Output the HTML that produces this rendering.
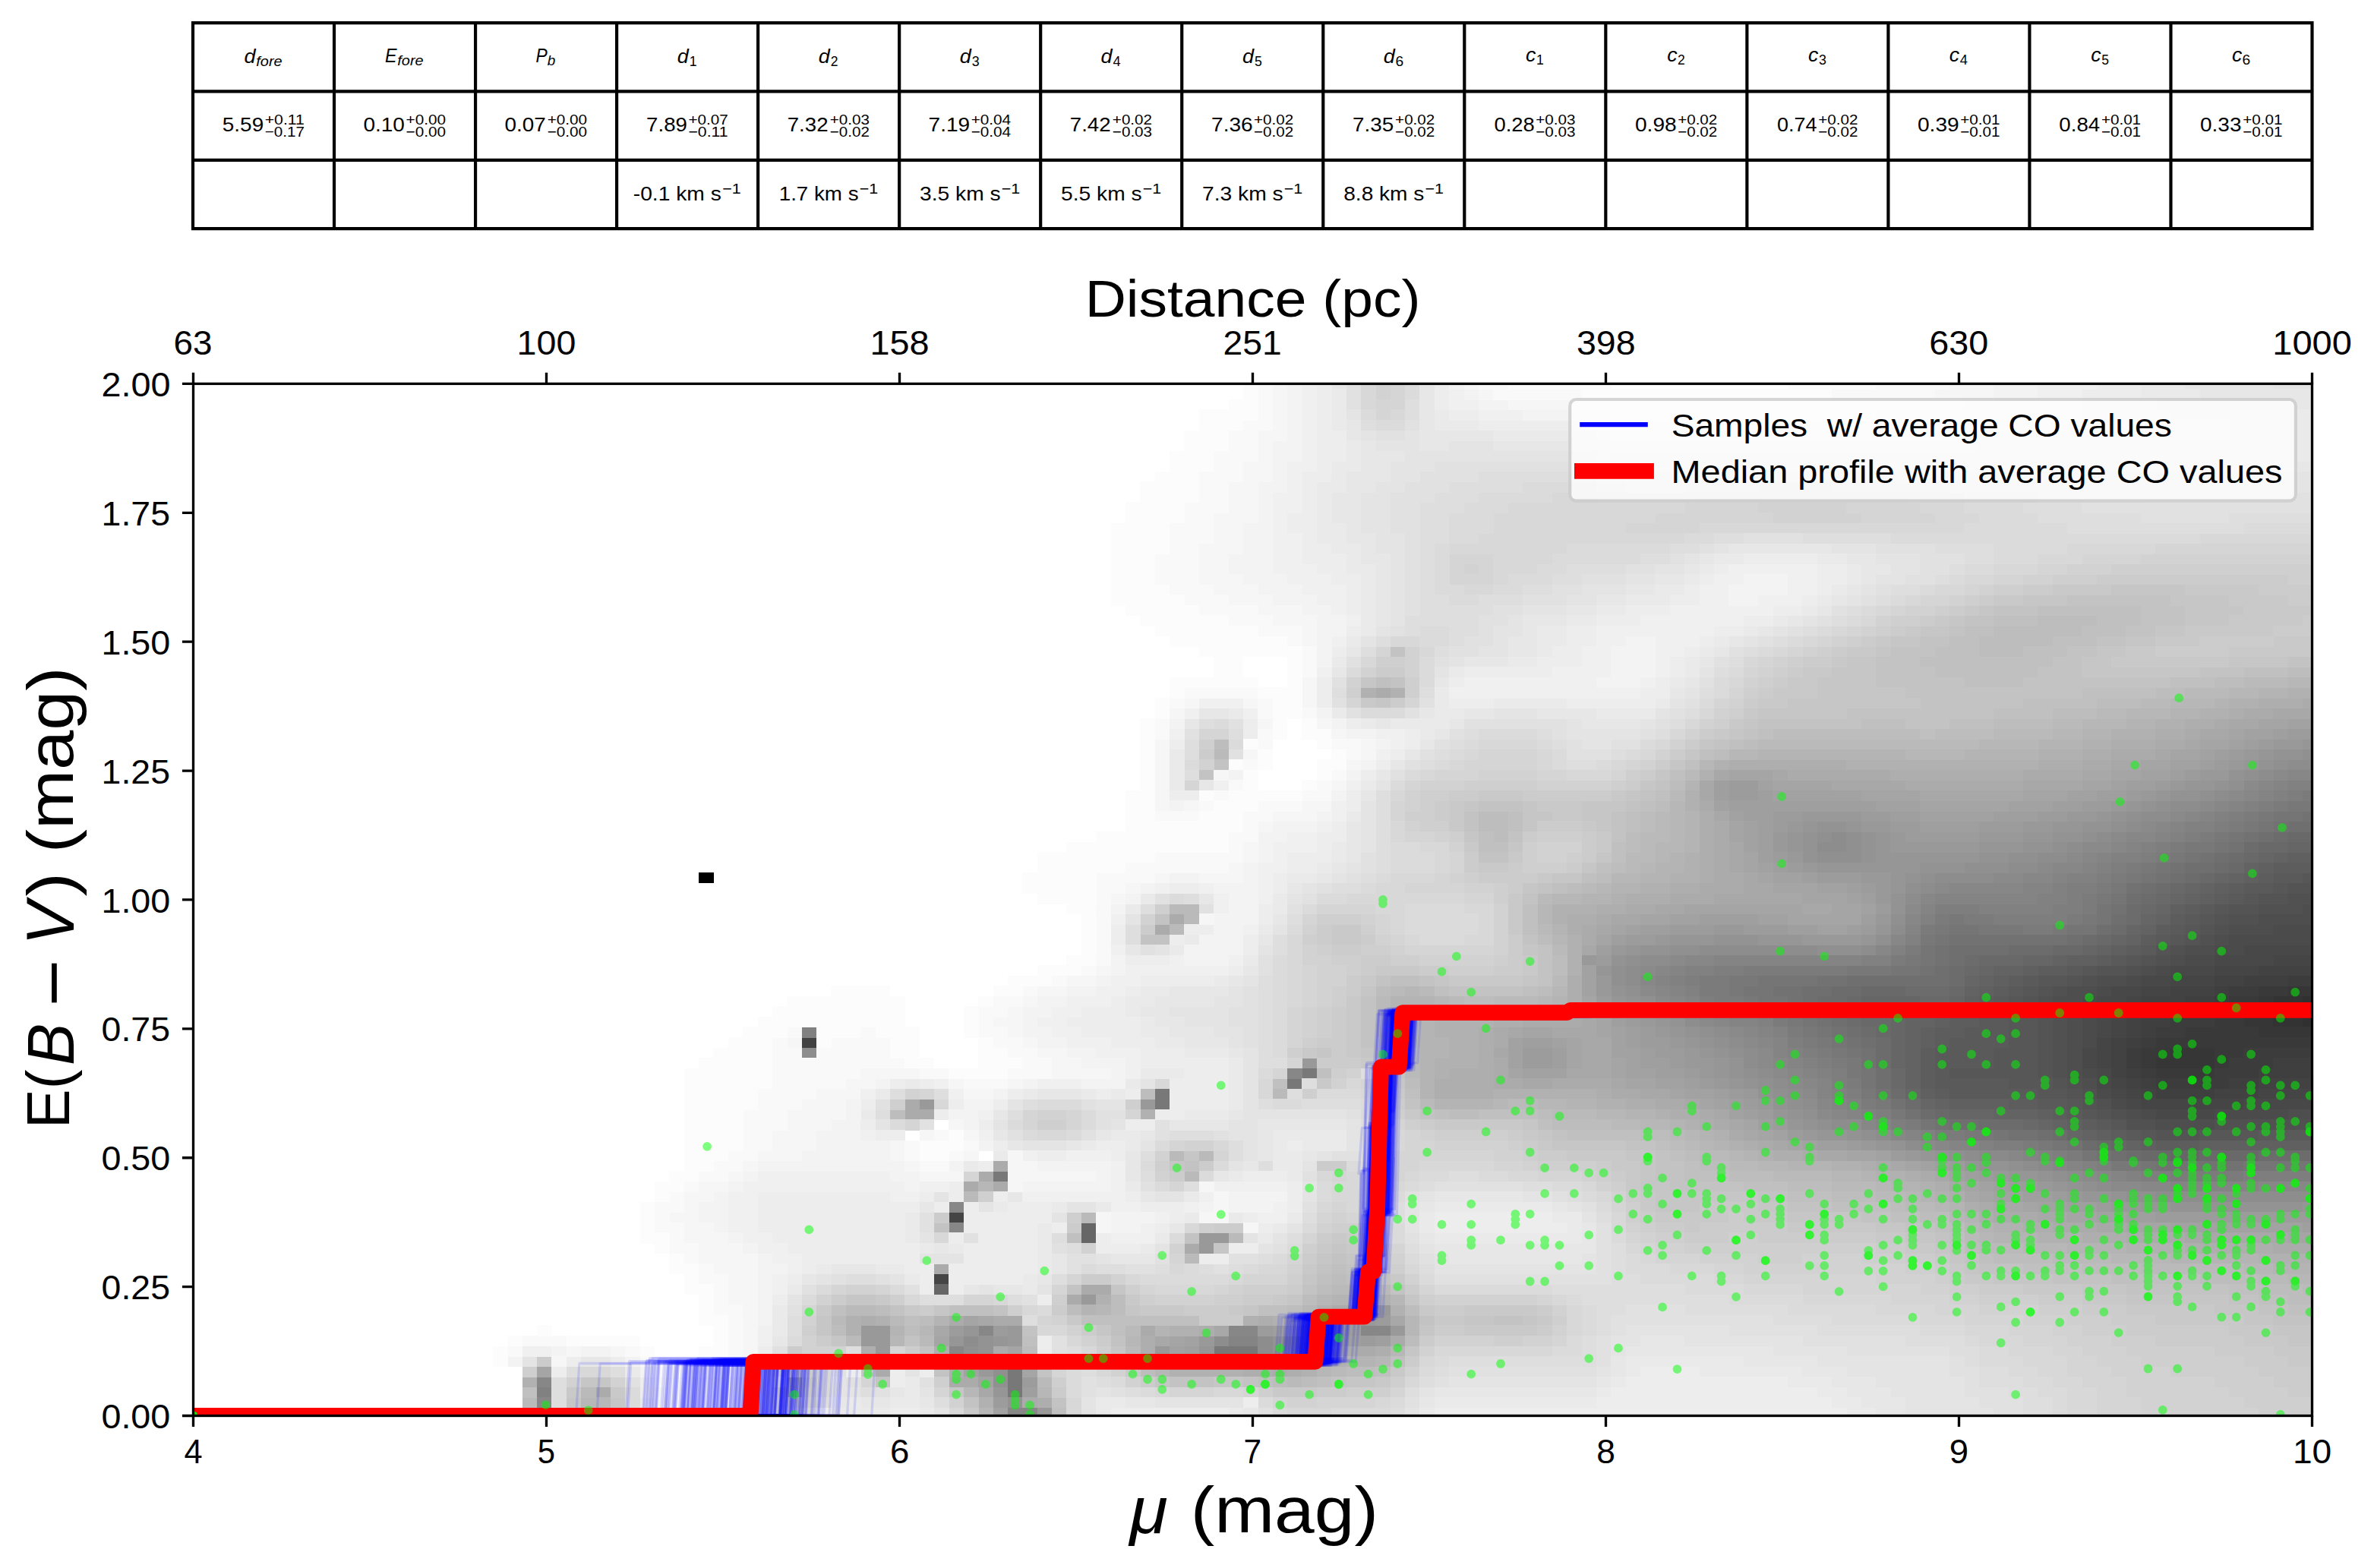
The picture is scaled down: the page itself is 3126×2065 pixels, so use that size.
<!DOCTYPE html>
<html><head><meta charset="utf-8"><title>E(B-V) vs distance modulus</title>
<style>html,body{margin:0;padding:0;background:#fff}svg{display:block}text{font-family:"Liberation Sans",sans-serif;fill:#000;white-space:pre}</style></head>
<body>
<svg width="3126" height="2065" viewBox="0 0 3126 2065">
<rect width="3126" height="2065" fill="#fff"/>
<defs><clipPath id="ax"><rect x="254.50" y="505.40" width="2790.00" height="1359.10"/></clipPath></defs>
<g clip-path="url(#ax)">
<g shape-rendering="crispEdges"><path fill="#000000" d="M920.0 1149.2h19.7v14.2h-19.7z"/>
<path fill="#303030" d="M3031.9 1338.9h19.7v14.2h-19.7zM3012.5 1325.3h39.0v14.2h-39.0zM3031.9 1311.8h19.7v14.2h-19.7z"/>
<path fill="#333333" d="M2993.2 1338.9h39.0v14.2h-39.0zM2973.8 1325.3h39.0v14.2h-39.0zM2993.2 1311.8h39.0v14.2h-39.0z"/>
<path fill="#363636" d="M2838.2 1393.1h77.8v14.2h-77.8zM2857.5 1379.5h58.4v14.2h-58.4zM2973.8 1352.4h77.8v14.2h-77.8zM2954.4 1338.9h39.0v14.2h-39.0zM2954.4 1325.3h19.7v14.2h-19.7zM2973.8 1311.8h19.7v14.2h-19.7zM3012.5 1298.2h39.0v14.2h-39.0z"/>
<path fill="#393939" d="M2838.2 1406.6h77.8v14.2h-77.8zM2818.8 1393.1h19.7v14.2h-19.7zM2915.7 1393.1h19.7v14.2h-19.7zM2818.8 1379.5h39.0v14.2h-39.0zM2915.7 1379.5h39.0v14.2h-39.0zM2838.2 1366.0h213.4v14.2h-213.4zM2876.9 1352.4h97.2v14.2h-97.2zM2915.7 1338.9h39.0v14.2h-39.0zM2935.0 1325.3h19.7v14.2h-19.7zM2935.0 1311.8h39.0v14.2h-39.0zM2973.8 1298.2h39.0v14.2h-39.0z"/>
<path fill="#3c3c3c" d="M2838.2 1420.2h97.2v14.2h-97.2zM2818.8 1406.6h19.7v14.2h-19.7zM2915.7 1406.6h58.4v14.2h-58.4zM2799.4 1393.1h19.7v14.2h-19.7zM2935.0 1393.1h58.4v14.2h-58.4zM2799.4 1379.5h19.7v14.2h-19.7zM2954.4 1379.5h97.2v14.2h-97.2zM2818.8 1366.0h19.7v14.2h-19.7zM2838.2 1352.4h39.0v14.2h-39.0zM2857.5 1338.9h58.4v14.2h-58.4zM2876.9 1325.3h58.4v14.2h-58.4zM2915.7 1311.8h19.7v14.2h-19.7zM2935.0 1298.2h39.0v14.2h-39.0zM3012.5 1284.7h39.0v14.2h-39.0z"/>
<path fill="#3f3f3f" d="M2838.2 1433.7h77.8v14.2h-77.8zM2818.8 1420.2h19.7v14.2h-19.7zM2935.0 1420.2h39.0v14.2h-39.0zM2799.4 1406.6h19.7v14.2h-19.7zM2973.8 1406.6h77.8v14.2h-77.8zM2993.2 1393.1h58.4v14.2h-58.4zM2799.4 1366.0h19.7v14.2h-19.7zM2818.8 1352.4h19.7v14.2h-19.7zM2818.8 1338.9h39.0v14.2h-39.0zM2838.2 1325.3h39.0v14.2h-39.0zM2876.9 1311.8h39.0v14.2h-39.0zM2915.7 1298.2h19.7v14.2h-19.7zM2954.4 1284.7h58.4v14.2h-58.4z"/>
<path fill="#424242" d="M2818.8 1433.7h19.7v14.2h-19.7zM2915.7 1433.7h58.4v14.2h-58.4zM2799.4 1420.2h19.7v14.2h-19.7zM2973.8 1420.2h77.8v14.2h-77.8zM2780.0 1406.6h19.7v14.2h-19.7zM2780.0 1393.1h19.7v14.2h-19.7zM2780.0 1379.5h19.7v14.2h-19.7zM1055.7 1366.0h19.7v14.2h-19.7zM2780.0 1366.0h19.7v14.2h-19.7zM2799.4 1352.4h19.7v14.2h-19.7zM2799.4 1338.9h19.7v14.2h-19.7zM2818.8 1325.3h19.7v14.2h-19.7zM2818.8 1311.8h58.4v14.2h-58.4zM2857.5 1298.2h58.4v14.2h-58.4zM2915.7 1284.7h39.0v14.2h-39.0zM2973.8 1271.1h77.8v14.2h-77.8z"/>
<path fill="#454545" d="M1230.0 1677.6h19.7v14.2h-19.7zM1249.4 1596.3h19.7v14.2h-19.7zM2818.8 1447.3h135.9v14.2h-135.9zM2799.4 1433.7h19.7v14.2h-19.7zM2973.8 1433.7h77.8v14.2h-77.8zM2780.0 1420.2h19.7v14.2h-19.7zM2760.7 1393.1h19.7v14.2h-19.7zM2760.7 1379.5h19.7v14.2h-19.7zM2760.7 1366.0h19.7v14.2h-19.7zM2780.0 1352.4h19.7v14.2h-19.7zM2780.0 1338.9h19.7v14.2h-19.7zM2780.0 1325.3h39.0v14.2h-39.0zM2799.4 1311.8h19.7v14.2h-19.7zM2818.8 1298.2h39.0v14.2h-39.0zM2857.5 1284.7h58.4v14.2h-58.4zM2915.7 1271.1h58.4v14.2h-58.4zM2993.2 1257.6h58.4v14.2h-58.4z"/>
<path fill="#484848" d="M2838.2 1460.8h77.8v14.2h-77.8zM2799.4 1447.3h19.7v14.2h-19.7zM2954.4 1447.3h97.2v14.2h-97.2zM2780.0 1433.7h19.7v14.2h-19.7zM2760.7 1420.2h19.7v14.2h-19.7zM2760.7 1406.6h19.7v14.2h-19.7zM2741.3 1393.1h19.7v14.2h-19.7zM2741.3 1379.5h19.7v14.2h-19.7zM2760.7 1352.4h19.7v14.2h-19.7zM2760.7 1338.9h19.7v14.2h-19.7zM2760.7 1325.3h19.7v14.2h-19.7zM2760.7 1311.8h39.0v14.2h-39.0zM2780.0 1298.2h39.0v14.2h-39.0zM2818.8 1284.7h39.0v14.2h-39.0zM2857.5 1271.1h58.4v14.2h-58.4zM2915.7 1257.6h77.8v14.2h-77.8zM2954.4 1244.0h97.2v14.2h-97.2z"/>
<path fill="#4b4b4b" d="M2818.8 1460.8h19.7v14.2h-19.7zM2915.7 1460.8h97.2v14.2h-97.2zM2780.0 1447.3h19.7v14.2h-19.7zM2760.7 1433.7h19.7v14.2h-19.7zM2741.3 1406.6h19.7v14.2h-19.7zM2741.3 1366.0h19.7v14.2h-19.7zM2741.3 1352.4h19.7v14.2h-19.7zM2741.3 1338.9h19.7v14.2h-19.7zM2741.3 1325.3h19.7v14.2h-19.7zM2741.3 1311.8h19.7v14.2h-19.7zM2760.7 1298.2h19.7v14.2h-19.7zM2799.4 1284.7h19.7v14.2h-19.7zM2838.2 1271.1h19.7v14.2h-19.7zM2876.9 1257.6h39.0v14.2h-39.0zM2915.7 1244.0h39.0v14.2h-39.0zM2935.0 1230.5h116.5v14.2h-116.5zM2993.2 1216.9h58.4v14.2h-58.4z"/>
<path fill="#4e4e4e" d="M2838.2 1474.4h77.8v14.2h-77.8zM2799.4 1460.8h19.7v14.2h-19.7zM3012.5 1460.8h39.0v14.2h-39.0zM2741.3 1420.2h19.7v14.2h-19.7zM2721.9 1406.6h19.7v14.2h-19.7zM2721.9 1393.1h19.7v14.2h-19.7zM2721.9 1379.5h19.7v14.2h-19.7zM2721.9 1366.0h19.7v14.2h-19.7zM2721.9 1352.4h19.7v14.2h-19.7zM2721.9 1338.9h19.7v14.2h-19.7zM2721.9 1325.3h19.7v14.2h-19.7zM2702.5 1311.8h39.0v14.2h-39.0zM2721.9 1298.2h39.0v14.2h-39.0zM2760.7 1284.7h39.0v14.2h-39.0zM2818.8 1271.1h19.7v14.2h-19.7zM2857.5 1257.6h19.7v14.2h-19.7zM2876.9 1244.0h39.0v14.2h-39.0zM2915.7 1230.5h19.7v14.2h-19.7zM2935.0 1216.9h58.4v14.2h-58.4zM2973.8 1203.4h77.8v14.2h-77.8zM3031.9 1189.8h19.7v14.2h-19.7z"/>
<path fill="#515151" d="M2799.4 1474.4h39.0v14.2h-39.0zM2915.7 1474.4h135.9v14.2h-135.9zM2780.0 1460.8h19.7v14.2h-19.7zM2760.7 1447.3h19.7v14.2h-19.7zM2741.3 1433.7h19.7v14.2h-19.7zM2721.9 1420.2h19.7v14.2h-19.7zM2702.5 1406.6h19.7v14.2h-19.7zM2702.5 1393.1h19.7v14.2h-19.7zM2702.5 1379.5h19.7v14.2h-19.7zM2702.5 1366.0h19.7v14.2h-19.7zM2702.5 1352.4h19.7v14.2h-19.7zM2702.5 1338.9h19.7v14.2h-19.7zM2683.2 1325.3h39.0v14.2h-39.0zM2683.2 1311.8h19.7v14.2h-19.7zM2702.5 1298.2h19.7v14.2h-19.7zM2741.3 1284.7h19.7v14.2h-19.7zM2799.4 1271.1h19.7v14.2h-19.7zM2838.2 1257.6h19.7v14.2h-19.7zM2857.5 1244.0h19.7v14.2h-19.7zM2896.3 1230.5h19.7v14.2h-19.7zM2915.7 1216.9h19.7v14.2h-19.7zM2935.0 1203.4h39.0v14.2h-39.0zM2973.8 1189.8h58.4v14.2h-58.4zM3012.5 1176.3h39.0v14.2h-39.0z"/>
<path fill="#545454" d="M2838.2 1487.9h58.4v14.2h-58.4zM2760.7 1460.8h19.7v14.2h-19.7zM2741.3 1447.3h19.7v14.2h-19.7zM2721.9 1433.7h19.7v14.2h-19.7zM2702.5 1420.2h19.7v14.2h-19.7zM2683.2 1406.6h19.7v14.2h-19.7zM2683.2 1393.1h19.7v14.2h-19.7zM2683.2 1379.5h19.7v14.2h-19.7zM2683.2 1366.0h19.7v14.2h-19.7zM2683.2 1352.4h19.7v14.2h-19.7zM2683.2 1338.9h19.7v14.2h-19.7zM2663.8 1325.3h19.7v14.2h-19.7zM2663.8 1311.8h19.7v14.2h-19.7zM2683.2 1298.2h19.7v14.2h-19.7zM2721.9 1284.7h19.7v14.2h-19.7zM2760.7 1271.1h39.0v14.2h-39.0zM2818.8 1257.6h19.7v14.2h-19.7zM2838.2 1244.0h19.7v14.2h-19.7zM2876.9 1230.5h19.7v14.2h-19.7zM2896.3 1216.9h19.7v14.2h-19.7zM2915.7 1203.4h19.7v14.2h-19.7zM2935.0 1189.8h39.0v14.2h-39.0zM2973.8 1176.3h39.0v14.2h-39.0zM3012.5 1162.7h39.0v14.2h-39.0z"/>
<path fill="#575757" d="M2818.8 1487.9h19.7v14.2h-19.7zM2896.3 1487.9h77.8v14.2h-77.8zM2780.0 1474.4h19.7v14.2h-19.7zM2741.3 1460.8h19.7v14.2h-19.7zM2721.9 1447.3h19.7v14.2h-19.7zM2683.2 1433.7h39.0v14.2h-39.0zM2644.4 1420.2h58.4v14.2h-58.4zM2566.9 1406.6h116.5v14.2h-116.5zM2625.0 1393.1h58.4v14.2h-58.4zM2625.0 1379.5h58.4v14.2h-58.4zM2644.4 1366.0h39.0v14.2h-39.0zM2644.4 1352.4h39.0v14.2h-39.0zM2644.4 1338.9h39.0v14.2h-39.0zM2644.4 1325.3h19.7v14.2h-19.7zM2644.4 1311.8h19.7v14.2h-19.7zM2663.8 1298.2h19.7v14.2h-19.7zM2683.2 1284.7h39.0v14.2h-39.0zM2741.3 1271.1h19.7v14.2h-19.7zM2799.4 1257.6h19.7v14.2h-19.7zM2857.5 1230.5h19.7v14.2h-19.7zM2876.9 1216.9h19.7v14.2h-19.7zM2896.3 1203.4h19.7v14.2h-19.7zM2915.7 1189.8h19.7v14.2h-19.7zM2954.4 1176.3h19.7v14.2h-19.7zM2993.2 1162.7h19.7v14.2h-19.7zM3031.9 1149.2h19.7v14.2h-19.7z"/>
<path fill="#5a5a5a" d="M2799.4 1487.9h19.7v14.2h-19.7zM2973.8 1487.9h77.8v14.2h-77.8zM2760.7 1474.4h19.7v14.2h-19.7zM2721.9 1460.8h19.7v14.2h-19.7zM2683.2 1447.3h39.0v14.2h-39.0zM2566.9 1433.7h116.5v14.2h-116.5zM2547.5 1420.2h97.2v14.2h-97.2zM2547.5 1406.6h19.7v14.2h-19.7zM2547.5 1393.1h77.8v14.2h-77.8zM2547.5 1379.5h77.8v14.2h-77.8zM2566.9 1366.0h77.8v14.2h-77.8zM2586.3 1352.4h58.4v14.2h-58.4zM2605.7 1338.9h39.0v14.2h-39.0zM2625.0 1325.3h19.7v14.2h-19.7zM2625.0 1311.8h19.7v14.2h-19.7zM2644.4 1298.2h19.7v14.2h-19.7zM2663.8 1284.7h19.7v14.2h-19.7zM2721.9 1271.1h19.7v14.2h-19.7zM2780.0 1257.6h19.7v14.2h-19.7zM2818.8 1244.0h19.7v14.2h-19.7zM2838.2 1230.5h19.7v14.2h-19.7zM2857.5 1216.9h19.7v14.2h-19.7zM2876.9 1203.4h19.7v14.2h-19.7zM2896.3 1189.8h19.7v14.2h-19.7zM2935.0 1176.3h19.7v14.2h-19.7zM2954.4 1162.7h39.0v14.2h-39.0zM2993.2 1149.2h39.0v14.2h-39.0z"/>
<path fill="#5d5d5d" d="M2838.2 1501.5h58.4v14.2h-58.4zM2780.0 1487.9h19.7v14.2h-19.7zM2741.3 1474.4h19.7v14.2h-19.7zM2702.5 1460.8h19.7v14.2h-19.7zM2644.4 1447.3h39.0v14.2h-39.0zM2547.5 1433.7h19.7v14.2h-19.7zM2528.2 1420.2h19.7v14.2h-19.7zM2528.2 1406.6h19.7v14.2h-19.7zM2528.2 1393.1h19.7v14.2h-19.7zM2528.2 1379.5h19.7v14.2h-19.7zM2547.5 1366.0h19.7v14.2h-19.7zM2547.5 1352.4h39.0v14.2h-39.0zM2566.9 1338.9h39.0v14.2h-39.0zM2605.7 1325.3h19.7v14.2h-19.7zM2605.7 1311.8h19.7v14.2h-19.7zM2625.0 1298.2h19.7v14.2h-19.7zM2644.4 1284.7h19.7v14.2h-19.7zM2683.2 1271.1h39.0v14.2h-39.0zM2760.7 1257.6h19.7v14.2h-19.7zM2799.4 1244.0h19.7v14.2h-19.7zM2818.8 1230.5h19.7v14.2h-19.7zM2838.2 1216.9h19.7v14.2h-19.7zM2857.5 1203.4h19.7v14.2h-19.7zM2876.9 1189.8h19.7v14.2h-19.7zM2915.7 1176.3h19.7v14.2h-19.7zM2935.0 1162.7h19.7v14.2h-19.7zM2973.8 1149.2h19.7v14.2h-19.7zM2993.2 1135.6h58.4v14.2h-58.4z"/>
<path fill="#606060" d="M2818.8 1501.5h19.7v14.2h-19.7zM2896.3 1501.5h155.3v14.2h-155.3zM2760.7 1487.9h19.7v14.2h-19.7zM2721.9 1474.4h19.7v14.2h-19.7zM2683.2 1460.8h19.7v14.2h-19.7zM2566.9 1447.3h77.8v14.2h-77.8zM2528.2 1433.7h19.7v14.2h-19.7zM2528.2 1366.0h19.7v14.2h-19.7zM2528.2 1352.4h19.7v14.2h-19.7zM2547.5 1338.9h19.7v14.2h-19.7zM2586.3 1325.3h19.7v14.2h-19.7zM2586.3 1311.8h19.7v14.2h-19.7zM2605.7 1298.2h19.7v14.2h-19.7zM2625.0 1284.7h19.7v14.2h-19.7zM2663.8 1271.1h19.7v14.2h-19.7zM2721.9 1257.6h39.0v14.2h-39.0zM2780.0 1244.0h19.7v14.2h-19.7zM2857.5 1189.8h19.7v14.2h-19.7zM2896.3 1176.3h19.7v14.2h-19.7zM2915.7 1162.7h19.7v14.2h-19.7zM2954.4 1149.2h19.7v14.2h-19.7zM2973.8 1135.6h19.7v14.2h-19.7zM3012.5 1122.1h39.0v14.2h-39.0z"/>
<path fill="#636363" d="M2799.4 1501.5h19.7v14.2h-19.7zM2741.3 1487.9h19.7v14.2h-19.7zM2702.5 1474.4h19.7v14.2h-19.7zM2625.0 1460.8h58.4v14.2h-58.4zM2547.5 1447.3h19.7v14.2h-19.7zM2508.8 1420.2h19.7v14.2h-19.7zM2508.8 1406.6h19.7v14.2h-19.7zM2508.8 1393.1h19.7v14.2h-19.7zM2508.8 1379.5h19.7v14.2h-19.7zM2508.8 1366.0h19.7v14.2h-19.7zM2508.8 1352.4h19.7v14.2h-19.7zM2508.8 1338.9h39.0v14.2h-39.0zM2547.5 1325.3h39.0v14.2h-39.0zM2586.3 1298.2h19.7v14.2h-19.7zM2605.7 1284.7h19.7v14.2h-19.7zM2625.0 1271.1h39.0v14.2h-39.0zM2702.5 1257.6h19.7v14.2h-19.7zM2760.7 1244.0h19.7v14.2h-19.7zM2799.4 1230.5h19.7v14.2h-19.7zM2818.8 1216.9h19.7v14.2h-19.7zM2838.2 1203.4h19.7v14.2h-19.7zM2876.9 1176.3h19.7v14.2h-19.7zM2896.3 1162.7h19.7v14.2h-19.7zM2935.0 1149.2h19.7v14.2h-19.7zM2954.4 1135.6h19.7v14.2h-19.7zM2993.2 1122.1h19.7v14.2h-19.7z"/>
<path fill="#666666" d="M1230.0 1691.2h19.7v14.2h-19.7zM1423.8 1623.4h19.7v14.2h-19.7zM1423.8 1609.9h19.7v14.2h-19.7zM2857.5 1515.0h39.0v14.2h-39.0zM2780.0 1501.5h19.7v14.2h-19.7zM2721.9 1487.9h19.7v14.2h-19.7zM2683.2 1474.4h19.7v14.2h-19.7zM2566.9 1460.8h58.4v14.2h-58.4zM2528.2 1447.3h19.7v14.2h-19.7zM2508.8 1433.7h19.7v14.2h-19.7zM2489.4 1393.1h19.7v14.2h-19.7zM2489.4 1379.5h19.7v14.2h-19.7zM2489.4 1366.0h19.7v14.2h-19.7zM2489.4 1352.4h19.7v14.2h-19.7zM2489.4 1338.9h19.7v14.2h-19.7zM2470.0 1325.3h77.8v14.2h-77.8zM2450.7 1311.8h77.8v14.2h-77.8zM2566.9 1311.8h19.7v14.2h-19.7zM2586.3 1284.7h19.7v14.2h-19.7zM2605.7 1271.1h19.7v14.2h-19.7zM2663.8 1257.6h39.0v14.2h-39.0zM2741.3 1244.0h19.7v14.2h-19.7zM2780.0 1230.5h19.7v14.2h-19.7zM2799.4 1216.9h19.7v14.2h-19.7zM2818.8 1203.4h19.7v14.2h-19.7zM2838.2 1189.8h19.7v14.2h-19.7zM2857.5 1176.3h19.7v14.2h-19.7zM2876.9 1162.7h19.7v14.2h-19.7zM2915.7 1149.2h19.7v14.2h-19.7zM2973.8 1122.1h19.7v14.2h-19.7zM3012.5 1108.5h39.0v14.2h-39.0z"/>
<path fill="#696969" d="M2818.8 1515.0h39.0v14.2h-39.0zM2896.3 1515.0h77.8v14.2h-77.8zM2760.7 1501.5h19.7v14.2h-19.7zM2663.8 1474.4h19.7v14.2h-19.7zM2547.5 1460.8h19.7v14.2h-19.7zM2489.4 1420.2h19.7v14.2h-19.7zM2489.4 1406.6h19.7v14.2h-19.7zM2470.0 1352.4h19.7v14.2h-19.7zM2450.7 1338.9h39.0v14.2h-39.0zM2431.3 1325.3h39.0v14.2h-39.0zM2431.3 1311.8h19.7v14.2h-19.7zM2528.2 1311.8h39.0v14.2h-39.0zM2450.7 1298.2h58.4v14.2h-58.4zM2566.9 1298.2h19.7v14.2h-19.7zM2586.3 1271.1h19.7v14.2h-19.7zM2605.7 1257.6h58.4v14.2h-58.4zM2702.5 1244.0h39.0v14.2h-39.0zM2760.7 1230.5h19.7v14.2h-19.7zM2818.8 1189.8h19.7v14.2h-19.7zM2838.2 1176.3h19.7v14.2h-19.7zM2857.5 1162.7h19.7v14.2h-19.7zM2896.3 1149.2h19.7v14.2h-19.7zM2935.0 1135.6h19.7v14.2h-19.7zM2954.4 1122.1h19.7v14.2h-19.7zM2973.8 1108.5h39.0v14.2h-39.0zM3012.5 1095.0h39.0v14.2h-39.0z"/>
<path fill="#6c6c6c" d="M2799.4 1515.0h19.7v14.2h-19.7zM2973.8 1515.0h77.8v14.2h-77.8zM2741.3 1501.5h19.7v14.2h-19.7zM2702.5 1487.9h19.7v14.2h-19.7zM2605.7 1474.4h58.4v14.2h-58.4zM2528.2 1460.8h19.7v14.2h-19.7zM2508.8 1447.3h19.7v14.2h-19.7zM2489.4 1433.7h19.7v14.2h-19.7zM2470.0 1393.1h19.7v14.2h-19.7zM2470.0 1379.5h19.7v14.2h-19.7zM2470.0 1366.0h19.7v14.2h-19.7zM2450.7 1352.4h19.7v14.2h-19.7zM2431.3 1338.9h19.7v14.2h-19.7zM2411.9 1325.3h19.7v14.2h-19.7zM2392.5 1311.8h39.0v14.2h-39.0zM2411.9 1298.2h39.0v14.2h-39.0zM2508.8 1298.2h58.4v14.2h-58.4zM2566.9 1284.7h19.7v14.2h-19.7zM2566.9 1271.1h19.7v14.2h-19.7zM2586.3 1257.6h19.7v14.2h-19.7zM2644.4 1244.0h58.4v14.2h-58.4zM2741.3 1230.5h19.7v14.2h-19.7zM2780.0 1216.9h19.7v14.2h-19.7zM2799.4 1203.4h19.7v14.2h-19.7zM2799.4 1189.8h19.7v14.2h-19.7zM2818.8 1176.3h19.7v14.2h-19.7zM2838.2 1162.7h19.7v14.2h-19.7zM2876.9 1149.2h19.7v14.2h-19.7zM2915.7 1135.6h19.7v14.2h-19.7zM2935.0 1122.1h19.7v14.2h-19.7zM2954.4 1108.5h19.7v14.2h-19.7zM2993.2 1095.0h19.7v14.2h-19.7z"/>
<path fill="#6f6f6f" d="M2780.0 1515.0h19.7v14.2h-19.7zM2683.2 1487.9h19.7v14.2h-19.7zM2566.9 1474.4h39.0v14.2h-39.0zM2470.0 1420.2h19.7v14.2h-19.7zM2470.0 1406.6h19.7v14.2h-19.7zM2450.7 1366.0h19.7v14.2h-19.7zM2431.3 1352.4h19.7v14.2h-19.7zM2411.9 1338.9h19.7v14.2h-19.7zM2392.5 1325.3h19.7v14.2h-19.7zM2373.2 1311.8h19.7v14.2h-19.7zM2373.2 1298.2h39.0v14.2h-39.0zM2431.3 1284.7h135.9v14.2h-135.9zM2547.5 1271.1h19.7v14.2h-19.7zM2566.9 1257.6h19.7v14.2h-19.7zM2566.9 1244.0h77.8v14.2h-77.8zM2721.9 1230.5h19.7v14.2h-19.7zM2760.7 1216.9h19.7v14.2h-19.7zM2780.0 1203.4h19.7v14.2h-19.7zM2799.4 1176.3h19.7v14.2h-19.7zM2818.8 1162.7h19.7v14.2h-19.7zM2857.5 1149.2h19.7v14.2h-19.7zM2876.9 1135.6h39.0v14.2h-39.0zM2915.7 1122.1h19.7v14.2h-19.7zM2973.8 1095.0h19.7v14.2h-19.7zM3012.5 1081.4h39.0v14.2h-39.0z"/>
<path fill="#727272" d="M2838.2 1528.6h116.5v14.2h-116.5zM2760.7 1515.0h19.7v14.2h-19.7zM2721.9 1501.5h19.7v14.2h-19.7zM2644.4 1487.9h39.0v14.2h-39.0zM2547.5 1474.4h19.7v14.2h-19.7zM2508.8 1460.8h19.7v14.2h-19.7zM2489.4 1447.3h19.7v14.2h-19.7zM2470.0 1433.7h19.7v14.2h-19.7zM2450.7 1393.1h19.7v14.2h-19.7zM2450.7 1379.5h19.7v14.2h-19.7zM2431.3 1366.0h19.7v14.2h-19.7zM2411.9 1352.4h19.7v14.2h-19.7zM2392.5 1338.9h19.7v14.2h-19.7zM2373.2 1325.3h19.7v14.2h-19.7zM2353.8 1311.8h19.7v14.2h-19.7zM2334.4 1298.2h39.0v14.2h-39.0zM2392.5 1284.7h39.0v14.2h-39.0zM2528.2 1271.1h19.7v14.2h-19.7zM2547.5 1257.6h19.7v14.2h-19.7zM2547.5 1244.0h19.7v14.2h-19.7zM2566.9 1230.5h155.3v14.2h-155.3zM2780.0 1189.8h19.7v14.2h-19.7zM2799.4 1162.7h19.7v14.2h-19.7zM2838.2 1149.2h19.7v14.2h-19.7zM2857.5 1135.6h19.7v14.2h-19.7zM2896.3 1122.1h19.7v14.2h-19.7zM2935.0 1108.5h19.7v14.2h-19.7zM2954.4 1095.0h19.7v14.2h-19.7zM2993.2 1081.4h19.7v14.2h-19.7zM3031.9 1067.9h19.7v14.2h-19.7z"/>
<path fill="#757575" d="M2818.8 1528.6h19.7v14.2h-19.7zM2954.4 1528.6h97.2v14.2h-97.2zM2741.3 1515.0h19.7v14.2h-19.7zM2702.5 1501.5h19.7v14.2h-19.7zM2625.0 1487.9h19.7v14.2h-19.7zM2528.2 1474.4h19.7v14.2h-19.7zM2450.7 1420.2h19.7v14.2h-19.7zM2450.7 1406.6h19.7v14.2h-19.7zM2431.3 1379.5h19.7v14.2h-19.7zM2411.9 1366.0h19.7v14.2h-19.7zM2392.5 1352.4h19.7v14.2h-19.7zM2373.2 1338.9h19.7v14.2h-19.7zM2353.8 1325.3h19.7v14.2h-19.7zM2315.0 1311.8h39.0v14.2h-39.0zM2295.7 1298.2h39.0v14.2h-39.0zM2315.0 1284.7h77.8v14.2h-77.8zM2489.4 1271.1h39.0v14.2h-39.0zM2528.2 1257.6h19.7v14.2h-19.7zM2528.2 1244.0h19.7v14.2h-19.7zM2547.5 1230.5h19.7v14.2h-19.7zM2566.9 1216.9h39.0v14.2h-39.0zM2721.9 1216.9h39.0v14.2h-39.0zM2760.7 1203.4h19.7v14.2h-19.7zM2760.7 1189.8h19.7v14.2h-19.7zM2780.0 1176.3h19.7v14.2h-19.7zM2818.8 1149.2h19.7v14.2h-19.7zM2838.2 1135.6h19.7v14.2h-19.7zM2876.9 1122.1h19.7v14.2h-19.7zM2915.7 1108.5h19.7v14.2h-19.7zM2935.0 1095.0h19.7v14.2h-19.7zM2973.8 1081.4h19.7v14.2h-19.7zM2993.2 1067.9h39.0v14.2h-39.0z"/>
<path fill="#787878" d="M1326.9 1826.7h19.7v14.2h-19.7zM1326.9 1813.1h19.7v14.2h-19.7zM1326.9 1799.6h19.7v14.2h-19.7zM1598.2 1772.5h58.4v14.2h-58.4zM1307.5 1542.1h19.7v14.2h-19.7zM2780.0 1528.6h39.0v14.2h-39.0zM2683.2 1501.5h19.7v14.2h-19.7zM2586.3 1487.9h39.0v14.2h-39.0zM2489.4 1460.8h19.7v14.2h-19.7zM1520.7 1447.3h19.7v14.2h-19.7zM2470.0 1447.3h19.7v14.2h-19.7zM1520.7 1433.7h19.7v14.2h-19.7zM2450.7 1433.7h19.7v14.2h-19.7zM1695.0 1420.2h19.7v14.2h-19.7zM1714.4 1406.6h19.7v14.2h-19.7zM2431.3 1406.6h19.7v14.2h-19.7zM2431.3 1393.1h19.7v14.2h-19.7zM2411.9 1379.5h19.7v14.2h-19.7zM2392.5 1366.0h19.7v14.2h-19.7zM2373.2 1352.4h19.7v14.2h-19.7zM2353.8 1338.9h19.7v14.2h-19.7zM2334.4 1325.3h19.7v14.2h-19.7zM2295.7 1311.8h19.7v14.2h-19.7zM2276.3 1298.2h19.7v14.2h-19.7zM2276.3 1284.7h39.0v14.2h-39.0zM2431.3 1271.1h58.4v14.2h-58.4zM2508.8 1257.6h19.7v14.2h-19.7zM2528.2 1230.5h19.7v14.2h-19.7zM2547.5 1216.9h19.7v14.2h-19.7zM2605.7 1216.9h58.4v14.2h-58.4zM2702.5 1216.9h19.7v14.2h-19.7zM2566.9 1203.4h19.7v14.2h-19.7zM2741.3 1203.4h19.7v14.2h-19.7zM2760.7 1176.3h19.7v14.2h-19.7zM2780.0 1162.7h19.7v14.2h-19.7zM2799.4 1149.2h19.7v14.2h-19.7zM2818.8 1135.6h19.7v14.2h-19.7zM2857.5 1122.1h19.7v14.2h-19.7zM2876.9 1108.5h39.0v14.2h-39.0zM2915.7 1095.0h19.7v14.2h-19.7zM2954.4 1081.4h19.7v14.2h-19.7zM2973.8 1067.9h19.7v14.2h-19.7zM3012.5 1054.3h39.0v14.2h-39.0z"/>
<path fill="#7b7b7b" d="M2857.5 1542.1h97.2v14.2h-97.2zM2721.9 1515.0h19.7v14.2h-19.7zM2663.8 1501.5h19.7v14.2h-19.7zM2547.5 1487.9h39.0v14.2h-39.0zM2508.8 1474.4h19.7v14.2h-19.7zM2450.7 1447.3h19.7v14.2h-19.7zM2431.3 1420.2h19.7v14.2h-19.7zM2411.9 1393.1h19.7v14.2h-19.7zM2392.5 1379.5h19.7v14.2h-19.7zM2373.2 1366.0h19.7v14.2h-19.7zM2353.8 1352.4h19.7v14.2h-19.7zM2334.4 1338.9h19.7v14.2h-19.7zM2315.0 1325.3h19.7v14.2h-19.7zM2256.9 1311.8h39.0v14.2h-39.0zM2237.5 1298.2h39.0v14.2h-39.0zM2237.5 1284.7h39.0v14.2h-39.0zM2295.7 1271.1h135.9v14.2h-135.9zM2489.4 1257.6h19.7v14.2h-19.7zM2508.8 1244.0h19.7v14.2h-19.7zM2528.2 1216.9h19.7v14.2h-19.7zM2663.8 1216.9h39.0v14.2h-39.0zM2547.5 1203.4h19.7v14.2h-19.7zM2586.3 1203.4h39.0v14.2h-39.0zM2721.9 1203.4h19.7v14.2h-19.7zM2741.3 1189.8h19.7v14.2h-19.7zM2741.3 1176.3h19.7v14.2h-19.7zM2760.7 1162.7h19.7v14.2h-19.7zM2780.0 1149.2h19.7v14.2h-19.7zM2799.4 1135.6h19.7v14.2h-19.7zM2838.2 1122.1h19.7v14.2h-19.7zM2857.5 1108.5h19.7v14.2h-19.7zM2896.3 1095.0h19.7v14.2h-19.7zM2935.0 1081.4h19.7v14.2h-19.7zM2954.4 1067.9h19.7v14.2h-19.7zM2993.2 1054.3h19.7v14.2h-19.7zM3031.9 1040.8h19.7v14.2h-19.7z"/>
<path fill="#7e7e7e" d="M2818.8 1542.1h39.0v14.2h-39.0zM2954.4 1542.1h97.2v14.2h-97.2zM2760.7 1528.6h19.7v14.2h-19.7zM2702.5 1515.0h19.7v14.2h-19.7zM2625.0 1501.5h39.0v14.2h-39.0zM2489.4 1474.4h19.7v14.2h-19.7zM2470.0 1460.8h19.7v14.2h-19.7zM2431.3 1433.7h19.7v14.2h-19.7zM2411.9 1420.2h19.7v14.2h-19.7zM2411.9 1406.6h19.7v14.2h-19.7zM2392.5 1393.1h19.7v14.2h-19.7zM2373.2 1379.5h19.7v14.2h-19.7zM2353.8 1366.0h19.7v14.2h-19.7zM2276.3 1325.3h39.0v14.2h-39.0zM2237.5 1311.8h19.7v14.2h-19.7zM2218.2 1284.7h19.7v14.2h-19.7zM2256.9 1271.1h39.0v14.2h-39.0zM2625.0 1203.4h97.2v14.2h-97.2zM2547.5 1189.8h58.4v14.2h-58.4zM2702.5 1189.8h39.0v14.2h-39.0zM2721.9 1176.3h19.7v14.2h-19.7zM2721.9 1162.7h39.0v14.2h-39.0zM2760.7 1149.2h19.7v14.2h-19.7zM2780.0 1135.6h19.7v14.2h-19.7zM2818.8 1122.1h19.7v14.2h-19.7zM2838.2 1108.5h19.7v14.2h-19.7zM2876.9 1095.0h19.7v14.2h-19.7zM2915.7 1081.4h19.7v14.2h-19.7zM2935.0 1067.9h19.7v14.2h-19.7zM2973.8 1054.3h19.7v14.2h-19.7zM3012.5 1040.8h19.7v14.2h-19.7z"/>
<path fill="#818181" d="M706.9 1826.7h19.7v14.2h-19.7zM2799.4 1542.1h19.7v14.2h-19.7zM2741.3 1528.6h19.7v14.2h-19.7zM2683.2 1515.0h19.7v14.2h-19.7zM2605.7 1501.5h19.7v14.2h-19.7zM2528.2 1487.9h19.7v14.2h-19.7zM2450.7 1460.8h19.7v14.2h-19.7zM2431.3 1447.3h19.7v14.2h-19.7zM2411.9 1433.7h19.7v14.2h-19.7zM2392.5 1406.6h19.7v14.2h-19.7zM2373.2 1393.1h19.7v14.2h-19.7zM2353.8 1379.5h19.7v14.2h-19.7zM1055.7 1352.4h19.7v14.2h-19.7zM2334.4 1352.4h19.7v14.2h-19.7zM2315.0 1338.9h19.7v14.2h-19.7zM2256.9 1325.3h19.7v14.2h-19.7zM2218.2 1298.2h19.7v14.2h-19.7zM2198.8 1284.7h19.7v14.2h-19.7zM2218.2 1271.1h39.0v14.2h-39.0zM2450.7 1257.6h39.0v14.2h-39.0zM2489.4 1244.0h19.7v14.2h-19.7zM2508.8 1230.5h19.7v14.2h-19.7zM2528.2 1203.4h19.7v14.2h-19.7zM2605.7 1189.8h97.2v14.2h-97.2zM2683.2 1176.3h39.0v14.2h-39.0zM2702.5 1162.7h19.7v14.2h-19.7zM2721.9 1149.2h39.0v14.2h-39.0zM2760.7 1135.6h19.7v14.2h-19.7zM2780.0 1122.1h39.0v14.2h-39.0zM2818.8 1108.5h19.7v14.2h-19.7zM2857.5 1095.0h19.7v14.2h-19.7zM2876.9 1081.4h39.0v14.2h-39.0zM2915.7 1067.9h19.7v14.2h-19.7zM2954.4 1054.3h19.7v14.2h-19.7zM2993.2 1040.8h19.7v14.2h-19.7zM3012.5 1027.2h39.0v14.2h-39.0z"/>
<path fill="#848484" d="M1617.5 1758.9h39.0v14.2h-39.0zM2857.5 1555.7h116.5v14.2h-116.5zM2780.0 1542.1h19.7v14.2h-19.7zM2721.9 1528.6h19.7v14.2h-19.7zM2663.8 1515.0h19.7v14.2h-19.7zM2566.9 1501.5h39.0v14.2h-39.0zM2508.8 1487.9h19.7v14.2h-19.7zM2470.0 1474.4h19.7v14.2h-19.7zM2431.3 1460.8h19.7v14.2h-19.7zM2411.9 1447.3h19.7v14.2h-19.7zM2392.5 1433.7h19.7v14.2h-19.7zM2392.5 1420.2h19.7v14.2h-19.7zM2373.2 1406.6h19.7v14.2h-19.7zM2353.8 1393.1h19.7v14.2h-19.7zM2334.4 1379.5h19.7v14.2h-19.7zM2334.4 1366.0h19.7v14.2h-19.7zM2315.0 1352.4h19.7v14.2h-19.7zM2276.3 1338.9h39.0v14.2h-39.0zM2237.5 1325.3h19.7v14.2h-19.7zM2218.2 1311.8h19.7v14.2h-19.7zM2198.8 1298.2h19.7v14.2h-19.7zM2179.4 1284.7h19.7v14.2h-19.7zM2198.8 1271.1h19.7v14.2h-19.7zM2256.9 1257.6h194.1v14.2h-194.1zM2508.8 1216.9h19.7v14.2h-19.7zM2528.2 1189.8h19.7v14.2h-19.7zM2547.5 1176.3h135.9v14.2h-135.9zM2663.8 1162.7h39.0v14.2h-39.0zM2702.5 1149.2h19.7v14.2h-19.7zM2741.3 1135.6h19.7v14.2h-19.7zM2760.7 1122.1h19.7v14.2h-19.7zM2799.4 1108.5h19.7v14.2h-19.7zM2838.2 1095.0h19.7v14.2h-19.7zM2857.5 1081.4h19.7v14.2h-19.7zM2896.3 1067.9h19.7v14.2h-19.7zM2935.0 1054.3h19.7v14.2h-19.7zM2973.8 1040.8h19.7v14.2h-19.7zM2993.2 1027.2h19.7v14.2h-19.7z"/>
<path fill="#878787" d="M1326.9 1853.8h39.0v14.2h-39.0zM706.9 1840.2h19.7v14.2h-19.7zM706.9 1813.1h19.7v14.2h-19.7zM1326.9 1786.0h19.7v14.2h-19.7zM1249.4 1772.5h19.7v14.2h-19.7zM1288.2 1745.4h19.7v14.2h-19.7zM1617.5 1745.4h39.0v14.2h-39.0zM1791.9 1745.4h39.0v14.2h-39.0zM1249.4 1609.9h19.7v14.2h-19.7zM1249.4 1582.8h19.7v14.2h-19.7zM2818.8 1555.7h39.0v14.2h-39.0zM2973.8 1555.7h77.8v14.2h-77.8zM2760.7 1542.1h19.7v14.2h-19.7zM2702.5 1528.6h19.7v14.2h-19.7zM2644.4 1515.0h19.7v14.2h-19.7zM2547.5 1501.5h19.7v14.2h-19.7zM2489.4 1487.9h19.7v14.2h-19.7zM2450.7 1474.4h19.7v14.2h-19.7zM2411.9 1460.8h19.7v14.2h-19.7zM2392.5 1447.3h19.7v14.2h-19.7zM2373.2 1420.2h19.7v14.2h-19.7zM1695.0 1406.6h19.7v14.2h-19.7zM2353.8 1406.6h19.7v14.2h-19.7zM2334.4 1393.1h19.7v14.2h-19.7zM2315.0 1366.0h19.7v14.2h-19.7zM2295.7 1352.4h19.7v14.2h-19.7zM2256.9 1338.9h19.7v14.2h-19.7zM2218.2 1325.3h19.7v14.2h-19.7zM2198.8 1311.8h19.7v14.2h-19.7zM2179.4 1298.2h19.7v14.2h-19.7zM2160.0 1284.7h19.7v14.2h-19.7zM2179.4 1271.1h19.7v14.2h-19.7zM2218.2 1257.6h39.0v14.2h-39.0zM2470.0 1244.0h19.7v14.2h-19.7zM2489.4 1230.5h19.7v14.2h-19.7zM2508.8 1203.4h19.7v14.2h-19.7zM2528.2 1176.3h19.7v14.2h-19.7zM2566.9 1162.7h97.2v14.2h-97.2zM2663.8 1149.2h39.0v14.2h-39.0zM2702.5 1135.6h39.0v14.2h-39.0zM2741.3 1122.1h19.7v14.2h-19.7zM2780.0 1108.5h19.7v14.2h-19.7zM2799.4 1095.0h39.0v14.2h-39.0zM2838.2 1081.4h19.7v14.2h-19.7zM2876.9 1067.9h19.7v14.2h-19.7zM2915.7 1054.3h19.7v14.2h-19.7zM2954.4 1040.8h19.7v14.2h-19.7zM2973.8 1027.2h19.7v14.2h-19.7zM3012.5 1013.7h39.0v14.2h-39.0z"/>
<path fill="#8a8a8a" d="M2780.0 1555.7h39.0v14.2h-39.0zM2741.3 1542.1h19.7v14.2h-19.7zM2683.2 1528.6h19.7v14.2h-19.7zM2605.7 1515.0h39.0v14.2h-39.0zM2528.2 1501.5h19.7v14.2h-19.7zM2392.5 1460.8h19.7v14.2h-19.7zM2373.2 1433.7h19.7v14.2h-19.7zM2353.8 1420.2h19.7v14.2h-19.7zM2334.4 1406.6h19.7v14.2h-19.7zM2315.0 1393.1h19.7v14.2h-19.7zM2315.0 1379.5h19.7v14.2h-19.7zM2295.7 1366.0h19.7v14.2h-19.7zM2276.3 1352.4h19.7v14.2h-19.7zM2237.5 1338.9h19.7v14.2h-19.7zM2179.4 1311.8h19.7v14.2h-19.7zM2160.0 1298.2h19.7v14.2h-19.7zM2160.0 1271.1h19.7v14.2h-19.7zM2198.8 1257.6h19.7v14.2h-19.7zM2508.8 1189.8h19.7v14.2h-19.7zM2547.5 1162.7h19.7v14.2h-19.7zM2625.0 1149.2h39.0v14.2h-39.0zM2683.2 1135.6h19.7v14.2h-19.7zM2721.9 1122.1h19.7v14.2h-19.7zM2741.3 1108.5h39.0v14.2h-39.0zM2780.0 1095.0h19.7v14.2h-19.7zM2818.8 1081.4h19.7v14.2h-19.7zM2857.5 1067.9h19.7v14.2h-19.7zM2896.3 1054.3h19.7v14.2h-19.7zM2935.0 1040.8h19.7v14.2h-19.7zM2954.4 1027.2h19.7v14.2h-19.7zM2993.2 1013.7h19.7v14.2h-19.7z"/>
<path fill="#8d8d8d" d="M1656.3 1772.5h19.7v14.2h-19.7zM1268.8 1758.9h19.7v14.2h-19.7zM1598.2 1758.9h19.7v14.2h-19.7zM1656.3 1758.9h19.7v14.2h-19.7zM2838.2 1569.2h213.4v14.2h-213.4zM2760.7 1555.7h19.7v14.2h-19.7zM2721.9 1542.1h19.7v14.2h-19.7zM2663.8 1528.6h19.7v14.2h-19.7zM2586.3 1515.0h19.7v14.2h-19.7zM2508.8 1501.5h19.7v14.2h-19.7zM2470.0 1487.9h19.7v14.2h-19.7zM2411.9 1474.4h39.0v14.2h-39.0zM2373.2 1447.3h19.7v14.2h-19.7zM2353.8 1433.7h19.7v14.2h-19.7zM2334.4 1420.2h19.7v14.2h-19.7zM2315.0 1406.6h19.7v14.2h-19.7zM2295.7 1393.1h19.7v14.2h-19.7zM1055.7 1379.5h19.7v14.2h-19.7zM2295.7 1379.5h19.7v14.2h-19.7zM2276.3 1366.0h19.7v14.2h-19.7zM2256.9 1352.4h19.7v14.2h-19.7zM2218.2 1338.9h19.7v14.2h-19.7zM2198.8 1325.3h19.7v14.2h-19.7zM2140.7 1284.7h19.7v14.2h-19.7zM2140.7 1271.1h19.7v14.2h-19.7zM2160.0 1257.6h39.0v14.2h-39.0zM2237.5 1244.0h155.3v14.2h-155.3zM2450.7 1244.0h19.7v14.2h-19.7zM2489.4 1216.9h19.7v14.2h-19.7zM2508.8 1176.3h19.7v14.2h-19.7zM2528.2 1162.7h19.7v14.2h-19.7zM2547.5 1149.2h77.8v14.2h-77.8zM2644.4 1135.6h39.0v14.2h-39.0zM2683.2 1122.1h39.0v14.2h-39.0zM2392.5 1108.5h39.0v14.2h-39.0zM2721.9 1108.5h19.7v14.2h-19.7zM2411.9 1095.0h19.7v14.2h-19.7zM2760.7 1095.0h19.7v14.2h-19.7zM2799.4 1081.4h19.7v14.2h-19.7zM2818.8 1067.9h39.0v14.2h-39.0zM2857.5 1054.3h39.0v14.2h-39.0zM2915.7 1040.8h19.7v14.2h-19.7zM2973.8 1013.7h19.7v14.2h-19.7zM3012.5 1000.1h39.0v14.2h-39.0z"/>
<path fill="#909090" d="M1307.5 1813.1h19.7v14.2h-19.7zM1307.5 1799.6h19.7v14.2h-19.7zM1268.8 1772.5h19.7v14.2h-19.7zM2799.4 1569.2h39.0v14.2h-39.0zM2741.3 1555.7h19.7v14.2h-19.7zM2702.5 1542.1h19.7v14.2h-19.7zM2644.4 1528.6h19.7v14.2h-19.7zM2566.9 1515.0h19.7v14.2h-19.7zM2450.7 1487.9h19.7v14.2h-19.7zM2392.5 1474.4h19.7v14.2h-19.7zM2373.2 1460.8h19.7v14.2h-19.7zM2353.8 1447.3h19.7v14.2h-19.7zM2334.4 1433.7h19.7v14.2h-19.7zM2315.0 1420.2h19.7v14.2h-19.7zM2295.7 1406.6h19.7v14.2h-19.7zM2276.3 1379.5h19.7v14.2h-19.7zM2256.9 1366.0h19.7v14.2h-19.7zM2237.5 1352.4h19.7v14.2h-19.7zM2179.4 1325.3h19.7v14.2h-19.7zM2160.0 1311.8h19.7v14.2h-19.7zM2140.7 1298.2h19.7v14.2h-19.7zM2121.3 1284.7h19.7v14.2h-19.7zM2121.3 1271.1h19.7v14.2h-19.7zM2140.7 1257.6h19.7v14.2h-19.7zM2198.8 1244.0h39.0v14.2h-39.0zM2392.5 1244.0h58.4v14.2h-58.4zM2470.0 1230.5h19.7v14.2h-19.7zM2489.4 1203.4h19.7v14.2h-19.7zM2508.8 1162.7h19.7v14.2h-19.7zM2528.2 1149.2h19.7v14.2h-19.7zM2586.3 1135.6h58.4v14.2h-58.4zM2392.5 1122.1h58.4v14.2h-58.4zM2644.4 1122.1h39.0v14.2h-39.0zM2431.3 1108.5h19.7v14.2h-19.7zM2702.5 1108.5h19.7v14.2h-19.7zM2392.5 1095.0h19.7v14.2h-19.7zM2431.3 1095.0h19.7v14.2h-19.7zM2741.3 1095.0h19.7v14.2h-19.7zM2780.0 1081.4h19.7v14.2h-19.7zM2799.4 1067.9h19.7v14.2h-19.7zM2838.2 1054.3h19.7v14.2h-19.7zM2896.3 1040.8h19.7v14.2h-19.7zM2935.0 1027.2h19.7v14.2h-19.7zM2954.4 1013.7h19.7v14.2h-19.7zM2993.2 1000.1h19.7v14.2h-19.7zM3031.9 986.6h19.7v14.2h-19.7z"/>
<path fill="#939393" d="M1326.9 1840.2h19.7v14.2h-19.7zM1307.5 1786.0h19.7v14.2h-19.7zM1288.2 1772.5h19.7v14.2h-19.7zM1675.7 1772.5h19.7v14.2h-19.7zM1288.2 1758.9h19.7v14.2h-19.7zM1675.7 1758.9h19.7v14.2h-19.7zM2857.5 1582.8h174.7v14.2h-174.7zM2780.0 1569.2h19.7v14.2h-19.7zM2721.9 1555.7h19.7v14.2h-19.7zM2683.2 1542.1h19.7v14.2h-19.7zM2605.7 1528.6h39.0v14.2h-39.0zM2547.5 1515.0h19.7v14.2h-19.7zM2489.4 1501.5h19.7v14.2h-19.7zM2431.3 1487.9h19.7v14.2h-19.7zM2373.2 1474.4h19.7v14.2h-19.7zM2353.8 1460.8h19.7v14.2h-19.7zM2334.4 1447.3h19.7v14.2h-19.7zM2315.0 1433.7h19.7v14.2h-19.7zM2295.7 1420.2h19.7v14.2h-19.7zM2276.3 1406.6h19.7v14.2h-19.7zM2276.3 1393.1h19.7v14.2h-19.7zM2256.9 1379.5h19.7v14.2h-19.7zM2237.5 1366.0h19.7v14.2h-19.7zM2218.2 1352.4h19.7v14.2h-19.7zM2198.8 1338.9h19.7v14.2h-19.7zM2160.0 1325.3h19.7v14.2h-19.7zM2140.7 1311.8h19.7v14.2h-19.7zM2121.3 1298.2h19.7v14.2h-19.7zM2121.3 1257.6h19.7v14.2h-19.7zM2160.0 1244.0h39.0v14.2h-39.0zM2256.9 1230.5h58.4v14.2h-58.4zM2489.4 1189.8h19.7v14.2h-19.7zM2489.4 1176.3h19.7v14.2h-19.7zM2508.8 1149.2h19.7v14.2h-19.7zM2528.2 1135.6h58.4v14.2h-58.4zM2373.2 1122.1h19.7v14.2h-19.7zM2450.7 1122.1h19.7v14.2h-19.7zM2605.7 1122.1h39.0v14.2h-39.0zM2373.2 1108.5h19.7v14.2h-19.7zM2450.7 1108.5h19.7v14.2h-19.7zM2663.8 1108.5h39.0v14.2h-39.0zM2373.2 1095.0h19.7v14.2h-19.7zM2450.7 1095.0h19.7v14.2h-19.7zM2702.5 1095.0h39.0v14.2h-39.0zM2392.5 1081.4h39.0v14.2h-39.0zM2741.3 1081.4h39.0v14.2h-39.0zM2780.0 1067.9h19.7v14.2h-19.7zM2818.8 1054.3h19.7v14.2h-19.7zM2857.5 1040.8h39.0v14.2h-39.0zM2915.7 1027.2h19.7v14.2h-19.7zM2935.0 1013.7h19.7v14.2h-19.7zM2973.8 1000.1h19.7v14.2h-19.7zM2993.2 986.6h39.0v14.2h-39.0z"/>
<path fill="#969696" d="M1307.5 1826.7h19.7v14.2h-19.7zM1578.8 1772.5h19.7v14.2h-19.7zM1695.0 1772.5h19.7v14.2h-19.7zM1249.4 1758.9h19.7v14.2h-19.7zM1307.5 1758.9h19.7v14.2h-19.7zM1695.0 1758.9h19.7v14.2h-19.7zM1268.8 1745.4h19.7v14.2h-19.7zM2818.8 1582.8h39.0v14.2h-39.0zM3031.9 1582.8h19.7v14.2h-19.7zM2741.3 1569.2h39.0v14.2h-39.0zM2702.5 1555.7h19.7v14.2h-19.7zM2644.4 1542.1h39.0v14.2h-39.0zM2586.3 1528.6h19.7v14.2h-19.7zM2528.2 1515.0h19.7v14.2h-19.7zM2470.0 1501.5h19.7v14.2h-19.7zM2392.5 1487.9h39.0v14.2h-39.0zM2353.8 1474.4h19.7v14.2h-19.7zM2334.4 1460.8h19.7v14.2h-19.7zM2276.3 1420.2h19.7v14.2h-19.7zM2256.9 1406.6h19.7v14.2h-19.7zM2256.9 1393.1h19.7v14.2h-19.7zM2237.5 1379.5h19.7v14.2h-19.7zM2218.2 1366.0h19.7v14.2h-19.7zM2198.8 1352.4h19.7v14.2h-19.7zM2179.4 1338.9h19.7v14.2h-19.7zM2121.3 1311.8h19.7v14.2h-19.7zM2101.9 1271.1h19.7v14.2h-19.7zM2140.7 1244.0h19.7v14.2h-19.7zM2198.8 1230.5h58.4v14.2h-58.4zM2315.0 1230.5h58.4v14.2h-58.4zM2450.7 1230.5h19.7v14.2h-19.7zM2470.0 1216.9h19.7v14.2h-19.7zM2489.4 1162.7h19.7v14.2h-19.7zM2489.4 1149.2h19.7v14.2h-19.7zM2392.5 1135.6h135.9v14.2h-135.9zM2470.0 1122.1h135.9v14.2h-135.9zM2353.8 1108.5h19.7v14.2h-19.7zM2470.0 1108.5h19.7v14.2h-19.7zM2605.7 1108.5h58.4v14.2h-58.4zM2353.8 1095.0h19.7v14.2h-19.7zM2470.0 1095.0h19.7v14.2h-19.7zM2663.8 1095.0h39.0v14.2h-39.0zM2373.2 1081.4h19.7v14.2h-19.7zM2431.3 1081.4h19.7v14.2h-19.7zM2702.5 1081.4h39.0v14.2h-39.0zM2760.7 1067.9h19.7v14.2h-19.7zM2799.4 1054.3h19.7v14.2h-19.7zM2838.2 1040.8h19.7v14.2h-19.7zM2876.9 1027.2h39.0v14.2h-39.0zM2954.4 1000.1h19.7v14.2h-19.7zM2973.8 986.6h19.7v14.2h-19.7zM3031.9 973.0h19.7v14.2h-19.7z"/>
<path fill="#999999" d="M1365.7 1853.8h19.7v14.2h-19.7zM1288.2 1799.6h19.7v14.2h-19.7zM1152.5 1786.0h19.7v14.2h-19.7zM1268.8 1786.0h39.0v14.2h-39.0zM1598.2 1786.0h77.8v14.2h-77.8zM1152.5 1772.5h19.7v14.2h-19.7zM1520.7 1772.5h19.7v14.2h-19.7zM1133.2 1758.9h39.0v14.2h-39.0zM1326.9 1758.9h19.7v14.2h-19.7zM1578.8 1758.9h19.7v14.2h-19.7zM1133.2 1745.4h39.0v14.2h-39.0zM1326.9 1745.4h19.7v14.2h-19.7zM1830.7 1745.4h19.7v14.2h-19.7zM1791.9 1731.8h19.7v14.2h-19.7zM1811.3 1718.3h19.7v14.2h-19.7zM1423.8 1704.7h19.7v14.2h-19.7zM1578.8 1637.0h19.7v14.2h-19.7zM1578.8 1623.4h39.0v14.2h-39.0zM2780.0 1582.8h39.0v14.2h-39.0zM2721.9 1569.2h19.7v14.2h-19.7zM2683.2 1555.7h19.7v14.2h-19.7zM2625.0 1542.1h19.7v14.2h-19.7zM2508.8 1515.0h19.7v14.2h-19.7zM2450.7 1501.5h19.7v14.2h-19.7zM2373.2 1487.9h19.7v14.2h-19.7zM1210.7 1447.3h19.7v14.2h-19.7zM1501.3 1447.3h19.7v14.2h-19.7zM2315.0 1447.3h19.7v14.2h-19.7zM2295.7 1433.7h19.7v14.2h-19.7zM2256.9 1420.2h19.7v14.2h-19.7zM2237.5 1406.6h19.7v14.2h-19.7zM1714.4 1393.1h19.7v14.2h-19.7zM2218.2 1393.1h39.0v14.2h-39.0zM2218.2 1379.5h19.7v14.2h-19.7zM2198.8 1366.0h19.7v14.2h-19.7zM2179.4 1352.4h19.7v14.2h-19.7zM2160.0 1338.9h19.7v14.2h-19.7zM2140.7 1325.3h19.7v14.2h-19.7zM2101.9 1298.2h19.7v14.2h-19.7zM2101.9 1284.7h19.7v14.2h-19.7zM2082.5 1257.6h19.7v14.2h-19.7zM2121.3 1244.0h19.7v14.2h-19.7zM2179.4 1230.5h19.7v14.2h-19.7zM2373.2 1230.5h77.8v14.2h-77.8zM2256.9 1216.9h39.0v14.2h-39.0zM2470.0 1203.4h19.7v14.2h-19.7zM2470.0 1176.3h19.7v14.2h-19.7zM2470.0 1162.7h19.7v14.2h-19.7zM2450.7 1149.2h39.0v14.2h-39.0zM2373.2 1135.6h19.7v14.2h-19.7zM2353.8 1122.1h19.7v14.2h-19.7zM2334.4 1108.5h19.7v14.2h-19.7zM2489.4 1108.5h116.5v14.2h-116.5zM2334.4 1095.0h19.7v14.2h-19.7zM2489.4 1095.0h19.7v14.2h-19.7zM2605.7 1095.0h58.4v14.2h-58.4zM2353.8 1081.4h19.7v14.2h-19.7zM2450.7 1081.4h39.0v14.2h-39.0zM2663.8 1081.4h39.0v14.2h-39.0zM2373.2 1067.9h77.8v14.2h-77.8zM2721.9 1067.9h39.0v14.2h-39.0zM2780.0 1054.3h19.7v14.2h-19.7zM2818.8 1040.8h19.7v14.2h-19.7zM2857.5 1027.2h19.7v14.2h-19.7zM2896.3 1013.7h39.0v14.2h-39.0zM2935.0 1000.1h19.7v14.2h-19.7zM2954.4 986.6h19.7v14.2h-19.7zM2993.2 973.0h39.0v14.2h-39.0z"/>
<path fill="#9c9c9c" d="M1307.5 1840.2h19.7v14.2h-19.7zM1346.3 1813.1h19.7v14.2h-19.7zM1675.7 1786.0h19.7v14.2h-19.7zM1714.4 1772.5h19.7v14.2h-19.7zM1714.4 1758.9h19.7v14.2h-19.7zM1791.9 1758.9h19.7v14.2h-19.7zM1249.4 1745.4h19.7v14.2h-19.7zM1307.5 1745.4h19.7v14.2h-19.7zM1656.3 1745.4h19.7v14.2h-19.7zM1772.5 1745.4h19.7v14.2h-19.7zM1811.3 1731.8h19.7v14.2h-19.7zM2838.2 1596.3h213.4v14.2h-213.4zM2760.7 1582.8h19.7v14.2h-19.7zM2702.5 1569.2h19.7v14.2h-19.7zM2644.4 1555.7h39.0v14.2h-39.0zM2605.7 1542.1h19.7v14.2h-19.7zM2566.9 1528.6h19.7v14.2h-19.7zM2489.4 1515.0h19.7v14.2h-19.7zM2431.3 1501.5h19.7v14.2h-19.7zM2353.8 1487.9h19.7v14.2h-19.7zM2334.4 1474.4h19.7v14.2h-19.7zM2315.0 1460.8h19.7v14.2h-19.7zM2295.7 1447.3h19.7v14.2h-19.7zM2276.3 1433.7h19.7v14.2h-19.7zM2237.5 1420.2h19.7v14.2h-19.7zM2218.2 1406.6h19.7v14.2h-19.7zM2005.0 1393.1h39.0v14.2h-39.0zM2198.8 1393.1h19.7v14.2h-19.7zM2005.0 1379.5h39.0v14.2h-39.0zM2179.4 1379.5h39.0v14.2h-39.0zM2160.0 1366.0h39.0v14.2h-39.0zM2160.0 1352.4h19.7v14.2h-19.7zM2140.7 1338.9h19.7v14.2h-19.7zM2121.3 1325.3h19.7v14.2h-19.7zM2101.9 1311.8h19.7v14.2h-19.7zM2101.9 1257.6h19.7v14.2h-19.7zM2140.7 1230.5h39.0v14.2h-39.0zM2198.8 1216.9h58.4v14.2h-58.4zM2295.7 1216.9h58.4v14.2h-58.4zM2450.7 1216.9h19.7v14.2h-19.7zM2470.0 1189.8h19.7v14.2h-19.7zM2450.7 1162.7h19.7v14.2h-19.7zM2392.5 1149.2h58.4v14.2h-58.4zM2353.8 1135.6h19.7v14.2h-19.7zM2334.4 1122.1h19.7v14.2h-19.7zM2508.8 1095.0h97.2v14.2h-97.2zM2334.4 1081.4h19.7v14.2h-19.7zM2489.4 1081.4h39.0v14.2h-39.0zM2605.7 1081.4h58.4v14.2h-58.4zM2334.4 1067.9h39.0v14.2h-39.0zM2450.7 1067.9h39.0v14.2h-39.0zM2683.2 1067.9h39.0v14.2h-39.0zM2741.3 1054.3h39.0v14.2h-39.0zM2276.3 1040.8h39.0v14.2h-39.0zM2799.4 1040.8h19.7v14.2h-19.7zM2276.3 1027.2h39.0v14.2h-39.0zM2838.2 1027.2h19.7v14.2h-19.7zM2876.9 1013.7h19.7v14.2h-19.7zM2915.7 1000.1h19.7v14.2h-19.7zM2935.0 986.6h19.7v14.2h-19.7zM2973.8 973.0h19.7v14.2h-19.7zM3012.5 959.5h39.0v14.2h-39.0z"/>
<path fill="#9f9f9f" d="M1346.3 1826.7h19.7v14.2h-19.7zM1578.8 1786.0h19.7v14.2h-19.7zM1695.0 1786.0h19.7v14.2h-19.7zM1559.4 1772.5h19.7v14.2h-19.7zM1733.8 1758.9h19.7v14.2h-19.7zM1772.5 1758.9h19.7v14.2h-19.7zM1811.3 1758.9h19.7v14.2h-19.7zM1675.7 1745.4h19.7v14.2h-19.7zM1753.2 1745.4h19.7v14.2h-19.7zM1772.5 1731.8h19.7v14.2h-19.7zM3031.9 1609.9h19.7v14.2h-19.7zM2799.4 1596.3h39.0v14.2h-39.0zM2721.9 1582.8h39.0v14.2h-39.0zM2663.8 1569.2h39.0v14.2h-39.0zM2625.0 1555.7h19.7v14.2h-19.7zM2586.3 1542.1h19.7v14.2h-19.7zM2547.5 1528.6h19.7v14.2h-19.7zM2392.5 1501.5h39.0v14.2h-39.0zM2315.0 1474.4h19.7v14.2h-19.7zM2295.7 1460.8h19.7v14.2h-19.7zM2276.3 1447.3h19.7v14.2h-19.7zM2256.9 1433.7h19.7v14.2h-19.7zM2218.2 1420.2h19.7v14.2h-19.7zM2179.4 1406.6h39.0v14.2h-39.0zM2043.8 1393.1h19.7v14.2h-19.7zM2160.0 1393.1h39.0v14.2h-39.0zM2043.8 1379.5h19.7v14.2h-19.7zM2160.0 1379.5h19.7v14.2h-19.7zM2005.0 1366.0h39.0v14.2h-39.0zM2140.7 1366.0h19.7v14.2h-19.7zM2140.7 1352.4h19.7v14.2h-19.7zM2121.3 1338.9h19.7v14.2h-19.7zM2101.9 1244.0h19.7v14.2h-19.7zM2121.3 1230.5h19.7v14.2h-19.7zM2160.0 1216.9h39.0v14.2h-39.0zM2353.8 1216.9h39.0v14.2h-39.0zM2431.3 1216.9h19.7v14.2h-19.7zM2237.5 1203.4h77.8v14.2h-77.8zM2450.7 1203.4h19.7v14.2h-19.7zM2450.7 1176.3h19.7v14.2h-19.7zM2431.3 1162.7h19.7v14.2h-19.7zM2373.2 1149.2h19.7v14.2h-19.7zM2334.4 1135.6h19.7v14.2h-19.7zM2315.0 1122.1h19.7v14.2h-19.7zM2315.0 1108.5h19.7v14.2h-19.7zM2315.0 1095.0h19.7v14.2h-19.7zM2315.0 1081.4h19.7v14.2h-19.7zM2528.2 1081.4h77.8v14.2h-77.8zM2295.7 1067.9h39.0v14.2h-39.0zM2489.4 1067.9h39.0v14.2h-39.0zM2625.0 1067.9h58.4v14.2h-58.4zM2276.3 1054.3h194.1v14.2h-194.1zM2702.5 1054.3h39.0v14.2h-39.0zM2256.9 1040.8h19.7v14.2h-19.7zM2315.0 1040.8h19.7v14.2h-19.7zM2760.7 1040.8h39.0v14.2h-39.0zM2256.9 1027.2h19.7v14.2h-19.7zM2799.4 1027.2h39.0v14.2h-39.0zM2857.5 1013.7h19.7v14.2h-19.7zM2896.3 1000.1h19.7v14.2h-19.7zM2915.7 986.6h19.7v14.2h-19.7zM2954.4 973.0h19.7v14.2h-19.7zM2993.2 959.5h19.7v14.2h-19.7z"/>
<path fill="#a2a2a2" d="M1307.5 1853.8h19.7v14.2h-19.7zM1288.2 1813.1h19.7v14.2h-19.7zM1268.8 1799.6h19.7v14.2h-19.7zM1559.4 1786.0h19.7v14.2h-19.7zM1540.0 1772.5h19.7v14.2h-19.7zM1559.4 1758.9h19.7v14.2h-19.7zM1753.2 1758.9h19.7v14.2h-19.7zM1695.0 1745.4h58.4v14.2h-58.4zM2857.5 1609.9h174.7v14.2h-174.7zM2760.7 1596.3h39.0v14.2h-39.0zM2683.2 1582.8h39.0v14.2h-39.0zM2625.0 1569.2h39.0v14.2h-39.0zM2605.7 1555.7h19.7v14.2h-19.7zM2566.9 1542.1h19.7v14.2h-19.7zM2528.2 1528.6h19.7v14.2h-19.7zM2470.0 1515.0h19.7v14.2h-19.7zM2373.2 1501.5h19.7v14.2h-19.7zM2334.4 1487.9h19.7v14.2h-19.7zM2276.3 1460.8h19.7v14.2h-19.7zM2256.9 1447.3h19.7v14.2h-19.7zM2218.2 1433.7h39.0v14.2h-39.0zM2179.4 1420.2h39.0v14.2h-39.0zM2005.0 1406.6h58.4v14.2h-58.4zM2140.7 1406.6h39.0v14.2h-39.0zM1985.7 1393.1h19.7v14.2h-19.7zM2140.7 1393.1h19.7v14.2h-19.7zM1985.7 1379.5h19.7v14.2h-19.7zM2121.3 1379.5h39.0v14.2h-39.0zM1985.7 1366.0h19.7v14.2h-19.7zM2043.8 1366.0h19.7v14.2h-19.7zM2121.3 1366.0h19.7v14.2h-19.7zM2121.3 1352.4h19.7v14.2h-19.7zM2101.9 1325.3h19.7v14.2h-19.7zM2082.5 1298.2h19.7v14.2h-19.7zM2082.5 1284.7h19.7v14.2h-19.7zM2082.5 1271.1h19.7v14.2h-19.7zM2140.7 1216.9h19.7v14.2h-19.7zM2392.5 1216.9h39.0v14.2h-39.0zM2198.8 1203.4h39.0v14.2h-39.0zM2315.0 1203.4h39.0v14.2h-39.0zM2450.7 1189.8h19.7v14.2h-19.7zM2431.3 1176.3h19.7v14.2h-19.7zM2392.5 1162.7h39.0v14.2h-39.0zM2334.4 1149.2h39.0v14.2h-39.0zM2315.0 1135.6h19.7v14.2h-19.7zM2295.7 1108.5h19.7v14.2h-19.7zM2295.7 1095.0h19.7v14.2h-19.7zM2295.7 1081.4h19.7v14.2h-19.7zM2276.3 1067.9h19.7v14.2h-19.7zM2528.2 1067.9h97.2v14.2h-97.2zM2256.9 1054.3h19.7v14.2h-19.7zM2470.0 1054.3h58.4v14.2h-58.4zM2644.4 1054.3h58.4v14.2h-58.4zM2334.4 1040.8h116.5v14.2h-116.5zM2721.9 1040.8h39.0v14.2h-39.0zM2315.0 1027.2h19.7v14.2h-19.7zM2780.0 1027.2h19.7v14.2h-19.7zM2818.8 1013.7h39.0v14.2h-39.0zM2857.5 1000.1h39.0v14.2h-39.0zM2896.3 986.6h19.7v14.2h-19.7zM2935.0 973.0h19.7v14.2h-19.7zM2954.4 959.5h39.0v14.2h-39.0zM3012.5 945.9h39.0v14.2h-39.0z"/>
<path fill="#a5a5a5" d="M706.9 1799.6h19.7v14.2h-19.7zM1346.3 1799.6h19.7v14.2h-19.7zM1249.4 1786.0h19.7v14.2h-19.7zM1540.0 1786.0h19.7v14.2h-19.7zM1714.4 1786.0h19.7v14.2h-19.7zM1326.9 1772.5h19.7v14.2h-19.7zM1733.8 1772.5h19.7v14.2h-19.7zM1230.0 1758.9h19.7v14.2h-19.7zM1540.0 1758.9h19.7v14.2h-19.7zM1268.8 1731.8h19.7v14.2h-19.7zM1753.2 1731.8h19.7v14.2h-19.7zM1791.9 1718.3h19.7v14.2h-19.7zM3012.5 1623.4h39.0v14.2h-39.0zM2799.4 1609.9h58.4v14.2h-58.4zM2721.9 1596.3h39.0v14.2h-39.0zM2663.8 1582.8h19.7v14.2h-19.7zM2605.7 1569.2h19.7v14.2h-19.7zM2586.3 1555.7h19.7v14.2h-19.7zM2508.8 1528.6h19.7v14.2h-19.7zM2431.3 1515.0h39.0v14.2h-39.0zM2353.8 1501.5h19.7v14.2h-19.7zM2315.0 1487.9h19.7v14.2h-19.7zM2295.7 1474.4h19.7v14.2h-19.7zM2237.5 1447.3h19.7v14.2h-19.7zM2198.8 1433.7h19.7v14.2h-19.7zM2140.7 1420.2h39.0v14.2h-39.0zM1985.7 1406.6h19.7v14.2h-19.7zM2121.3 1406.6h19.7v14.2h-19.7zM2063.2 1393.1h19.7v14.2h-19.7zM2121.3 1393.1h19.7v14.2h-19.7zM2063.2 1379.5h19.7v14.2h-19.7zM2063.2 1366.0h19.7v14.2h-19.7zM2005.0 1352.4h39.0v14.2h-39.0zM2101.9 1352.4h19.7v14.2h-19.7zM2101.9 1338.9h19.7v14.2h-19.7zM2082.5 1325.3h19.7v14.2h-19.7zM2082.5 1311.8h19.7v14.2h-19.7zM2101.9 1230.5h19.7v14.2h-19.7zM2121.3 1216.9h19.7v14.2h-19.7zM2160.0 1203.4h39.0v14.2h-39.0zM2353.8 1203.4h97.2v14.2h-97.2zM2218.2 1189.8h155.3v14.2h-155.3zM2411.9 1189.8h39.0v14.2h-39.0zM2373.2 1176.3h58.4v14.2h-58.4zM2334.4 1162.7h58.4v14.2h-58.4zM2315.0 1149.2h19.7v14.2h-19.7zM2295.7 1135.6h19.7v14.2h-19.7zM2295.7 1122.1h19.7v14.2h-19.7zM2276.3 1095.0h19.7v14.2h-19.7zM2276.3 1081.4h19.7v14.2h-19.7zM2528.2 1054.3h116.5v14.2h-116.5zM2450.7 1040.8h77.8v14.2h-77.8zM2663.8 1040.8h58.4v14.2h-58.4zM2334.4 1027.2h77.8v14.2h-77.8zM2741.3 1027.2h39.0v14.2h-39.0zM2276.3 1013.7h58.4v14.2h-58.4zM2780.0 1013.7h39.0v14.2h-39.0zM2818.8 1000.1h39.0v14.2h-39.0zM2857.5 986.6h39.0v14.2h-39.0zM2896.3 973.0h39.0v14.2h-39.0zM2935.0 959.5h19.7v14.2h-19.7zM2973.8 945.9h39.0v14.2h-39.0z"/>
<path fill="#a8a8a8" d="M1288.2 1826.7h19.7v14.2h-19.7zM1753.2 1772.5h19.7v14.2h-19.7zM1520.7 1758.9h19.7v14.2h-19.7zM1230.0 1745.4h19.7v14.2h-19.7zM1598.2 1745.4h19.7v14.2h-19.7zM1288.2 1731.8h19.7v14.2h-19.7zM1733.8 1731.8h19.7v14.2h-19.7zM1830.7 1731.8h19.7v14.2h-19.7zM2876.9 1623.4h135.9v14.2h-135.9zM2760.7 1609.9h39.0v14.2h-39.0zM2683.2 1596.3h39.0v14.2h-39.0zM2625.0 1582.8h39.0v14.2h-39.0zM2586.3 1569.2h19.7v14.2h-19.7zM2566.9 1555.7h19.7v14.2h-19.7zM2547.5 1542.1h19.7v14.2h-19.7zM2489.4 1528.6h19.7v14.2h-19.7zM2392.5 1515.0h39.0v14.2h-39.0zM2334.4 1501.5h19.7v14.2h-19.7zM2295.7 1487.9h19.7v14.2h-19.7zM2276.3 1474.4h19.7v14.2h-19.7zM2256.9 1460.8h19.7v14.2h-19.7zM2218.2 1447.3h19.7v14.2h-19.7zM2160.0 1433.7h39.0v14.2h-39.0zM2005.0 1420.2h39.0v14.2h-39.0zM2121.3 1420.2h19.7v14.2h-19.7zM2063.2 1406.6h58.4v14.2h-58.4zM2082.5 1393.1h39.0v14.2h-39.0zM1966.3 1379.5h19.7v14.2h-19.7zM2082.5 1379.5h39.0v14.2h-39.0zM2082.5 1366.0h39.0v14.2h-39.0zM1985.7 1352.4h19.7v14.2h-19.7zM2043.8 1352.4h58.4v14.2h-58.4zM2082.5 1338.9h19.7v14.2h-19.7zM2082.5 1244.0h19.7v14.2h-19.7zM2101.9 1216.9h19.7v14.2h-19.7zM2121.3 1203.4h39.0v14.2h-39.0zM2179.4 1189.8h39.0v14.2h-39.0zM2373.2 1189.8h39.0v14.2h-39.0zM2256.9 1176.3h116.5v14.2h-116.5zM2295.7 1162.7h39.0v14.2h-39.0zM2295.7 1149.2h19.7v14.2h-19.7zM2276.3 1135.6h19.7v14.2h-19.7zM2276.3 1122.1h19.7v14.2h-19.7zM2276.3 1108.5h19.7v14.2h-19.7zM2256.9 1067.9h19.7v14.2h-19.7zM2237.5 1040.8h19.7v14.2h-19.7zM2528.2 1040.8h135.9v14.2h-135.9zM2237.5 1027.2h19.7v14.2h-19.7zM2411.9 1027.2h97.2v14.2h-97.2zM2663.8 1027.2h77.8v14.2h-77.8zM2256.9 1013.7h19.7v14.2h-19.7zM2334.4 1013.7h19.7v14.2h-19.7zM2741.3 1013.7h39.0v14.2h-39.0zM2780.0 1000.1h39.0v14.2h-39.0zM2838.2 986.6h19.7v14.2h-19.7zM2876.9 973.0h19.7v14.2h-19.7zM2896.3 959.5h39.0v14.2h-39.0zM2935.0 945.9h39.0v14.2h-39.0zM2993.2 932.4h58.4v14.2h-58.4z"/>
<path fill="#ababab" d="M1346.3 1840.2h19.7v14.2h-19.7zM784.4 1826.7h19.7v14.2h-19.7zM1036.3 1826.7h19.7v14.2h-19.7zM1036.3 1813.1h19.7v14.2h-19.7zM1249.4 1813.1h39.0v14.2h-39.0zM1152.5 1799.6h19.7v14.2h-19.7zM1675.7 1799.6h19.7v14.2h-19.7zM1133.2 1786.0h19.7v14.2h-19.7zM1520.7 1786.0h19.7v14.2h-19.7zM1733.8 1786.0h19.7v14.2h-19.7zM1307.5 1772.5h19.7v14.2h-19.7zM1772.5 1772.5h39.0v14.2h-39.0zM1830.7 1758.9h19.7v14.2h-19.7zM1501.3 1745.4h19.7v14.2h-19.7zM1249.4 1731.8h19.7v14.2h-19.7zM1307.5 1731.8h39.0v14.2h-39.0zM1714.4 1731.8h19.7v14.2h-19.7zM1753.2 1718.3h39.0v14.2h-39.0zM1404.4 1704.7h19.7v14.2h-19.7zM1423.8 1691.2h39.0v14.2h-39.0zM1230.0 1664.1h19.7v14.2h-19.7zM1559.4 1637.0h19.7v14.2h-19.7zM2993.2 1637.0h58.4v14.2h-58.4zM2799.4 1623.4h77.8v14.2h-77.8zM2702.5 1609.9h58.4v14.2h-58.4zM2625.0 1596.3h58.4v14.2h-58.4zM2605.7 1582.8h19.7v14.2h-19.7zM1268.8 1555.7h19.7v14.2h-19.7zM1307.5 1555.7h19.7v14.2h-19.7zM1288.2 1542.1h19.7v14.2h-19.7zM2528.2 1542.1h19.7v14.2h-19.7zM1307.5 1528.6h19.7v14.2h-19.7zM2470.0 1528.6h19.7v14.2h-19.7zM2373.2 1515.0h19.7v14.2h-19.7zM2315.0 1501.5h19.7v14.2h-19.7zM2276.3 1487.9h19.7v14.2h-19.7zM2256.9 1474.4h19.7v14.2h-19.7zM1191.3 1460.8h39.0v14.2h-39.0zM2237.5 1460.8h19.7v14.2h-19.7zM1191.3 1447.3h19.7v14.2h-19.7zM2179.4 1447.3h39.0v14.2h-39.0zM2121.3 1433.7h39.0v14.2h-39.0zM1966.3 1420.2h39.0v14.2h-39.0zM2043.8 1420.2h77.8v14.2h-77.8zM1966.3 1406.6h19.7v14.2h-19.7zM1966.3 1393.1h19.7v14.2h-19.7zM1966.3 1366.0h19.7v14.2h-19.7zM1966.3 1352.4h19.7v14.2h-19.7zM2005.0 1338.9h77.8v14.2h-77.8zM2063.2 1325.3h19.7v14.2h-19.7zM2082.5 1230.5h19.7v14.2h-19.7zM1520.7 1216.9h19.7v14.2h-19.7zM2082.5 1216.9h19.7v14.2h-19.7zM1540.0 1203.4h19.7v14.2h-19.7zM2101.9 1203.4h19.7v14.2h-19.7zM2140.7 1189.8h39.0v14.2h-39.0zM2198.8 1176.3h58.4v14.2h-58.4zM2237.5 1162.7h58.4v14.2h-58.4zM2256.9 1149.2h39.0v14.2h-39.0zM2256.9 1135.6h19.7v14.2h-19.7zM2256.9 1122.1h19.7v14.2h-19.7zM2256.9 1108.5h19.7v14.2h-19.7zM2256.9 1095.0h19.7v14.2h-19.7zM2256.9 1081.4h19.7v14.2h-19.7zM2237.5 1054.3h19.7v14.2h-19.7zM2508.8 1027.2h155.3v14.2h-155.3zM2353.8 1013.7h135.9v14.2h-135.9zM2663.8 1013.7h77.8v14.2h-77.8zM2741.3 1000.1h39.0v14.2h-39.0zM2780.0 986.6h58.4v14.2h-58.4zM2838.2 973.0h39.0v14.2h-39.0zM2876.9 959.5h19.7v14.2h-19.7zM2915.7 945.9h19.7v14.2h-19.7zM2954.4 932.4h39.0v14.2h-39.0zM3031.9 918.8h19.7v14.2h-19.7zM1811.3 905.3h19.7v14.2h-19.7z"/>
<path fill="#aeaeae" d="M1365.7 1840.2h19.7v14.2h-19.7zM1249.4 1799.6h19.7v14.2h-19.7zM1636.9 1799.6h39.0v14.2h-39.0zM1695.0 1799.6h19.7v14.2h-19.7zM1133.2 1772.5h19.7v14.2h-19.7zM1230.0 1772.5h19.7v14.2h-19.7zM1501.3 1772.5h19.7v14.2h-19.7zM1811.3 1772.5h19.7v14.2h-19.7zM1501.3 1758.9h19.7v14.2h-19.7zM1578.8 1745.4h19.7v14.2h-19.7zM1133.2 1731.8h19.7v14.2h-19.7zM1656.3 1731.8h19.7v14.2h-19.7zM1695.0 1731.8h19.7v14.2h-19.7zM2876.9 1637.0h116.5v14.2h-116.5zM2741.3 1623.4h58.4v14.2h-58.4zM2663.8 1609.9h39.0v14.2h-39.0zM2605.7 1596.3h19.7v14.2h-19.7zM2586.3 1582.8h19.7v14.2h-19.7zM2566.9 1569.2h19.7v14.2h-19.7zM2547.5 1555.7h19.7v14.2h-19.7zM2508.8 1542.1h19.7v14.2h-19.7zM2450.7 1528.6h19.7v14.2h-19.7zM2334.4 1515.0h39.0v14.2h-39.0zM2295.7 1501.5h19.7v14.2h-19.7zM2237.5 1474.4h19.7v14.2h-19.7zM2198.8 1460.8h39.0v14.2h-39.0zM2140.7 1447.3h39.0v14.2h-39.0zM1888.8 1433.7h77.8v14.2h-77.8zM2101.9 1433.7h19.7v14.2h-19.7zM1888.8 1420.2h77.8v14.2h-77.8zM1908.2 1406.6h58.4v14.2h-58.4zM1946.9 1393.1h19.7v14.2h-19.7zM1946.9 1379.5h19.7v14.2h-19.7zM1946.9 1366.0h19.7v14.2h-19.7zM1946.9 1352.4h19.7v14.2h-19.7zM1966.3 1338.9h39.0v14.2h-39.0zM2063.2 1311.8h19.7v14.2h-19.7zM2063.2 1298.2h19.7v14.2h-19.7zM2063.2 1284.7h19.7v14.2h-19.7zM2063.2 1216.9h19.7v14.2h-19.7zM2063.2 1203.4h39.0v14.2h-39.0zM2101.9 1189.8h39.0v14.2h-39.0zM2140.7 1176.3h58.4v14.2h-58.4zM2198.8 1162.7h39.0v14.2h-39.0zM2237.5 1149.2h19.7v14.2h-19.7zM2237.5 1135.6h19.7v14.2h-19.7zM2237.5 1122.1h19.7v14.2h-19.7zM2237.5 1108.5h19.7v14.2h-19.7zM2237.5 1095.0h19.7v14.2h-19.7zM2237.5 1081.4h19.7v14.2h-19.7zM2237.5 1067.9h19.7v14.2h-19.7zM2489.4 1013.7h174.7v14.2h-174.7zM2276.3 1000.1h155.3v14.2h-155.3zM2683.2 1000.1h58.4v14.2h-58.4zM2741.3 986.6h39.0v14.2h-39.0zM2780.0 973.0h58.4v14.2h-58.4zM2838.2 959.5h39.0v14.2h-39.0zM2876.9 945.9h39.0v14.2h-39.0zM2935.0 932.4h19.7v14.2h-19.7zM2973.8 918.8h58.4v14.2h-58.4z"/>
<path fill="#b1b1b1" d="M1288.2 1840.2h19.7v14.2h-19.7zM687.5 1813.1h19.7v14.2h-19.7zM1540.0 1799.6h97.2v14.2h-97.2zM1714.4 1799.6h19.7v14.2h-19.7zM1346.3 1786.0h19.7v14.2h-19.7zM1753.2 1786.0h19.7v14.2h-19.7zM1113.8 1745.4h19.7v14.2h-19.7zM1540.0 1745.4h39.0v14.2h-39.0zM1113.8 1731.8h19.7v14.2h-19.7zM1152.5 1731.8h19.7v14.2h-19.7zM1636.9 1731.8h19.7v14.2h-19.7zM1675.7 1731.8h19.7v14.2h-19.7zM1733.8 1718.3h19.7v14.2h-19.7zM1830.7 1718.3h19.7v14.2h-19.7zM1443.2 1704.7h19.7v14.2h-19.7zM1791.9 1704.7h39.0v14.2h-39.0zM2973.8 1650.5h77.8v14.2h-77.8zM2799.4 1637.0h77.8v14.2h-77.8zM2683.2 1623.4h58.4v14.2h-58.4zM2625.0 1609.9h39.0v14.2h-39.0zM2547.5 1569.2h19.7v14.2h-19.7zM2528.2 1555.7h19.7v14.2h-19.7zM2470.0 1542.1h39.0v14.2h-39.0zM2411.9 1528.6h39.0v14.2h-39.0zM2315.0 1515.0h19.7v14.2h-19.7zM2276.3 1501.5h19.7v14.2h-19.7zM2256.9 1487.9h19.7v14.2h-19.7zM2218.2 1474.4h19.7v14.2h-19.7zM1501.3 1460.8h19.7v14.2h-19.7zM2179.4 1460.8h19.7v14.2h-19.7zM2101.9 1447.3h39.0v14.2h-39.0zM1966.3 1433.7h135.9v14.2h-135.9zM1888.8 1406.6h19.7v14.2h-19.7zM1888.8 1393.1h58.4v14.2h-58.4zM1908.2 1379.5h39.0v14.2h-39.0zM1908.2 1366.0h39.0v14.2h-39.0zM1888.8 1352.4h58.4v14.2h-58.4zM1888.8 1338.9h77.8v14.2h-77.8zM1850.0 1325.3h39.0v14.2h-39.0zM2024.4 1325.3h39.0v14.2h-39.0zM2063.2 1271.1h19.7v14.2h-19.7zM2063.2 1257.6h19.7v14.2h-19.7zM2063.2 1244.0h19.7v14.2h-19.7zM2063.2 1230.5h19.7v14.2h-19.7zM2043.8 1203.4h19.7v14.2h-19.7zM2043.8 1189.8h58.4v14.2h-58.4zM2121.3 1176.3h19.7v14.2h-19.7zM2160.0 1162.7h39.0v14.2h-39.0zM2198.8 1149.2h39.0v14.2h-39.0zM2218.2 1135.6h19.7v14.2h-19.7zM2218.2 1122.1h19.7v14.2h-19.7zM2218.2 1054.3h19.7v14.2h-19.7zM2218.2 1040.8h19.7v14.2h-19.7zM2237.5 1013.7h19.7v14.2h-19.7zM2256.9 1000.1h19.7v14.2h-19.7zM2431.3 1000.1h252.2v14.2h-252.2zM2683.2 986.6h58.4v14.2h-58.4zM2741.3 973.0h39.0v14.2h-39.0zM2780.0 959.5h58.4v14.2h-58.4zM2838.2 945.9h39.0v14.2h-39.0zM2896.3 932.4h39.0v14.2h-39.0zM2935.0 918.8h39.0v14.2h-39.0zM1791.9 905.3h19.7v14.2h-19.7zM1830.7 905.3h19.7v14.2h-19.7zM3012.5 905.3h39.0v14.2h-39.0z"/>
<path fill="#b4b4b4" d="M1501.3 1786.0h19.7v14.2h-19.7zM1772.5 1786.0h39.0v14.2h-39.0zM1171.9 1745.4h19.7v14.2h-19.7zM1520.7 1745.4h19.7v14.2h-19.7zM1230.0 1731.8h19.7v14.2h-19.7zM1423.8 1718.3h19.7v14.2h-19.7zM1753.2 1704.7h39.0v14.2h-39.0zM2993.2 1664.1h58.4v14.2h-58.4zM2857.5 1650.5h116.5v14.2h-116.5zM2721.9 1637.0h77.8v14.2h-77.8zM2625.0 1623.4h58.4v14.2h-58.4zM2605.7 1609.9h19.7v14.2h-19.7zM2586.3 1596.3h19.7v14.2h-19.7zM2566.9 1582.8h19.7v14.2h-19.7zM2528.2 1569.2h19.7v14.2h-19.7zM2489.4 1555.7h39.0v14.2h-39.0zM2450.7 1542.1h19.7v14.2h-19.7zM2353.8 1528.6h58.4v14.2h-58.4zM2295.7 1515.0h19.7v14.2h-19.7zM2256.9 1501.5h19.7v14.2h-19.7zM2237.5 1487.9h19.7v14.2h-19.7zM2198.8 1474.4h19.7v14.2h-19.7zM2140.7 1460.8h39.0v14.2h-39.0zM1888.8 1447.3h77.8v14.2h-77.8zM2063.2 1447.3h39.0v14.2h-39.0zM1869.4 1433.7h19.7v14.2h-19.7zM1869.4 1420.2h19.7v14.2h-19.7zM1869.4 1406.6h19.7v14.2h-19.7zM1869.4 1393.1h19.7v14.2h-19.7zM1869.4 1379.5h39.0v14.2h-39.0zM1869.4 1366.0h39.0v14.2h-39.0zM1869.4 1352.4h19.7v14.2h-19.7zM1850.0 1338.9h39.0v14.2h-39.0zM1830.7 1325.3h19.7v14.2h-19.7zM1888.8 1325.3h135.9v14.2h-135.9zM1830.7 1311.8h58.4v14.2h-58.4zM2043.8 1311.8h19.7v14.2h-19.7zM2043.8 1216.9h19.7v14.2h-19.7zM2082.5 1176.3h39.0v14.2h-39.0zM2121.3 1162.7h39.0v14.2h-39.0zM2160.0 1149.2h39.0v14.2h-39.0zM2179.4 1135.6h39.0v14.2h-39.0zM2198.8 1122.1h19.7v14.2h-19.7zM2218.2 1108.5h19.7v14.2h-19.7zM2218.2 1095.0h19.7v14.2h-19.7zM2218.2 1081.4h19.7v14.2h-19.7zM2218.2 1067.9h19.7v14.2h-19.7zM2218.2 1027.2h19.7v14.2h-19.7zM2315.0 986.6h194.1v14.2h-194.1zM2586.3 986.6h97.2v14.2h-97.2zM2683.2 973.0h58.4v14.2h-58.4zM2741.3 959.5h39.0v14.2h-39.0zM2799.4 945.9h39.0v14.2h-39.0zM2857.5 932.4h39.0v14.2h-39.0zM2915.7 918.8h19.7v14.2h-19.7zM2973.8 905.3h39.0v14.2h-39.0z"/>
<path fill="#b7b7b7" d="M765.0 1853.8h39.0v14.2h-39.0zM1288.2 1853.8h19.7v14.2h-19.7zM765.0 1840.2h39.0v14.2h-39.0zM1268.8 1826.7h19.7v14.2h-19.7zM1365.7 1826.7h19.7v14.2h-19.7zM1520.7 1799.6h19.7v14.2h-19.7zM1733.8 1799.6h19.7v14.2h-19.7zM1811.3 1786.0h19.7v14.2h-19.7zM1830.7 1772.5h19.7v14.2h-19.7zM1171.9 1758.9h19.7v14.2h-19.7zM1481.9 1758.9h19.7v14.2h-19.7zM1210.7 1745.4h19.7v14.2h-19.7zM1850.0 1745.4h19.7v14.2h-19.7zM1850.0 1731.8h19.7v14.2h-19.7zM1443.2 1718.3h19.7v14.2h-19.7zM1714.4 1718.3h19.7v14.2h-19.7zM1733.8 1704.7h19.7v14.2h-19.7zM1830.7 1704.7h19.7v14.2h-19.7zM3012.5 1677.6h39.0v14.2h-39.0zM2954.4 1664.1h39.0v14.2h-39.0zM2780.0 1650.5h77.8v14.2h-77.8zM2663.8 1637.0h58.4v14.2h-58.4zM2605.7 1623.4h19.7v14.2h-19.7zM2586.3 1609.9h19.7v14.2h-19.7zM2566.9 1596.3h19.7v14.2h-19.7zM2547.5 1582.8h19.7v14.2h-19.7zM2508.8 1569.2h19.7v14.2h-19.7zM1288.2 1555.7h19.7v14.2h-19.7zM2470.0 1555.7h19.7v14.2h-19.7zM2411.9 1542.1h39.0v14.2h-39.0zM2315.0 1528.6h39.0v14.2h-39.0zM2276.3 1515.0h19.7v14.2h-19.7zM2237.5 1501.5h19.7v14.2h-19.7zM2218.2 1487.9h19.7v14.2h-19.7zM2160.0 1474.4h39.0v14.2h-39.0zM2101.9 1460.8h39.0v14.2h-39.0zM1966.3 1447.3h19.7v14.2h-19.7zM2024.4 1447.3h39.0v14.2h-39.0zM1850.0 1366.0h19.7v14.2h-19.7zM1850.0 1352.4h19.7v14.2h-19.7zM1830.7 1338.9h19.7v14.2h-19.7zM1888.8 1311.8h19.7v14.2h-19.7zM2024.4 1311.8h19.7v14.2h-19.7zM1850.0 1298.2h19.7v14.2h-19.7zM2043.8 1298.2h19.7v14.2h-19.7zM2043.8 1230.5h19.7v14.2h-19.7zM2024.4 1203.4h19.7v14.2h-19.7zM2024.4 1189.8h19.7v14.2h-19.7zM2043.8 1176.3h39.0v14.2h-39.0zM2101.9 1162.7h19.7v14.2h-19.7zM2121.3 1149.2h39.0v14.2h-39.0zM2160.0 1135.6h19.7v14.2h-19.7zM2179.4 1122.1h19.7v14.2h-19.7zM2179.4 1108.5h39.0v14.2h-39.0zM2198.8 1095.0h19.7v14.2h-19.7zM2198.8 1081.4h19.7v14.2h-19.7zM2198.8 1067.9h19.7v14.2h-19.7zM2198.8 1054.3h19.7v14.2h-19.7zM2237.5 1000.1h19.7v14.2h-19.7zM2276.3 986.6h39.0v14.2h-39.0zM2508.8 986.6h77.8v14.2h-77.8zM2605.7 973.0h77.8v14.2h-77.8zM2702.5 959.5h39.0v14.2h-39.0zM2741.3 945.9h58.4v14.2h-58.4zM2799.4 932.4h58.4v14.2h-58.4zM2857.5 918.8h58.4v14.2h-58.4zM2935.0 905.3h39.0v14.2h-39.0zM3012.5 891.7h39.0v14.2h-39.0z"/>
<path fill="#bababa" d="M687.5 1840.2h19.7v14.2h-19.7zM765.0 1826.7h19.7v14.2h-19.7zM1365.7 1813.1h19.7v14.2h-19.7zM1695.0 1813.1h19.7v14.2h-19.7zM1753.2 1799.6h19.7v14.2h-19.7zM1230.0 1786.0h19.7v14.2h-19.7zM1481.9 1772.5h19.7v14.2h-19.7zM1113.8 1758.9h19.7v14.2h-19.7zM1210.7 1758.9h19.7v14.2h-19.7zM1481.9 1745.4h19.7v14.2h-19.7zM1094.4 1731.8h19.7v14.2h-19.7zM1171.9 1731.8h19.7v14.2h-19.7zM1113.8 1718.3h39.0v14.2h-39.0zM1753.2 1691.2h77.8v14.2h-77.8zM3031.9 1691.2h19.7v14.2h-19.7zM2973.8 1677.6h39.0v14.2h-39.0zM2818.8 1664.1h135.9v14.2h-135.9zM1559.4 1650.5h19.7v14.2h-19.7zM2702.5 1650.5h77.8v14.2h-77.8zM2605.7 1637.0h58.4v14.2h-58.4zM1617.5 1623.4h19.7v14.2h-19.7zM2586.3 1623.4h19.7v14.2h-19.7zM1423.8 1596.3h19.7v14.2h-19.7zM2508.8 1582.8h39.0v14.2h-39.0zM1268.8 1569.2h19.7v14.2h-19.7zM2470.0 1569.2h39.0v14.2h-39.0zM2411.9 1555.7h58.4v14.2h-58.4zM1559.4 1542.1h19.7v14.2h-19.7zM2334.4 1542.1h77.8v14.2h-77.8zM2276.3 1528.6h39.0v14.2h-39.0zM1540.0 1515.0h19.7v14.2h-19.7zM1578.8 1515.0h19.7v14.2h-19.7zM2237.5 1515.0h39.0v14.2h-39.0zM2218.2 1501.5h19.7v14.2h-19.7zM2198.8 1487.9h19.7v14.2h-19.7zM2121.3 1474.4h39.0v14.2h-39.0zM2043.8 1460.8h58.4v14.2h-58.4zM1869.4 1447.3h19.7v14.2h-19.7zM1985.7 1447.3h39.0v14.2h-39.0zM1675.7 1433.7h19.7v14.2h-19.7zM1850.0 1406.6h19.7v14.2h-19.7zM1850.0 1393.1h19.7v14.2h-19.7zM1850.0 1379.5h19.7v14.2h-19.7zM1830.7 1366.0h19.7v14.2h-19.7zM1830.7 1352.4h19.7v14.2h-19.7zM1811.3 1325.3h19.7v14.2h-19.7zM1811.3 1311.8h19.7v14.2h-19.7zM1908.2 1311.8h19.7v14.2h-19.7zM1966.3 1311.8h58.4v14.2h-58.4zM1830.7 1298.2h19.7v14.2h-19.7zM1869.4 1298.2h19.7v14.2h-19.7zM2043.8 1284.7h19.7v14.2h-19.7zM2043.8 1244.0h19.7v14.2h-19.7zM1540.0 1216.9h19.7v14.2h-19.7zM2024.4 1216.9h19.7v14.2h-19.7zM1559.4 1203.4h19.7v14.2h-19.7zM1540.0 1189.8h39.0v14.2h-39.0zM2024.4 1176.3h19.7v14.2h-19.7zM2082.5 1162.7h19.7v14.2h-19.7zM2140.7 1135.6h19.7v14.2h-19.7zM2140.7 1122.1h39.0v14.2h-39.0zM2160.0 1108.5h19.7v14.2h-19.7zM2160.0 1095.0h39.0v14.2h-39.0zM2179.4 1081.4h19.7v14.2h-19.7zM2179.4 1067.9h19.7v14.2h-19.7zM2198.8 1040.8h19.7v14.2h-19.7zM2218.2 1013.7h19.7v14.2h-19.7zM1598.2 986.6h19.7v14.2h-19.7zM2315.0 973.0h290.9v14.2h-290.9zM2625.0 959.5h77.8v14.2h-77.8zM2702.5 945.9h39.0v14.2h-39.0zM2760.7 932.4h39.0v14.2h-39.0zM2818.8 918.8h39.0v14.2h-39.0zM2876.9 905.3h58.4v14.2h-58.4zM2954.4 891.7h58.4v14.2h-58.4z"/>
<path fill="#bdbdbd" d="M1675.7 1813.1h19.7v14.2h-19.7zM1714.4 1813.1h19.7v14.2h-19.7zM1501.3 1799.6h19.7v14.2h-19.7zM1772.5 1799.6h39.0v14.2h-39.0zM1346.3 1772.5h19.7v14.2h-19.7zM1850.0 1758.9h19.7v14.2h-19.7zM1094.4 1745.4h19.7v14.2h-19.7zM1191.3 1745.4h19.7v14.2h-19.7zM1210.7 1731.8h19.7v14.2h-19.7zM1152.5 1718.3h19.7v14.2h-19.7zM1404.4 1718.3h19.7v14.2h-19.7zM1462.5 1718.3h19.7v14.2h-19.7zM1695.0 1718.3h19.7v14.2h-19.7zM1850.0 1718.3h19.7v14.2h-19.7zM1462.5 1704.7h19.7v14.2h-19.7zM1714.4 1704.7h19.7v14.2h-19.7zM3012.5 1704.7h39.0v14.2h-39.0zM1733.8 1691.2h19.7v14.2h-19.7zM2973.8 1691.2h58.4v14.2h-58.4zM1753.2 1677.6h19.7v14.2h-19.7zM2896.3 1677.6h77.8v14.2h-77.8zM2741.3 1664.1h77.8v14.2h-77.8zM2625.0 1650.5h77.8v14.2h-77.8zM2586.3 1637.0h19.7v14.2h-19.7zM2566.9 1609.9h19.7v14.2h-19.7zM2528.2 1596.3h39.0v14.2h-39.0zM2489.4 1582.8h19.7v14.2h-19.7zM2411.9 1569.2h58.4v14.2h-58.4zM2353.8 1555.7h58.4v14.2h-58.4zM2276.3 1542.1h58.4v14.2h-58.4zM2237.5 1528.6h39.0v14.2h-39.0zM2218.2 1515.0h19.7v14.2h-19.7zM2198.8 1501.5h19.7v14.2h-19.7zM2160.0 1487.9h39.0v14.2h-39.0zM2043.8 1474.4h77.8v14.2h-77.8zM1171.9 1460.8h19.7v14.2h-19.7zM1908.2 1460.8h39.0v14.2h-39.0zM2024.4 1460.8h19.7v14.2h-19.7zM1501.3 1433.7h19.7v14.2h-19.7zM1850.0 1420.2h19.7v14.2h-19.7zM1830.7 1379.5h19.7v14.2h-19.7zM1811.3 1352.4h19.7v14.2h-19.7zM1811.3 1338.9h19.7v14.2h-19.7zM1927.5 1311.8h39.0v14.2h-39.0zM1811.3 1298.2h19.7v14.2h-19.7zM2024.4 1298.2h19.7v14.2h-19.7zM2043.8 1271.1h19.7v14.2h-19.7zM2043.8 1257.6h19.7v14.2h-19.7zM2024.4 1230.5h19.7v14.2h-19.7zM2063.2 1162.7h19.7v14.2h-19.7zM2101.9 1149.2h19.7v14.2h-19.7zM2121.3 1135.6h19.7v14.2h-19.7zM2140.7 1108.5h19.7v14.2h-19.7zM1966.3 1095.0h19.7v14.2h-19.7zM2140.7 1095.0h19.7v14.2h-19.7zM1946.9 1081.4h39.0v14.2h-39.0zM2160.0 1081.4h19.7v14.2h-19.7zM1946.9 1067.9h39.0v14.2h-39.0zM2160.0 1067.9h19.7v14.2h-19.7zM2179.4 1054.3h19.7v14.2h-19.7zM2198.8 1027.2h19.7v14.2h-19.7zM2256.9 986.6h19.7v14.2h-19.7zM1598.2 973.0h19.7v14.2h-19.7zM2295.7 973.0h19.7v14.2h-19.7zM2334.4 959.5h194.1v14.2h-194.1zM2547.5 959.5h77.8v14.2h-77.8zM2625.0 945.9h77.8v14.2h-77.8zM2702.5 932.4h58.4v14.2h-58.4zM2760.7 918.8h58.4v14.2h-58.4zM2838.2 905.3h39.0v14.2h-39.0zM2915.7 891.7h39.0v14.2h-39.0zM3012.5 878.2h39.0v14.2h-39.0zM2605.7 851.1h58.4v14.2h-58.4zM2605.7 837.5h97.2v14.2h-97.2zM2625.0 824.0h116.5v14.2h-116.5zM2683.2 810.4h77.8v14.2h-77.8z"/>
<path fill="#c0c0c0" d="M1385.0 1853.8h19.7v14.2h-19.7zM687.5 1826.7h19.7v14.2h-19.7zM1656.3 1813.1h19.7v14.2h-19.7zM1733.8 1813.1h19.7v14.2h-19.7zM1811.3 1799.6h19.7v14.2h-19.7zM1481.9 1786.0h19.7v14.2h-19.7zM1830.7 1786.0h19.7v14.2h-19.7zM1346.3 1758.9h19.7v14.2h-19.7zM1462.5 1745.4h19.7v14.2h-19.7zM1191.3 1731.8h19.7v14.2h-19.7zM1423.8 1731.8h155.3v14.2h-155.3zM1094.4 1718.3h19.7v14.2h-19.7zM1249.4 1718.3h58.4v14.2h-58.4zM1656.3 1718.3h39.0v14.2h-39.0zM3012.5 1718.3h39.0v14.2h-39.0zM2973.8 1704.7h39.0v14.2h-39.0zM2935.0 1691.2h39.0v14.2h-39.0zM1733.8 1677.6h19.7v14.2h-19.7zM1772.5 1677.6h39.0v14.2h-39.0zM2780.0 1677.6h116.5v14.2h-116.5zM1753.2 1664.1h19.7v14.2h-19.7zM2663.8 1664.1h77.8v14.2h-77.8zM2605.7 1650.5h19.7v14.2h-19.7zM1404.4 1623.4h19.7v14.2h-19.7zM2566.9 1623.4h19.7v14.2h-19.7zM2547.5 1609.9h19.7v14.2h-19.7zM2489.4 1596.3h39.0v14.2h-39.0zM2411.9 1582.8h77.8v14.2h-77.8zM2353.8 1569.2h58.4v14.2h-58.4zM2295.7 1555.7h58.4v14.2h-58.4zM2218.2 1542.1h58.4v14.2h-58.4zM2218.2 1528.6h19.7v14.2h-19.7zM2198.8 1515.0h19.7v14.2h-19.7zM2179.4 1501.5h19.7v14.2h-19.7zM2063.2 1487.9h97.2v14.2h-97.2zM2024.4 1474.4h19.7v14.2h-19.7zM1888.8 1460.8h19.7v14.2h-19.7zM1946.9 1460.8h77.8v14.2h-77.8zM1850.0 1433.7h19.7v14.2h-19.7zM1675.7 1420.2h19.7v14.2h-19.7zM1733.8 1406.6h19.7v14.2h-19.7zM1830.7 1393.1h19.7v14.2h-19.7zM1811.3 1379.5h19.7v14.2h-19.7zM1811.3 1366.0h19.7v14.2h-19.7zM1888.8 1298.2h19.7v14.2h-19.7zM2005.0 1298.2h19.7v14.2h-19.7zM1830.7 1284.7h39.0v14.2h-39.0zM2005.0 1216.9h19.7v14.2h-19.7zM2005.0 1203.4h19.7v14.2h-19.7zM2005.0 1189.8h19.7v14.2h-19.7zM2043.8 1162.7h19.7v14.2h-19.7zM2082.5 1149.2h19.7v14.2h-19.7zM2101.9 1135.6h19.7v14.2h-19.7zM2121.3 1122.1h19.7v14.2h-19.7zM1946.9 1108.5h39.0v14.2h-39.0zM2121.3 1108.5h19.7v14.2h-19.7zM1946.9 1095.0h19.7v14.2h-19.7zM1985.7 1081.4h19.7v14.2h-19.7zM2140.7 1081.4h19.7v14.2h-19.7zM1985.7 1067.9h19.7v14.2h-19.7zM2140.7 1067.9h19.7v14.2h-19.7zM2160.0 1054.3h19.7v14.2h-19.7zM2179.4 1040.8h19.7v14.2h-19.7zM2198.8 1013.7h19.7v14.2h-19.7zM2218.2 1000.1h19.7v14.2h-19.7zM2237.5 986.6h19.7v14.2h-19.7zM2276.3 973.0h19.7v14.2h-19.7zM2315.0 959.5h19.7v14.2h-19.7zM2528.2 959.5h19.7v14.2h-19.7zM2450.7 945.9h58.4v14.2h-58.4zM2566.9 945.9h58.4v14.2h-58.4zM2625.0 932.4h77.8v14.2h-77.8zM2663.8 918.8h97.2v14.2h-97.2zM2741.3 905.3h97.2v14.2h-97.2zM1811.3 891.7h19.7v14.2h-19.7zM2586.3 891.7h77.8v14.2h-77.8zM2857.5 891.7h58.4v14.2h-58.4zM2547.5 878.2h135.9v14.2h-135.9zM2954.4 878.2h58.4v14.2h-58.4zM2528.2 864.6h174.7v14.2h-174.7zM2547.5 851.1h58.4v14.2h-58.4zM2663.8 851.1h58.4v14.2h-58.4zM2566.9 837.5h39.0v14.2h-39.0zM2702.5 837.5h58.4v14.2h-58.4zM2586.3 824.0h39.0v14.2h-39.0zM2741.3 824.0h58.4v14.2h-58.4zM2625.0 810.4h58.4v14.2h-58.4zM2760.7 810.4h58.4v14.2h-58.4zM2683.2 796.9h135.9v14.2h-135.9z"/>
<path fill="#c3c3c3" d="M745.7 1853.8h19.7v14.2h-19.7zM1268.8 1840.2h19.7v14.2h-19.7zM1385.0 1840.2h19.7v14.2h-19.7zM1152.5 1813.1h19.7v14.2h-19.7zM1540.0 1813.1h58.4v14.2h-58.4zM1636.9 1813.1h19.7v14.2h-19.7zM1753.2 1813.1h19.7v14.2h-19.7zM1230.0 1799.6h19.7v14.2h-19.7zM1365.7 1799.6h19.7v14.2h-19.7zM1210.7 1772.5h19.7v14.2h-19.7zM1191.3 1758.9h19.7v14.2h-19.7zM1462.5 1758.9h19.7v14.2h-19.7zM1346.3 1745.4h19.7v14.2h-19.7zM1869.4 1731.8h19.7v14.2h-19.7zM1966.3 1731.8h39.0v14.2h-39.0zM2993.2 1731.8h58.4v14.2h-58.4zM1171.9 1718.3h19.7v14.2h-19.7zM1307.5 1718.3h19.7v14.2h-19.7zM2973.8 1718.3h39.0v14.2h-39.0zM2935.0 1704.7h39.0v14.2h-39.0zM1404.4 1691.2h19.7v14.2h-19.7zM1714.4 1691.2h19.7v14.2h-19.7zM1830.7 1691.2h19.7v14.2h-19.7zM2799.4 1691.2h135.9v14.2h-135.9zM1811.3 1677.6h19.7v14.2h-19.7zM2702.5 1677.6h77.8v14.2h-77.8zM1733.8 1664.1h19.7v14.2h-19.7zM1772.5 1664.1h19.7v14.2h-19.7zM2605.7 1664.1h58.4v14.2h-58.4zM1753.2 1650.5h19.7v14.2h-19.7zM2586.3 1650.5h19.7v14.2h-19.7zM2566.9 1637.0h19.7v14.2h-19.7zM1559.4 1623.4h19.7v14.2h-19.7zM2547.5 1623.4h19.7v14.2h-19.7zM1230.0 1609.9h19.7v14.2h-19.7zM2508.8 1609.9h39.0v14.2h-39.0zM2450.7 1596.3h39.0v14.2h-39.0zM2353.8 1582.8h58.4v14.2h-58.4zM2315.0 1569.2h39.0v14.2h-39.0zM2198.8 1555.7h97.2v14.2h-97.2zM2179.4 1542.1h39.0v14.2h-39.0zM1559.4 1528.6h19.7v14.2h-19.7zM2179.4 1528.6h39.0v14.2h-39.0zM2179.4 1515.0h19.7v14.2h-19.7zM2140.7 1501.5h39.0v14.2h-39.0zM2043.8 1487.9h19.7v14.2h-19.7zM1869.4 1460.8h19.7v14.2h-19.7zM1850.0 1447.3h19.7v14.2h-19.7zM1830.7 1406.6h19.7v14.2h-19.7zM1791.9 1366.0h19.7v14.2h-19.7zM1791.9 1352.4h19.7v14.2h-19.7zM1791.9 1338.9h19.7v14.2h-19.7zM1791.9 1325.3h19.7v14.2h-19.7zM1791.9 1311.8h19.7v14.2h-19.7zM1908.2 1298.2h97.2v14.2h-97.2zM1811.3 1284.7h19.7v14.2h-19.7zM1869.4 1284.7h19.7v14.2h-19.7zM2024.4 1284.7h19.7v14.2h-19.7zM2024.4 1271.1h19.7v14.2h-19.7zM2024.4 1257.6h19.7v14.2h-19.7zM2024.4 1244.0h19.7v14.2h-19.7zM1501.3 1230.5h39.0v14.2h-39.0zM2005.0 1230.5h19.7v14.2h-19.7zM1520.7 1203.4h19.7v14.2h-19.7zM2005.0 1176.3h19.7v14.2h-19.7zM2024.4 1162.7h19.7v14.2h-19.7zM1946.9 1122.1h39.0v14.2h-39.0zM1985.7 1095.0h19.7v14.2h-19.7zM2121.3 1095.0h19.7v14.2h-19.7zM1927.5 1081.4h19.7v14.2h-19.7zM2121.3 1081.4h19.7v14.2h-19.7zM1927.5 1067.9h19.7v14.2h-19.7zM2121.3 1067.9h19.7v14.2h-19.7zM1946.9 1054.3h58.4v14.2h-58.4zM2140.7 1054.3h19.7v14.2h-19.7zM2160.0 1040.8h19.7v14.2h-19.7zM2179.4 1027.2h19.7v14.2h-19.7zM1578.8 1013.7h19.7v14.2h-19.7zM1598.2 1000.1h19.7v14.2h-19.7zM2256.9 973.0h19.7v14.2h-19.7zM2295.7 959.5h19.7v14.2h-19.7zM2315.0 945.9h135.9v14.2h-135.9zM2508.8 945.9h58.4v14.2h-58.4zM2431.3 932.4h194.1v14.2h-194.1zM2528.2 918.8h135.9v14.2h-135.9zM2508.8 905.3h232.8v14.2h-232.8zM1830.7 891.7h19.7v14.2h-19.7zM2470.0 891.7h116.5v14.2h-116.5zM2663.8 891.7h194.1v14.2h-194.1zM2470.0 878.2h77.8v14.2h-77.8zM2683.2 878.2h58.4v14.2h-58.4zM2896.3 878.2h58.4v14.2h-58.4zM2470.0 864.6h58.4v14.2h-58.4zM2702.5 864.6h39.0v14.2h-39.0zM3012.5 864.6h39.0v14.2h-39.0zM1830.7 851.1h19.7v14.2h-19.7zM2489.4 851.1h58.4v14.2h-58.4zM2721.9 851.1h39.0v14.2h-39.0zM2528.2 837.5h39.0v14.2h-39.0zM2760.7 837.5h39.0v14.2h-39.0zM2566.9 824.0h19.7v14.2h-19.7zM2799.4 824.0h39.0v14.2h-39.0zM2586.3 810.4h39.0v14.2h-39.0zM2818.8 810.4h58.4v14.2h-58.4zM2625.0 796.9h58.4v14.2h-58.4zM2818.8 796.9h58.4v14.2h-58.4zM2721.9 783.3h135.9v14.2h-135.9z"/>
<path fill="#c6c6c6" d="M706.9 1853.8h19.7v14.2h-19.7zM803.8 1853.8h19.7v14.2h-19.7zM745.7 1840.2h19.7v14.2h-19.7zM803.8 1840.2h19.7v14.2h-19.7zM1249.4 1826.7h19.7v14.2h-19.7zM765.0 1813.1h39.0v14.2h-39.0zM1055.7 1813.1h19.7v14.2h-19.7zM1520.7 1813.1h19.7v14.2h-19.7zM1598.2 1813.1h39.0v14.2h-39.0zM1772.5 1813.1h39.0v14.2h-39.0zM1133.2 1799.6h19.7v14.2h-19.7zM1462.5 1772.5h19.7v14.2h-19.7zM1850.0 1772.5h19.7v14.2h-19.7zM1094.4 1758.9h19.7v14.2h-19.7zM3012.5 1758.9h39.0v14.2h-39.0zM1075.0 1745.4h19.7v14.2h-19.7zM1443.2 1745.4h19.7v14.2h-19.7zM1869.4 1745.4h19.7v14.2h-19.7zM2993.2 1745.4h58.4v14.2h-58.4zM1075.0 1731.8h19.7v14.2h-19.7zM1927.5 1731.8h39.0v14.2h-39.0zM2005.0 1731.8h19.7v14.2h-19.7zM2954.4 1731.8h39.0v14.2h-39.0zM1230.0 1718.3h19.7v14.2h-19.7zM1481.9 1718.3h19.7v14.2h-19.7zM1636.9 1718.3h19.7v14.2h-19.7zM2915.7 1718.3h58.4v14.2h-58.4zM1113.8 1704.7h39.0v14.2h-39.0zM1695.0 1704.7h19.7v14.2h-19.7zM1850.0 1704.7h19.7v14.2h-19.7zM2799.4 1704.7h135.9v14.2h-135.9zM1462.5 1691.2h19.7v14.2h-19.7zM2741.3 1691.2h58.4v14.2h-58.4zM1714.4 1677.6h19.7v14.2h-19.7zM2625.0 1677.6h77.8v14.2h-77.8zM1791.9 1664.1h19.7v14.2h-19.7zM2586.3 1664.1h19.7v14.2h-19.7zM1733.8 1650.5h19.7v14.2h-19.7zM1772.5 1650.5h19.7v14.2h-19.7zM2566.9 1650.5h19.7v14.2h-19.7zM1598.2 1637.0h19.7v14.2h-19.7zM1753.2 1637.0h19.7v14.2h-19.7zM2547.5 1637.0h19.7v14.2h-19.7zM2508.8 1623.4h39.0v14.2h-39.0zM2470.0 1609.9h39.0v14.2h-39.0zM2353.8 1596.3h97.2v14.2h-97.2zM2179.4 1582.8h58.4v14.2h-58.4zM2315.0 1582.8h39.0v14.2h-39.0zM2179.4 1569.2h135.9v14.2h-135.9zM2160.0 1555.7h39.0v14.2h-39.0zM2160.0 1542.1h19.7v14.2h-19.7zM1540.0 1528.6h19.7v14.2h-19.7zM2160.0 1528.6h19.7v14.2h-19.7zM1559.4 1515.0h19.7v14.2h-19.7zM2140.7 1515.0h39.0v14.2h-39.0zM2043.8 1501.5h97.2v14.2h-97.2zM2024.4 1487.9h19.7v14.2h-19.7zM2005.0 1474.4h19.7v14.2h-19.7zM1830.7 1420.2h19.7v14.2h-19.7zM1811.3 1393.1h19.7v14.2h-19.7zM1733.8 1379.5h19.7v14.2h-19.7zM1791.9 1379.5h19.7v14.2h-19.7zM1791.9 1298.2h19.7v14.2h-19.7zM1888.8 1284.7h19.7v14.2h-19.7zM2005.0 1284.7h19.7v14.2h-19.7zM2005.0 1244.0h19.7v14.2h-19.7zM2005.0 1162.7h19.7v14.2h-19.7zM2043.8 1149.2h39.0v14.2h-39.0zM2082.5 1135.6h19.7v14.2h-19.7zM2101.9 1122.1h19.7v14.2h-19.7zM1985.7 1108.5h19.7v14.2h-19.7zM1927.5 1095.0h19.7v14.2h-19.7zM2005.0 1081.4h19.7v14.2h-19.7zM2101.9 1081.4h19.7v14.2h-19.7zM2005.0 1067.9h39.0v14.2h-39.0zM2082.5 1067.9h39.0v14.2h-39.0zM1927.5 1054.3h19.7v14.2h-19.7zM2005.0 1054.3h19.7v14.2h-19.7zM2082.5 1054.3h58.4v14.2h-58.4zM2140.7 1040.8h19.7v14.2h-19.7zM2160.0 1027.2h19.7v14.2h-19.7zM2179.4 1013.7h19.7v14.2h-19.7zM2198.8 1000.1h19.7v14.2h-19.7zM2218.2 986.6h19.7v14.2h-19.7zM2237.5 973.0h19.7v14.2h-19.7zM2276.3 959.5h19.7v14.2h-19.7zM2295.7 945.9h19.7v14.2h-19.7zM2315.0 932.4h116.5v14.2h-116.5zM1811.3 918.8h19.7v14.2h-19.7zM2353.8 918.8h174.7v14.2h-174.7zM2392.5 905.3h116.5v14.2h-116.5zM1791.9 891.7h19.7v14.2h-19.7zM2392.5 891.7h77.8v14.2h-77.8zM2411.9 878.2h58.4v14.2h-58.4zM2741.3 878.2h155.3v14.2h-155.3zM2431.3 864.6h39.0v14.2h-39.0zM2741.3 864.6h39.0v14.2h-39.0zM2935.0 864.6h77.8v14.2h-77.8zM2470.0 851.1h19.7v14.2h-19.7zM2760.7 851.1h39.0v14.2h-39.0zM2489.4 837.5h39.0v14.2h-39.0zM2799.4 837.5h39.0v14.2h-39.0zM2528.2 824.0h39.0v14.2h-39.0zM2838.2 824.0h39.0v14.2h-39.0zM2566.9 810.4h19.7v14.2h-19.7zM2876.9 810.4h58.4v14.2h-58.4zM2605.7 796.9h19.7v14.2h-19.7zM2876.9 796.9h77.8v14.2h-77.8zM2663.8 783.3h58.4v14.2h-58.4zM2857.5 783.3h77.8v14.2h-77.8zM2780.0 769.8h97.2v14.2h-97.2z"/>
<path fill="#c9c9c9" d="M1268.8 1853.8h19.7v14.2h-19.7zM745.7 1826.7h19.7v14.2h-19.7zM803.8 1826.7h19.7v14.2h-19.7zM1055.7 1826.7h19.7v14.2h-19.7zM1675.7 1826.7h58.4v14.2h-58.4zM1811.3 1813.1h19.7v14.2h-19.7zM1481.9 1799.6h19.7v14.2h-19.7zM1830.7 1799.6h19.7v14.2h-19.7zM1171.9 1786.0h19.7v14.2h-19.7zM3012.5 1786.0h39.0v14.2h-39.0zM2993.2 1772.5h58.4v14.2h-58.4zM2954.4 1758.9h58.4v14.2h-58.4zM1927.5 1745.4h97.2v14.2h-97.2zM2935.0 1745.4h58.4v14.2h-58.4zM1404.4 1731.8h19.7v14.2h-19.7zM1888.8 1731.8h39.0v14.2h-39.0zM2024.4 1731.8h19.7v14.2h-19.7zM2838.2 1731.8h116.5v14.2h-116.5zM1075.0 1718.3h19.7v14.2h-19.7zM1191.3 1718.3h19.7v14.2h-19.7zM1501.3 1718.3h58.4v14.2h-58.4zM1617.5 1718.3h19.7v14.2h-19.7zM1869.4 1718.3h19.7v14.2h-19.7zM1927.5 1718.3h97.2v14.2h-97.2zM2799.4 1718.3h116.5v14.2h-116.5zM1152.5 1704.7h19.7v14.2h-19.7zM1481.9 1704.7h19.7v14.2h-19.7zM1675.7 1704.7h19.7v14.2h-19.7zM2741.3 1704.7h58.4v14.2h-58.4zM2663.8 1691.2h77.8v14.2h-77.8zM1830.7 1677.6h19.7v14.2h-19.7zM2586.3 1677.6h39.0v14.2h-39.0zM1714.4 1664.1h19.7v14.2h-19.7zM1811.3 1664.1h19.7v14.2h-19.7zM2566.9 1664.1h19.7v14.2h-19.7zM1791.9 1650.5h19.7v14.2h-19.7zM2547.5 1650.5h19.7v14.2h-19.7zM1733.8 1637.0h19.7v14.2h-19.7zM1772.5 1637.0h19.7v14.2h-19.7zM2508.8 1637.0h39.0v14.2h-39.0zM1753.2 1623.4h19.7v14.2h-19.7zM2470.0 1623.4h39.0v14.2h-39.0zM2218.2 1609.9h19.7v14.2h-19.7zM2353.8 1609.9h116.5v14.2h-116.5zM2179.4 1596.3h97.2v14.2h-97.2zM2295.7 1596.3h58.4v14.2h-58.4zM2160.0 1582.8h19.7v14.2h-19.7zM2237.5 1582.8h77.8v14.2h-77.8zM2160.0 1569.2h19.7v14.2h-19.7zM2140.7 1555.7h19.7v14.2h-19.7zM2140.7 1542.1h19.7v14.2h-19.7zM2121.3 1528.6h39.0v14.2h-39.0zM2063.2 1515.0h77.8v14.2h-77.8zM2024.4 1501.5h19.7v14.2h-19.7zM2005.0 1487.9h19.7v14.2h-19.7zM1888.8 1474.4h116.5v14.2h-116.5zM1850.0 1460.8h19.7v14.2h-19.7zM1830.7 1433.7h19.7v14.2h-19.7zM1733.8 1420.2h19.7v14.2h-19.7zM1791.9 1393.1h19.7v14.2h-19.7zM1714.4 1379.5h19.7v14.2h-19.7zM1772.5 1379.5h19.7v14.2h-19.7zM1772.5 1366.0h19.7v14.2h-19.7zM1772.5 1352.4h19.7v14.2h-19.7zM1772.5 1338.9h19.7v14.2h-19.7zM1772.5 1325.3h19.7v14.2h-19.7zM1772.5 1311.8h19.7v14.2h-19.7zM1791.9 1284.7h19.7v14.2h-19.7zM1908.2 1284.7h97.2v14.2h-97.2zM1811.3 1271.1h58.4v14.2h-58.4zM2005.0 1271.1h19.7v14.2h-19.7zM2005.0 1257.6h19.7v14.2h-19.7zM1753.2 1230.5h39.0v14.2h-39.0zM1753.2 1216.9h39.0v14.2h-39.0zM1985.7 1216.9h19.7v14.2h-19.7zM1985.7 1203.4h19.7v14.2h-19.7zM1985.7 1189.8h19.7v14.2h-19.7zM1985.7 1176.3h19.7v14.2h-19.7zM2024.4 1149.2h19.7v14.2h-19.7zM1946.9 1135.6h39.0v14.2h-39.0zM1985.7 1122.1h19.7v14.2h-19.7zM1927.5 1108.5h19.7v14.2h-19.7zM2101.9 1108.5h19.7v14.2h-19.7zM2101.9 1095.0h19.7v14.2h-19.7zM1908.2 1081.4h19.7v14.2h-19.7zM2082.5 1081.4h19.7v14.2h-19.7zM1908.2 1067.9h19.7v14.2h-19.7zM2043.8 1067.9h39.0v14.2h-39.0zM1908.2 1054.3h19.7v14.2h-19.7zM2024.4 1054.3h58.4v14.2h-58.4zM1946.9 1040.8h58.4v14.2h-58.4zM2121.3 1040.8h19.7v14.2h-19.7zM2256.9 959.5h19.7v14.2h-19.7zM2276.3 945.9h19.7v14.2h-19.7zM2295.7 932.4h19.7v14.2h-19.7zM1791.9 918.8h19.7v14.2h-19.7zM2315.0 918.8h39.0v14.2h-39.0zM2334.4 905.3h58.4v14.2h-58.4zM2353.8 891.7h39.0v14.2h-39.0zM2373.2 878.2h39.0v14.2h-39.0zM2411.9 864.6h19.7v14.2h-19.7zM2780.0 864.6h155.3v14.2h-155.3zM2431.3 851.1h39.0v14.2h-39.0zM2799.4 851.1h39.0v14.2h-39.0zM2935.0 851.1h116.5v14.2h-116.5zM2470.0 837.5h19.7v14.2h-19.7zM2838.2 837.5h58.4v14.2h-58.4zM2993.2 837.5h58.4v14.2h-58.4zM2508.8 824.0h19.7v14.2h-19.7zM2876.9 824.0h116.5v14.2h-116.5zM2547.5 810.4h19.7v14.2h-19.7zM2935.0 810.4h97.2v14.2h-97.2zM2586.3 796.9h19.7v14.2h-19.7zM2954.4 796.9h97.2v14.2h-97.2zM2625.0 783.3h39.0v14.2h-39.0zM2935.0 783.3h77.8v14.2h-77.8zM2702.5 769.8h77.8v14.2h-77.8zM2876.9 769.8h97.2v14.2h-97.2z"/>
<path fill="#cccccc" d="M1036.3 1840.2h19.7v14.2h-19.7zM1385.0 1826.7h19.7v14.2h-19.7zM1733.8 1826.7h39.0v14.2h-39.0zM3012.5 1826.7h39.0v14.2h-39.0zM1501.3 1813.1h19.7v14.2h-19.7zM2993.2 1813.1h58.4v14.2h-58.4zM1055.7 1799.6h19.7v14.2h-19.7zM2973.8 1799.6h77.8v14.2h-77.8zM706.9 1786.0h19.7v14.2h-19.7zM1462.5 1786.0h19.7v14.2h-19.7zM1850.0 1786.0h19.7v14.2h-19.7zM2954.4 1786.0h58.4v14.2h-58.4zM1036.3 1772.5h19.7v14.2h-19.7zM1191.3 1772.5h19.7v14.2h-19.7zM2915.7 1772.5h77.8v14.2h-77.8zM1075.0 1758.9h19.7v14.2h-19.7zM1443.2 1758.9h19.7v14.2h-19.7zM1869.4 1758.9h19.7v14.2h-19.7zM2838.2 1758.9h116.5v14.2h-116.5zM1423.8 1745.4h19.7v14.2h-19.7zM1888.8 1745.4h39.0v14.2h-39.0zM2024.4 1745.4h19.7v14.2h-19.7zM2799.4 1745.4h135.9v14.2h-135.9zM1578.8 1731.8h58.4v14.2h-58.4zM2780.0 1731.8h58.4v14.2h-58.4zM1210.7 1718.3h19.7v14.2h-19.7zM1385.0 1718.3h19.7v14.2h-19.7zM1559.4 1718.3h58.4v14.2h-58.4zM1888.8 1718.3h39.0v14.2h-39.0zM2024.4 1718.3h19.7v14.2h-19.7zM2741.3 1718.3h58.4v14.2h-58.4zM1094.4 1704.7h19.7v14.2h-19.7zM1636.9 1704.7h39.0v14.2h-39.0zM2683.2 1704.7h58.4v14.2h-58.4zM1695.0 1691.2h19.7v14.2h-19.7zM1850.0 1691.2h19.7v14.2h-19.7zM2605.7 1691.2h58.4v14.2h-58.4zM1423.8 1677.6h39.0v14.2h-39.0zM2566.9 1677.6h19.7v14.2h-19.7zM2547.5 1664.1h19.7v14.2h-19.7zM1714.4 1650.5h19.7v14.2h-19.7zM1811.3 1650.5h19.7v14.2h-19.7zM2508.8 1650.5h39.0v14.2h-39.0zM1791.9 1637.0h19.7v14.2h-19.7zM2470.0 1637.0h39.0v14.2h-39.0zM1733.8 1623.4h19.7v14.2h-19.7zM1772.5 1623.4h19.7v14.2h-19.7zM2218.2 1623.4h58.4v14.2h-58.4zM2315.0 1623.4h155.3v14.2h-155.3zM1404.4 1609.9h19.7v14.2h-19.7zM1598.2 1609.9h39.0v14.2h-39.0zM2179.4 1609.9h39.0v14.2h-39.0zM2237.5 1609.9h116.5v14.2h-116.5zM1230.0 1596.3h19.7v14.2h-19.7zM2160.0 1596.3h19.7v14.2h-19.7zM2276.3 1596.3h19.7v14.2h-19.7zM2140.7 1569.2h19.7v14.2h-19.7zM1540.0 1542.1h19.7v14.2h-19.7zM2121.3 1542.1h19.7v14.2h-19.7zM1578.8 1528.6h19.7v14.2h-19.7zM1733.8 1528.6h39.0v14.2h-39.0zM2101.9 1528.6h19.7v14.2h-19.7zM2024.4 1515.0h39.0v14.2h-39.0zM2005.0 1501.5h19.7v14.2h-19.7zM1985.7 1487.9h19.7v14.2h-19.7zM1869.4 1474.4h19.7v14.2h-19.7zM1830.7 1447.3h19.7v14.2h-19.7zM1811.3 1406.6h19.7v14.2h-19.7zM1733.8 1393.1h58.4v14.2h-58.4zM1753.2 1379.5h19.7v14.2h-19.7zM1733.8 1366.0h39.0v14.2h-39.0zM1753.2 1352.4h19.7v14.2h-19.7zM1753.2 1338.9h19.7v14.2h-19.7zM1753.2 1325.3h19.7v14.2h-19.7zM1772.5 1298.2h19.7v14.2h-19.7zM1772.5 1284.7h19.7v14.2h-19.7zM1791.9 1271.1h19.7v14.2h-19.7zM1869.4 1271.1h39.0v14.2h-39.0zM1966.3 1271.1h39.0v14.2h-39.0zM1791.9 1257.6h39.0v14.2h-39.0zM1985.7 1257.6h19.7v14.2h-19.7zM1753.2 1244.0h39.0v14.2h-39.0zM1985.7 1244.0h19.7v14.2h-19.7zM1733.8 1230.5h19.7v14.2h-19.7zM1791.9 1230.5h19.7v14.2h-19.7zM1985.7 1230.5h19.7v14.2h-19.7zM1501.3 1216.9h19.7v14.2h-19.7zM1733.8 1216.9h19.7v14.2h-19.7zM1985.7 1162.7h19.7v14.2h-19.7zM1946.9 1149.2h77.8v14.2h-77.8zM1927.5 1135.6h19.7v14.2h-19.7zM1985.7 1135.6h19.7v14.2h-19.7zM2063.2 1135.6h19.7v14.2h-19.7zM1927.5 1122.1h19.7v14.2h-19.7zM2082.5 1122.1h19.7v14.2h-19.7zM2082.5 1108.5h19.7v14.2h-19.7zM2005.0 1095.0h19.7v14.2h-19.7zM2082.5 1095.0h19.7v14.2h-19.7zM2024.4 1081.4h58.4v14.2h-58.4zM1888.8 1067.9h19.7v14.2h-19.7zM1888.8 1054.3h19.7v14.2h-19.7zM1908.2 1040.8h39.0v14.2h-39.0zM2005.0 1040.8h116.5v14.2h-116.5zM2140.7 1027.2h19.7v14.2h-19.7zM2160.0 1013.7h19.7v14.2h-19.7zM2179.4 1000.1h19.7v14.2h-19.7zM1578.8 986.6h19.7v14.2h-19.7zM2198.8 986.6h19.7v14.2h-19.7zM2218.2 973.0h19.7v14.2h-19.7zM2237.5 959.5h19.7v14.2h-19.7zM1830.7 918.8h19.7v14.2h-19.7zM2295.7 918.8h19.7v14.2h-19.7zM2315.0 905.3h19.7v14.2h-19.7zM2334.4 891.7h19.7v14.2h-19.7zM1811.3 878.2h39.0v14.2h-39.0zM2353.8 878.2h19.7v14.2h-19.7zM2373.2 864.6h39.0v14.2h-39.0zM2411.9 851.1h19.7v14.2h-19.7zM2838.2 851.1h97.2v14.2h-97.2zM2450.7 837.5h19.7v14.2h-19.7zM2896.3 837.5h97.2v14.2h-97.2zM2489.4 824.0h19.7v14.2h-19.7zM2993.2 824.0h58.4v14.2h-58.4zM2528.2 810.4h19.7v14.2h-19.7zM3031.9 810.4h19.7v14.2h-19.7zM2566.9 796.9h19.7v14.2h-19.7zM2605.7 783.3h19.7v14.2h-19.7zM3012.5 783.3h39.0v14.2h-39.0zM2663.8 769.8h39.0v14.2h-39.0zM2973.8 769.8h77.8v14.2h-77.8zM2760.7 756.2h252.2v14.2h-252.2z"/>
<path fill="#cfcfcf" d="M2973.8 1853.8h77.8v14.2h-77.8zM1055.7 1840.2h19.7v14.2h-19.7zM2954.4 1840.2h97.2v14.2h-97.2zM1656.3 1826.7h19.7v14.2h-19.7zM1772.5 1826.7h58.4v14.2h-58.4zM2935.0 1826.7h77.8v14.2h-77.8zM1230.0 1813.1h19.7v14.2h-19.7zM1385.0 1813.1h19.7v14.2h-19.7zM1830.7 1813.1h19.7v14.2h-19.7zM2915.7 1813.1h77.8v14.2h-77.8zM687.5 1799.6h19.7v14.2h-19.7zM1036.3 1799.6h19.7v14.2h-19.7zM2857.5 1799.6h116.5v14.2h-116.5zM1365.7 1786.0h19.7v14.2h-19.7zM2818.8 1786.0h135.9v14.2h-135.9zM1443.2 1772.5h19.7v14.2h-19.7zM2799.4 1772.5h116.5v14.2h-116.5zM1966.3 1758.9h39.0v14.2h-39.0zM2780.0 1758.9h58.4v14.2h-58.4zM1055.7 1745.4h19.7v14.2h-19.7zM2741.3 1745.4h58.4v14.2h-58.4zM2043.8 1731.8h19.7v14.2h-19.7zM2721.9 1731.8h58.4v14.2h-58.4zM1326.9 1718.3h19.7v14.2h-19.7zM2683.2 1718.3h58.4v14.2h-58.4zM1171.9 1704.7h19.7v14.2h-19.7zM1385.0 1704.7h19.7v14.2h-19.7zM1501.3 1704.7h19.7v14.2h-19.7zM1598.2 1704.7h39.0v14.2h-39.0zM1869.4 1704.7h19.7v14.2h-19.7zM2605.7 1704.7h77.8v14.2h-77.8zM1481.9 1691.2h19.7v14.2h-19.7zM1636.9 1691.2h58.4v14.2h-58.4zM2566.9 1691.2h39.0v14.2h-39.0zM1695.0 1677.6h19.7v14.2h-19.7zM2547.5 1677.6h19.7v14.2h-19.7zM1830.7 1664.1h19.7v14.2h-19.7zM2508.8 1664.1h39.0v14.2h-39.0zM2315.0 1650.5h58.4v14.2h-58.4zM2450.7 1650.5h58.4v14.2h-58.4zM1714.4 1637.0h19.7v14.2h-19.7zM1811.3 1637.0h19.7v14.2h-19.7zM2218.2 1637.0h252.2v14.2h-252.2zM1791.9 1623.4h19.7v14.2h-19.7zM2179.4 1623.4h39.0v14.2h-39.0zM2276.3 1623.4h39.0v14.2h-39.0zM1578.8 1609.9h19.7v14.2h-19.7zM1753.2 1609.9h39.0v14.2h-39.0zM2160.0 1609.9h19.7v14.2h-19.7zM1404.4 1596.3h19.7v14.2h-19.7zM2140.7 1596.3h19.7v14.2h-19.7zM2140.7 1582.8h19.7v14.2h-19.7zM1288.2 1569.2h19.7v14.2h-19.7zM2121.3 1555.7h19.7v14.2h-19.7zM2101.9 1542.1h19.7v14.2h-19.7zM1520.7 1528.6h19.7v14.2h-19.7zM2024.4 1528.6h77.8v14.2h-77.8zM2005.0 1515.0h19.7v14.2h-19.7zM1985.7 1501.5h19.7v14.2h-19.7zM1888.8 1487.9h97.2v14.2h-97.2zM1365.7 1474.4h39.0v14.2h-39.0zM1850.0 1474.4h19.7v14.2h-19.7zM1830.7 1460.8h19.7v14.2h-19.7zM1171.9 1447.3h19.7v14.2h-19.7zM1481.9 1447.3h19.7v14.2h-19.7zM1714.4 1433.7h19.7v14.2h-19.7zM1753.2 1406.6h19.7v14.2h-19.7zM1695.0 1379.5h19.7v14.2h-19.7zM1714.4 1366.0h19.7v14.2h-19.7zM1733.8 1352.4h19.7v14.2h-19.7zM1733.8 1338.9h19.7v14.2h-19.7zM1733.8 1325.3h19.7v14.2h-19.7zM1753.2 1311.8h19.7v14.2h-19.7zM1753.2 1298.2h19.7v14.2h-19.7zM1772.5 1271.1h19.7v14.2h-19.7zM1908.2 1271.1h58.4v14.2h-58.4zM1753.2 1257.6h39.0v14.2h-39.0zM1830.7 1257.6h39.0v14.2h-39.0zM1966.3 1257.6h19.7v14.2h-19.7zM1733.8 1244.0h19.7v14.2h-19.7zM1791.9 1244.0h39.0v14.2h-39.0zM1714.4 1230.5h19.7v14.2h-19.7zM1791.9 1216.9h19.7v14.2h-19.7zM1733.8 1203.4h58.4v14.2h-58.4zM1520.7 1189.8h19.7v14.2h-19.7zM1966.3 1176.3h19.7v14.2h-19.7zM1966.3 1162.7h19.7v14.2h-19.7zM1927.5 1149.2h19.7v14.2h-19.7zM2005.0 1135.6h58.4v14.2h-58.4zM2005.0 1122.1h19.7v14.2h-19.7zM2063.2 1122.1h19.7v14.2h-19.7zM2005.0 1108.5h19.7v14.2h-19.7zM1908.2 1095.0h19.7v14.2h-19.7zM2024.4 1095.0h58.4v14.2h-58.4zM1869.4 1081.4h39.0v14.2h-39.0zM1850.0 1067.9h39.0v14.2h-39.0zM1869.4 1054.3h19.7v14.2h-19.7zM1869.4 1040.8h39.0v14.2h-39.0zM1927.5 1027.2h97.2v14.2h-97.2zM2121.3 1027.2h19.7v14.2h-19.7zM2140.7 1013.7h19.7v14.2h-19.7zM1578.8 973.0h19.7v14.2h-19.7zM2256.9 945.9h19.7v14.2h-19.7zM2276.3 932.4h19.7v14.2h-19.7zM1772.5 905.3h19.7v14.2h-19.7zM1850.0 905.3h19.7v14.2h-19.7zM2295.7 905.3h19.7v14.2h-19.7zM1850.0 891.7h19.7v14.2h-19.7zM2315.0 891.7h19.7v14.2h-19.7zM2334.4 878.2h19.7v14.2h-19.7zM1811.3 864.6h39.0v14.2h-39.0zM2353.8 864.6h19.7v14.2h-19.7zM2392.5 851.1h19.7v14.2h-19.7zM2431.3 837.5h19.7v14.2h-19.7zM2470.0 824.0h19.7v14.2h-19.7zM2489.4 810.4h39.0v14.2h-39.0zM2547.5 796.9h19.7v14.2h-19.7zM2586.3 783.3h19.7v14.2h-19.7zM2625.0 769.8h39.0v14.2h-39.0zM2702.5 756.2h58.4v14.2h-58.4zM3012.5 756.2h39.0v14.2h-39.0zM2780.0 742.7h271.6v14.2h-271.6z"/>
<path fill="#d2d2d2" d="M687.5 1853.8h19.7v14.2h-19.7zM1036.3 1853.8h19.7v14.2h-19.7zM2818.8 1853.8h155.3v14.2h-155.3zM1249.4 1840.2h19.7v14.2h-19.7zM1695.0 1840.2h39.0v14.2h-39.0zM2818.8 1840.2h135.9v14.2h-135.9zM1016.9 1826.7h19.7v14.2h-19.7zM2799.4 1826.7h135.9v14.2h-135.9zM745.7 1813.1h19.7v14.2h-19.7zM803.8 1813.1h19.7v14.2h-19.7zM1481.9 1813.1h19.7v14.2h-19.7zM2799.4 1813.1h116.5v14.2h-116.5zM1462.5 1799.6h19.7v14.2h-19.7zM1850.0 1799.6h19.7v14.2h-19.7zM2780.0 1799.6h77.8v14.2h-77.8zM1055.7 1786.0h19.7v14.2h-19.7zM1113.8 1786.0h19.7v14.2h-19.7zM1210.7 1786.0h19.7v14.2h-19.7zM2760.7 1786.0h58.4v14.2h-58.4zM1055.7 1772.5h58.4v14.2h-58.4zM1869.4 1772.5h19.7v14.2h-19.7zM2741.3 1772.5h58.4v14.2h-58.4zM1055.7 1758.9h19.7v14.2h-19.7zM1423.8 1758.9h19.7v14.2h-19.7zM1888.8 1758.9h77.8v14.2h-77.8zM2005.0 1758.9h39.0v14.2h-39.0zM2721.9 1758.9h58.4v14.2h-58.4zM1404.4 1745.4h19.7v14.2h-19.7zM2043.8 1745.4h19.7v14.2h-19.7zM2702.5 1745.4h39.0v14.2h-39.0zM1055.7 1731.8h19.7v14.2h-19.7zM1385.0 1731.8h19.7v14.2h-19.7zM2663.8 1731.8h58.4v14.2h-58.4zM2043.8 1718.3h19.7v14.2h-19.7zM2605.7 1718.3h77.8v14.2h-77.8zM1075.0 1704.7h19.7v14.2h-19.7zM1520.7 1704.7h77.8v14.2h-77.8zM1888.8 1704.7h135.9v14.2h-135.9zM2566.9 1704.7h39.0v14.2h-39.0zM1113.8 1691.2h39.0v14.2h-39.0zM1617.5 1691.2h19.7v14.2h-19.7zM2528.2 1691.2h39.0v14.2h-39.0zM1462.5 1677.6h19.7v14.2h-19.7zM1850.0 1677.6h19.7v14.2h-19.7zM2470.0 1677.6h77.8v14.2h-77.8zM1695.0 1664.1h19.7v14.2h-19.7zM2295.7 1664.1h213.4v14.2h-213.4zM1830.7 1650.5h19.7v14.2h-19.7zM2237.5 1650.5h77.8v14.2h-77.8zM2373.2 1650.5h77.8v14.2h-77.8zM1423.8 1637.0h19.7v14.2h-19.7zM1540.0 1637.0h19.7v14.2h-19.7zM2179.4 1637.0h39.0v14.2h-39.0zM2160.0 1623.4h19.7v14.2h-19.7zM1733.8 1609.9h19.7v14.2h-19.7zM1791.9 1609.9h19.7v14.2h-19.7zM2140.7 1609.9h19.7v14.2h-19.7zM1753.2 1596.3h19.7v14.2h-19.7zM2121.3 1569.2h19.7v14.2h-19.7zM2101.9 1555.7h19.7v14.2h-19.7zM1520.7 1542.1h19.7v14.2h-19.7zM2082.5 1542.1h19.7v14.2h-19.7zM2005.0 1528.6h19.7v14.2h-19.7zM1520.7 1515.0h19.7v14.2h-19.7zM1966.3 1515.0h39.0v14.2h-39.0zM1559.4 1501.5h39.0v14.2h-39.0zM1888.8 1501.5h97.2v14.2h-97.2zM1869.4 1487.9h19.7v14.2h-19.7zM1365.7 1460.8h39.0v14.2h-39.0zM1191.3 1433.7h19.7v14.2h-19.7zM1811.3 1433.7h19.7v14.2h-19.7zM1753.2 1420.2h19.7v14.2h-19.7zM1811.3 1420.2h19.7v14.2h-19.7zM1772.5 1406.6h19.7v14.2h-19.7zM1714.4 1352.4h19.7v14.2h-19.7zM1714.4 1338.9h19.7v14.2h-19.7zM1714.4 1325.3h19.7v14.2h-19.7zM1733.8 1311.8h19.7v14.2h-19.7zM1733.8 1298.2h19.7v14.2h-19.7zM1733.8 1284.7h39.0v14.2h-39.0zM1733.8 1271.1h39.0v14.2h-39.0zM1714.4 1257.6h39.0v14.2h-39.0zM1869.4 1257.6h97.2v14.2h-97.2zM1714.4 1244.0h19.7v14.2h-19.7zM1830.7 1244.0h19.7v14.2h-19.7zM1966.3 1244.0h19.7v14.2h-19.7zM1811.3 1230.5h19.7v14.2h-19.7zM1966.3 1230.5h19.7v14.2h-19.7zM1714.4 1216.9h19.7v14.2h-19.7zM1966.3 1216.9h19.7v14.2h-19.7zM1501.3 1203.4h19.7v14.2h-19.7zM1791.9 1203.4h19.7v14.2h-19.7zM1966.3 1203.4h19.7v14.2h-19.7zM1966.3 1189.8h19.7v14.2h-19.7zM1927.5 1162.7h39.0v14.2h-39.0zM1908.2 1149.2h19.7v14.2h-19.7zM2024.4 1122.1h39.0v14.2h-39.0zM1908.2 1108.5h19.7v14.2h-19.7zM2024.4 1108.5h58.4v14.2h-58.4zM1888.8 1095.0h19.7v14.2h-19.7zM1850.0 1081.4h19.7v14.2h-19.7zM1850.0 1054.3h19.7v14.2h-19.7zM1850.0 1040.8h19.7v14.2h-19.7zM1869.4 1027.2h58.4v14.2h-58.4zM2024.4 1027.2h97.2v14.2h-97.2zM1946.9 1013.7h77.8v14.2h-77.8zM1578.8 1000.1h19.7v14.2h-19.7zM2160.0 1000.1h19.7v14.2h-19.7zM2179.4 986.6h19.7v14.2h-19.7zM2198.8 973.0h19.7v14.2h-19.7zM2218.2 959.5h19.7v14.2h-19.7zM2237.5 945.9h19.7v14.2h-19.7zM2256.9 932.4h19.7v14.2h-19.7zM2276.3 918.8h19.7v14.2h-19.7zM1772.5 891.7h19.7v14.2h-19.7zM2295.7 891.7h19.7v14.2h-19.7zM1791.9 878.2h19.7v14.2h-19.7zM1850.0 878.2h19.7v14.2h-19.7zM2315.0 878.2h19.7v14.2h-19.7zM1850.0 864.6h19.7v14.2h-19.7zM2334.4 864.6h19.7v14.2h-19.7zM1850.0 851.1h19.7v14.2h-19.7zM2373.2 851.1h19.7v14.2h-19.7zM2411.9 837.5h19.7v14.2h-19.7zM2450.7 824.0h19.7v14.2h-19.7zM2470.0 810.4h19.7v14.2h-19.7zM2508.8 796.9h39.0v14.2h-39.0zM2566.9 783.3h19.7v14.2h-19.7zM2605.7 769.8h19.7v14.2h-19.7zM2663.8 756.2h39.0v14.2h-39.0zM1927.5 742.7h19.7v14.2h-19.7zM2721.9 742.7h58.4v14.2h-58.4zM2818.8 729.1h232.8v14.2h-232.8zM2334.4 674.9h116.5v14.2h-116.5zM2315.0 661.4h116.5v14.2h-116.5zM1811.3 512.3h19.7v14.2h-19.7zM1811.3 498.8h19.7v14.2h-19.7z"/>
<path fill="#d5d5d5" d="M2760.7 1853.8h58.4v14.2h-58.4zM1016.9 1840.2h19.7v14.2h-19.7zM1675.7 1840.2h19.7v14.2h-19.7zM1733.8 1840.2h77.8v14.2h-77.8zM2760.7 1840.2h58.4v14.2h-58.4zM1230.0 1826.7h19.7v14.2h-19.7zM1540.0 1826.7h58.4v14.2h-58.4zM1636.9 1826.7h19.7v14.2h-19.7zM1830.7 1826.7h19.7v14.2h-19.7zM2760.7 1826.7h39.0v14.2h-39.0zM1133.2 1813.1h19.7v14.2h-19.7zM2741.3 1813.1h58.4v14.2h-58.4zM1016.9 1799.6h19.7v14.2h-19.7zM1385.0 1799.6h19.7v14.2h-19.7zM2721.9 1799.6h58.4v14.2h-58.4zM1036.3 1786.0h19.7v14.2h-19.7zM1443.2 1786.0h19.7v14.2h-19.7zM2721.9 1786.0h39.0v14.2h-39.0zM1171.9 1772.5h19.7v14.2h-19.7zM2702.5 1772.5h39.0v14.2h-39.0zM2043.8 1758.9h19.7v14.2h-19.7zM2663.8 1758.9h58.4v14.2h-58.4zM2644.4 1745.4h58.4v14.2h-58.4zM1365.7 1731.8h19.7v14.2h-19.7zM2586.3 1731.8h77.8v14.2h-77.8zM1055.7 1718.3h19.7v14.2h-19.7zM2547.5 1718.3h58.4v14.2h-58.4zM1268.8 1704.7h39.0v14.2h-39.0zM2024.4 1704.7h19.7v14.2h-19.7zM2489.4 1704.7h77.8v14.2h-77.8zM1094.4 1691.2h19.7v14.2h-19.7zM1152.5 1691.2h19.7v14.2h-19.7zM1385.0 1691.2h19.7v14.2h-19.7zM1501.3 1691.2h19.7v14.2h-19.7zM1598.2 1691.2h19.7v14.2h-19.7zM1869.4 1691.2h19.7v14.2h-19.7zM2373.2 1691.2h155.3v14.2h-155.3zM1404.4 1677.6h19.7v14.2h-19.7zM1636.9 1677.6h58.4v14.2h-58.4zM2295.7 1677.6h174.7v14.2h-174.7zM2256.9 1664.1h39.0v14.2h-39.0zM1540.0 1650.5h19.7v14.2h-19.7zM1695.0 1650.5h19.7v14.2h-19.7zM2179.4 1650.5h58.4v14.2h-58.4zM1830.7 1637.0h19.7v14.2h-19.7zM2160.0 1637.0h19.7v14.2h-19.7zM1714.4 1623.4h19.7v14.2h-19.7zM1811.3 1623.4h19.7v14.2h-19.7zM2140.7 1623.4h19.7v14.2h-19.7zM1733.8 1596.3h19.7v14.2h-19.7zM1772.5 1596.3h19.7v14.2h-19.7zM1753.2 1582.8h19.7v14.2h-19.7zM2121.3 1582.8h19.7v14.2h-19.7zM1540.0 1555.7h19.7v14.2h-19.7zM1268.8 1542.1h19.7v14.2h-19.7zM1753.2 1542.1h19.7v14.2h-19.7zM1830.7 1542.1h19.7v14.2h-19.7zM2024.4 1542.1h58.4v14.2h-58.4zM1830.7 1528.6h39.0v14.2h-39.0zM1966.3 1528.6h39.0v14.2h-39.0zM1598.2 1515.0h19.7v14.2h-19.7zM1830.7 1515.0h135.9v14.2h-135.9zM1540.0 1501.5h19.7v14.2h-19.7zM1850.0 1501.5h39.0v14.2h-39.0zM1850.0 1487.9h19.7v14.2h-19.7zM1191.3 1474.4h19.7v14.2h-19.7zM1346.3 1474.4h19.7v14.2h-19.7zM1404.4 1474.4h19.7v14.2h-19.7zM1830.7 1474.4h19.7v14.2h-19.7zM1346.3 1460.8h19.7v14.2h-19.7zM1404.4 1460.8h19.7v14.2h-19.7zM1481.9 1460.8h19.7v14.2h-19.7zM1811.3 1460.8h19.7v14.2h-19.7zM1811.3 1447.3h19.7v14.2h-19.7zM1210.7 1433.7h19.7v14.2h-19.7zM1791.9 1420.2h19.7v14.2h-19.7zM1675.7 1406.6h19.7v14.2h-19.7zM1695.0 1393.1h19.7v14.2h-19.7zM1695.0 1366.0h19.7v14.2h-19.7zM1695.0 1352.4h19.7v14.2h-19.7zM1695.0 1338.9h19.7v14.2h-19.7zM1695.0 1325.3h19.7v14.2h-19.7zM1714.4 1311.8h19.7v14.2h-19.7zM1714.4 1298.2h19.7v14.2h-19.7zM1714.4 1284.7h19.7v14.2h-19.7zM1714.4 1271.1h19.7v14.2h-19.7zM1850.0 1244.0h116.5v14.2h-116.5zM1830.7 1230.5h19.7v14.2h-19.7zM1811.3 1216.9h19.7v14.2h-19.7zM1714.4 1203.4h19.7v14.2h-19.7zM1811.3 1203.4h19.7v14.2h-19.7zM1733.8 1189.8h77.8v14.2h-77.8zM1927.5 1176.3h39.0v14.2h-39.0zM1850.0 1162.7h77.8v14.2h-77.8zM1888.8 1149.2h19.7v14.2h-19.7zM1908.2 1135.6h19.7v14.2h-19.7zM1908.2 1122.1h19.7v14.2h-19.7zM1850.0 1095.0h39.0v14.2h-39.0zM1830.7 1067.9h19.7v14.2h-19.7zM1830.7 1054.3h19.7v14.2h-19.7zM1559.4 1027.2h19.7v14.2h-19.7zM1850.0 1027.2h19.7v14.2h-19.7zM1888.8 1013.7h58.4v14.2h-58.4zM2024.4 1013.7h39.0v14.2h-39.0zM2121.3 1013.7h19.7v14.2h-19.7zM1927.5 1000.1h97.2v14.2h-97.2zM2140.7 1000.1h19.7v14.2h-19.7zM1946.9 986.6h77.8v14.2h-77.8zM1578.8 959.5h39.0v14.2h-39.0zM1772.5 918.8h19.7v14.2h-19.7zM1850.0 918.8h19.7v14.2h-19.7zM2256.9 918.8h19.7v14.2h-19.7zM2276.3 905.3h19.7v14.2h-19.7zM2295.7 878.2h19.7v14.2h-19.7zM2315.0 864.6h19.7v14.2h-19.7zM1811.3 851.1h19.7v14.2h-19.7zM2353.8 851.1h19.7v14.2h-19.7zM2392.5 837.5h19.7v14.2h-19.7zM2431.3 824.0h19.7v14.2h-19.7zM2489.4 796.9h19.7v14.2h-19.7zM2528.2 783.3h39.0v14.2h-39.0zM2586.3 769.8h19.7v14.2h-19.7zM1908.2 756.2h58.4v14.2h-58.4zM2625.0 756.2h39.0v14.2h-39.0zM1908.2 742.7h19.7v14.2h-19.7zM1946.9 742.7h19.7v14.2h-19.7zM2683.2 742.7h39.0v14.2h-39.0zM1908.2 729.1h58.4v14.2h-58.4zM2741.3 729.1h77.8v14.2h-77.8zM2838.2 715.6h213.4v14.2h-213.4zM2140.7 688.5h97.2v14.2h-97.2zM2179.4 674.9h155.3v14.2h-155.3zM2450.7 674.9h97.2v14.2h-97.2zM2218.2 661.4h97.2v14.2h-97.2zM2431.3 661.4h97.2v14.2h-97.2zM1811.3 539.4h19.7v14.2h-19.7zM1811.3 525.9h39.0v14.2h-39.0zM1830.7 512.3h19.7v14.2h-19.7zM1830.7 498.8h19.7v14.2h-19.7z"/>
<path fill="#d8d8d8" d="M1016.9 1853.8h19.7v14.2h-19.7zM1055.7 1853.8h19.7v14.2h-19.7zM1249.4 1853.8h19.7v14.2h-19.7zM1404.4 1853.8h19.7v14.2h-19.7zM1695.0 1853.8h58.4v14.2h-58.4zM2721.9 1853.8h39.0v14.2h-39.0zM1404.4 1840.2h19.7v14.2h-19.7zM1811.3 1840.2h19.7v14.2h-19.7zM2721.9 1840.2h39.0v14.2h-39.0zM1075.0 1826.7h19.7v14.2h-19.7zM1520.7 1826.7h19.7v14.2h-19.7zM1598.2 1826.7h39.0v14.2h-39.0zM2721.9 1826.7h39.0v14.2h-39.0zM1075.0 1813.1h19.7v14.2h-19.7zM1850.0 1813.1h19.7v14.2h-19.7zM2702.5 1813.1h39.0v14.2h-39.0zM765.0 1799.6h39.0v14.2h-39.0zM1075.0 1799.6h19.7v14.2h-19.7zM1443.2 1799.6h19.7v14.2h-19.7zM2683.2 1799.6h39.0v14.2h-39.0zM1075.0 1786.0h19.7v14.2h-19.7zM1869.4 1786.0h19.7v14.2h-19.7zM2663.8 1786.0h58.4v14.2h-58.4zM1423.8 1772.5h19.7v14.2h-19.7zM1888.8 1772.5h155.3v14.2h-155.3zM2644.4 1772.5h58.4v14.2h-58.4zM1404.4 1758.9h19.7v14.2h-19.7zM2605.7 1758.9h58.4v14.2h-58.4zM1365.7 1745.4h39.0v14.2h-39.0zM2063.2 1745.4h19.7v14.2h-19.7zM2586.3 1745.4h58.4v14.2h-58.4zM2063.2 1731.8h19.7v14.2h-19.7zM2528.2 1731.8h58.4v14.2h-58.4zM1346.3 1718.3h19.7v14.2h-19.7zM2063.2 1718.3h19.7v14.2h-19.7zM2470.0 1718.3h77.8v14.2h-77.8zM1191.3 1704.7h19.7v14.2h-19.7zM1307.5 1704.7h19.7v14.2h-19.7zM2043.8 1704.7h19.7v14.2h-19.7zM2373.2 1704.7h116.5v14.2h-116.5zM1520.7 1691.2h77.8v14.2h-77.8zM2295.7 1691.2h77.8v14.2h-77.8zM1481.9 1677.6h19.7v14.2h-19.7zM1617.5 1677.6h19.7v14.2h-19.7zM2256.9 1677.6h39.0v14.2h-39.0zM1540.0 1664.1h19.7v14.2h-19.7zM1656.3 1664.1h39.0v14.2h-39.0zM1850.0 1664.1h19.7v14.2h-19.7zM2198.8 1664.1h58.4v14.2h-58.4zM2160.0 1650.5h19.7v14.2h-19.7zM2140.7 1637.0h19.7v14.2h-19.7zM1230.0 1623.4h19.7v14.2h-19.7zM1559.4 1609.9h19.7v14.2h-19.7zM1811.3 1609.9h19.7v14.2h-19.7zM2121.3 1609.9h19.7v14.2h-19.7zM1791.9 1596.3h39.0v14.2h-39.0zM2121.3 1596.3h19.7v14.2h-19.7zM1733.8 1582.8h19.7v14.2h-19.7zM1772.5 1582.8h39.0v14.2h-39.0zM1753.2 1569.2h39.0v14.2h-39.0zM2101.9 1569.2h19.7v14.2h-19.7zM1753.2 1555.7h39.0v14.2h-39.0zM1811.3 1555.7h39.0v14.2h-39.0zM2082.5 1555.7h19.7v14.2h-19.7zM1733.8 1542.1h19.7v14.2h-19.7zM1772.5 1542.1h19.7v14.2h-19.7zM1811.3 1542.1h19.7v14.2h-19.7zM1850.0 1542.1h19.7v14.2h-19.7zM1985.7 1542.1h39.0v14.2h-39.0zM1811.3 1528.6h19.7v14.2h-19.7zM1869.4 1528.6h97.2v14.2h-97.2zM1811.3 1515.0h19.7v14.2h-19.7zM1598.2 1501.5h19.7v14.2h-19.7zM1830.7 1501.5h19.7v14.2h-19.7zM1365.7 1487.9h39.0v14.2h-39.0zM1830.7 1487.9h19.7v14.2h-19.7zM1811.3 1474.4h19.7v14.2h-19.7zM1230.0 1447.3h19.7v14.2h-19.7zM1656.3 1433.7h19.7v14.2h-19.7zM1791.9 1433.7h19.7v14.2h-19.7zM1520.7 1420.2h19.7v14.2h-19.7zM1656.3 1420.2h19.7v14.2h-19.7zM1772.5 1420.2h19.7v14.2h-19.7zM1695.0 1311.8h19.7v14.2h-19.7zM1695.0 1298.2h19.7v14.2h-19.7zM1695.0 1284.7h19.7v14.2h-19.7zM1695.0 1271.1h19.7v14.2h-19.7zM1695.0 1257.6h19.7v14.2h-19.7zM1695.0 1244.0h19.7v14.2h-19.7zM1695.0 1230.5h19.7v14.2h-19.7zM1850.0 1230.5h19.7v14.2h-19.7zM1927.5 1230.5h39.0v14.2h-39.0zM1830.7 1216.9h19.7v14.2h-19.7zM1946.9 1216.9h19.7v14.2h-19.7zM1830.7 1203.4h19.7v14.2h-19.7zM1946.9 1203.4h19.7v14.2h-19.7zM1811.3 1189.8h39.0v14.2h-39.0zM1927.5 1189.8h39.0v14.2h-39.0zM1772.5 1176.3h155.3v14.2h-155.3zM1811.3 1162.7h39.0v14.2h-39.0zM1830.7 1149.2h58.4v14.2h-58.4zM1888.8 1135.6h19.7v14.2h-19.7zM1888.8 1122.1h19.7v14.2h-19.7zM1869.4 1108.5h39.0v14.2h-39.0zM1830.7 1095.0h19.7v14.2h-19.7zM1830.7 1081.4h19.7v14.2h-19.7zM1830.7 1040.8h19.7v14.2h-19.7zM1869.4 1013.7h19.7v14.2h-19.7zM2063.2 1013.7h58.4v14.2h-58.4zM1908.2 1000.1h19.7v14.2h-19.7zM2024.4 1000.1h19.7v14.2h-19.7zM2121.3 1000.1h19.7v14.2h-19.7zM1927.5 986.6h19.7v14.2h-19.7zM2024.4 986.6h19.7v14.2h-19.7zM2160.0 986.6h19.7v14.2h-19.7zM1946.9 973.0h77.8v14.2h-77.8zM2179.4 973.0h19.7v14.2h-19.7zM2198.8 959.5h19.7v14.2h-19.7zM2218.2 945.9h19.7v14.2h-19.7zM2237.5 932.4h19.7v14.2h-19.7zM2276.3 891.7h19.7v14.2h-19.7zM1791.9 864.6h19.7v14.2h-19.7zM2295.7 864.6h19.7v14.2h-19.7zM1869.4 851.1h19.7v14.2h-19.7zM2334.4 851.1h19.7v14.2h-19.7zM1830.7 837.5h39.0v14.2h-39.0zM2373.2 837.5h19.7v14.2h-19.7zM2411.9 824.0h19.7v14.2h-19.7zM2450.7 810.4h19.7v14.2h-19.7zM2470.0 796.9h19.7v14.2h-19.7zM2508.8 783.3h19.7v14.2h-19.7zM1927.5 769.8h39.0v14.2h-39.0zM2547.5 769.8h39.0v14.2h-39.0zM1966.3 756.2h19.7v14.2h-19.7zM2586.3 756.2h39.0v14.2h-39.0zM1966.3 742.7h58.4v14.2h-58.4zM2625.0 742.7h58.4v14.2h-58.4zM1966.3 729.1h77.8v14.2h-77.8zM2683.2 729.1h58.4v14.2h-58.4zM1908.2 715.6h155.3v14.2h-155.3zM2721.9 715.6h116.5v14.2h-116.5zM1946.9 702.0h271.6v14.2h-271.6zM2896.3 702.0h155.3v14.2h-155.3zM1966.3 688.5h174.7v14.2h-174.7zM2237.5 688.5h349.1v14.2h-349.1zM1966.3 674.9h213.4v14.2h-213.4zM2547.5 674.9h58.4v14.2h-58.4zM1985.7 661.4h232.8v14.2h-232.8zM2528.2 661.4h58.4v14.2h-58.4zM2043.8 647.8h58.4v14.2h-58.4zM2237.5 647.8h271.6v14.2h-271.6zM1830.7 539.4h19.7v14.2h-19.7zM1791.9 525.9h19.7v14.2h-19.7zM1791.9 512.3h19.7v14.2h-19.7zM1791.9 498.8h19.7v14.2h-19.7z"/>
<path fill="#dbdbdb" d="M823.2 1853.8h19.7v14.2h-19.7zM1675.7 1853.8h19.7v14.2h-19.7zM1753.2 1853.8h77.8v14.2h-77.8zM2702.5 1853.8h19.7v14.2h-19.7zM823.2 1840.2h19.7v14.2h-19.7zM1656.3 1840.2h19.7v14.2h-19.7zM1830.7 1840.2h19.7v14.2h-19.7zM2702.5 1840.2h19.7v14.2h-19.7zM823.2 1826.7h19.7v14.2h-19.7zM1404.4 1826.7h19.7v14.2h-19.7zM1501.3 1826.7h19.7v14.2h-19.7zM2683.2 1826.7h39.0v14.2h-39.0zM1404.4 1813.1h19.7v14.2h-19.7zM1462.5 1813.1h19.7v14.2h-19.7zM2663.8 1813.1h39.0v14.2h-39.0zM1404.4 1799.6h19.7v14.2h-19.7zM1869.4 1799.6h19.7v14.2h-19.7zM2644.4 1799.6h39.0v14.2h-39.0zM1016.9 1786.0h19.7v14.2h-19.7zM1094.4 1786.0h19.7v14.2h-19.7zM1385.0 1786.0h19.7v14.2h-19.7zM1423.8 1786.0h19.7v14.2h-19.7zM1888.8 1786.0h19.7v14.2h-19.7zM2605.7 1786.0h58.4v14.2h-58.4zM2043.8 1772.5h39.0v14.2h-39.0zM2605.7 1772.5h39.0v14.2h-39.0zM1036.3 1758.9h19.7v14.2h-19.7zM2063.2 1758.9h19.7v14.2h-19.7zM2586.3 1758.9h19.7v14.2h-19.7zM2082.5 1745.4h19.7v14.2h-19.7zM2528.2 1745.4h58.4v14.2h-58.4zM2082.5 1731.8h19.7v14.2h-19.7zM2411.9 1731.8h116.5v14.2h-116.5zM1365.7 1718.3h19.7v14.2h-19.7zM2082.5 1718.3h19.7v14.2h-19.7zM2353.8 1718.3h116.5v14.2h-116.5zM1055.7 1704.7h19.7v14.2h-19.7zM2063.2 1704.7h19.7v14.2h-19.7zM2276.3 1704.7h97.2v14.2h-97.2zM1075.0 1691.2h19.7v14.2h-19.7zM1171.9 1691.2h19.7v14.2h-19.7zM1888.8 1691.2h155.3v14.2h-155.3zM2218.2 1691.2h77.8v14.2h-77.8zM1501.3 1677.6h116.5v14.2h-116.5zM1869.4 1677.6h19.7v14.2h-19.7zM2160.0 1677.6h97.2v14.2h-97.2zM1423.8 1664.1h19.7v14.2h-19.7zM1559.4 1664.1h19.7v14.2h-19.7zM1636.9 1664.1h19.7v14.2h-19.7zM2140.7 1664.1h58.4v14.2h-58.4zM1675.7 1650.5h19.7v14.2h-19.7zM1850.0 1650.5h19.7v14.2h-19.7zM2140.7 1650.5h19.7v14.2h-19.7zM1695.0 1637.0h19.7v14.2h-19.7zM1540.0 1623.4h19.7v14.2h-19.7zM1830.7 1623.4h19.7v14.2h-19.7zM2121.3 1623.4h19.7v14.2h-19.7zM1714.4 1609.9h19.7v14.2h-19.7zM1830.7 1609.9h19.7v14.2h-19.7zM1811.3 1582.8h19.7v14.2h-19.7zM2101.9 1582.8h19.7v14.2h-19.7zM1733.8 1569.2h19.7v14.2h-19.7zM1791.9 1569.2h58.4v14.2h-58.4zM2082.5 1569.2h19.7v14.2h-19.7zM1520.7 1555.7h19.7v14.2h-19.7zM1733.8 1555.7h19.7v14.2h-19.7zM1791.9 1555.7h19.7v14.2h-19.7zM1850.0 1555.7h19.7v14.2h-19.7zM2043.8 1555.7h39.0v14.2h-39.0zM1578.8 1542.1h19.7v14.2h-19.7zM1791.9 1542.1h19.7v14.2h-19.7zM1869.4 1542.1h39.0v14.2h-39.0zM1946.9 1542.1h39.0v14.2h-39.0zM1501.3 1528.6h19.7v14.2h-19.7zM1598.2 1528.6h19.7v14.2h-19.7zM1772.5 1528.6h39.0v14.2h-39.0zM1520.7 1501.5h19.7v14.2h-19.7zM1811.3 1501.5h19.7v14.2h-19.7zM1346.3 1487.9h19.7v14.2h-19.7zM1404.4 1487.9h19.7v14.2h-19.7zM1811.3 1487.9h19.7v14.2h-19.7zM1171.9 1474.4h19.7v14.2h-19.7zM1326.9 1474.4h19.7v14.2h-19.7zM1423.8 1474.4h19.7v14.2h-19.7zM1423.8 1460.8h19.7v14.2h-19.7zM1791.9 1460.8h19.7v14.2h-19.7zM1365.7 1447.3h58.4v14.2h-58.4zM1675.7 1447.3h39.0v14.2h-39.0zM1791.9 1447.3h19.7v14.2h-19.7zM1733.8 1433.7h58.4v14.2h-58.4zM1656.3 1406.6h19.7v14.2h-19.7zM1675.7 1379.5h19.7v14.2h-19.7zM1675.7 1366.0h19.7v14.2h-19.7zM1675.7 1352.4h19.7v14.2h-19.7zM1675.7 1338.9h19.7v14.2h-19.7zM1675.7 1325.3h19.7v14.2h-19.7zM1675.7 1311.8h19.7v14.2h-19.7zM1675.7 1298.2h19.7v14.2h-19.7zM1675.7 1284.7h19.7v14.2h-19.7zM1675.7 1271.1h19.7v14.2h-19.7zM1675.7 1257.6h19.7v14.2h-19.7zM1869.4 1230.5h58.4v14.2h-58.4zM1695.0 1216.9h19.7v14.2h-19.7zM1850.0 1216.9h97.2v14.2h-97.2zM1850.0 1203.4h97.2v14.2h-97.2zM1714.4 1189.8h19.7v14.2h-19.7zM1850.0 1189.8h77.8v14.2h-77.8zM1540.0 1176.3h19.7v14.2h-19.7zM1733.8 1176.3h39.0v14.2h-39.0zM1791.9 1162.7h19.7v14.2h-19.7zM1811.3 1149.2h19.7v14.2h-19.7zM1830.7 1135.6h58.4v14.2h-58.4zM1830.7 1122.1h58.4v14.2h-58.4zM1830.7 1108.5h39.0v14.2h-39.0zM1830.7 1027.2h19.7v14.2h-19.7zM1850.0 1013.7h19.7v14.2h-19.7zM1559.4 1000.1h19.7v14.2h-19.7zM1888.8 1000.1h19.7v14.2h-19.7zM2043.8 1000.1h19.7v14.2h-19.7zM2101.9 1000.1h19.7v14.2h-19.7zM1908.2 986.6h19.7v14.2h-19.7zM2043.8 986.6h19.7v14.2h-19.7zM2140.7 986.6h19.7v14.2h-19.7zM1617.5 973.0h19.7v14.2h-19.7zM1927.5 973.0h19.7v14.2h-19.7zM2024.4 973.0h19.7v14.2h-19.7zM2160.0 973.0h19.7v14.2h-19.7zM1946.9 959.5h77.8v14.2h-77.8zM1598.2 945.9h19.7v14.2h-19.7zM1791.9 932.4h58.4v14.2h-58.4zM2237.5 918.8h19.7v14.2h-19.7zM2256.9 905.3h19.7v14.2h-19.7zM1869.4 891.7h19.7v14.2h-19.7zM2256.9 891.7h19.7v14.2h-19.7zM1772.5 878.2h19.7v14.2h-19.7zM1869.4 878.2h19.7v14.2h-19.7zM2276.3 878.2h19.7v14.2h-19.7zM1869.4 864.6h19.7v14.2h-19.7zM2315.0 851.1h19.7v14.2h-19.7zM1869.4 837.5h39.0v14.2h-39.0zM2353.8 837.5h19.7v14.2h-19.7zM1869.4 824.0h39.0v14.2h-39.0zM2392.5 824.0h19.7v14.2h-19.7zM2431.3 810.4h19.7v14.2h-19.7zM2450.7 796.9h19.7v14.2h-19.7zM1908.2 783.3h39.0v14.2h-39.0zM2489.4 783.3h19.7v14.2h-19.7zM1888.8 769.8h39.0v14.2h-39.0zM1966.3 769.8h39.0v14.2h-39.0zM2528.2 769.8h19.7v14.2h-19.7zM1888.8 756.2h19.7v14.2h-19.7zM1985.7 756.2h58.4v14.2h-58.4zM2566.9 756.2h19.7v14.2h-19.7zM1888.8 742.7h19.7v14.2h-19.7zM2024.4 742.7h39.0v14.2h-39.0zM2586.3 742.7h39.0v14.2h-39.0zM1888.8 729.1h19.7v14.2h-19.7zM2043.8 729.1h116.5v14.2h-116.5zM2625.0 729.1h58.4v14.2h-58.4zM1888.8 715.6h19.7v14.2h-19.7zM2063.2 715.6h135.9v14.2h-135.9zM2625.0 715.6h97.2v14.2h-97.2zM1908.2 702.0h39.0v14.2h-39.0zM2218.2 702.0h39.0v14.2h-39.0zM2489.4 702.0h407.2v14.2h-407.2zM1908.2 688.5h58.4v14.2h-58.4zM2586.3 688.5h135.9v14.2h-135.9zM2954.4 688.5h97.2v14.2h-97.2zM1908.2 674.9h58.4v14.2h-58.4zM2605.7 674.9h77.8v14.2h-77.8zM1927.5 661.4h58.4v14.2h-58.4zM2586.3 661.4h77.8v14.2h-77.8zM1946.9 647.8h97.2v14.2h-97.2zM2101.9 647.8h135.9v14.2h-135.9zM2508.8 647.8h77.8v14.2h-77.8zM2005.0 634.3h97.2v14.2h-97.2zM2315.0 634.3h97.2v14.2h-97.2zM1811.3 553.0h39.0v14.2h-39.0zM1791.9 539.4h19.7v14.2h-19.7zM1850.0 512.3h19.7v14.2h-19.7zM1850.0 498.8h19.7v14.2h-19.7z"/>
<path fill="#dedede" d="M726.3 1853.8h19.7v14.2h-19.7zM1830.7 1853.8h19.7v14.2h-19.7zM2663.8 1853.8h39.0v14.2h-39.0zM726.3 1840.2h19.7v14.2h-19.7zM1075.0 1840.2h19.7v14.2h-19.7zM1230.0 1840.2h19.7v14.2h-19.7zM2663.8 1840.2h39.0v14.2h-39.0zM726.3 1826.7h19.7v14.2h-19.7zM1133.2 1826.7h19.7v14.2h-19.7zM1481.9 1826.7h19.7v14.2h-19.7zM1850.0 1826.7h19.7v14.2h-19.7zM2644.4 1826.7h39.0v14.2h-39.0zM726.3 1813.1h19.7v14.2h-19.7zM1016.9 1813.1h19.7v14.2h-19.7zM1443.2 1813.1h19.7v14.2h-19.7zM1869.4 1813.1h19.7v14.2h-19.7zM2605.7 1813.1h58.4v14.2h-58.4zM745.7 1799.6h19.7v14.2h-19.7zM803.8 1799.6h19.7v14.2h-19.7zM1423.8 1799.6h19.7v14.2h-19.7zM1888.8 1799.6h19.7v14.2h-19.7zM2605.7 1799.6h39.0v14.2h-39.0zM1404.4 1786.0h19.7v14.2h-19.7zM1908.2 1786.0h194.1v14.2h-194.1zM2586.3 1786.0h19.7v14.2h-19.7zM1113.8 1772.5h19.7v14.2h-19.7zM1404.4 1772.5h19.7v14.2h-19.7zM2082.5 1772.5h19.7v14.2h-19.7zM2566.9 1772.5h39.0v14.2h-39.0zM2082.5 1758.9h19.7v14.2h-19.7zM2508.8 1758.9h77.8v14.2h-77.8zM1036.3 1745.4h19.7v14.2h-19.7zM2101.9 1745.4h19.7v14.2h-19.7zM2392.5 1745.4h135.9v14.2h-135.9zM1036.3 1731.8h19.7v14.2h-19.7zM1346.3 1731.8h19.7v14.2h-19.7zM2101.9 1731.8h19.7v14.2h-19.7zM2334.4 1731.8h77.8v14.2h-77.8zM2101.9 1718.3h39.0v14.2h-39.0zM2218.2 1718.3h135.9v14.2h-135.9zM1210.7 1704.7h58.4v14.2h-58.4zM1326.9 1704.7h19.7v14.2h-19.7zM2082.5 1704.7h194.1v14.2h-194.1zM2043.8 1691.2h174.7v14.2h-174.7zM1113.8 1677.6h39.0v14.2h-39.0zM1385.0 1677.6h19.7v14.2h-19.7zM2121.3 1677.6h39.0v14.2h-39.0zM1443.2 1664.1h39.0v14.2h-39.0zM1520.7 1664.1h19.7v14.2h-19.7zM1578.8 1664.1h19.7v14.2h-19.7zM1617.5 1664.1h19.7v14.2h-19.7zM1869.4 1664.1h19.7v14.2h-19.7zM2121.3 1664.1h19.7v14.2h-19.7zM1656.3 1650.5h19.7v14.2h-19.7zM2121.3 1650.5h19.7v14.2h-19.7zM1404.4 1637.0h19.7v14.2h-19.7zM1850.0 1637.0h19.7v14.2h-19.7zM2121.3 1637.0h19.7v14.2h-19.7zM1385.0 1623.4h19.7v14.2h-19.7zM1695.0 1623.4h19.7v14.2h-19.7zM1714.4 1596.3h19.7v14.2h-19.7zM1830.7 1596.3h19.7v14.2h-19.7zM2101.9 1596.3h19.7v14.2h-19.7zM1830.7 1582.8h19.7v14.2h-19.7zM2063.2 1569.2h19.7v14.2h-19.7zM1559.4 1555.7h19.7v14.2h-19.7zM1869.4 1555.7h19.7v14.2h-19.7zM2005.0 1555.7h39.0v14.2h-39.0zM1501.3 1542.1h19.7v14.2h-19.7zM1908.2 1542.1h39.0v14.2h-39.0zM1656.3 1528.6h19.7v14.2h-19.7zM1501.3 1515.0h19.7v14.2h-19.7zM1617.5 1515.0h19.7v14.2h-19.7zM1791.9 1515.0h19.7v14.2h-19.7zM1617.5 1501.5h19.7v14.2h-19.7zM1791.9 1501.5h19.7v14.2h-19.7zM1540.0 1487.9h58.4v14.2h-58.4zM1791.9 1487.9h19.7v14.2h-19.7zM1791.9 1474.4h19.7v14.2h-19.7zM1152.5 1460.8h19.7v14.2h-19.7zM1326.9 1460.8h19.7v14.2h-19.7zM1346.3 1447.3h19.7v14.2h-19.7zM1656.3 1447.3h19.7v14.2h-19.7zM1714.4 1447.3h77.8v14.2h-77.8zM1171.9 1433.7h19.7v14.2h-19.7zM1230.0 1433.7h19.7v14.2h-19.7zM1695.0 1433.7h19.7v14.2h-19.7zM1714.4 1420.2h19.7v14.2h-19.7zM1791.9 1406.6h19.7v14.2h-19.7zM1656.3 1393.1h39.0v14.2h-39.0zM1656.3 1379.5h19.7v14.2h-19.7zM1656.3 1366.0h19.7v14.2h-19.7zM1656.3 1352.4h19.7v14.2h-19.7zM1656.3 1338.9h19.7v14.2h-19.7zM1656.3 1325.3h19.7v14.2h-19.7zM1656.3 1311.8h19.7v14.2h-19.7zM1656.3 1298.2h19.7v14.2h-19.7zM1656.3 1284.7h19.7v14.2h-19.7zM1675.7 1244.0h19.7v14.2h-19.7zM1481.9 1230.5h19.7v14.2h-19.7zM1675.7 1230.5h19.7v14.2h-19.7zM1481.9 1216.9h19.7v14.2h-19.7zM1695.0 1203.4h19.7v14.2h-19.7zM1501.3 1189.8h19.7v14.2h-19.7zM1559.4 1176.3h19.7v14.2h-19.7zM1753.2 1162.7h39.0v14.2h-39.0zM1791.9 1149.2h19.7v14.2h-19.7zM1811.3 1135.6h19.7v14.2h-19.7zM1811.3 1122.1h19.7v14.2h-19.7zM1811.3 1108.5h19.7v14.2h-19.7zM1811.3 1095.0h19.7v14.2h-19.7zM1811.3 1081.4h19.7v14.2h-19.7zM1811.3 1067.9h19.7v14.2h-19.7zM1811.3 1054.3h19.7v14.2h-19.7zM1811.3 1040.8h19.7v14.2h-19.7zM1559.4 1013.7h19.7v14.2h-19.7zM1869.4 1000.1h19.7v14.2h-19.7zM2063.2 1000.1h39.0v14.2h-39.0zM1559.4 986.6h19.7v14.2h-19.7zM1888.8 986.6h19.7v14.2h-19.7zM2121.3 986.6h19.7v14.2h-19.7zM1559.4 973.0h19.7v14.2h-19.7zM1908.2 973.0h19.7v14.2h-19.7zM2043.8 973.0h19.7v14.2h-19.7zM1617.5 959.5h19.7v14.2h-19.7zM1927.5 959.5h19.7v14.2h-19.7zM2024.4 959.5h19.7v14.2h-19.7zM2179.4 959.5h19.7v14.2h-19.7zM1578.8 945.9h19.7v14.2h-19.7zM2198.8 945.9h19.7v14.2h-19.7zM2218.2 932.4h19.7v14.2h-19.7zM1753.2 905.3h19.7v14.2h-19.7zM1869.4 905.3h19.7v14.2h-19.7zM2237.5 905.3h19.7v14.2h-19.7zM2256.9 878.2h19.7v14.2h-19.7zM2276.3 864.6h19.7v14.2h-19.7zM1791.9 851.1h19.7v14.2h-19.7zM1888.8 851.1h19.7v14.2h-19.7zM2295.7 851.1h19.7v14.2h-19.7zM1811.3 837.5h19.7v14.2h-19.7zM1908.2 837.5h19.7v14.2h-19.7zM2334.4 837.5h19.7v14.2h-19.7zM1850.0 824.0h19.7v14.2h-19.7zM1908.2 824.0h39.0v14.2h-39.0zM2373.2 824.0h19.7v14.2h-19.7zM1850.0 810.4h97.2v14.2h-97.2zM2411.9 810.4h19.7v14.2h-19.7zM1869.4 796.9h97.2v14.2h-97.2zM2431.3 796.9h19.7v14.2h-19.7zM1869.4 783.3h39.0v14.2h-39.0zM1946.9 783.3h58.4v14.2h-58.4zM2470.0 783.3h19.7v14.2h-19.7zM1869.4 769.8h19.7v14.2h-19.7zM2005.0 769.8h39.0v14.2h-39.0zM2489.4 769.8h39.0v14.2h-39.0zM1869.4 756.2h19.7v14.2h-19.7zM2043.8 756.2h39.0v14.2h-39.0zM2547.5 756.2h19.7v14.2h-19.7zM1869.4 742.7h19.7v14.2h-19.7zM2063.2 742.7h77.8v14.2h-77.8zM2566.9 742.7h19.7v14.2h-19.7zM1869.4 729.1h19.7v14.2h-19.7zM2160.0 729.1h39.0v14.2h-39.0zM2586.3 729.1h39.0v14.2h-39.0zM1869.4 715.6h19.7v14.2h-19.7zM2198.8 715.6h39.0v14.2h-39.0zM2547.5 715.6h77.8v14.2h-77.8zM1869.4 702.0h39.0v14.2h-39.0zM2256.9 702.0h39.0v14.2h-39.0zM2373.2 702.0h116.5v14.2h-116.5zM1869.4 688.5h39.0v14.2h-39.0zM2721.9 688.5h232.8v14.2h-232.8zM1869.4 674.9h39.0v14.2h-39.0zM2683.2 674.9h135.9v14.2h-135.9zM2935.0 674.9h116.5v14.2h-116.5zM1869.4 661.4h58.4v14.2h-58.4zM2663.8 661.4h77.8v14.2h-77.8zM1888.8 647.8h58.4v14.2h-58.4zM2586.3 647.8h97.2v14.2h-97.2zM1908.2 634.3h97.2v14.2h-97.2zM2101.9 634.3h39.0v14.2h-39.0zM2218.2 634.3h97.2v14.2h-97.2zM2411.9 634.3h155.3v14.2h-155.3zM1946.9 620.7h155.3v14.2h-155.3zM1791.9 553.0h19.7v14.2h-19.7zM1850.0 539.4h19.7v14.2h-19.7zM1850.0 525.9h19.7v14.2h-19.7z"/>
<path fill="#e1e1e1" d="M1656.3 1853.8h19.7v14.2h-19.7zM2625.0 1853.8h39.0v14.2h-39.0zM1850.0 1840.2h19.7v14.2h-19.7zM2605.7 1840.2h58.4v14.2h-58.4zM1152.5 1826.7h19.7v14.2h-19.7zM1423.8 1826.7h19.7v14.2h-19.7zM1462.5 1826.7h19.7v14.2h-19.7zM2586.3 1826.7h58.4v14.2h-58.4zM823.2 1813.1h19.7v14.2h-19.7zM1113.8 1813.1h19.7v14.2h-19.7zM1210.7 1813.1h19.7v14.2h-19.7zM1423.8 1813.1h19.7v14.2h-19.7zM1888.8 1813.1h19.7v14.2h-19.7zM2586.3 1813.1h19.7v14.2h-19.7zM1094.4 1799.6h19.7v14.2h-19.7zM1908.2 1799.6h194.1v14.2h-194.1zM2566.9 1799.6h39.0v14.2h-39.0zM2101.9 1786.0h19.7v14.2h-19.7zM2566.9 1786.0h19.7v14.2h-19.7zM1016.9 1772.5h19.7v14.2h-19.7zM1385.0 1772.5h19.7v14.2h-19.7zM2101.9 1772.5h19.7v14.2h-19.7zM2431.3 1772.5h135.9v14.2h-135.9zM1385.0 1758.9h19.7v14.2h-19.7zM2101.9 1758.9h19.7v14.2h-19.7zM2373.2 1758.9h135.9v14.2h-135.9zM2121.3 1745.4h19.7v14.2h-19.7zM2276.3 1745.4h116.5v14.2h-116.5zM2121.3 1731.8h213.4v14.2h-213.4zM1036.3 1718.3h19.7v14.2h-19.7zM2140.7 1718.3h77.8v14.2h-77.8zM1346.3 1704.7h19.7v14.2h-19.7zM1055.7 1691.2h19.7v14.2h-19.7zM1191.3 1691.2h19.7v14.2h-19.7zM1094.4 1677.6h19.7v14.2h-19.7zM1152.5 1677.6h19.7v14.2h-19.7zM1888.8 1677.6h232.8v14.2h-232.8zM1404.4 1664.1h19.7v14.2h-19.7zM1481.9 1664.1h39.0v14.2h-39.0zM1598.2 1664.1h19.7v14.2h-19.7zM2101.9 1664.1h19.7v14.2h-19.7zM1404.4 1650.5h39.0v14.2h-39.0zM1520.7 1650.5h19.7v14.2h-19.7zM1617.5 1650.5h39.0v14.2h-39.0zM1869.4 1650.5h19.7v14.2h-19.7zM2101.9 1650.5h19.7v14.2h-19.7zM1385.0 1637.0h19.7v14.2h-19.7zM1675.7 1637.0h19.7v14.2h-19.7zM2101.9 1637.0h19.7v14.2h-19.7zM1268.8 1623.4h19.7v14.2h-19.7zM1850.0 1623.4h19.7v14.2h-19.7zM2101.9 1623.4h19.7v14.2h-19.7zM1210.7 1609.9h19.7v14.2h-19.7zM2101.9 1609.9h19.7v14.2h-19.7zM1210.7 1596.3h19.7v14.2h-19.7zM1714.4 1582.8h19.7v14.2h-19.7zM2082.5 1582.8h19.7v14.2h-19.7zM1850.0 1569.2h19.7v14.2h-19.7zM2043.8 1569.2h19.7v14.2h-19.7zM1501.3 1555.7h19.7v14.2h-19.7zM1888.8 1555.7h116.5v14.2h-116.5zM1714.4 1542.1h19.7v14.2h-19.7zM1753.2 1515.0h39.0v14.2h-39.0zM1326.9 1487.9h19.7v14.2h-19.7zM1423.8 1487.9h19.7v14.2h-19.7zM1520.7 1487.9h19.7v14.2h-19.7zM1598.2 1487.9h19.7v14.2h-19.7zM1210.7 1474.4h19.7v14.2h-19.7zM1443.2 1474.4h19.7v14.2h-19.7zM1520.7 1474.4h19.7v14.2h-19.7zM1443.2 1460.8h39.0v14.2h-39.0zM1772.5 1460.8h19.7v14.2h-19.7zM1152.5 1447.3h19.7v14.2h-19.7zM1423.8 1447.3h19.7v14.2h-19.7zM1636.9 1366.0h19.7v14.2h-19.7zM1636.9 1352.4h19.7v14.2h-19.7zM1617.5 1338.9h39.0v14.2h-39.0zM1617.5 1325.3h39.0v14.2h-39.0zM1636.9 1311.8h19.7v14.2h-19.7zM1636.9 1298.2h19.7v14.2h-19.7zM1656.3 1271.1h19.7v14.2h-19.7zM1656.3 1257.6h19.7v14.2h-19.7zM1501.3 1244.0h19.7v14.2h-19.7zM1578.8 1189.8h19.7v14.2h-19.7zM1695.0 1189.8h19.7v14.2h-19.7zM1520.7 1176.3h19.7v14.2h-19.7zM1714.4 1176.3h19.7v14.2h-19.7zM1733.8 1162.7h19.7v14.2h-19.7zM1772.5 1149.2h19.7v14.2h-19.7zM1791.9 1135.6h19.7v14.2h-19.7zM1791.9 1122.1h19.7v14.2h-19.7zM1830.7 1013.7h19.7v14.2h-19.7zM1850.0 1000.1h19.7v14.2h-19.7zM1617.5 986.6h19.7v14.2h-19.7zM1869.4 986.6h19.7v14.2h-19.7zM2063.2 986.6h58.4v14.2h-58.4zM1888.8 973.0h19.7v14.2h-19.7zM2063.2 973.0h19.7v14.2h-19.7zM2121.3 973.0h39.0v14.2h-39.0zM1559.4 959.5h19.7v14.2h-19.7zM1908.2 959.5h19.7v14.2h-19.7zM2043.8 959.5h19.7v14.2h-19.7zM2160.0 959.5h19.7v14.2h-19.7zM1617.5 945.9h19.7v14.2h-19.7zM1927.5 945.9h135.9v14.2h-135.9zM2179.4 945.9h19.7v14.2h-19.7zM1772.5 932.4h19.7v14.2h-19.7zM1850.0 932.4h19.7v14.2h-19.7zM2198.8 932.4h19.7v14.2h-19.7zM1753.2 918.8h19.7v14.2h-19.7zM1869.4 918.8h19.7v14.2h-19.7zM2218.2 918.8h19.7v14.2h-19.7zM1753.2 891.7h19.7v14.2h-19.7zM2237.5 891.7h19.7v14.2h-19.7zM1772.5 864.6h19.7v14.2h-19.7zM1888.8 864.6h19.7v14.2h-19.7zM2256.9 864.6h19.7v14.2h-19.7zM1908.2 851.1h39.0v14.2h-39.0zM2276.3 851.1h19.7v14.2h-19.7zM1927.5 837.5h39.0v14.2h-39.0zM2315.0 837.5h19.7v14.2h-19.7zM1830.7 824.0h19.7v14.2h-19.7zM1946.9 824.0h19.7v14.2h-19.7zM2353.8 824.0h19.7v14.2h-19.7zM1946.9 810.4h39.0v14.2h-39.0zM2392.5 810.4h19.7v14.2h-19.7zM1850.0 796.9h19.7v14.2h-19.7zM1966.3 796.9h39.0v14.2h-39.0zM2411.9 796.9h19.7v14.2h-19.7zM1850.0 783.3h19.7v14.2h-19.7zM2005.0 783.3h58.4v14.2h-58.4zM2450.7 783.3h19.7v14.2h-19.7zM1850.0 769.8h19.7v14.2h-19.7zM2043.8 769.8h39.0v14.2h-39.0zM2470.0 769.8h19.7v14.2h-19.7zM1850.0 756.2h19.7v14.2h-19.7zM2082.5 756.2h58.4v14.2h-58.4zM2508.8 756.2h39.0v14.2h-39.0zM1850.0 742.7h19.7v14.2h-19.7zM2140.7 742.7h39.0v14.2h-39.0zM2528.2 742.7h39.0v14.2h-39.0zM1850.0 729.1h19.7v14.2h-19.7zM2198.8 729.1h19.7v14.2h-19.7zM2528.2 729.1h58.4v14.2h-58.4zM1850.0 715.6h19.7v14.2h-19.7zM2237.5 715.6h19.7v14.2h-19.7zM2470.0 715.6h77.8v14.2h-77.8zM1850.0 702.0h19.7v14.2h-19.7zM2295.7 702.0h77.8v14.2h-77.8zM1830.7 688.5h39.0v14.2h-39.0zM1830.7 674.9h39.0v14.2h-39.0zM2818.8 674.9h116.5v14.2h-116.5zM1830.7 661.4h39.0v14.2h-39.0zM2741.3 661.4h310.3v14.2h-310.3zM1830.7 647.8h58.4v14.2h-58.4zM2683.2 647.8h135.9v14.2h-135.9zM2973.8 647.8h77.8v14.2h-77.8zM1850.0 634.3h58.4v14.2h-58.4zM2140.7 634.3h77.8v14.2h-77.8zM2566.9 634.3h155.3v14.2h-155.3zM1869.4 620.7h77.8v14.2h-77.8zM2101.9 620.7h39.0v14.2h-39.0zM2256.9 620.7h213.4v14.2h-213.4zM1888.8 607.2h213.4v14.2h-213.4zM1811.3 566.5h39.0v14.2h-39.0zM1850.0 553.0h19.7v14.2h-19.7zM1772.5 525.9h19.7v14.2h-19.7zM1772.5 512.3h19.7v14.2h-19.7zM1772.5 498.8h19.7v14.2h-19.7z"/>
<path fill="#e4e4e4" d="M997.5 1853.8h19.7v14.2h-19.7zM1230.0 1853.8h19.7v14.2h-19.7zM1423.8 1853.8h19.7v14.2h-19.7zM1850.0 1853.8h19.7v14.2h-19.7zM2508.8 1853.8h116.5v14.2h-116.5zM997.5 1840.2h19.7v14.2h-19.7zM1423.8 1840.2h19.7v14.2h-19.7zM1520.7 1840.2h116.5v14.2h-116.5zM2508.8 1840.2h97.2v14.2h-97.2zM997.5 1826.7h19.7v14.2h-19.7zM1094.4 1826.7h39.0v14.2h-39.0zM1210.7 1826.7h19.7v14.2h-19.7zM1443.2 1826.7h19.7v14.2h-19.7zM1869.4 1826.7h19.7v14.2h-19.7zM2489.4 1826.7h97.2v14.2h-97.2zM997.5 1813.1h19.7v14.2h-19.7zM1094.4 1813.1h19.7v14.2h-19.7zM1908.2 1813.1h194.1v14.2h-194.1zM2470.0 1813.1h116.5v14.2h-116.5zM997.5 1799.6h19.7v14.2h-19.7zM1191.3 1799.6h19.7v14.2h-19.7zM2101.9 1799.6h19.7v14.2h-19.7zM2431.3 1799.6h135.9v14.2h-135.9zM687.5 1786.0h19.7v14.2h-19.7zM2392.5 1786.0h174.7v14.2h-174.7zM2121.3 1772.5h19.7v14.2h-19.7zM2334.4 1772.5h97.2v14.2h-97.2zM2121.3 1758.9h39.0v14.2h-39.0zM2218.2 1758.9h155.3v14.2h-155.3zM2140.7 1745.4h135.9v14.2h-135.9zM1036.3 1704.7h19.7v14.2h-19.7zM1288.2 1691.2h19.7v14.2h-19.7zM1365.7 1691.2h19.7v14.2h-19.7zM1075.0 1677.6h19.7v14.2h-19.7zM1171.9 1677.6h19.7v14.2h-19.7zM1888.8 1664.1h213.4v14.2h-213.4zM1210.7 1650.5h58.4v14.2h-58.4zM1443.2 1650.5h19.7v14.2h-19.7zM1888.8 1650.5h19.7v14.2h-19.7zM2082.5 1650.5h19.7v14.2h-19.7zM1520.7 1637.0h19.7v14.2h-19.7zM1656.3 1637.0h19.7v14.2h-19.7zM1869.4 1637.0h19.7v14.2h-19.7zM1210.7 1623.4h19.7v14.2h-19.7zM1636.9 1623.4h19.7v14.2h-19.7zM1675.7 1623.4h19.7v14.2h-19.7zM1695.0 1609.9h19.7v14.2h-19.7zM1850.0 1609.9h19.7v14.2h-19.7zM1385.0 1596.3h19.7v14.2h-19.7zM1850.0 1596.3h19.7v14.2h-19.7zM2082.5 1596.3h19.7v14.2h-19.7zM1288.2 1582.8h19.7v14.2h-19.7zM1404.4 1582.8h39.0v14.2h-39.0zM1850.0 1582.8h19.7v14.2h-19.7zM2063.2 1582.8h19.7v14.2h-19.7zM1230.0 1569.2h19.7v14.2h-19.7zM1520.7 1569.2h39.0v14.2h-39.0zM1714.4 1569.2h19.7v14.2h-19.7zM1869.4 1569.2h19.7v14.2h-19.7zM2005.0 1569.2h39.0v14.2h-39.0zM1714.4 1555.7h19.7v14.2h-19.7zM1617.5 1528.6h19.7v14.2h-19.7zM1714.4 1528.6h19.7v14.2h-19.7zM1636.9 1515.0h19.7v14.2h-19.7zM1733.8 1515.0h19.7v14.2h-19.7zM1346.3 1501.5h58.4v14.2h-58.4zM1501.3 1501.5h19.7v14.2h-19.7zM1636.9 1501.5h19.7v14.2h-19.7zM1772.5 1501.5h19.7v14.2h-19.7zM1617.5 1487.9h39.0v14.2h-39.0zM1772.5 1487.9h19.7v14.2h-19.7zM1152.5 1474.4h19.7v14.2h-19.7zM1307.5 1474.4h19.7v14.2h-19.7zM1462.5 1474.4h19.7v14.2h-19.7zM1617.5 1474.4h39.0v14.2h-39.0zM1772.5 1474.4h19.7v14.2h-19.7zM1636.9 1460.8h135.9v14.2h-135.9zM1326.9 1447.3h19.7v14.2h-19.7zM1443.2 1447.3h39.0v14.2h-39.0zM1636.9 1447.3h19.7v14.2h-19.7zM1636.9 1433.7h19.7v14.2h-19.7zM1501.3 1420.2h19.7v14.2h-19.7zM1636.9 1420.2h19.7v14.2h-19.7zM1636.9 1406.6h19.7v14.2h-19.7zM1636.9 1393.1h19.7v14.2h-19.7zM1636.9 1379.5h19.7v14.2h-19.7zM1617.5 1366.0h19.7v14.2h-19.7zM1598.2 1352.4h39.0v14.2h-39.0zM1559.4 1338.9h58.4v14.2h-58.4zM1540.0 1325.3h77.8v14.2h-77.8zM1598.2 1311.8h39.0v14.2h-39.0zM1617.5 1298.2h19.7v14.2h-19.7zM1636.9 1284.7h19.7v14.2h-19.7zM1520.7 1244.0h19.7v14.2h-19.7zM1656.3 1244.0h19.7v14.2h-19.7zM1675.7 1216.9h19.7v14.2h-19.7zM1481.9 1203.4h19.7v14.2h-19.7zM1695.0 1176.3h19.7v14.2h-19.7zM1714.4 1162.7h19.7v14.2h-19.7zM1753.2 1149.2h19.7v14.2h-19.7zM1772.5 1135.6h19.7v14.2h-19.7zM1791.9 1108.5h19.7v14.2h-19.7zM1791.9 1095.0h19.7v14.2h-19.7zM1791.9 1081.4h19.7v14.2h-19.7zM1791.9 1067.9h19.7v14.2h-19.7zM1791.9 1054.3h19.7v14.2h-19.7zM1811.3 1027.2h19.7v14.2h-19.7zM2082.5 973.0h39.0v14.2h-39.0zM2063.2 959.5h97.2v14.2h-97.2zM2063.2 945.9h19.7v14.2h-19.7zM2160.0 945.9h19.7v14.2h-19.7zM1966.3 932.4h58.4v14.2h-58.4zM2179.4 932.4h19.7v14.2h-19.7zM2198.8 918.8h19.7v14.2h-19.7zM2218.2 905.3h19.7v14.2h-19.7zM1888.8 878.2h19.7v14.2h-19.7zM2237.5 878.2h19.7v14.2h-19.7zM1908.2 864.6h19.7v14.2h-19.7zM1946.9 851.1h39.0v14.2h-39.0zM1791.9 837.5h19.7v14.2h-19.7zM1966.3 837.5h19.7v14.2h-19.7zM2295.7 837.5h19.7v14.2h-19.7zM1811.3 824.0h19.7v14.2h-19.7zM1966.3 824.0h39.0v14.2h-39.0zM2334.4 824.0h19.7v14.2h-19.7zM1830.7 810.4h19.7v14.2h-19.7zM1985.7 810.4h19.7v14.2h-19.7zM2373.2 810.4h19.7v14.2h-19.7zM1830.7 796.9h19.7v14.2h-19.7zM2005.0 796.9h58.4v14.2h-58.4zM1830.7 783.3h19.7v14.2h-19.7zM2063.2 783.3h39.0v14.2h-39.0zM2431.3 783.3h19.7v14.2h-19.7zM1830.7 769.8h19.7v14.2h-19.7zM2082.5 769.8h58.4v14.2h-58.4zM2450.7 769.8h19.7v14.2h-19.7zM1830.7 756.2h19.7v14.2h-19.7zM2140.7 756.2h39.0v14.2h-39.0zM2470.0 756.2h39.0v14.2h-39.0zM1830.7 742.7h19.7v14.2h-19.7zM2179.4 742.7h39.0v14.2h-39.0zM2489.4 742.7h39.0v14.2h-39.0zM1830.7 729.1h19.7v14.2h-19.7zM2218.2 729.1h19.7v14.2h-19.7zM2470.0 729.1h58.4v14.2h-58.4zM1811.3 715.6h39.0v14.2h-39.0zM2256.9 715.6h19.7v14.2h-19.7zM2411.9 715.6h58.4v14.2h-58.4zM1811.3 702.0h39.0v14.2h-39.0zM1791.9 688.5h39.0v14.2h-39.0zM1791.9 674.9h39.0v14.2h-39.0zM1791.9 661.4h39.0v14.2h-39.0zM1791.9 647.8h39.0v14.2h-39.0zM2818.8 647.8h155.3v14.2h-155.3zM1811.3 634.3h39.0v14.2h-39.0zM2721.9 634.3h329.7v14.2h-329.7zM1830.7 620.7h39.0v14.2h-39.0zM2140.7 620.7h116.5v14.2h-116.5zM2470.0 620.7h581.5v14.2h-581.5zM1830.7 607.2h58.4v14.2h-58.4zM2101.9 607.2h19.7v14.2h-19.7zM1850.0 593.6h252.2v14.2h-252.2zM1811.3 580.1h58.4v14.2h-58.4zM1908.2 580.1h58.4v14.2h-58.4zM1791.9 566.5h19.7v14.2h-19.7zM1850.0 566.5h19.7v14.2h-19.7zM1772.5 539.4h19.7v14.2h-19.7zM2993.2 498.8h58.4v14.2h-58.4z"/>
<path fill="#e7e7e7" d="M1636.9 1853.8h19.7v14.2h-19.7zM2470.0 1853.8h39.0v14.2h-39.0zM1094.4 1840.2h19.7v14.2h-19.7zM1133.2 1840.2h39.0v14.2h-39.0zM1210.7 1840.2h19.7v14.2h-19.7zM1481.9 1840.2h39.0v14.2h-39.0zM1869.4 1840.2h19.7v14.2h-19.7zM2450.7 1840.2h58.4v14.2h-58.4zM1171.9 1826.7h19.7v14.2h-19.7zM1888.8 1826.7h213.4v14.2h-213.4zM2431.3 1826.7h58.4v14.2h-58.4zM2101.9 1813.1h19.7v14.2h-19.7zM2411.9 1813.1h58.4v14.2h-58.4zM2121.3 1799.6h19.7v14.2h-19.7zM2373.2 1799.6h58.4v14.2h-58.4zM765.0 1786.0h39.0v14.2h-39.0zM2121.3 1786.0h19.7v14.2h-19.7zM2295.7 1786.0h97.2v14.2h-97.2zM2140.7 1772.5h194.1v14.2h-194.1zM1016.9 1758.9h19.7v14.2h-19.7zM2160.0 1758.9h58.4v14.2h-58.4zM1268.8 1691.2h19.7v14.2h-19.7zM1307.5 1691.2h39.0v14.2h-39.0zM1055.7 1677.6h19.7v14.2h-19.7zM1365.7 1677.6h19.7v14.2h-19.7zM1094.4 1664.1h58.4v14.2h-58.4zM1385.0 1664.1h19.7v14.2h-19.7zM1385.0 1650.5h19.7v14.2h-19.7zM1462.5 1650.5h58.4v14.2h-58.4zM1908.2 1650.5h174.7v14.2h-174.7zM1230.0 1637.0h19.7v14.2h-19.7zM1888.8 1637.0h213.4v14.2h-213.4zM1869.4 1623.4h19.7v14.2h-19.7zM2082.5 1623.4h19.7v14.2h-19.7zM1540.0 1609.9h19.7v14.2h-19.7zM2082.5 1609.9h19.7v14.2h-19.7zM1210.7 1582.8h19.7v14.2h-19.7zM1869.4 1582.8h19.7v14.2h-19.7zM2043.8 1582.8h19.7v14.2h-19.7zM1326.9 1569.2h19.7v14.2h-19.7zM1501.3 1569.2h19.7v14.2h-19.7zM1888.8 1569.2h116.5v14.2h-116.5zM1481.9 1542.1h19.7v14.2h-19.7zM1598.2 1542.1h19.7v14.2h-19.7zM1481.9 1528.6h19.7v14.2h-19.7zM1636.9 1528.6h19.7v14.2h-19.7zM1481.9 1515.0h19.7v14.2h-19.7zM1656.3 1515.0h19.7v14.2h-19.7zM1714.4 1515.0h19.7v14.2h-19.7zM1326.9 1501.5h19.7v14.2h-19.7zM1404.4 1501.5h19.7v14.2h-19.7zM1656.3 1501.5h19.7v14.2h-19.7zM1307.5 1487.9h19.7v14.2h-19.7zM1443.2 1487.9h19.7v14.2h-19.7zM1501.3 1487.9h19.7v14.2h-19.7zM1656.3 1487.9h19.7v14.2h-19.7zM1540.0 1474.4h77.8v14.2h-77.8zM1656.3 1474.4h116.5v14.2h-116.5zM1307.5 1460.8h19.7v14.2h-19.7zM1617.5 1460.8h19.7v14.2h-19.7zM1365.7 1433.7h58.4v14.2h-58.4zM1617.5 1379.5h19.7v14.2h-19.7zM1559.4 1366.0h58.4v14.2h-58.4zM1540.0 1352.4h58.4v14.2h-58.4zM1520.7 1338.9h39.0v14.2h-39.0zM1501.3 1325.3h39.0v14.2h-39.0zM1520.7 1311.8h77.8v14.2h-77.8zM1540.0 1298.2h77.8v14.2h-77.8zM1617.5 1284.7h19.7v14.2h-19.7zM1636.9 1271.1h19.7v14.2h-19.7zM1481.9 1244.0h19.7v14.2h-19.7zM1656.3 1230.5h19.7v14.2h-19.7zM1675.7 1203.4h19.7v14.2h-19.7zM1578.8 1176.3h19.7v14.2h-19.7zM1695.0 1162.7h19.7v14.2h-19.7zM1733.8 1149.2h19.7v14.2h-19.7zM1753.2 1135.6h19.7v14.2h-19.7zM1772.5 1122.1h19.7v14.2h-19.7zM1772.5 1108.5h19.7v14.2h-19.7zM1772.5 1095.0h19.7v14.2h-19.7zM1772.5 1081.4h19.7v14.2h-19.7zM1791.9 1040.8h19.7v14.2h-19.7zM1578.8 1027.2h19.7v14.2h-19.7zM1811.3 1013.7h19.7v14.2h-19.7zM1830.7 1000.1h19.7v14.2h-19.7zM1850.0 986.6h19.7v14.2h-19.7zM1869.4 973.0h19.7v14.2h-19.7zM1888.8 959.5h19.7v14.2h-19.7zM1559.4 945.9h19.7v14.2h-19.7zM1811.3 945.9h19.7v14.2h-19.7zM1908.2 945.9h19.7v14.2h-19.7zM2082.5 945.9h77.8v14.2h-77.8zM1578.8 932.4h39.0v14.2h-39.0zM1869.4 932.4h19.7v14.2h-19.7zM1927.5 932.4h39.0v14.2h-39.0zM2024.4 932.4h77.8v14.2h-77.8zM2198.8 905.3h19.7v14.2h-19.7zM1888.8 891.7h19.7v14.2h-19.7zM2218.2 891.7h19.7v14.2h-19.7zM1753.2 878.2h19.7v14.2h-19.7zM1927.5 864.6h58.4v14.2h-58.4zM2237.5 864.6h19.7v14.2h-19.7zM1772.5 851.1h19.7v14.2h-19.7zM1985.7 851.1h39.0v14.2h-39.0zM2256.9 851.1h19.7v14.2h-19.7zM1985.7 837.5h39.0v14.2h-39.0zM2276.3 837.5h19.7v14.2h-19.7zM2005.0 824.0h19.7v14.2h-19.7zM2315.0 824.0h19.7v14.2h-19.7zM1811.3 810.4h19.7v14.2h-19.7zM2005.0 810.4h58.4v14.2h-58.4zM2353.8 810.4h19.7v14.2h-19.7zM1811.3 796.9h19.7v14.2h-19.7zM2063.2 796.9h39.0v14.2h-39.0zM2392.5 796.9h19.7v14.2h-19.7zM1811.3 783.3h19.7v14.2h-19.7zM2101.9 783.3h39.0v14.2h-39.0zM2411.9 783.3h19.7v14.2h-19.7zM1811.3 769.8h19.7v14.2h-19.7zM2140.7 769.8h39.0v14.2h-39.0zM2431.3 769.8h19.7v14.2h-19.7zM1811.3 756.2h19.7v14.2h-19.7zM2179.4 756.2h39.0v14.2h-39.0zM2450.7 756.2h19.7v14.2h-19.7zM1811.3 742.7h19.7v14.2h-19.7zM2218.2 742.7h19.7v14.2h-19.7zM2450.7 742.7h39.0v14.2h-39.0zM1791.9 729.1h39.0v14.2h-39.0zM2237.5 729.1h19.7v14.2h-19.7zM2431.3 729.1h39.0v14.2h-39.0zM1791.9 715.6h19.7v14.2h-19.7zM2276.3 715.6h135.9v14.2h-135.9zM1772.5 702.0h39.0v14.2h-39.0zM1772.5 688.5h19.7v14.2h-19.7zM1753.2 674.9h39.0v14.2h-39.0zM1753.2 661.4h39.0v14.2h-39.0zM1753.2 647.8h39.0v14.2h-39.0zM1772.5 634.3h39.0v14.2h-39.0zM1772.5 620.7h58.4v14.2h-58.4zM1791.9 607.2h39.0v14.2h-39.0zM2121.3 607.2h930.3v14.2h-930.3zM1791.9 593.6h58.4v14.2h-58.4zM2101.9 593.6h19.7v14.2h-19.7zM2605.7 593.6h58.4v14.2h-58.4zM1791.9 580.1h19.7v14.2h-19.7zM1869.4 580.1h39.0v14.2h-39.0zM1966.3 580.1h135.9v14.2h-135.9zM1772.5 566.5h19.7v14.2h-19.7zM1869.4 566.5h97.2v14.2h-97.2zM1772.5 553.0h19.7v14.2h-19.7zM1869.4 553.0h19.7v14.2h-19.7zM1869.4 539.4h19.7v14.2h-19.7zM1869.4 525.9h19.7v14.2h-19.7zM2954.4 525.9h97.2v14.2h-97.2zM1869.4 512.3h19.7v14.2h-19.7zM2896.3 512.3h155.3v14.2h-155.3zM1753.2 498.8h19.7v14.2h-19.7zM1869.4 498.8h19.7v14.2h-19.7zM2876.9 498.8h116.5v14.2h-116.5z"/>
<path fill="#eaeaea" d="M842.5 1853.8h19.7v14.2h-19.7zM1094.4 1853.8h77.8v14.2h-77.8zM1210.7 1853.8h19.7v14.2h-19.7zM1443.2 1853.8h19.7v14.2h-19.7zM1617.5 1853.8h19.7v14.2h-19.7zM1869.4 1853.8h19.7v14.2h-19.7zM2431.3 1853.8h39.0v14.2h-39.0zM842.5 1840.2h19.7v14.2h-19.7zM1113.8 1840.2h19.7v14.2h-19.7zM1171.9 1840.2h39.0v14.2h-39.0zM1443.2 1840.2h39.0v14.2h-39.0zM1888.8 1840.2h213.4v14.2h-213.4zM2411.9 1840.2h39.0v14.2h-39.0zM1191.3 1826.7h19.7v14.2h-19.7zM2101.9 1826.7h19.7v14.2h-19.7zM2392.5 1826.7h39.0v14.2h-39.0zM1191.3 1813.1h19.7v14.2h-19.7zM2121.3 1813.1h19.7v14.2h-19.7zM2353.8 1813.1h58.4v14.2h-58.4zM823.2 1799.6h19.7v14.2h-19.7zM2140.7 1799.6h19.7v14.2h-19.7zM2237.5 1799.6h135.9v14.2h-135.9zM997.5 1786.0h19.7v14.2h-19.7zM2140.7 1786.0h155.3v14.2h-155.3zM1016.9 1745.4h19.7v14.2h-19.7zM1016.9 1731.8h19.7v14.2h-19.7zM1016.9 1718.3h19.7v14.2h-19.7zM1036.3 1691.2h19.7v14.2h-19.7zM1346.3 1691.2h19.7v14.2h-19.7zM1191.3 1677.6h19.7v14.2h-19.7zM1346.3 1677.6h19.7v14.2h-19.7zM1075.0 1664.1h19.7v14.2h-19.7zM1152.5 1664.1h39.0v14.2h-39.0zM1365.7 1664.1h19.7v14.2h-19.7zM1365.7 1650.5h19.7v14.2h-19.7zM1210.7 1637.0h19.7v14.2h-19.7zM1249.4 1637.0h19.7v14.2h-19.7zM1365.7 1637.0h19.7v14.2h-19.7zM1501.3 1637.0h19.7v14.2h-19.7zM1191.3 1623.4h19.7v14.2h-19.7zM1365.7 1623.4h19.7v14.2h-19.7zM1520.7 1623.4h19.7v14.2h-19.7zM1656.3 1623.4h19.7v14.2h-19.7zM1888.8 1623.4h194.1v14.2h-194.1zM1191.3 1609.9h19.7v14.2h-19.7zM1365.7 1609.9h19.7v14.2h-19.7zM1675.7 1609.9h19.7v14.2h-19.7zM1869.4 1609.9h19.7v14.2h-19.7zM2063.2 1609.9h19.7v14.2h-19.7zM1191.3 1596.3h19.7v14.2h-19.7zM1559.4 1596.3h19.7v14.2h-19.7zM1617.5 1596.3h19.7v14.2h-19.7zM1695.0 1596.3h19.7v14.2h-19.7zM1869.4 1596.3h19.7v14.2h-19.7zM2043.8 1596.3h39.0v14.2h-39.0zM1307.5 1582.8h19.7v14.2h-19.7zM1385.0 1582.8h19.7v14.2h-19.7zM1443.2 1582.8h19.7v14.2h-19.7zM1888.8 1582.8h155.3v14.2h-155.3zM1559.4 1569.2h19.7v14.2h-19.7zM1481.9 1555.7h19.7v14.2h-19.7zM1617.5 1542.1h19.7v14.2h-19.7zM1695.0 1542.1h19.7v14.2h-19.7zM1268.8 1528.6h19.7v14.2h-19.7zM1675.7 1528.6h39.0v14.2h-39.0zM1307.5 1515.0h19.7v14.2h-19.7zM1675.7 1515.0h39.0v14.2h-39.0zM1423.8 1501.5h19.7v14.2h-19.7zM1481.9 1501.5h19.7v14.2h-19.7zM1675.7 1501.5h19.7v14.2h-19.7zM1714.4 1501.5h58.4v14.2h-58.4zM1462.5 1487.9h39.0v14.2h-39.0zM1675.7 1487.9h97.2v14.2h-97.2zM1133.2 1460.8h19.7v14.2h-19.7zM1559.4 1460.8h58.4v14.2h-58.4zM1617.5 1447.3h19.7v14.2h-19.7zM1152.5 1433.7h19.7v14.2h-19.7zM1346.3 1433.7h19.7v14.2h-19.7zM1423.8 1433.7h19.7v14.2h-19.7zM1462.5 1433.7h19.7v14.2h-19.7zM1617.5 1433.7h19.7v14.2h-19.7zM1191.3 1420.2h19.7v14.2h-19.7zM1481.9 1420.2h19.7v14.2h-19.7zM1617.5 1420.2h19.7v14.2h-19.7zM1501.3 1406.6h58.4v14.2h-58.4zM1617.5 1406.6h19.7v14.2h-19.7zM1617.5 1393.1h19.7v14.2h-19.7zM1559.4 1379.5h58.4v14.2h-58.4zM1520.7 1366.0h39.0v14.2h-39.0zM1501.3 1352.4h39.0v14.2h-39.0zM1501.3 1338.9h19.7v14.2h-19.7zM1481.9 1325.3h19.7v14.2h-19.7zM1481.9 1311.8h39.0v14.2h-39.0zM1501.3 1298.2h39.0v14.2h-39.0zM1598.2 1284.7h19.7v14.2h-19.7zM1636.9 1257.6h19.7v14.2h-19.7zM1540.0 1244.0h19.7v14.2h-19.7zM1559.4 1230.5h19.7v14.2h-19.7zM1656.3 1216.9h19.7v14.2h-19.7zM1481.9 1189.8h19.7v14.2h-19.7zM1675.7 1189.8h19.7v14.2h-19.7zM1501.3 1176.3h19.7v14.2h-19.7zM1675.7 1176.3h19.7v14.2h-19.7zM1695.0 1149.2h39.0v14.2h-39.0zM1733.8 1135.6h19.7v14.2h-19.7zM1753.2 1122.1h19.7v14.2h-19.7zM1753.2 1108.5h19.7v14.2h-19.7zM1772.5 1067.9h19.7v14.2h-19.7zM1540.0 1027.2h19.7v14.2h-19.7zM1791.9 1027.2h19.7v14.2h-19.7zM1540.0 1013.7h19.7v14.2h-19.7zM1540.0 1000.1h19.7v14.2h-19.7zM1540.0 986.6h19.7v14.2h-19.7zM1869.4 959.5h19.7v14.2h-19.7zM1791.9 945.9h19.7v14.2h-19.7zM1830.7 945.9h77.8v14.2h-77.8zM1617.5 932.4h19.7v14.2h-19.7zM1753.2 932.4h19.7v14.2h-19.7zM1888.8 932.4h39.0v14.2h-39.0zM2101.9 932.4h77.8v14.2h-77.8zM1888.8 918.8h19.7v14.2h-19.7zM1966.3 918.8h97.2v14.2h-97.2zM2179.4 918.8h19.7v14.2h-19.7zM1888.8 905.3h19.7v14.2h-19.7zM2198.8 891.7h19.7v14.2h-19.7zM1908.2 878.2h19.7v14.2h-19.7zM2218.2 878.2h19.7v14.2h-19.7zM1753.2 864.6h19.7v14.2h-19.7zM1985.7 864.6h39.0v14.2h-39.0zM2218.2 864.6h19.7v14.2h-19.7zM2024.4 851.1h19.7v14.2h-19.7zM2237.5 851.1h19.7v14.2h-19.7zM1772.5 837.5h19.7v14.2h-19.7zM2024.4 837.5h39.0v14.2h-39.0zM2256.9 837.5h19.7v14.2h-19.7zM1791.9 824.0h19.7v14.2h-19.7zM2024.4 824.0h39.0v14.2h-39.0zM2295.7 824.0h19.7v14.2h-19.7zM1791.9 810.4h19.7v14.2h-19.7zM2063.2 810.4h39.0v14.2h-39.0zM2334.4 810.4h19.7v14.2h-19.7zM1791.9 796.9h19.7v14.2h-19.7zM2101.9 796.9h39.0v14.2h-39.0zM2373.2 796.9h19.7v14.2h-19.7zM1791.9 783.3h19.7v14.2h-19.7zM2140.7 783.3h58.4v14.2h-58.4zM2392.5 783.3h19.7v14.2h-19.7zM1791.9 769.8h19.7v14.2h-19.7zM2179.4 769.8h39.0v14.2h-39.0zM2411.9 769.8h19.7v14.2h-19.7zM1791.9 756.2h19.7v14.2h-19.7zM2218.2 756.2h19.7v14.2h-19.7zM2431.3 756.2h19.7v14.2h-19.7zM1772.5 742.7h39.0v14.2h-39.0zM2237.5 742.7h19.7v14.2h-19.7zM2431.3 742.7h19.7v14.2h-19.7zM1772.5 729.1h19.7v14.2h-19.7zM2256.9 729.1h39.0v14.2h-39.0zM2392.5 729.1h39.0v14.2h-39.0zM1753.2 715.6h39.0v14.2h-39.0zM1733.8 702.0h39.0v14.2h-39.0zM1733.8 688.5h39.0v14.2h-39.0zM1733.8 674.9h19.7v14.2h-19.7zM1733.8 661.4h19.7v14.2h-19.7zM1733.8 647.8h19.7v14.2h-19.7zM1733.8 634.3h39.0v14.2h-39.0zM1753.2 620.7h19.7v14.2h-19.7zM1753.2 607.2h39.0v14.2h-39.0zM1772.5 593.6h19.7v14.2h-19.7zM2121.3 593.6h484.7v14.2h-484.7zM2663.8 593.6h387.8v14.2h-387.8zM1772.5 580.1h19.7v14.2h-19.7zM2101.9 580.1h19.7v14.2h-19.7zM2605.7 580.1h445.9v14.2h-445.9zM1966.3 566.5h135.9v14.2h-135.9zM2935.0 566.5h116.5v14.2h-116.5zM1753.2 553.0h19.7v14.2h-19.7zM1888.8 553.0h58.4v14.2h-58.4zM2935.0 553.0h116.5v14.2h-116.5zM1753.2 539.4h19.7v14.2h-19.7zM1888.8 539.4h19.7v14.2h-19.7zM2857.5 539.4h194.1v14.2h-194.1zM1753.2 525.9h19.7v14.2h-19.7zM2838.2 525.9h116.5v14.2h-116.5zM1753.2 512.3h19.7v14.2h-19.7zM2818.8 512.3h77.8v14.2h-77.8zM2818.8 498.8h58.4v14.2h-58.4z"/>
<path fill="#ededed" d="M978.2 1853.8h19.7v14.2h-19.7zM1075.0 1853.8h19.7v14.2h-19.7zM1171.9 1853.8h39.0v14.2h-39.0zM1462.5 1853.8h155.3v14.2h-155.3zM1888.8 1853.8h542.8v14.2h-542.8zM978.2 1840.2h19.7v14.2h-19.7zM1636.9 1840.2h19.7v14.2h-19.7zM2101.9 1840.2h310.3v14.2h-310.3zM842.5 1826.7h19.7v14.2h-19.7zM978.2 1826.7h19.7v14.2h-19.7zM2121.3 1826.7h271.6v14.2h-271.6zM842.5 1813.1h19.7v14.2h-19.7zM978.2 1813.1h19.7v14.2h-19.7zM1171.9 1813.1h19.7v14.2h-19.7zM2140.7 1813.1h213.4v14.2h-213.4zM726.3 1799.6h19.7v14.2h-19.7zM1113.8 1799.6h19.7v14.2h-19.7zM1171.9 1799.6h19.7v14.2h-19.7zM1210.7 1799.6h19.7v14.2h-19.7zM2160.0 1799.6h77.8v14.2h-77.8zM745.7 1786.0h19.7v14.2h-19.7zM803.8 1786.0h19.7v14.2h-19.7zM1191.3 1786.0h19.7v14.2h-19.7zM997.5 1772.5h19.7v14.2h-19.7zM1365.7 1772.5h19.7v14.2h-19.7zM1365.7 1758.9h19.7v14.2h-19.7zM1016.9 1704.7h19.7v14.2h-19.7zM1365.7 1704.7h19.7v14.2h-19.7zM1210.7 1691.2h19.7v14.2h-19.7zM1249.4 1691.2h19.7v14.2h-19.7zM1036.3 1677.6h19.7v14.2h-19.7zM1210.7 1677.6h19.7v14.2h-19.7zM1249.4 1677.6h97.2v14.2h-97.2zM1055.7 1664.1h19.7v14.2h-19.7zM1191.3 1664.1h39.0v14.2h-39.0zM1249.4 1664.1h116.5v14.2h-116.5zM1055.7 1650.5h155.3v14.2h-155.3zM1268.8 1650.5h97.2v14.2h-97.2zM1578.8 1650.5h39.0v14.2h-39.0zM1036.3 1637.0h174.7v14.2h-174.7zM1268.8 1637.0h97.2v14.2h-97.2zM1443.2 1637.0h58.4v14.2h-58.4zM1617.5 1637.0h39.0v14.2h-39.0zM1016.9 1623.4h174.7v14.2h-174.7zM1249.4 1623.4h19.7v14.2h-19.7zM1288.2 1623.4h77.8v14.2h-77.8zM1443.2 1623.4h19.7v14.2h-19.7zM997.5 1609.9h194.1v14.2h-194.1zM1268.8 1609.9h97.2v14.2h-97.2zM1385.0 1609.9h19.7v14.2h-19.7zM1520.7 1609.9h19.7v14.2h-19.7zM1656.3 1609.9h19.7v14.2h-19.7zM1888.8 1609.9h174.7v14.2h-174.7zM997.5 1596.3h194.1v14.2h-194.1zM1268.8 1596.3h116.5v14.2h-116.5zM1540.0 1596.3h19.7v14.2h-19.7zM1636.9 1596.3h19.7v14.2h-19.7zM1888.8 1596.3h155.3v14.2h-155.3zM997.5 1582.8h213.4v14.2h-213.4zM1230.0 1582.8h19.7v14.2h-19.7zM1268.8 1582.8h19.7v14.2h-19.7zM1326.9 1582.8h58.4v14.2h-58.4zM1501.3 1582.8h58.4v14.2h-58.4zM1695.0 1582.8h19.7v14.2h-19.7zM997.5 1569.2h174.7v14.2h-174.7zM1210.7 1569.2h19.7v14.2h-19.7zM1249.4 1569.2h19.7v14.2h-19.7zM1307.5 1569.2h19.7v14.2h-19.7zM1481.9 1569.2h19.7v14.2h-19.7zM1695.0 1569.2h19.7v14.2h-19.7zM1249.4 1555.7h19.7v14.2h-19.7zM1695.0 1555.7h19.7v14.2h-19.7zM1636.9 1542.1h58.4v14.2h-58.4zM1288.2 1528.6h19.7v14.2h-19.7zM1365.7 1515.0h39.0v14.2h-39.0zM1462.5 1515.0h19.7v14.2h-19.7zM1307.5 1501.5h19.7v14.2h-19.7zM1443.2 1501.5h39.0v14.2h-39.0zM1695.0 1501.5h19.7v14.2h-19.7zM1152.5 1487.9h39.0v14.2h-39.0zM1133.2 1474.4h19.7v14.2h-19.7zM1288.2 1474.4h19.7v14.2h-19.7zM1481.9 1474.4h39.0v14.2h-39.0zM1230.0 1460.8h19.7v14.2h-19.7zM1520.7 1460.8h39.0v14.2h-39.0zM1133.2 1447.3h19.7v14.2h-19.7zM1249.4 1447.3h19.7v14.2h-19.7zM1307.5 1447.3h19.7v14.2h-19.7zM1540.0 1447.3h77.8v14.2h-77.8zM1326.9 1433.7h19.7v14.2h-19.7zM1443.2 1433.7h19.7v14.2h-19.7zM1481.9 1433.7h19.7v14.2h-19.7zM1540.0 1433.7h77.8v14.2h-77.8zM1171.9 1420.2h19.7v14.2h-19.7zM1210.7 1420.2h19.7v14.2h-19.7zM1540.0 1420.2h77.8v14.2h-77.8zM1559.4 1406.6h58.4v14.2h-58.4zM1501.3 1393.1h116.5v14.2h-116.5zM1501.3 1379.5h58.4v14.2h-58.4zM1462.5 1366.0h58.4v14.2h-58.4zM1423.8 1352.4h77.8v14.2h-77.8zM1404.4 1338.9h97.2v14.2h-97.2zM1423.8 1325.3h58.4v14.2h-58.4zM1462.5 1311.8h19.7v14.2h-19.7zM1481.9 1298.2h19.7v14.2h-19.7zM1501.3 1284.7h97.2v14.2h-97.2zM1617.5 1271.1h19.7v14.2h-19.7zM1481.9 1257.6h58.4v14.2h-58.4zM1636.9 1244.0h19.7v14.2h-19.7zM1462.5 1230.5h19.7v14.2h-19.7zM1540.0 1230.5h19.7v14.2h-19.7zM1636.9 1230.5h19.7v14.2h-19.7zM1462.5 1216.9h19.7v14.2h-19.7zM1559.4 1216.9h39.0v14.2h-39.0zM1656.3 1203.4h19.7v14.2h-19.7zM1656.3 1189.8h19.7v14.2h-19.7zM1540.0 1162.7h39.0v14.2h-39.0zM1675.7 1162.7h19.7v14.2h-19.7zM1675.7 1149.2h19.7v14.2h-19.7zM1695.0 1135.6h39.0v14.2h-39.0zM1695.0 1122.1h58.4v14.2h-58.4zM1733.8 1108.5h19.7v14.2h-19.7zM1733.8 1095.0h39.0v14.2h-39.0zM1753.2 1081.4h19.7v14.2h-19.7zM1772.5 1054.3h19.7v14.2h-19.7zM1540.0 1040.8h39.0v14.2h-39.0zM1772.5 1040.8h19.7v14.2h-19.7zM1791.9 1013.7h19.7v14.2h-19.7zM1811.3 1000.1h19.7v14.2h-19.7zM1830.7 986.6h19.7v14.2h-19.7zM1540.0 973.0h19.7v14.2h-19.7zM1850.0 973.0h19.7v14.2h-19.7zM1636.9 959.5h19.7v14.2h-19.7zM1850.0 959.5h19.7v14.2h-19.7zM1636.9 945.9h19.7v14.2h-19.7zM1772.5 945.9h19.7v14.2h-19.7zM1733.8 918.8h19.7v14.2h-19.7zM1908.2 918.8h58.4v14.2h-58.4zM2063.2 918.8h116.5v14.2h-116.5zM1733.8 905.3h19.7v14.2h-19.7zM2160.0 905.3h39.0v14.2h-39.0zM1733.8 891.7h19.7v14.2h-19.7zM1908.2 891.7h19.7v14.2h-19.7zM2179.4 891.7h19.7v14.2h-19.7zM1927.5 878.2h116.5v14.2h-116.5zM2198.8 878.2h19.7v14.2h-19.7zM2024.4 864.6h58.4v14.2h-58.4zM2198.8 864.6h19.7v14.2h-19.7zM1753.2 851.1h19.7v14.2h-19.7zM2043.8 851.1h39.0v14.2h-39.0zM2218.2 851.1h19.7v14.2h-19.7zM2063.2 837.5h39.0v14.2h-39.0zM2237.5 837.5h19.7v14.2h-19.7zM1772.5 824.0h19.7v14.2h-19.7zM2063.2 824.0h39.0v14.2h-39.0zM2256.9 824.0h39.0v14.2h-39.0zM2101.9 810.4h58.4v14.2h-58.4zM2295.7 810.4h39.0v14.2h-39.0zM1772.5 796.9h19.7v14.2h-19.7zM2140.7 796.9h58.4v14.2h-58.4zM2334.4 796.9h39.0v14.2h-39.0zM1772.5 783.3h19.7v14.2h-19.7zM2198.8 783.3h39.0v14.2h-39.0zM2373.2 783.3h19.7v14.2h-19.7zM1772.5 769.8h19.7v14.2h-19.7zM2218.2 769.8h19.7v14.2h-19.7zM2392.5 769.8h19.7v14.2h-19.7zM1753.2 756.2h39.0v14.2h-39.0zM2237.5 756.2h19.7v14.2h-19.7zM2392.5 756.2h39.0v14.2h-39.0zM1733.8 742.7h39.0v14.2h-39.0zM2256.9 742.7h19.7v14.2h-19.7zM2392.5 742.7h39.0v14.2h-39.0zM1714.4 729.1h58.4v14.2h-58.4zM2295.7 729.1h97.2v14.2h-97.2zM1714.4 715.6h39.0v14.2h-39.0zM1714.4 702.0h19.7v14.2h-19.7zM1695.0 688.5h39.0v14.2h-39.0zM1695.0 674.9h39.0v14.2h-39.0zM1714.4 661.4h19.7v14.2h-19.7zM1714.4 647.8h19.7v14.2h-19.7zM1714.4 634.3h19.7v14.2h-19.7zM1714.4 620.7h39.0v14.2h-39.0zM1733.8 607.2h19.7v14.2h-19.7zM1733.8 593.6h39.0v14.2h-39.0zM1733.8 580.1h39.0v14.2h-39.0zM2121.3 580.1h484.7v14.2h-484.7zM1733.8 566.5h39.0v14.2h-39.0zM2101.9 566.5h19.7v14.2h-19.7zM2586.3 566.5h349.1v14.2h-349.1zM1733.8 553.0h19.7v14.2h-19.7zM1946.9 553.0h135.9v14.2h-135.9zM2721.9 553.0h213.4v14.2h-213.4zM1733.8 539.4h19.7v14.2h-19.7zM1908.2 539.4h39.0v14.2h-39.0zM2741.3 539.4h116.5v14.2h-116.5zM1733.8 525.9h19.7v14.2h-19.7zM1888.8 525.9h19.7v14.2h-19.7zM2741.3 525.9h97.2v14.2h-97.2zM1733.8 512.3h19.7v14.2h-19.7zM1888.8 512.3h19.7v14.2h-19.7zM2741.3 512.3h77.8v14.2h-77.8zM1733.8 498.8h19.7v14.2h-19.7zM1888.8 498.8h19.7v14.2h-19.7zM2760.7 498.8h58.4v14.2h-58.4z"/>
<path fill="#f0f0f0" d="M978.2 1799.6h19.7v14.2h-19.7zM978.2 1786.0h19.7v14.2h-19.7zM687.5 1772.5h39.0v14.2h-39.0zM997.5 1758.9h19.7v14.2h-19.7zM997.5 1745.4h19.7v14.2h-19.7zM1016.9 1691.2h19.7v14.2h-19.7zM1016.9 1677.6h19.7v14.2h-19.7zM1036.3 1664.1h19.7v14.2h-19.7zM1016.9 1650.5h39.0v14.2h-39.0zM997.5 1637.0h39.0v14.2h-39.0zM978.2 1623.4h39.0v14.2h-39.0zM1462.5 1623.4h58.4v14.2h-58.4zM958.8 1609.9h39.0v14.2h-39.0zM1501.3 1609.9h19.7v14.2h-19.7zM958.8 1596.3h39.0v14.2h-39.0zM1520.7 1596.3h19.7v14.2h-19.7zM1656.3 1596.3h39.0v14.2h-39.0zM958.8 1582.8h39.0v14.2h-39.0zM1462.5 1582.8h39.0v14.2h-39.0zM1559.4 1582.8h19.7v14.2h-19.7zM1675.7 1582.8h19.7v14.2h-19.7zM958.8 1569.2h39.0v14.2h-39.0zM1171.9 1569.2h39.0v14.2h-39.0zM1346.3 1569.2h135.9v14.2h-135.9zM1578.8 1569.2h19.7v14.2h-19.7zM978.2 1555.7h213.4v14.2h-213.4zM1210.7 1555.7h39.0v14.2h-39.0zM1462.5 1555.7h19.7v14.2h-19.7zM1598.2 1555.7h97.2v14.2h-97.2zM997.5 1542.1h174.7v14.2h-174.7zM1462.5 1542.1h19.7v14.2h-19.7zM1462.5 1528.6h19.7v14.2h-19.7zM1346.3 1515.0h19.7v14.2h-19.7zM1404.4 1515.0h58.4v14.2h-58.4zM1133.2 1487.9h19.7v14.2h-19.7zM1288.2 1487.9h19.7v14.2h-19.7zM1288.2 1460.8h19.7v14.2h-19.7zM1133.2 1433.7h19.7v14.2h-19.7zM1249.4 1433.7h19.7v14.2h-19.7zM1230.0 1420.2h19.7v14.2h-19.7zM1365.7 1420.2h58.4v14.2h-58.4zM1481.9 1406.6h19.7v14.2h-19.7zM1481.9 1393.1h19.7v14.2h-19.7zM1443.2 1379.5h58.4v14.2h-58.4zM1404.4 1366.0h58.4v14.2h-58.4zM1385.0 1352.4h39.0v14.2h-39.0zM1365.7 1338.9h39.0v14.2h-39.0zM1385.0 1325.3h39.0v14.2h-39.0zM1404.4 1311.8h58.4v14.2h-58.4zM1443.2 1298.2h39.0v14.2h-39.0zM1462.5 1284.7h39.0v14.2h-39.0zM1481.9 1271.1h135.9v14.2h-135.9zM1540.0 1257.6h19.7v14.2h-19.7zM1617.5 1257.6h19.7v14.2h-19.7zM1462.5 1244.0h19.7v14.2h-19.7zM1636.9 1216.9h19.7v14.2h-19.7zM1462.5 1203.4h19.7v14.2h-19.7zM1598.2 1189.8h19.7v14.2h-19.7zM1598.2 1176.3h19.7v14.2h-19.7zM1656.3 1176.3h19.7v14.2h-19.7zM1520.7 1162.7h19.7v14.2h-19.7zM1578.8 1162.7h19.7v14.2h-19.7zM1656.3 1162.7h19.7v14.2h-19.7zM1656.3 1149.2h19.7v14.2h-19.7zM1656.3 1135.6h39.0v14.2h-39.0zM1675.7 1122.1h19.7v14.2h-19.7zM1675.7 1108.5h58.4v14.2h-58.4zM1695.0 1095.0h39.0v14.2h-39.0zM1733.8 1081.4h19.7v14.2h-19.7zM1753.2 1067.9h19.7v14.2h-19.7zM1753.2 1054.3h19.7v14.2h-19.7zM1598.2 1027.2h19.7v14.2h-19.7zM1772.5 1027.2h19.7v14.2h-19.7zM1811.3 986.6h19.7v14.2h-19.7zM1830.7 973.0h19.7v14.2h-19.7zM1540.0 959.5h19.7v14.2h-19.7zM1811.3 959.5h39.0v14.2h-39.0zM1559.4 932.4h19.7v14.2h-19.7zM1636.9 932.4h19.7v14.2h-19.7zM1578.8 918.8h58.4v14.2h-58.4zM1908.2 905.3h252.2v14.2h-252.2zM1927.5 891.7h174.7v14.2h-174.7zM2160.0 891.7h19.7v14.2h-19.7zM1733.8 878.2h19.7v14.2h-19.7zM2043.8 878.2h77.8v14.2h-77.8zM2179.4 878.2h19.7v14.2h-19.7zM2082.5 864.6h39.0v14.2h-39.0zM2179.4 864.6h19.7v14.2h-19.7zM2082.5 851.1h39.0v14.2h-39.0zM2179.4 851.1h39.0v14.2h-39.0zM1753.2 837.5h19.7v14.2h-19.7zM2101.9 837.5h39.0v14.2h-39.0zM2179.4 837.5h58.4v14.2h-58.4zM2101.9 824.0h155.3v14.2h-155.3zM1772.5 810.4h19.7v14.2h-19.7zM2160.0 810.4h135.9v14.2h-135.9zM1753.2 796.9h19.7v14.2h-19.7zM2198.8 796.9h135.9v14.2h-135.9zM1733.8 783.3h39.0v14.2h-39.0zM2237.5 783.3h39.0v14.2h-39.0zM2315.0 783.3h58.4v14.2h-58.4zM1714.4 769.8h58.4v14.2h-58.4zM2237.5 769.8h39.0v14.2h-39.0zM2353.8 769.8h39.0v14.2h-39.0zM1695.0 756.2h58.4v14.2h-58.4zM2256.9 756.2h39.0v14.2h-39.0zM2353.8 756.2h39.0v14.2h-39.0zM1675.7 742.7h58.4v14.2h-58.4zM2276.3 742.7h116.5v14.2h-116.5zM1675.7 729.1h39.0v14.2h-39.0zM1675.7 715.6h39.0v14.2h-39.0zM1675.7 702.0h39.0v14.2h-39.0zM1675.7 688.5h19.7v14.2h-19.7zM1675.7 674.9h19.7v14.2h-19.7zM1675.7 661.4h39.0v14.2h-39.0zM1675.7 647.8h39.0v14.2h-39.0zM1695.0 634.3h19.7v14.2h-19.7zM1695.0 620.7h19.7v14.2h-19.7zM1695.0 607.2h39.0v14.2h-39.0zM1714.4 593.6h19.7v14.2h-19.7zM1714.4 580.1h19.7v14.2h-19.7zM1714.4 566.5h19.7v14.2h-19.7zM2121.3 566.5h465.3v14.2h-465.3zM1714.4 553.0h19.7v14.2h-19.7zM2082.5 553.0h39.0v14.2h-39.0zM2547.5 553.0h174.7v14.2h-174.7zM1714.4 539.4h19.7v14.2h-19.7zM1946.9 539.4h58.4v14.2h-58.4zM2625.0 539.4h116.5v14.2h-116.5zM1714.4 525.9h19.7v14.2h-19.7zM1908.2 525.9h39.0v14.2h-39.0zM2663.8 525.9h77.8v14.2h-77.8zM1714.4 512.3h19.7v14.2h-19.7zM1908.2 512.3h19.7v14.2h-19.7zM2683.2 512.3h58.4v14.2h-58.4zM1714.4 498.8h19.7v14.2h-19.7zM2683.2 498.8h77.8v14.2h-77.8z"/>
<path fill="#f3f3f3" d="M861.9 1853.8h19.7v14.2h-19.7zM958.8 1853.8h19.7v14.2h-19.7zM861.9 1840.2h19.7v14.2h-19.7zM958.8 1840.2h19.7v14.2h-19.7zM861.9 1826.7h19.7v14.2h-19.7zM958.8 1826.7h19.7v14.2h-19.7zM958.8 1813.1h19.7v14.2h-19.7zM842.5 1799.6h19.7v14.2h-19.7zM668.2 1786.0h19.7v14.2h-19.7zM823.2 1786.0h19.7v14.2h-19.7zM726.3 1772.5h19.7v14.2h-19.7zM765.0 1772.5h39.0v14.2h-39.0zM997.5 1731.8h19.7v14.2h-19.7zM997.5 1718.3h19.7v14.2h-19.7zM997.5 1704.7h19.7v14.2h-19.7zM997.5 1691.2h19.7v14.2h-19.7zM997.5 1677.6h19.7v14.2h-19.7zM997.5 1664.1h39.0v14.2h-39.0zM997.5 1650.5h19.7v14.2h-19.7zM978.2 1637.0h19.7v14.2h-19.7zM958.8 1623.4h19.7v14.2h-19.7zM939.4 1609.9h19.7v14.2h-19.7zM1462.5 1609.9h39.0v14.2h-39.0zM920.0 1596.3h39.0v14.2h-39.0zM1462.5 1596.3h58.4v14.2h-58.4zM920.0 1582.8h39.0v14.2h-39.0zM1578.8 1582.8h19.7v14.2h-19.7zM1617.5 1582.8h58.4v14.2h-58.4zM939.4 1569.2h19.7v14.2h-19.7zM1617.5 1569.2h77.8v14.2h-77.8zM958.8 1555.7h19.7v14.2h-19.7zM1191.3 1555.7h19.7v14.2h-19.7zM1346.3 1555.7h116.5v14.2h-116.5zM978.2 1542.1h19.7v14.2h-19.7zM1171.9 1542.1h39.0v14.2h-39.0zM1443.2 1542.1h19.7v14.2h-19.7zM997.5 1528.6h194.1v14.2h-194.1zM1249.4 1528.6h19.7v14.2h-19.7zM1365.7 1528.6h97.2v14.2h-97.2zM1055.7 1515.0h116.5v14.2h-116.5zM1075.0 1501.5h97.2v14.2h-97.2zM1288.2 1501.5h19.7v14.2h-19.7zM1075.0 1487.9h58.4v14.2h-58.4zM1094.4 1474.4h39.0v14.2h-39.0zM1268.8 1474.4h19.7v14.2h-19.7zM1113.8 1460.8h19.7v14.2h-19.7zM1249.4 1460.8h39.0v14.2h-39.0zM1113.8 1447.3h19.7v14.2h-19.7zM1268.8 1447.3h39.0v14.2h-39.0zM1307.5 1433.7h19.7v14.2h-19.7zM1152.5 1420.2h19.7v14.2h-19.7zM1346.3 1420.2h19.7v14.2h-19.7zM1423.8 1420.2h58.4v14.2h-58.4zM1462.5 1406.6h19.7v14.2h-19.7zM1423.8 1393.1h58.4v14.2h-58.4zM1404.4 1379.5h39.0v14.2h-39.0zM1365.7 1366.0h39.0v14.2h-39.0zM1346.3 1352.4h39.0v14.2h-39.0zM1346.3 1338.9h19.7v14.2h-19.7zM1346.3 1325.3h39.0v14.2h-39.0zM1365.7 1311.8h39.0v14.2h-39.0zM1404.4 1298.2h39.0v14.2h-39.0zM1443.2 1284.7h19.7v14.2h-19.7zM1462.5 1271.1h19.7v14.2h-19.7zM1462.5 1257.6h19.7v14.2h-19.7zM1559.4 1257.6h58.4v14.2h-58.4zM1559.4 1244.0h77.8v14.2h-77.8zM1578.8 1230.5h58.4v14.2h-58.4zM1598.2 1216.9h39.0v14.2h-39.0zM1598.2 1203.4h58.4v14.2h-58.4zM1462.5 1189.8h19.7v14.2h-19.7zM1617.5 1189.8h39.0v14.2h-39.0zM1481.9 1176.3h19.7v14.2h-19.7zM1617.5 1176.3h39.0v14.2h-39.0zM1501.3 1162.7h19.7v14.2h-19.7zM1598.2 1162.7h58.4v14.2h-58.4zM1540.0 1149.2h39.0v14.2h-39.0zM1636.9 1149.2h19.7v14.2h-19.7zM1636.9 1135.6h19.7v14.2h-19.7zM1656.3 1122.1h19.7v14.2h-19.7zM1656.3 1108.5h19.7v14.2h-19.7zM1656.3 1095.0h39.0v14.2h-39.0zM1675.7 1081.4h58.4v14.2h-58.4zM1733.8 1067.9h19.7v14.2h-19.7zM1540.0 1054.3h19.7v14.2h-19.7zM1753.2 1040.8h19.7v14.2h-19.7zM1617.5 1013.7h19.7v14.2h-19.7zM1772.5 1013.7h19.7v14.2h-19.7zM1791.9 1000.1h19.7v14.2h-19.7zM1811.3 973.0h19.7v14.2h-19.7zM1772.5 959.5h39.0v14.2h-39.0zM1540.0 945.9h19.7v14.2h-19.7zM1753.2 945.9h19.7v14.2h-19.7zM1733.8 932.4h19.7v14.2h-19.7zM2101.9 891.7h58.4v14.2h-58.4zM2121.3 878.2h58.4v14.2h-58.4zM1733.8 864.6h19.7v14.2h-19.7zM2121.3 864.6h58.4v14.2h-58.4zM1733.8 851.1h19.7v14.2h-19.7zM2121.3 851.1h58.4v14.2h-58.4zM1733.8 837.5h19.7v14.2h-19.7zM2140.7 837.5h39.0v14.2h-39.0zM1733.8 824.0h39.0v14.2h-39.0zM1733.8 810.4h39.0v14.2h-39.0zM1714.4 796.9h39.0v14.2h-39.0zM1675.7 783.3h58.4v14.2h-58.4zM2276.3 783.3h39.0v14.2h-39.0zM1656.3 769.8h58.4v14.2h-58.4zM2276.3 769.8h77.8v14.2h-77.8zM1636.9 756.2h58.4v14.2h-58.4zM2295.7 756.2h58.4v14.2h-58.4zM1617.5 742.7h58.4v14.2h-58.4zM1617.5 729.1h58.4v14.2h-58.4zM1636.9 715.6h39.0v14.2h-39.0zM1636.9 702.0h39.0v14.2h-39.0zM1636.9 688.5h39.0v14.2h-39.0zM1656.3 674.9h19.7v14.2h-19.7zM1656.3 661.4h19.7v14.2h-19.7zM1656.3 647.8h19.7v14.2h-19.7zM1656.3 634.3h39.0v14.2h-39.0zM1675.7 620.7h19.7v14.2h-19.7zM1675.7 607.2h19.7v14.2h-19.7zM1675.7 593.6h39.0v14.2h-39.0zM1675.7 580.1h39.0v14.2h-39.0zM1695.0 566.5h19.7v14.2h-19.7zM1695.0 553.0h19.7v14.2h-19.7zM2121.3 553.0h426.6v14.2h-426.6zM1695.0 539.4h19.7v14.2h-19.7zM2005.0 539.4h116.5v14.2h-116.5zM2470.0 539.4h155.3v14.2h-155.3zM1695.0 525.9h19.7v14.2h-19.7zM1946.9 525.9h39.0v14.2h-39.0zM2586.3 525.9h77.8v14.2h-77.8zM1695.0 512.3h19.7v14.2h-19.7zM1927.5 512.3h19.7v14.2h-19.7zM2625.0 512.3h58.4v14.2h-58.4zM1695.0 498.8h19.7v14.2h-19.7zM1908.2 498.8h19.7v14.2h-19.7zM2625.0 498.8h58.4v14.2h-58.4z"/>
<path fill="#f6f6f6" d="M881.3 1853.8h77.8v14.2h-77.8zM881.3 1840.2h77.8v14.2h-77.8zM881.3 1826.7h77.8v14.2h-77.8zM861.9 1813.1h97.2v14.2h-97.2zM958.8 1799.6h19.7v14.2h-19.7zM726.3 1786.0h19.7v14.2h-19.7zM958.8 1786.0h19.7v14.2h-19.7zM745.7 1772.5h19.7v14.2h-19.7zM803.8 1772.5h19.7v14.2h-19.7zM978.2 1772.5h19.7v14.2h-19.7zM978.2 1758.9h19.7v14.2h-19.7zM978.2 1745.4h19.7v14.2h-19.7zM978.2 1731.8h19.7v14.2h-19.7zM978.2 1718.3h19.7v14.2h-19.7zM958.8 1704.7h39.0v14.2h-39.0zM958.8 1691.2h39.0v14.2h-39.0zM958.8 1677.6h39.0v14.2h-39.0zM939.4 1664.1h58.4v14.2h-58.4zM920.0 1650.5h77.8v14.2h-77.8zM920.0 1637.0h58.4v14.2h-58.4zM900.7 1623.4h58.4v14.2h-58.4zM900.7 1609.9h39.0v14.2h-39.0zM1443.2 1609.9h19.7v14.2h-19.7zM1636.9 1609.9h19.7v14.2h-19.7zM881.3 1596.3h39.0v14.2h-39.0zM1443.2 1596.3h19.7v14.2h-19.7zM1578.8 1596.3h39.0v14.2h-39.0zM900.7 1582.8h19.7v14.2h-19.7zM1598.2 1582.8h19.7v14.2h-19.7zM900.7 1569.2h39.0v14.2h-39.0zM1598.2 1569.2h19.7v14.2h-19.7zM920.0 1555.7h39.0v14.2h-39.0zM1326.9 1555.7h19.7v14.2h-19.7zM1578.8 1555.7h19.7v14.2h-19.7zM958.8 1542.1h19.7v14.2h-19.7zM1210.7 1542.1h58.4v14.2h-58.4zM1326.9 1542.1h116.5v14.2h-116.5zM978.2 1528.6h19.7v14.2h-19.7zM1191.3 1528.6h19.7v14.2h-19.7zM1326.9 1528.6h39.0v14.2h-39.0zM997.5 1515.0h58.4v14.2h-58.4zM1171.9 1515.0h19.7v14.2h-19.7zM1268.8 1515.0h19.7v14.2h-19.7zM1326.9 1515.0h19.7v14.2h-19.7zM1016.9 1501.5h58.4v14.2h-58.4zM1171.9 1501.5h19.7v14.2h-19.7zM1016.9 1487.9h58.4v14.2h-58.4zM1210.7 1487.9h19.7v14.2h-19.7zM1268.8 1487.9h19.7v14.2h-19.7zM1036.3 1474.4h58.4v14.2h-58.4zM1249.4 1474.4h19.7v14.2h-19.7zM1036.3 1460.8h77.8v14.2h-77.8zM1055.7 1447.3h58.4v14.2h-58.4zM1075.0 1433.7h58.4v14.2h-58.4zM1268.8 1433.7h39.0v14.2h-39.0zM1113.8 1420.2h39.0v14.2h-39.0zM1249.4 1420.2h19.7v14.2h-19.7zM1326.9 1420.2h19.7v14.2h-19.7zM1133.2 1406.6h77.8v14.2h-77.8zM1385.0 1406.6h77.8v14.2h-77.8zM1385.0 1393.1h39.0v14.2h-39.0zM1365.7 1379.5h39.0v14.2h-39.0zM1036.3 1366.0h19.7v14.2h-19.7zM1346.3 1366.0h19.7v14.2h-19.7zM1326.9 1352.4h19.7v14.2h-19.7zM1307.5 1338.9h39.0v14.2h-39.0zM1326.9 1325.3h19.7v14.2h-19.7zM1346.3 1311.8h19.7v14.2h-19.7zM1365.7 1298.2h39.0v14.2h-39.0zM1404.4 1284.7h39.0v14.2h-39.0zM1443.2 1271.1h19.7v14.2h-19.7zM1578.8 1203.4h19.7v14.2h-19.7zM1462.5 1176.3h19.7v14.2h-19.7zM1481.9 1162.7h19.7v14.2h-19.7zM1520.7 1149.2h19.7v14.2h-19.7zM1578.8 1149.2h58.4v14.2h-58.4zM1617.5 1135.6h19.7v14.2h-19.7zM1636.9 1122.1h19.7v14.2h-19.7zM1636.9 1108.5h19.7v14.2h-19.7zM1656.3 1081.4h19.7v14.2h-19.7zM1675.7 1067.9h58.4v14.2h-58.4zM1520.7 1054.3h19.7v14.2h-19.7zM1559.4 1054.3h19.7v14.2h-19.7zM1714.4 1054.3h39.0v14.2h-39.0zM1520.7 1040.8h19.7v14.2h-19.7zM1520.7 1027.2h19.7v14.2h-19.7zM1753.2 1027.2h19.7v14.2h-19.7zM1520.7 1013.7h19.7v14.2h-19.7zM1598.2 1013.7h19.7v14.2h-19.7zM1520.7 1000.1h19.7v14.2h-19.7zM1772.5 1000.1h19.7v14.2h-19.7zM1520.7 986.6h19.7v14.2h-19.7zM1636.9 986.6h19.7v14.2h-19.7zM1791.9 986.6h19.7v14.2h-19.7zM1520.7 973.0h19.7v14.2h-19.7zM1791.9 973.0h19.7v14.2h-19.7zM1753.2 959.5h19.7v14.2h-19.7zM1656.3 945.9h19.7v14.2h-19.7zM1733.8 945.9h19.7v14.2h-19.7zM1540.0 932.4h19.7v14.2h-19.7zM1559.4 918.8h19.7v14.2h-19.7zM1636.9 918.8h19.7v14.2h-19.7zM1714.4 918.8h19.7v14.2h-19.7zM1714.4 905.3h19.7v14.2h-19.7zM1714.4 891.7h19.7v14.2h-19.7zM1714.4 837.5h19.7v14.2h-19.7zM1714.4 824.0h19.7v14.2h-19.7zM1675.7 810.4h58.4v14.2h-58.4zM1656.3 796.9h58.4v14.2h-58.4zM1617.5 783.3h58.4v14.2h-58.4zM1598.2 769.8h58.4v14.2h-58.4zM1578.8 756.2h58.4v14.2h-58.4zM1578.8 742.7h39.0v14.2h-39.0zM1578.8 729.1h39.0v14.2h-39.0zM1578.8 715.6h58.4v14.2h-58.4zM1598.2 702.0h39.0v14.2h-39.0zM1598.2 688.5h39.0v14.2h-39.0zM1598.2 674.9h58.4v14.2h-58.4zM1617.5 661.4h39.0v14.2h-39.0zM1617.5 647.8h39.0v14.2h-39.0zM1617.5 634.3h39.0v14.2h-39.0zM1636.9 620.7h39.0v14.2h-39.0zM1636.9 607.2h39.0v14.2h-39.0zM1656.3 593.6h19.7v14.2h-19.7zM1656.3 580.1h19.7v14.2h-19.7zM1656.3 566.5h39.0v14.2h-39.0zM1675.7 553.0h19.7v14.2h-19.7zM1675.7 539.4h19.7v14.2h-19.7zM2121.3 539.4h349.1v14.2h-349.1zM1675.7 525.9h19.7v14.2h-19.7zM1985.7 525.9h116.5v14.2h-116.5zM2450.7 525.9h135.9v14.2h-135.9zM1675.7 512.3h19.7v14.2h-19.7zM1946.9 512.3h19.7v14.2h-19.7zM2547.5 512.3h77.8v14.2h-77.8zM1675.7 498.8h19.7v14.2h-19.7zM1927.5 498.8h19.7v14.2h-19.7zM2566.9 498.8h58.4v14.2h-58.4z"/>
<path fill="#f9f9f9" d="M861.9 1799.6h97.2v14.2h-97.2zM842.5 1786.0h19.7v14.2h-19.7zM939.4 1786.0h19.7v14.2h-19.7zM668.2 1772.5h19.7v14.2h-19.7zM823.2 1772.5h19.7v14.2h-19.7zM958.8 1772.5h19.7v14.2h-19.7zM687.5 1758.9h58.4v14.2h-58.4zM958.8 1758.9h19.7v14.2h-19.7zM958.8 1745.4h19.7v14.2h-19.7zM958.8 1731.8h19.7v14.2h-19.7zM939.4 1718.3h39.0v14.2h-39.0zM939.4 1704.7h19.7v14.2h-19.7zM939.4 1691.2h19.7v14.2h-19.7zM920.0 1677.6h39.0v14.2h-39.0zM920.0 1664.1h19.7v14.2h-19.7zM900.7 1650.5h19.7v14.2h-19.7zM881.3 1637.0h39.0v14.2h-39.0zM881.3 1623.4h19.7v14.2h-19.7zM861.9 1609.9h39.0v14.2h-39.0zM861.9 1596.3h19.7v14.2h-19.7zM861.9 1582.8h39.0v14.2h-39.0zM881.3 1569.2h19.7v14.2h-19.7zM900.7 1555.7h19.7v14.2h-19.7zM920.0 1542.1h39.0v14.2h-39.0zM939.4 1528.6h39.0v14.2h-39.0zM1210.7 1528.6h39.0v14.2h-39.0zM958.8 1515.0h39.0v14.2h-39.0zM1191.3 1515.0h19.7v14.2h-19.7zM1249.4 1515.0h19.7v14.2h-19.7zM978.2 1501.5h39.0v14.2h-39.0zM1191.3 1501.5h19.7v14.2h-19.7zM1268.8 1501.5h19.7v14.2h-19.7zM978.2 1487.9h39.0v14.2h-39.0zM1230.0 1487.9h19.7v14.2h-19.7zM978.2 1474.4h58.4v14.2h-58.4zM978.2 1460.8h58.4v14.2h-58.4zM997.5 1447.3h58.4v14.2h-58.4zM997.5 1433.7h77.8v14.2h-77.8zM1016.9 1420.2h97.2v14.2h-97.2zM1268.8 1420.2h58.4v14.2h-58.4zM1016.9 1406.6h116.5v14.2h-116.5zM1210.7 1406.6h39.0v14.2h-39.0zM1326.9 1406.6h58.4v14.2h-58.4zM1016.9 1393.1h174.7v14.2h-174.7zM1346.3 1393.1h39.0v14.2h-39.0zM1016.9 1379.5h39.0v14.2h-39.0zM1075.0 1379.5h97.2v14.2h-97.2zM1326.9 1379.5h39.0v14.2h-39.0zM1016.9 1366.0h19.7v14.2h-19.7zM1094.4 1366.0h77.8v14.2h-77.8zM1307.5 1366.0h39.0v14.2h-39.0zM1036.3 1352.4h19.7v14.2h-19.7zM1133.2 1352.4h19.7v14.2h-19.7zM1288.2 1352.4h39.0v14.2h-39.0zM1288.2 1338.9h19.7v14.2h-19.7zM1288.2 1325.3h39.0v14.2h-39.0zM1307.5 1311.8h39.0v14.2h-39.0zM1346.3 1298.2h19.7v14.2h-19.7zM1385.0 1284.7h19.7v14.2h-19.7zM1423.8 1271.1h19.7v14.2h-19.7zM1443.2 1257.6h19.7v14.2h-19.7zM1443.2 1244.0h19.7v14.2h-19.7zM1443.2 1230.5h19.7v14.2h-19.7zM1443.2 1216.9h19.7v14.2h-19.7zM1443.2 1203.4h19.7v14.2h-19.7zM1443.2 1189.8h19.7v14.2h-19.7zM1443.2 1176.3h19.7v14.2h-19.7zM1443.2 1162.7h39.0v14.2h-39.0zM1443.2 1149.2h77.8v14.2h-77.8zM1481.9 1135.6h135.9v14.2h-135.9zM1520.7 1122.1h116.5v14.2h-116.5zM1617.5 1108.5h19.7v14.2h-19.7zM1617.5 1095.0h39.0v14.2h-39.0zM1636.9 1081.4h19.7v14.2h-19.7zM1520.7 1067.9h58.4v14.2h-58.4zM1636.9 1067.9h39.0v14.2h-39.0zM1578.8 1054.3h19.7v14.2h-19.7zM1656.3 1054.3h58.4v14.2h-58.4zM1598.2 1040.8h19.7v14.2h-19.7zM1714.4 1040.8h39.0v14.2h-39.0zM1617.5 1027.2h19.7v14.2h-19.7zM1733.8 1027.2h19.7v14.2h-19.7zM1753.2 1013.7h19.7v14.2h-19.7zM1636.9 1000.1h19.7v14.2h-19.7zM1772.5 986.6h19.7v14.2h-19.7zM1656.3 973.0h19.7v14.2h-19.7zM1753.2 973.0h39.0v14.2h-39.0zM1520.7 959.5h19.7v14.2h-19.7zM1656.3 959.5h19.7v14.2h-19.7zM1520.7 945.9h19.7v14.2h-19.7zM1656.3 932.4h19.7v14.2h-19.7zM1714.4 932.4h19.7v14.2h-19.7zM1540.0 918.8h19.7v14.2h-19.7zM1656.3 918.8h19.7v14.2h-19.7zM1559.4 905.3h97.2v14.2h-97.2zM1714.4 878.2h19.7v14.2h-19.7zM1714.4 864.6h19.7v14.2h-19.7zM1714.4 851.1h19.7v14.2h-19.7zM1695.0 837.5h19.7v14.2h-19.7zM1656.3 824.0h58.4v14.2h-58.4zM1617.5 810.4h58.4v14.2h-58.4zM1578.8 796.9h77.8v14.2h-77.8zM1559.4 783.3h58.4v14.2h-58.4zM1540.0 769.8h58.4v14.2h-58.4zM1520.7 756.2h58.4v14.2h-58.4zM1520.7 742.7h58.4v14.2h-58.4zM1520.7 729.1h58.4v14.2h-58.4zM1540.0 715.6h39.0v14.2h-39.0zM1540.0 702.0h58.4v14.2h-58.4zM1540.0 688.5h58.4v14.2h-58.4zM1559.4 674.9h39.0v14.2h-39.0zM1559.4 661.4h58.4v14.2h-58.4zM1578.8 647.8h39.0v14.2h-39.0zM1578.8 634.3h39.0v14.2h-39.0zM1578.8 620.7h58.4v14.2h-58.4zM1598.2 607.2h39.0v14.2h-39.0zM1598.2 593.6h58.4v14.2h-58.4zM1617.5 580.1h39.0v14.2h-39.0zM1617.5 566.5h39.0v14.2h-39.0zM1636.9 553.0h39.0v14.2h-39.0zM1656.3 539.4h19.7v14.2h-19.7zM1656.3 525.9h19.7v14.2h-19.7zM2101.9 525.9h349.1v14.2h-349.1zM1656.3 512.3h19.7v14.2h-19.7zM1966.3 512.3h116.5v14.2h-116.5zM2411.9 512.3h135.9v14.2h-135.9zM1656.3 498.8h19.7v14.2h-19.7zM1946.9 498.8h39.0v14.2h-39.0zM2470.0 498.8h97.2v14.2h-97.2z"/>
<path fill="#fcfcfc" d="M648.8 1786.0h19.7v14.2h-19.7zM861.9 1786.0h77.8v14.2h-77.8zM648.8 1772.5h19.7v14.2h-19.7zM842.5 1772.5h19.7v14.2h-19.7zM920.0 1772.5h39.0v14.2h-39.0zM668.2 1758.9h19.7v14.2h-19.7zM745.7 1758.9h97.2v14.2h-97.2zM939.4 1758.9h19.7v14.2h-19.7zM706.9 1745.4h19.7v14.2h-19.7zM939.4 1745.4h19.7v14.2h-19.7zM920.0 1731.8h39.0v14.2h-39.0zM920.0 1718.3h19.7v14.2h-19.7zM920.0 1704.7h19.7v14.2h-19.7zM900.7 1691.2h39.0v14.2h-39.0zM900.7 1677.6h19.7v14.2h-19.7zM881.3 1664.1h39.0v14.2h-39.0zM881.3 1650.5h19.7v14.2h-19.7zM861.9 1637.0h19.7v14.2h-19.7zM842.5 1623.4h39.0v14.2h-39.0zM842.5 1609.9h19.7v14.2h-19.7zM842.5 1596.3h19.7v14.2h-19.7zM842.5 1582.8h19.7v14.2h-19.7zM861.9 1569.2h19.7v14.2h-19.7zM861.9 1555.7h39.0v14.2h-39.0zM881.3 1542.1h39.0v14.2h-39.0zM900.7 1528.6h39.0v14.2h-39.0zM900.7 1515.0h58.4v14.2h-58.4zM1210.7 1515.0h39.0v14.2h-39.0zM900.7 1501.5h77.8v14.2h-77.8zM1210.7 1501.5h58.4v14.2h-58.4zM900.7 1487.9h77.8v14.2h-77.8zM1249.4 1487.9h19.7v14.2h-19.7zM900.7 1474.4h77.8v14.2h-77.8zM900.7 1460.8h77.8v14.2h-77.8zM900.7 1447.3h97.2v14.2h-97.2zM900.7 1433.7h97.2v14.2h-97.2zM900.7 1420.2h116.5v14.2h-116.5zM900.7 1406.6h116.5v14.2h-116.5zM1249.4 1406.6h77.8v14.2h-77.8zM920.0 1393.1h97.2v14.2h-97.2zM1191.3 1393.1h39.0v14.2h-39.0zM1288.2 1393.1h58.4v14.2h-58.4zM939.4 1379.5h77.8v14.2h-77.8zM1171.9 1379.5h39.0v14.2h-39.0zM1288.2 1379.5h39.0v14.2h-39.0zM958.8 1366.0h58.4v14.2h-58.4zM1075.0 1366.0h19.7v14.2h-19.7zM1171.9 1366.0h39.0v14.2h-39.0zM1288.2 1366.0h19.7v14.2h-19.7zM978.2 1352.4h58.4v14.2h-58.4zM1075.0 1352.4h58.4v14.2h-58.4zM1152.5 1352.4h58.4v14.2h-58.4zM1268.8 1352.4h19.7v14.2h-19.7zM997.5 1338.9h194.1v14.2h-194.1zM1268.8 1338.9h19.7v14.2h-19.7zM1016.9 1325.3h174.7v14.2h-174.7zM1268.8 1325.3h19.7v14.2h-19.7zM1036.3 1311.8h155.3v14.2h-155.3zM1288.2 1311.8h19.7v14.2h-19.7zM1094.4 1298.2h77.8v14.2h-77.8zM1307.5 1298.2h39.0v14.2h-39.0zM1326.9 1284.7h58.4v14.2h-58.4zM1365.7 1271.1h58.4v14.2h-58.4zM1404.4 1257.6h39.0v14.2h-39.0zM1423.8 1244.0h19.7v14.2h-19.7zM1423.8 1230.5h19.7v14.2h-19.7zM1423.8 1216.9h19.7v14.2h-19.7zM1423.8 1203.4h19.7v14.2h-19.7zM1404.4 1189.8h39.0v14.2h-39.0zM1365.7 1176.3h77.8v14.2h-77.8zM1346.3 1162.7h97.2v14.2h-97.2zM1346.3 1149.2h97.2v14.2h-97.2zM1365.7 1135.6h116.5v14.2h-116.5zM1365.7 1122.1h155.3v14.2h-155.3zM1404.4 1108.5h213.4v14.2h-213.4zM1443.2 1095.0h174.7v14.2h-174.7zM1481.9 1081.4h155.3v14.2h-155.3zM1481.9 1067.9h39.0v14.2h-39.0zM1578.8 1067.9h58.4v14.2h-58.4zM1481.9 1054.3h39.0v14.2h-39.0zM1598.2 1054.3h58.4v14.2h-58.4zM1481.9 1040.8h39.0v14.2h-39.0zM1578.8 1040.8h19.7v14.2h-19.7zM1617.5 1040.8h97.2v14.2h-97.2zM1501.3 1027.2h19.7v14.2h-19.7zM1636.9 1027.2h19.7v14.2h-19.7zM1714.4 1027.2h19.7v14.2h-19.7zM1501.3 1013.7h19.7v14.2h-19.7zM1636.9 1013.7h19.7v14.2h-19.7zM1733.8 1013.7h19.7v14.2h-19.7zM1501.3 1000.1h19.7v14.2h-19.7zM1617.5 1000.1h19.7v14.2h-19.7zM1656.3 1000.1h19.7v14.2h-19.7zM1733.8 1000.1h39.0v14.2h-39.0zM1501.3 986.6h19.7v14.2h-19.7zM1656.3 986.6h19.7v14.2h-19.7zM1753.2 986.6h19.7v14.2h-19.7zM1501.3 973.0h19.7v14.2h-19.7zM1636.9 973.0h19.7v14.2h-19.7zM1733.8 973.0h19.7v14.2h-19.7zM1501.3 959.5h19.7v14.2h-19.7zM1675.7 959.5h19.7v14.2h-19.7zM1714.4 959.5h39.0v14.2h-39.0zM1501.3 945.9h19.7v14.2h-19.7zM1675.7 945.9h19.7v14.2h-19.7zM1714.4 945.9h19.7v14.2h-19.7zM1520.7 932.4h19.7v14.2h-19.7zM1675.7 932.4h39.0v14.2h-39.0zM1520.7 918.8h19.7v14.2h-19.7zM1675.7 918.8h39.0v14.2h-39.0zM1540.0 905.3h19.7v14.2h-19.7zM1656.3 905.3h58.4v14.2h-58.4zM1540.0 891.7h116.5v14.2h-116.5zM1695.0 891.7h19.7v14.2h-19.7zM1598.2 878.2h39.0v14.2h-39.0zM1695.0 878.2h19.7v14.2h-19.7zM1598.2 864.6h39.0v14.2h-39.0zM1695.0 864.6h19.7v14.2h-19.7zM1578.8 851.1h135.9v14.2h-135.9zM1540.0 837.5h155.3v14.2h-155.3zM1520.7 824.0h135.9v14.2h-135.9zM1501.3 810.4h116.5v14.2h-116.5zM1481.9 796.9h97.2v14.2h-97.2zM1462.5 783.3h97.2v14.2h-97.2zM1462.5 769.8h77.8v14.2h-77.8zM1462.5 756.2h58.4v14.2h-58.4zM1462.5 742.7h58.4v14.2h-58.4zM1462.5 729.1h58.4v14.2h-58.4zM1462.5 715.6h77.8v14.2h-77.8zM1462.5 702.0h77.8v14.2h-77.8zM1462.5 688.5h77.8v14.2h-77.8zM1481.9 674.9h77.8v14.2h-77.8zM1481.9 661.4h77.8v14.2h-77.8zM1501.3 647.8h77.8v14.2h-77.8zM1501.3 634.3h77.8v14.2h-77.8zM1520.7 620.7h58.4v14.2h-58.4zM1540.0 607.2h58.4v14.2h-58.4zM1540.0 593.6h58.4v14.2h-58.4zM1559.4 580.1h58.4v14.2h-58.4zM1559.4 566.5h58.4v14.2h-58.4zM1578.8 553.0h58.4v14.2h-58.4zM1578.8 539.4h77.8v14.2h-77.8zM1617.5 525.9h39.0v14.2h-39.0zM1636.9 512.3h19.7v14.2h-19.7zM2082.5 512.3h329.7v14.2h-329.7zM1636.9 498.8h19.7v14.2h-19.7zM1985.7 498.8h135.9v14.2h-135.9zM2353.8 498.8h116.5v14.2h-116.5z"/></g>
<g fill="none" stroke="#00f" stroke-width="3.3" stroke-opacity="0.13" stroke-linejoin="round"><path d="M249.5 1864.5L1092.0 1864.5L1096.4 1798.2L1694.3 1798.2L1698.7 1739.0L1792.9 1739.0L1797.3 1679.5L1806.5 1679.5L1810.9 1601.4L1816.2 1601.4L1820.6 1410.6L1830.4 1410.6L1834.8 1337.3L2077.2 1337.3L2081.6 1334.2L3049.5 1334.2"/><path d="M249.5 1864.5L904.2 1864.5L908.6 1794.5L1732.3 1794.5L1736.7 1734.5L1810.5 1734.5L1814.9 1675.0L1812.4 1675.0L1816.8 1483.6L1827.1 1483.6L1831.5 1405.2L1847.6 1405.2L1852.0 1334.0L2079.3 1334.0L2083.7 1330.8L3049.5 1330.8"/><path d="M249.5 1864.5L968.3 1864.5L972.7 1790.7L1733.5 1790.7L1737.9 1731.1L1803.0 1731.1L1807.4 1659.1L1805.2 1659.1L1809.6 1469.3L1809.5 1469.3L1813.9 1409.4L1811.7 1409.4L1816.1 1330.3L2018.3 1330.3L2022.7 1327.2L3049.5 1327.2"/><path d="M249.5 1864.5L952.4 1864.5L956.8 1796.3L1735.4 1796.3L1739.8 1736.6L1807.1 1736.6L1811.5 1658.5L1816.8 1658.5L1821.2 1598.6L1819.5 1598.6L1823.9 1407.3L1839.6 1407.3L1844.0 1336.3L2064.5 1336.3L2068.9 1333.1L3049.5 1333.1"/><path d="M249.5 1864.5L999.3 1864.5L1003.7 1798.2L1713.9 1798.2L1718.3 1738.6L1781.9 1738.6L1786.3 1678.9L1789.0 1678.9L1793.4 1600.7L1814.1 1600.7L1818.5 1529.7L1820.7 1529.7L1825.1 1337.9L2086.1 1337.9L2090.5 1334.7L3049.5 1334.7"/><path d="M249.5 1864.5L1004.4 1864.5L1008.8 1795.1L1758.0 1795.1L1762.4 1735.8L1802.1 1735.8L1806.5 1676.6L1816.1 1676.6L1820.5 1597.2L1829.7 1597.2L1834.1 1405.7L1837.3 1405.7L1841.7 1335.2L2115.4 1335.2L2119.8 1332.1L3049.5 1332.1"/><path d="M249.5 1864.5L1005.5 1864.5L1009.9 1795.2L1720.7 1795.2L1725.1 1736.1L1802.5 1736.1L1806.9 1546.3L1809.1 1546.3L1813.5 1466.8L1816.3 1466.8L1820.7 1407.7L1844.6 1407.7L1849.0 1335.9L2022.7 1335.9L2027.1 1332.8L3049.5 1332.8"/><path d="M249.5 1864.5L1026.3 1864.5L1030.7 1792.8L1717.0 1792.8L1721.4 1733.5L1794.9 1733.5L1799.3 1673.6L1816.2 1673.6L1820.6 1480.9L1823.0 1480.9L1827.4 1401.2L1840.9 1401.2L1845.3 1329.4L2047.4 1329.4L2051.8 1326.2L3049.5 1326.2"/><path d="M249.5 1864.5L826.4 1864.5L830.8 1794.3L1751.7 1794.3L1756.1 1735.7L1776.0 1735.7L1780.4 1675.7L1814.5 1675.7L1818.9 1484.3L1828.2 1484.3L1832.6 1405.8L1828.8 1405.8L1833.2 1334.8L2032.5 1334.8L2036.9 1331.5L3049.5 1331.5"/><path d="M249.5 1864.5L1026.8 1864.5L1031.2 1793.0L1728.2 1793.0L1732.6 1734.1L1811.2 1734.1L1815.6 1543.5L1813.6 1543.5L1818.0 1465.4L1816.2 1465.4L1820.6 1406.1L1856.5 1406.1L1860.9 1334.3L2120.9 1334.3L2125.3 1331.0L3049.5 1331.0"/><path d="M249.5 1864.5L914.0 1864.5L918.4 1792.1L1707.0 1792.1L1711.4 1732.6L1792.0 1732.6L1796.4 1673.4L1810.4 1673.4L1814.8 1595.9L1817.2 1595.9L1821.6 1404.8L1850.4 1404.8L1854.8 1333.4L2143.8 1333.4L2148.2 1330.2L3049.5 1330.2"/><path d="M249.5 1864.5L951.4 1864.5L955.8 1793.1L1747.7 1793.1L1752.1 1734.1L1789.5 1734.1L1793.9 1674.6L1789.7 1674.6L1794.1 1595.3L1820.1 1595.3L1824.5 1403.2L1840.3 1403.2L1844.7 1331.3L2023.5 1331.3L2027.9 1328.1L3049.5 1328.1"/><path d="M249.5 1864.5L949.5 1864.5L953.9 1793.1L1761.8 1793.1L1766.2 1733.9L1809.0 1733.9L1813.4 1541.5L1811.7 1541.5L1816.1 1481.8L1818.6 1481.8L1823.0 1401.7L1840.5 1401.7L1844.9 1329.7L2090.9 1329.7L2095.3 1326.4L3049.5 1326.4"/><path d="M249.5 1864.5L985.5 1864.5L989.9 1794.5L1731.5 1794.5L1735.9 1734.4L1791.7 1734.4L1796.1 1674.7L1802.5 1674.7L1806.9 1596.9L1808.1 1596.9L1812.5 1406.6L1833.2 1406.6L1837.6 1334.5L2069.0 1334.5L2073.4 1331.3L3049.5 1331.3"/><path d="M249.5 1864.5L995.1 1864.5L999.5 1790.6L1735.5 1790.6L1739.9 1731.5L1797.7 1731.5L1802.1 1540.1L1809.0 1540.1L1813.4 1460.7L1819.9 1460.7L1824.3 1401.0L1820.1 1401.0L1824.5 1329.1L2068.9 1329.1L2073.3 1325.8L3049.5 1325.8"/><path d="M249.5 1864.5L982.2 1864.5L986.6 1795.7L1729.3 1795.7L1733.7 1736.5L1794.2 1736.5L1798.6 1545.6L1795.5 1545.6L1799.9 1486.0L1798.0 1486.0L1802.4 1406.6L1830.9 1406.6L1835.3 1335.2L2075.2 1335.2L2079.6 1332.1L3049.5 1332.1"/><path d="M249.5 1864.5L1052.5 1864.5L1056.9 1798.2L1723.2 1798.2L1727.6 1739.8L1787.4 1739.8L1791.8 1680.0L1814.8 1680.0L1819.2 1600.8L1815.1 1600.8L1819.5 1410.7L1838.8 1410.7L1843.2 1339.3L2068.3 1339.3L2072.7 1336.1L3049.5 1336.1"/><path d="M249.5 1864.5L897.0 1864.5L901.4 1795.2L1713.0 1795.2L1717.4 1736.3L1812.4 1736.3L1816.8 1545.3L1813.9 1545.3L1818.3 1466.7L1821.5 1466.7L1825.9 1407.0L1841.7 1407.0L1846.1 1334.3L2059.5 1334.3L2063.9 1331.1L3049.5 1331.1"/><path d="M249.5 1864.5L1104.2 1864.5L1108.6 1794.9L1764.7 1794.9L1769.1 1735.7L1805.8 1735.7L1810.2 1676.5L1807.3 1676.5L1811.7 1485.1L1818.3 1485.1L1822.7 1406.0L1842.8 1406.0L1847.2 1335.0L2087.8 1335.0L2092.2 1331.8L3049.5 1331.8"/><path d="M249.5 1864.5L1049.4 1864.5L1053.8 1791.5L1745.3 1791.5L1749.7 1731.6L1805.4 1731.6L1809.8 1672.0L1807.1 1672.0L1811.5 1593.5L1820.8 1593.5L1825.2 1401.2L1844.7 1401.2L1849.1 1329.9L2064.5 1329.9L2068.9 1326.7L3049.5 1326.7"/><path d="M249.5 1864.5L976.8 1864.5L981.2 1790.1L1759.5 1790.1L1763.9 1730.6L1799.8 1730.6L1804.2 1540.0L1813.8 1540.0L1818.2 1480.7L1826.1 1480.7L1830.5 1402.7L1834.8 1402.7L1839.2 1331.1L1969.6 1331.1L1974.0 1327.9L3049.5 1327.9"/><path d="M249.5 1864.5L1081.9 1864.5L1086.3 1793.6L1735.4 1793.6L1739.8 1734.9L1776.3 1734.9L1780.7 1675.5L1802.7 1675.5L1807.1 1596.3L1808.0 1596.3L1812.4 1406.5L1823.7 1406.5L1828.1 1334.8L2096.0 1334.8L2100.4 1331.6L3049.5 1331.6"/><path d="M249.5 1864.5L950.1 1864.5L954.5 1790.9L1731.3 1790.9L1735.7 1731.2L1786.6 1731.2L1791.0 1672.1L1804.7 1672.1L1809.1 1593.7L1810.0 1593.7L1814.4 1402.5L1845.0 1402.5L1849.4 1330.7L2113.3 1330.7L2117.7 1327.5L3049.5 1327.5"/><path d="M249.5 1864.5L885.4 1864.5L889.8 1797.7L1729.8 1797.7L1734.2 1737.0L1788.2 1737.0L1792.6 1677.2L1802.7 1677.2L1807.1 1597.8L1821.3 1597.8L1825.7 1406.6L1851.1 1406.6L1855.5 1335.5L2038.9 1335.5L2043.3 1332.4L3049.5 1332.4"/><path d="M249.5 1864.5L926.3 1864.5L930.7 1798.2L1709.8 1798.2L1714.2 1738.2L1808.4 1738.2L1812.8 1659.5L1817.9 1659.5L1822.3 1600.1L1827.5 1600.1L1831.9 1528.5L1827.6 1528.5L1832.0 1337.5L2089.4 1337.5L2093.8 1334.4L3049.5 1334.4"/><path d="M249.5 1864.5L1030.5 1864.5L1034.9 1795.6L1714.8 1795.6L1719.2 1736.0L1803.0 1736.0L1807.4 1657.4L1815.3 1657.4L1819.7 1465.7L1829.7 1465.7L1834.1 1406.2L1837.0 1406.2L1841.4 1334.6L2083.5 1334.6L2087.9 1331.3L3049.5 1331.3"/><path d="M249.5 1864.5L785.8 1864.5L790.2 1795.8L1742.6 1795.8L1747.0 1736.5L1790.6 1736.5L1795.0 1677.3L1803.1 1677.3L1807.5 1597.5L1816.5 1597.5L1820.9 1406.0L1825.9 1406.0L1830.3 1334.1L2113.6 1334.1L2118.0 1331.0L3049.5 1331.0"/><path d="M249.5 1864.5L1008.6 1864.5L1013.0 1793.7L1751.9 1793.7L1756.3 1734.2L1809.1 1734.2L1813.5 1674.7L1811.9 1674.7L1816.3 1595.5L1813.5 1595.5L1817.9 1405.9L1855.0 1405.9L1859.4 1333.9L2037.1 1333.9L2041.5 1330.8L3049.5 1330.8"/><path d="M249.5 1864.5L995.9 1864.5L1000.3 1791.9L1734.8 1791.9L1739.2 1732.9L1788.4 1732.9L1792.8 1672.8L1802.4 1672.8L1806.8 1593.2L1823.9 1593.2L1828.3 1521.8L1827.5 1521.8L1831.9 1330.5L2039.5 1330.5L2043.9 1327.3L3049.5 1327.3"/><path d="M249.5 1864.5L1060.7 1864.5L1065.1 1790.8L1717.3 1790.8L1721.7 1730.8L1795.1 1730.8L1799.5 1539.3L1804.7 1539.3L1809.1 1479.5L1818.2 1479.5L1822.6 1401.1L1844.6 1401.1L1849.0 1328.5L2089.3 1328.5L2093.7 1325.2L3049.5 1325.2"/><path d="M249.5 1864.5L1010.7 1864.5L1015.1 1791.4L1755.6 1791.4L1760.0 1732.1L1795.8 1732.1L1800.2 1672.1L1796.7 1672.1L1801.1 1593.4L1823.7 1593.4L1828.1 1403.2L1843.2 1403.2L1847.6 1331.6L2082.4 1331.6L2086.8 1328.4L3049.5 1328.4"/><path d="M249.5 1864.5L900.1 1864.5L904.5 1795.0L1698.8 1795.0L1703.2 1735.5L1787.2 1735.5L1791.6 1675.6L1801.7 1675.6L1806.1 1597.3L1820.1 1597.3L1824.5 1406.6L1820.5 1406.6L1824.9 1335.9L2066.4 1335.9L2070.8 1332.6L3049.5 1332.6"/><path d="M249.5 1864.5L1011.4 1864.5L1015.8 1793.6L1722.1 1793.6L1726.5 1733.7L1790.5 1733.7L1794.9 1674.3L1813.8 1674.3L1818.2 1483.5L1817.0 1483.5L1821.4 1405.1L1851.7 1405.1L1856.1 1332.9L2062.1 1332.9L2066.5 1329.6L3049.5 1329.6"/><path d="M249.5 1864.5L1030.1 1864.5L1034.5 1791.5L1780.0 1791.5L1784.4 1732.2L1796.0 1732.2L1800.4 1672.0L1799.1 1672.0L1803.5 1592.8L1816.0 1592.8L1820.4 1401.9L1842.6 1401.9L1847.0 1331.7L2027.9 1331.7L2032.3 1328.5L3049.5 1328.5"/><path d="M249.5 1864.5L863.8 1864.5L868.2 1794.0L1706.0 1794.0L1710.4 1735.4L1802.8 1735.4L1807.2 1544.7L1808.1 1544.7L1812.5 1466.1L1809.1 1466.1L1813.5 1406.2L1848.1 1406.2L1852.5 1334.7L2068.1 1334.7L2072.5 1331.6L3049.5 1331.6"/><path d="M249.5 1864.5L1029.9 1864.5L1034.3 1792.4L1756.4 1792.4L1760.8 1732.8L1806.6 1732.8L1811.0 1672.8L1810.0 1672.8L1814.4 1593.8L1814.8 1593.8L1819.2 1401.7L1825.4 1401.7L1829.8 1329.8L2121.2 1329.8L2125.6 1326.4L3049.5 1326.4"/><path d="M249.5 1864.5L1004.5 1864.5L1008.9 1788.8L1734.8 1788.8L1739.2 1729.6L1801.5 1729.6L1805.9 1670.2L1807.3 1670.2L1811.7 1591.1L1810.3 1591.1L1814.7 1400.1L1845.0 1400.1L1849.4 1327.5L2069.4 1327.5L2073.8 1324.4L3049.5 1324.4"/><path d="M249.5 1864.5L894.2 1864.5L898.6 1795.3L1715.7 1795.3L1720.1 1735.8L1796.7 1735.8L1801.1 1676.4L1800.3 1676.4L1804.7 1598.0L1815.8 1598.0L1820.2 1406.7L1855.9 1406.7L1860.3 1335.1L2061.6 1335.1L2066.0 1331.8L3049.5 1331.8"/><path d="M249.5 1864.5L966.4 1864.5L970.8 1792.6L1726.9 1792.6L1731.3 1733.2L1800.3 1733.2L1804.7 1541.1L1804.8 1541.1L1809.2 1461.6L1812.9 1461.6L1817.3 1401.4L1845.0 1401.4L1849.4 1329.5L2062.0 1329.5L2066.4 1326.4L3049.5 1326.4"/><path d="M249.5 1864.5L991.7 1864.5L996.1 1794.5L1722.9 1794.5L1727.3 1736.0L1789.1 1736.0L1793.5 1676.6L1800.2 1676.6L1804.6 1598.0L1813.9 1598.0L1818.3 1406.3L1854.6 1406.3L1859.0 1334.4L2056.4 1334.4L2060.8 1331.2L3049.5 1331.2"/><path d="M249.5 1864.5L1075.8 1864.5L1080.2 1790.8L1723.0 1790.8L1727.4 1731.6L1787.5 1731.6L1791.9 1671.6L1813.4 1671.6L1817.8 1592.7L1816.1 1592.7L1820.5 1401.2L1848.1 1401.2L1852.5 1330.2L1949.8 1330.2L1954.2 1327.4L3049.5 1327.4"/><path d="M249.5 1864.5L940.0 1864.5L944.4 1792.0L1691.4 1792.0L1695.8 1733.0L1801.7 1733.0L1806.1 1653.4L1824.1 1653.4L1828.5 1463.0L1833.0 1463.0L1837.4 1403.7L1846.0 1403.7L1850.4 1331.6L2041.7 1331.6L2046.1 1328.3L3049.5 1328.3"/><path d="M249.5 1864.5L901.2 1864.5L905.6 1790.5L1747.1 1790.5L1751.5 1731.7L1806.6 1731.7L1811.0 1653.6L1807.0 1653.6L1811.4 1593.7L1816.9 1593.7L1821.3 1401.9L1845.3 1401.9L1849.7 1330.4L2052.0 1330.4L2056.4 1327.1L3049.5 1327.1"/><path d="M249.5 1864.5L930.0 1864.5L934.4 1794.3L1727.6 1794.3L1732.0 1735.6L1797.7 1735.6L1802.1 1543.9L1813.3 1543.9L1817.7 1484.2L1824.4 1484.2L1828.8 1405.3L1844.8 1405.3L1849.2 1333.4L2088.1 1333.4L2092.5 1330.3L3049.5 1330.3"/><path d="M249.5 1864.5L1012.7 1864.5L1017.1 1788.7L1729.0 1788.7L1733.4 1730.5L1797.0 1730.5L1801.4 1671.0L1815.6 1671.0L1820.0 1480.1L1817.2 1480.1L1821.6 1401.7L1849.5 1401.7L1853.9 1330.6L2103.7 1330.6L2108.1 1327.5L3049.5 1327.5"/><path d="M249.5 1864.5L924.7 1864.5L929.1 1792.0L1721.9 1792.0L1726.3 1732.0L1797.6 1732.0L1802.0 1654.0L1809.4 1654.0L1813.8 1462.7L1816.3 1462.7L1820.7 1403.0L1831.1 1403.0L1835.5 1330.9L2109.3 1330.9L2113.7 1327.8L3049.5 1327.8"/><path d="M249.5 1864.5L1042.1 1864.5L1046.5 1792.9L1711.0 1792.9L1715.4 1733.7L1803.4 1733.7L1807.8 1674.6L1807.0 1674.6L1811.4 1594.8L1813.4 1594.8L1817.8 1404.0L1830.9 1404.0L1835.3 1332.9L2064.8 1332.9L2069.2 1329.7L3049.5 1329.7"/><path d="M249.5 1864.5L1039.3 1864.5L1043.7 1790.1L1693.0 1790.1L1697.4 1731.1L1783.6 1731.1L1788.0 1671.6L1813.7 1671.6L1818.1 1593.6L1823.1 1593.6L1827.5 1403.2L1849.6 1403.2L1854.0 1330.8L2062.2 1330.8L2066.6 1327.7L3049.5 1327.7"/><path d="M249.5 1864.5L1029.7 1864.5L1034.1 1793.7L1735.1 1793.7L1739.5 1734.6L1795.8 1734.6L1800.2 1656.1L1808.9 1656.1L1813.3 1465.1L1810.0 1465.1L1814.4 1404.7L1854.9 1404.7L1859.3 1332.3L2091.5 1332.3L2095.9 1328.8L3049.5 1328.8"/><path d="M249.5 1864.5L1033.0 1864.5L1037.4 1793.7L1742.9 1793.7L1747.3 1734.3L1802.3 1734.3L1806.7 1674.4L1813.6 1674.4L1818.0 1483.5L1815.9 1483.5L1820.3 1406.4L1824.7 1406.4L1829.1 1334.0L2034.5 1334.0L2038.9 1330.9L3049.5 1330.9"/><path d="M249.5 1864.5L982.5 1864.5L986.9 1793.8L1725.5 1793.8L1729.9 1734.4L1798.6 1734.4L1803.0 1543.1L1803.7 1543.1L1808.1 1484.2L1812.3 1484.2L1816.7 1405.6L1843.9 1405.6L1848.3 1334.8L2075.7 1334.8L2080.1 1331.4L3049.5 1331.4"/><path d="M249.5 1864.5L851.2 1864.5L855.6 1788.7L1736.1 1788.7L1740.5 1730.0L1799.3 1730.0L1803.7 1650.7L1816.4 1650.7L1820.8 1459.7L1826.3 1459.7L1830.7 1400.1L1855.1 1400.1L1859.5 1329.4L1915.3 1329.4L1919.7 1326.2L3049.5 1326.2"/><path d="M249.5 1864.5L875.7 1864.5L880.1 1795.3L1726.4 1795.3L1730.8 1736.3L1803.7 1736.3L1808.1 1676.4L1812.9 1676.4L1817.3 1597.8L1821.6 1597.8L1826.0 1407.0L1835.3 1407.0L1839.7 1335.7L2062.1 1335.7L2066.5 1332.6L3049.5 1332.6"/><path d="M249.5 1864.5L920.8 1864.5L925.2 1791.1L1730.8 1791.1L1735.2 1732.6L1810.3 1732.6L1814.7 1652.8L1810.7 1652.8L1815.1 1462.2L1817.9 1462.2L1822.3 1403.0L1835.4 1403.0L1839.8 1332.4L2010.5 1332.4L2014.9 1329.2L3049.5 1329.2"/><path d="M249.5 1864.5L1002.1 1864.5L1006.5 1791.6L1733.1 1791.6L1737.5 1731.6L1789.4 1731.6L1793.8 1672.6L1803.4 1672.6L1807.8 1594.9L1829.4 1594.9L1833.8 1404.2L1846.9 1404.2L1851.3 1333.0L2061.0 1333.0L2065.4 1329.9L3049.5 1329.9"/><path d="M249.5 1864.5L911.5 1864.5L915.9 1794.1L1727.7 1794.1L1732.1 1735.7L1787.6 1735.7L1792.0 1676.3L1797.1 1676.3L1801.5 1598.9L1817.1 1598.9L1821.5 1407.5L1843.7 1407.5L1848.1 1335.6L2128.7 1335.6L2133.1 1332.4L3049.5 1332.4"/><path d="M249.5 1864.5L1053.3 1864.5L1057.7 1790.4L1735.7 1790.4L1740.1 1731.4L1781.3 1731.4L1785.7 1653.4L1797.5 1653.4L1801.9 1593.6L1813.6 1593.6L1818.0 1403.9L1844.3 1403.9L1848.7 1332.3L1984.8 1332.3L1989.2 1329.1L3049.5 1329.1"/><path d="M249.5 1864.5L858.4 1864.5L862.8 1792.7L1753.5 1792.7L1757.9 1733.8L1793.7 1733.8L1798.1 1674.2L1802.4 1674.2L1806.8 1594.9L1816.5 1594.9L1820.9 1403.0L1851.1 1403.0L1855.5 1331.1L2086.9 1331.1L2091.3 1327.9L3049.5 1327.9"/><path d="M249.5 1864.5L914.2 1864.5L918.6 1795.5L1710.7 1795.5L1715.1 1735.7L1788.4 1735.7L1792.8 1676.1L1829.3 1676.1L1833.7 1597.4L1829.4 1597.4L1833.8 1406.1L1859.6 1406.1L1864.0 1334.5L2009.4 1334.5L2013.8 1331.2L3049.5 1331.2"/><path d="M249.5 1864.5L863.4 1864.5L867.8 1789.4L1728.7 1789.4L1733.1 1730.6L1791.1 1730.6L1795.5 1671.6L1798.6 1671.6L1803.0 1481.7L1803.8 1481.7L1808.2 1404.4L1856.3 1404.4L1860.7 1332.6L2057.1 1332.6L2061.5 1329.5L3049.5 1329.5"/><path d="M249.5 1864.5L978.9 1864.5L983.3 1793.5L1759.6 1793.5L1764.0 1734.3L1804.1 1734.3L1808.5 1674.2L1815.9 1674.2L1820.3 1596.4L1817.9 1596.4L1822.3 1406.1L1850.5 1406.1L1854.9 1335.0L2024.1 1335.0L2028.5 1331.9L3049.5 1331.9"/><path d="M249.5 1864.5L911.3 1864.5L915.7 1793.4L1736.1 1793.4L1740.5 1734.6L1792.2 1734.6L1796.6 1674.9L1796.8 1674.9L1801.2 1597.9L1827.1 1597.9L1831.5 1406.5L1843.4 1406.5L1847.8 1335.2L2081.7 1335.2L2086.1 1332.2L3049.5 1332.2"/><path d="M249.5 1864.5L992.7 1864.5L997.1 1790.2L1745.7 1790.2L1750.1 1730.9L1792.6 1730.9L1797.0 1671.8L1815.8 1671.8L1820.2 1481.3L1816.6 1481.3L1821.0 1403.1L1848.9 1403.1L1853.3 1332.3L2069.3 1332.3L2073.7 1329.1L3049.5 1329.1"/><path d="M249.5 1864.5L939.6 1864.5L944.0 1795.0L1712.4 1795.0L1716.8 1735.1L1790.1 1735.1L1794.5 1675.8L1807.7 1675.8L1812.1 1596.6L1817.2 1596.6L1821.6 1525.6L1820.0 1525.6L1824.4 1333.9L2104.7 1333.9L2109.1 1330.7L3049.5 1330.7"/><path d="M249.5 1864.5L1026.4 1864.5L1030.8 1790.7L1711.7 1790.7L1716.1 1731.0L1800.2 1731.0L1804.6 1670.9L1813.5 1670.9L1817.9 1593.0L1819.0 1593.0L1823.4 1402.6L1825.3 1402.6L1829.7 1331.9L2065.1 1331.9L2069.5 1328.5L3049.5 1328.5"/><path d="M249.5 1864.5L1071.5 1864.5L1075.9 1793.3L1742.3 1793.3L1746.7 1733.0L1795.5 1733.0L1799.9 1656.5L1809.2 1656.5L1813.6 1465.1L1810.0 1465.1L1814.4 1405.8L1851.0 1405.8L1855.4 1334.3L2007.6 1334.3L2012.0 1331.1L3049.5 1331.1"/><path d="M249.5 1864.5L939.1 1864.5L943.5 1796.2L1742.2 1796.2L1746.6 1737.3L1788.5 1737.3L1792.9 1678.1L1810.8 1678.1L1815.2 1598.5L1815.5 1598.5L1819.9 1407.5L1835.2 1407.5L1839.6 1336.0L2122.2 1336.0L2126.6 1332.8L3049.5 1332.8"/><path d="M249.5 1864.5L1078.1 1864.5L1082.5 1797.7L1739.2 1797.7L1743.6 1738.3L1808.7 1738.3L1813.1 1659.1L1815.5 1659.1L1819.9 1599.8L1820.6 1599.8L1825.0 1409.5L1844.2 1409.5L1848.6 1337.5L2149.7 1337.5L2154.1 1334.2L3049.5 1334.2"/><path d="M249.5 1864.5L1026.6 1864.5L1031.0 1794.1L1762.4 1794.1L1766.8 1735.0L1787.6 1735.0L1792.0 1675.9L1807.8 1675.9L1812.2 1596.8L1826.8 1596.8L1831.2 1404.6L1844.1 1404.6L1848.5 1333.5L2053.1 1333.5L2057.5 1330.3L3049.5 1330.3"/><path d="M249.5 1864.5L933.9 1864.5L938.3 1788.7L1740.9 1788.7L1745.3 1729.2L1801.0 1729.2L1805.4 1649.1L1815.6 1649.1L1820.0 1589.3L1820.6 1589.3L1825.0 1398.4L1834.2 1398.4L1838.6 1327.1L2096.2 1327.1L2100.6 1324.0L3049.5 1324.0"/><path d="M249.5 1864.5L976.7 1864.5L981.1 1794.7L1749.3 1794.7L1753.7 1736.2L1790.8 1736.2L1795.2 1655.3L1811.7 1655.3L1816.1 1595.6L1814.8 1595.6L1819.2 1404.2L1838.3 1404.2L1842.7 1333.0L2031.5 1333.0L2035.9 1329.7L3049.5 1329.7"/><path d="M249.5 1864.5L924.1 1864.5L928.5 1792.3L1712.7 1792.3L1717.1 1732.7L1792.6 1732.7L1797.0 1540.8L1801.4 1540.8L1805.8 1482.3L1814.3 1482.3L1818.7 1404.2L1830.4 1404.2L1834.8 1333.3L2092.6 1333.3L2097.0 1330.0L3049.5 1330.0"/><path d="M249.5 1864.5L980.4 1864.5L984.8 1793.6L1755.9 1793.6L1760.3 1734.3L1801.2 1734.3L1805.6 1674.5L1808.5 1674.5L1812.9 1484.4L1819.9 1484.4L1824.3 1406.0L1836.4 1406.0L1840.8 1334.3L2008.4 1334.3L2012.8 1331.1L3049.5 1331.1"/><path d="M249.5 1864.5L994.8 1864.5L999.2 1791.6L1739.5 1791.6L1743.9 1732.7L1803.7 1732.7L1808.1 1673.1L1805.8 1673.1L1810.2 1481.6L1811.7 1481.6L1816.1 1403.3L1812.0 1403.3L1816.4 1332.0L2008.0 1332.0L2012.4 1328.7L3049.5 1328.7"/><path d="M249.5 1864.5L990.9 1864.5L995.3 1789.7L1729.7 1789.7L1734.1 1730.1L1793.5 1730.1L1797.9 1651.8L1803.4 1651.8L1807.8 1592.3L1803.9 1592.3L1808.3 1402.5L1841.1 1402.5L1845.5 1330.8L2101.1 1330.8L2105.5 1327.6L3049.5 1327.6"/><path d="M249.5 1864.5L1056.4 1864.5L1060.8 1790.2L1706.7 1790.2L1711.1 1730.4L1808.4 1730.4L1812.8 1670.6L1812.2 1670.6L1816.6 1592.7L1817.4 1592.7L1821.8 1401.1L1844.3 1401.1L1848.7 1328.8L2013.4 1328.8L2017.8 1325.8L3049.5 1325.8"/><path d="M249.5 1864.5L970.4 1864.5L974.8 1795.2L1753.4 1795.2L1757.8 1735.3L1783.0 1735.3L1787.4 1675.4L1807.7 1675.4L1812.1 1484.8L1809.0 1484.8L1813.4 1407.7L1852.8 1407.7L1857.2 1337.1L2091.1 1337.1L2095.5 1334.0L3049.5 1334.0"/><path d="M249.5 1864.5L987.7 1864.5L992.1 1792.6L1751.7 1792.6L1756.1 1732.9L1804.8 1732.9L1809.2 1654.7L1810.7 1654.7L1815.1 1462.9L1813.9 1462.9L1818.3 1403.3L1846.4 1403.3L1850.8 1331.6L2015.6 1331.6L2020.0 1328.4L3049.5 1328.4"/><path d="M249.5 1864.5L1024.3 1864.5L1028.7 1795.4L1749.1 1795.4L1753.5 1735.7L1789.9 1735.7L1794.3 1658.1L1798.4 1658.1L1802.8 1598.4L1821.2 1598.4L1825.6 1527.7L1826.6 1527.7L1831.0 1336.4L2077.8 1336.4L2082.2 1333.1L3049.5 1333.1"/><path d="M249.5 1864.5L989.6 1864.5L994.0 1796.0L1743.7 1796.0L1748.1 1735.8L1804.2 1735.8L1808.6 1676.6L1808.7 1676.6L1813.1 1598.8L1823.4 1598.8L1827.8 1407.4L1831.7 1407.4L1836.1 1335.2L2079.4 1335.2L2083.8 1332.0L3049.5 1332.0"/><path d="M249.5 1864.5L919.9 1864.5L924.3 1791.3L1724.2 1791.3L1728.6 1732.6L1804.5 1732.6L1808.9 1655.0L1810.9 1655.0L1815.3 1595.1L1815.1 1595.1L1819.5 1405.1L1844.6 1405.1L1849.0 1333.4L2096.2 1333.4L2100.6 1330.0L3049.5 1330.0"/><path d="M249.5 1864.5L996.3 1864.5L1000.7 1796.2L1711.7 1796.2L1716.1 1738.0L1799.4 1738.0L1803.8 1677.9L1814.4 1677.9L1818.8 1599.2L1827.6 1599.2L1832.0 1408.0L1851.5 1408.0L1855.9 1335.7L2056.3 1335.7L2060.7 1332.5L3049.5 1332.5"/><path d="M249.5 1864.5L887.5 1864.5L891.9 1794.9L1724.3 1794.9L1728.7 1735.1L1801.7 1735.1L1806.1 1544.6L1823.4 1544.6L1827.8 1465.7L1824.2 1465.7L1828.6 1406.6L1834.4 1406.6L1838.8 1335.7L2080.7 1335.7L2085.1 1332.6L3049.5 1332.6"/><path d="M249.5 1864.5L1015.6 1864.5L1020.0 1794.7L1736.2 1794.7L1740.6 1734.9L1788.9 1734.9L1793.3 1675.5L1797.9 1675.5L1802.3 1596.1L1833.2 1596.1L1837.6 1405.7L1842.1 1405.7L1846.5 1333.9L2092.1 1333.9L2096.5 1330.7L3049.5 1330.7"/><path d="M249.5 1864.5L1011.7 1864.5L1016.1 1793.6L1747.3 1793.6L1751.7 1734.9L1804.8 1734.9L1809.2 1675.4L1809.0 1675.4L1813.4 1597.1L1810.0 1597.1L1814.4 1405.7L1831.6 1405.7L1836.0 1334.1L2073.3 1334.1L2077.7 1330.9L3049.5 1330.9"/><path d="M249.5 1864.5L1000.2 1864.5L1004.6 1794.8L1734.4 1794.8L1738.8 1735.0L1790.0 1735.0L1794.4 1675.6L1824.9 1675.6L1829.3 1596.1L1826.3 1596.1L1830.7 1405.3L1848.0 1405.3L1852.4 1332.8L1985.8 1332.8L1990.2 1329.7L3049.5 1329.7"/><path d="M249.5 1864.5L955.2 1864.5L959.6 1792.5L1745.8 1792.5L1750.2 1733.3L1812.0 1733.3L1816.4 1673.6L1812.7 1673.6L1817.1 1594.0L1820.8 1594.0L1825.2 1404.2L1846.4 1404.2L1850.8 1332.9L2100.7 1332.9L2105.1 1329.7L3049.5 1329.7"/><path d="M249.5 1864.5L1019.7 1864.5L1024.1 1793.4L1730.0 1793.4L1734.4 1733.6L1789.9 1733.6L1794.3 1674.1L1799.9 1674.1L1804.3 1483.7L1809.2 1483.7L1813.6 1404.2L1830.7 1404.2L1835.1 1332.1L2082.7 1332.1L2087.1 1329.0L3049.5 1329.0"/><path d="M249.5 1864.5L942.8 1864.5L947.2 1798.2L1719.7 1798.2L1724.1 1738.8L1787.5 1738.8L1791.9 1679.6L1806.1 1679.6L1810.5 1600.5L1835.8 1600.5L1840.2 1409.5L1849.1 1409.5L1853.5 1338.8L2078.8 1338.8L2083.2 1335.6L3049.5 1335.6"/><path d="M249.5 1864.5L995.5 1864.5L999.9 1788.7L1726.3 1788.7L1730.7 1729.1L1793.9 1729.1L1798.3 1669.6L1813.7 1669.6L1818.1 1478.7L1818.3 1478.7L1822.7 1401.5L1834.1 1401.5L1838.5 1329.1L2100.8 1329.1L2105.2 1325.9L3049.5 1325.9"/><path d="M249.5 1864.5L917.0 1864.5L921.4 1791.7L1729.4 1791.7L1733.8 1733.0L1803.3 1733.0L1807.7 1673.7L1805.8 1673.7L1810.2 1483.2L1816.9 1483.2L1821.3 1410.9L1822.5 1410.9L1826.9 1331.5L2065.4 1331.5L2069.8 1328.3L3049.5 1328.3"/><path d="M249.5 1864.5L949.2 1864.5L953.6 1794.8L1735.0 1794.8L1739.4 1735.1L1805.4 1735.1L1809.8 1675.5L1817.8 1675.5L1822.2 1597.6L1828.5 1597.6L1832.9 1407.8L1849.5 1407.8L1853.9 1335.3L2061.5 1335.3L2065.9 1332.2L3049.5 1332.2"/><path d="M249.5 1864.5L877.8 1864.5L882.2 1791.4L1715.9 1791.4L1720.3 1731.9L1800.0 1731.9L1804.4 1541.4L1808.0 1541.4L1812.4 1461.4L1812.6 1461.4L1817.0 1402.0L1854.2 1402.0L1858.6 1330.2L2029.6 1330.2L2034.0 1327.1L3049.5 1327.1"/><path d="M249.5 1864.5L1035.2 1864.5L1039.6 1791.0L1714.4 1791.0L1718.8 1731.7L1804.4 1731.7L1808.8 1671.9L1819.1 1671.9L1823.5 1593.8L1822.0 1593.8L1826.4 1402.3L1848.1 1402.3L1852.5 1331.4L2104.0 1331.4L2108.4 1328.3L3049.5 1328.3"/><path d="M249.5 1864.5L995.0 1864.5L999.4 1789.4L1731.1 1789.4L1735.5 1729.9L1800.8 1729.9L1805.2 1669.8L1803.3 1669.8L1807.7 1590.1L1813.4 1590.1L1817.8 1399.8L1866.7 1399.8L1871.1 1328.3L2090.6 1328.3L2095.0 1325.2L3049.5 1325.2"/><path d="M249.5 1864.5L979.4 1864.5L983.8 1796.6L1745.7 1796.6L1750.1 1737.5L1807.8 1737.5L1812.2 1658.5L1808.3 1658.5L1812.7 1599.2L1820.0 1599.2L1824.4 1408.5L1846.1 1408.5L1850.5 1336.7L2017.7 1336.7L2022.1 1333.5L3049.5 1333.5"/><path d="M249.5 1864.5L886.9 1864.5L891.3 1792.9L1734.7 1792.9L1739.1 1734.0L1796.9 1734.0L1801.3 1674.5L1806.1 1674.5L1810.5 1597.3L1816.8 1597.3L1821.2 1407.1L1839.7 1407.1L1844.1 1335.4L2080.9 1335.4L2085.3 1332.1L3049.5 1332.1"/><path d="M249.5 1864.5L1028.6 1864.5L1033.0 1794.9L1749.9 1794.9L1754.3 1736.3L1796.3 1736.3L1800.7 1676.5L1806.2 1676.5L1810.6 1598.1L1806.8 1598.1L1811.2 1406.8L1850.2 1406.8L1854.6 1335.4L2071.3 1335.4L2075.7 1332.4L3049.5 1332.4"/><path d="M249.5 1864.5L930.8 1864.5L935.2 1792.9L1739.0 1792.9L1743.4 1733.0L1788.1 1733.0L1792.5 1673.6L1813.8 1673.6L1818.2 1483.4L1814.8 1483.4L1819.2 1405.5L1841.8 1405.5L1846.2 1333.2L2064.2 1333.2L2068.6 1330.0L3049.5 1330.0"/><path d="M249.5 1864.5L1007.1 1864.5L1011.5 1790.6L1736.4 1790.6L1740.8 1730.9L1817.4 1730.9L1821.8 1541.6L1822.1 1541.6L1826.5 1463.8L1831.3 1463.8L1835.7 1404.1L1840.9 1404.1L1845.3 1332.7L2046.8 1332.7L2051.2 1329.5L3049.5 1329.5"/><path d="M249.5 1864.5L901.0 1864.5L905.4 1792.0L1718.6 1792.0L1723.0 1733.5L1799.9 1733.5L1804.3 1674.3L1815.1 1674.3L1819.5 1483.1L1817.5 1483.1L1821.9 1404.6L1830.7 1404.6L1835.1 1332.9L2063.9 1332.9L2068.3 1329.8L3049.5 1329.8"/><path d="M249.5 1864.5L934.1 1864.5L938.5 1794.2L1736.0 1794.2L1740.4 1734.8L1801.4 1734.8L1805.8 1675.2L1806.7 1675.2L1811.1 1484.9L1812.7 1484.9L1817.1 1405.7L1842.1 1405.7L1846.5 1334.3L2116.6 1334.3L2121.0 1331.1L3049.5 1331.1"/><path d="M249.5 1864.5L1033.8 1864.5L1038.2 1793.3L1746.4 1793.3L1750.8 1733.8L1792.3 1733.8L1796.7 1655.7L1802.0 1655.7L1806.4 1464.2L1805.5 1464.2L1809.9 1405.2L1857.8 1405.2L1862.2 1334.3L2020.6 1334.3L2025.0 1331.1L3049.5 1331.1"/><path d="M249.5 1864.5L900.2 1864.5L904.6 1796.2L1739.8 1796.2L1744.2 1737.1L1810.5 1737.1L1814.9 1677.4L1812.2 1677.4L1816.6 1599.6L1823.7 1599.6L1828.1 1409.7L1855.8 1409.7L1860.2 1337.9L1965.5 1337.9L1969.9 1334.7L3049.5 1334.7"/><path d="M249.5 1864.5L1004.9 1864.5L1009.3 1792.9L1742.7 1792.9L1747.1 1734.1L1813.1 1734.1L1817.5 1655.4L1813.2 1655.4L1817.6 1595.7L1815.3 1595.7L1819.7 1403.9L1833.0 1403.9L1837.4 1333.0L2005.7 1333.0L2010.1 1329.8L3049.5 1329.8"/><path d="M249.5 1864.5L899.3 1864.5L903.7 1792.2L1715.3 1792.2L1719.7 1732.2L1781.1 1732.2L1785.5 1672.7L1800.3 1672.7L1804.7 1593.5L1809.6 1593.5L1814.0 1401.5L1842.8 1401.5L1847.2 1330.6L2051.4 1330.6L2055.8 1327.6L3049.5 1327.6"/><path d="M249.5 1864.5L1010.0 1864.5L1014.4 1789.4L1749.9 1789.4L1754.3 1730.2L1804.5 1730.2L1808.9 1670.6L1810.3 1670.6L1814.7 1591.9L1818.2 1591.9L1822.6 1401.4L1860.9 1401.4L1865.3 1330.0L2080.9 1330.0L2085.3 1326.8L3049.5 1326.8"/><path d="M249.5 1864.5L996.8 1864.5L1001.2 1791.0L1719.7 1791.0L1724.1 1731.1L1810.7 1731.1L1815.1 1539.6L1812.7 1539.6L1817.1 1480.1L1817.0 1480.1L1821.4 1401.9L1849.8 1401.9L1854.2 1331.8L2036.8 1331.8L2041.2 1328.7L3049.5 1328.7"/><path d="M249.5 1864.5L1068.0 1864.5L1072.4 1795.5L1751.1 1795.5L1755.5 1736.3L1797.4 1736.3L1801.8 1676.4L1810.2 1676.4L1814.6 1597.0L1812.3 1597.0L1816.7 1404.8L1855.6 1404.8L1860.0 1333.7L2052.8 1333.7L2057.2 1330.5L3049.5 1330.5"/><path d="M249.5 1864.5L955.7 1864.5L960.1 1794.1L1744.8 1794.1L1749.2 1734.2L1794.3 1734.2L1798.7 1674.6L1794.9 1674.6L1799.3 1594.8L1822.8 1594.8L1827.2 1404.6L1843.8 1404.6L1848.2 1332.7L2059.6 1332.7L2064.0 1329.5L3049.5 1329.5"/><path d="M249.5 1864.5L1056.4 1864.5L1060.8 1793.2L1704.9 1793.2L1709.3 1733.5L1784.7 1733.5L1789.1 1673.7L1806.9 1673.7L1811.3 1594.3L1832.3 1594.3L1836.7 1402.1L1833.5 1402.1L1837.9 1330.4L2076.1 1330.4L2080.5 1327.3L3049.5 1327.3"/><path d="M249.5 1864.5L909.0 1864.5L913.4 1794.9L1734.3 1794.9L1738.7 1736.3L1792.1 1736.3L1796.5 1676.5L1813.5 1676.5L1817.9 1485.1L1817.0 1485.1L1821.4 1407.0L1841.0 1407.0L1845.4 1334.7L2076.6 1334.7L2081.0 1331.3L3049.5 1331.3"/><path d="M249.5 1864.5L1051.7 1864.5L1056.1 1789.3L1717.7 1789.3L1722.1 1730.4L1793.1 1730.4L1797.5 1671.0L1816.8 1671.0L1821.2 1593.3L1827.9 1593.3L1832.3 1402.8L1831.8 1402.8L1836.2 1330.7L2116.3 1330.7L2120.7 1327.4L3049.5 1327.4"/><path d="M249.5 1864.5L963.6 1864.5L968.0 1796.1L1722.4 1796.1L1726.8 1737.3L1798.5 1737.3L1802.9 1677.8L1811.3 1677.8L1815.7 1598.8L1816.4 1598.8L1820.8 1408.7L1840.9 1408.7L1845.3 1337.5L1981.6 1337.5L1986.0 1334.3L3049.5 1334.3"/><path d="M249.5 1864.5L1051.6 1864.5L1056.0 1790.5L1758.2 1790.5L1762.6 1730.5L1780.3 1730.5L1784.7 1670.9L1807.2 1670.9L1811.6 1599.8L1810.9 1599.8L1815.3 1409.6L1810.9 1409.6L1815.3 1330.9L2070.2 1330.9L2074.6 1327.8L3049.5 1327.8"/><path d="M249.5 1864.5L947.3 1864.5L951.7 1793.5L1701.7 1793.5L1706.1 1734.3L1788.9 1734.3L1793.3 1674.4L1813.2 1674.4L1817.6 1595.2L1821.7 1595.2L1826.1 1404.6L1849.8 1404.6L1854.2 1333.2L1982.6 1333.2L1987.0 1330.1L3049.5 1330.1"/><path d="M249.5 1864.5L1102.0 1864.5L1106.4 1791.4L1742.9 1791.4L1747.3 1731.5L1798.6 1731.5L1803.0 1671.3L1826.5 1671.3L1830.9 1592.4L1836.4 1592.4L1840.8 1402.0L1849.2 1402.0L1853.6 1329.3L2110.3 1329.3L2114.7 1326.1L3049.5 1326.1"/><path d="M249.5 1864.5L1012.8 1864.5L1017.2 1793.7L1737.6 1793.7L1742.0 1734.0L1790.6 1734.0L1795.0 1674.6L1808.8 1674.6L1813.2 1484.9L1813.1 1484.9L1817.5 1406.1L1849.6 1406.1L1854.0 1334.4L2087.6 1334.4L2092.0 1331.3L3049.5 1331.3"/><path d="M249.5 1864.5L1007.3 1864.5L1011.7 1789.5L1731.5 1789.5L1735.9 1730.5L1775.9 1730.5L1780.3 1670.7L1809.3 1670.7L1813.7 1478.4L1816.4 1478.4L1820.8 1399.1L1846.4 1399.1L1850.8 1328.2L2055.8 1328.2L2060.2 1325.0L3049.5 1325.0"/><path d="M249.5 1864.5L1027.4 1864.5L1031.8 1791.6L1728.2 1791.6L1732.6 1732.5L1796.7 1732.5L1801.1 1672.6L1805.3 1672.6L1809.7 1594.0L1808.8 1594.0L1813.2 1523.6L1828.7 1523.6L1833.1 1331.6L2070.8 1331.6L2075.2 1328.1L3049.5 1328.1"/><path d="M249.5 1864.5L1020.0 1864.5L1024.4 1796.1L1760.3 1796.1L1764.7 1736.8L1790.6 1736.8L1795.0 1678.2L1811.1 1678.2L1815.5 1598.1L1817.4 1598.1L1821.8 1407.0L1857.7 1407.0L1862.1 1336.1L2121.8 1336.1L2126.2 1333.0L3049.5 1333.0"/><path d="M249.5 1864.5L1104.3 1864.5L1108.7 1789.6L1742.7 1789.6L1747.1 1730.1L1810.0 1730.1L1814.4 1650.9L1816.1 1650.9L1820.5 1591.1L1829.1 1591.1L1833.5 1400.8L1830.1 1400.8L1834.5 1329.2L2043.8 1329.2L2048.2 1325.9L3049.5 1325.9"/><path d="M249.5 1864.5L880.6 1864.5L885.0 1793.8L1722.9 1793.8L1727.3 1734.6L1784.2 1734.6L1788.6 1675.4L1798.9 1675.4L1803.3 1597.2L1828.9 1597.2L1833.3 1406.4L1839.7 1406.4L1844.1 1336.3L1977.3 1336.3L1981.7 1333.1L3049.5 1333.1"/><path d="M249.5 1864.5L1003.5 1864.5L1007.9 1796.1L1740.3 1796.1L1744.7 1736.7L1804.7 1736.7L1809.1 1677.4L1811.9 1677.4L1816.3 1598.7L1814.3 1598.7L1818.7 1408.5L1840.4 1408.5L1844.8 1336.4L2042.4 1336.4L2046.8 1333.2L3049.5 1333.2"/><path d="M249.5 1864.5L984.4 1864.5L988.8 1792.8L1756.2 1792.8L1760.6 1733.6L1794.3 1733.6L1798.7 1655.4L1803.5 1655.4L1807.9 1595.9L1819.0 1595.9L1823.4 1404.5L1831.3 1404.5L1835.7 1333.7L2140.1 1333.7L2144.5 1330.4L3049.5 1330.4"/><path d="M249.5 1864.5L1020.4 1864.5L1024.8 1790.6L1723.4 1790.6L1727.8 1731.6L1808.8 1731.6L1813.2 1672.2L1810.0 1672.2L1814.4 1592.8L1816.9 1592.8L1821.3 1402.8L1824.2 1402.8L1828.6 1331.3L1996.0 1331.3L2000.4 1328.2L3049.5 1328.2"/><path d="M249.5 1864.5L998.1 1864.5L1002.5 1790.8L1723.4 1790.8L1727.8 1731.9L1789.8 1731.9L1794.2 1671.7L1806.0 1671.7L1810.4 1592.6L1809.5 1592.6L1813.9 1402.1L1830.0 1402.1L1834.4 1330.8L2035.4 1330.8L2039.8 1327.5L3049.5 1327.5"/><path d="M249.5 1864.5L1032.6 1864.5L1037.0 1794.3L1743.0 1794.3L1747.4 1735.8L1787.6 1735.8L1792.0 1676.6L1795.2 1676.6L1799.6 1598.0L1823.0 1598.0L1827.4 1525.8L1830.0 1525.8L1834.4 1333.9L2103.7 1333.9L2108.1 1330.9L3049.5 1330.9"/><path d="M249.5 1864.5L1029.8 1864.5L1034.2 1793.2L1771.7 1793.2L1776.1 1733.6L1781.3 1733.6L1785.7 1674.4L1814.4 1674.4L1818.8 1596.3L1818.2 1596.3L1822.6 1405.8L1821.9 1405.8L1826.3 1335.1L1980.5 1335.1L1984.9 1331.9L3049.5 1331.9"/><path d="M249.5 1864.5L971.1 1864.5L975.5 1792.8L1727.8 1792.8L1732.2 1733.6L1786.0 1733.6L1790.4 1674.2L1805.7 1674.2L1810.1 1482.3L1827.6 1482.3L1832.0 1403.5L1841.4 1403.5L1845.8 1331.7L2010.3 1331.7L2014.7 1328.7L3049.5 1328.7"/><path d="M249.5 1864.5L996.5 1864.5L1000.9 1790.1L1709.8 1790.1L1714.2 1730.5L1795.5 1730.5L1799.9 1671.2L1805.0 1671.2L1809.4 1593.1L1813.3 1593.1L1817.7 1402.0L1853.4 1402.0L1857.8 1331.1L2084.2 1331.1L2088.6 1327.9L3049.5 1327.9"/><path d="M249.5 1864.5L955.3 1864.5L959.7 1798.2L1725.1 1798.2L1729.5 1738.9L1795.5 1738.9L1799.9 1660.6L1815.6 1660.6L1820.0 1469.7L1826.5 1469.7L1830.9 1409.8L1858.3 1409.8L1862.7 1337.4L2059.6 1337.4L2064.0 1334.2L3049.5 1334.2"/><path d="M249.5 1864.5L972.9 1864.5L977.3 1795.5L1739.6 1795.5L1744.0 1735.4L1795.7 1735.4L1800.1 1675.7L1805.4 1675.7L1809.8 1597.6L1814.8 1597.6L1819.2 1406.6L1822.7 1406.6L1827.1 1335.5L2119.3 1335.5L2123.7 1332.5L3049.5 1332.5"/><path d="M249.5 1864.5L1041.6 1864.5L1046.0 1796.3L1715.5 1796.3L1719.9 1737.5L1810.0 1737.5L1814.4 1545.7L1811.0 1545.7L1815.4 1467.6L1821.1 1467.6L1825.5 1407.7L1829.7 1407.7L1834.1 1336.8L2033.3 1336.8L2037.7 1333.5L3049.5 1333.5"/><path d="M249.5 1864.5L924.6 1864.5L929.0 1796.7L1711.7 1796.7L1716.1 1738.1L1798.7 1738.1L1803.1 1659.1L1800.7 1659.1L1805.1 1600.0L1839.3 1600.0L1843.7 1409.8L1851.2 1409.8L1855.6 1338.4L2102.2 1338.4L2106.6 1335.4L3049.5 1335.4"/><path d="M249.5 1864.5L1014.8 1864.5L1019.2 1794.3L1720.1 1794.3L1724.5 1734.7L1804.3 1734.7L1808.7 1656.4L1804.6 1656.4L1809.0 1596.6L1811.9 1596.6L1816.3 1404.9L1834.1 1404.9L1838.5 1333.4L1958.6 1333.4L1963.0 1330.0L3049.5 1330.0"/><path d="M249.5 1864.5L1041.8 1864.5L1046.2 1792.9L1739.6 1792.9L1744.0 1732.7L1797.2 1732.7L1801.6 1655.3L1802.4 1655.3L1806.8 1464.3L1809.7 1464.3L1814.1 1404.9L1845.7 1404.9L1850.1 1333.9L2060.1 1333.9L2064.5 1330.7L3049.5 1330.7"/><path d="M249.5 1864.5L922.9 1864.5L927.3 1796.6L1732.8 1796.6L1737.2 1737.0L1804.3 1737.0L1808.7 1547.7L1806.6 1547.7L1811.0 1470.3L1818.4 1470.3L1822.8 1411.0L1844.0 1411.0L1848.4 1339.1L2090.1 1339.1L2094.5 1336.1L3049.5 1336.1"/><path d="M249.5 1864.5L936.0 1864.5L940.4 1791.0L1727.2 1791.0L1731.6 1732.6L1785.9 1732.6L1790.3 1673.1L1815.4 1673.1L1819.8 1482.5L1817.6 1482.5L1822.0 1403.4L1844.5 1403.4L1848.9 1332.5L2049.7 1332.5L2054.1 1329.4L3049.5 1329.4"/><path d="M249.5 1864.5L981.9 1864.5L986.3 1793.9L1736.5 1793.9L1740.9 1733.9L1804.0 1733.9L1808.4 1655.4L1805.2 1655.4L1809.6 1463.6L1811.0 1463.6L1815.4 1404.0L1818.8 1404.0L1823.2 1332.2L2075.3 1332.2L2079.7 1328.9L3049.5 1328.9"/><path d="M249.5 1864.5L898.2 1864.5L902.6 1793.5L1785.1 1793.5L1789.5 1734.1L1789.1 1734.1L1793.5 1542.0L1804.1 1542.0L1808.5 1482.3L1810.5 1482.3L1814.9 1404.7L1842.1 1404.7L1846.5 1332.9L2088.2 1332.9L2092.6 1329.6L3049.5 1329.6"/><path d="M249.5 1864.5L1047.0 1864.5L1051.4 1795.2L1730.4 1795.2L1734.8 1736.5L1802.7 1736.5L1807.1 1677.1L1812.6 1677.1L1817.0 1598.8L1822.3 1598.8L1826.7 1526.8L1826.3 1526.8L1830.7 1335.5L2010.7 1335.5L2015.1 1332.3L3049.5 1332.3"/><path d="M249.5 1864.5L977.3 1864.5L981.7 1796.0L1705.8 1796.0L1710.2 1735.8L1802.9 1735.8L1807.3 1676.2L1809.4 1676.2L1813.8 1598.2L1815.1 1598.2L1819.5 1407.9L1837.2 1407.9L1841.6 1336.8L2120.8 1336.8L2125.2 1333.7L3049.5 1333.7"/><path d="M249.5 1864.5L1016.5 1864.5L1020.9 1793.3L1738.5 1793.3L1742.9 1733.8L1799.9 1733.8L1804.3 1674.6L1814.9 1674.6L1819.3 1596.2L1822.1 1596.2L1826.5 1405.3L1859.8 1405.3L1864.2 1334.3L1993.6 1334.3L1998.0 1331.0L3049.5 1331.0"/><path d="M249.5 1864.5L983.6 1864.5L988.0 1792.0L1733.6 1792.0L1738.0 1732.5L1797.2 1732.5L1801.6 1673.0L1813.9 1673.0L1818.3 1482.0L1817.1 1482.0L1821.5 1402.9L1839.7 1402.9L1844.1 1330.8L2003.0 1330.8L2007.4 1327.8L3049.5 1327.8"/><path d="M249.5 1864.5L982.5 1864.5L986.9 1793.0L1724.3 1793.0L1728.7 1733.3L1799.0 1733.3L1803.4 1673.4L1814.7 1673.4L1819.1 1481.7L1815.2 1481.7L1819.6 1402.5L1860.9 1402.5L1865.3 1329.8L2026.1 1329.8L2030.5 1326.7L3049.5 1326.7"/><path d="M249.5 1864.5L1032.8 1864.5L1037.2 1791.9L1742.0 1791.9L1746.4 1732.0L1795.2 1732.0L1799.6 1672.3L1807.2 1672.3L1811.6 1593.2L1827.9 1593.2L1832.3 1402.9L1846.5 1402.9L1850.9 1331.0L2092.1 1331.0L2096.5 1327.7L3049.5 1327.7"/><path d="M249.5 1864.5L991.8 1864.5L996.2 1796.0L1708.9 1796.0L1713.3 1736.8L1788.3 1736.8L1792.7 1676.5L1808.6 1676.5L1813.0 1597.9L1819.8 1597.9L1824.2 1407.5L1833.8 1407.5L1838.2 1335.9L2097.7 1335.9L2102.1 1332.7L3049.5 1332.7"/><path d="M249.5 1864.5L911.9 1864.5L916.3 1790.1L1735.3 1790.1L1739.7 1731.1L1791.4 1731.1L1795.8 1671.6L1792.3 1671.6L1796.7 1593.0L1794.5 1593.0L1798.9 1402.1L1854.6 1402.1L1859.0 1332.1L2070.8 1332.1L2075.2 1328.9L3049.5 1328.9"/><path d="M249.5 1864.5L938.9 1864.5L943.3 1791.7L1742.5 1791.7L1746.9 1731.9L1802.8 1731.9L1807.2 1541.8L1810.6 1541.8L1815.0 1481.7L1814.0 1481.7L1818.4 1404.7L1847.6 1404.7L1852.0 1333.6L2078.5 1333.6L2082.9 1330.2L3049.5 1330.2"/><path d="M249.5 1864.5L998.9 1864.5L1003.3 1795.3L1690.3 1795.3L1694.7 1735.9L1790.6 1735.9L1795.0 1676.3L1811.1 1676.3L1815.5 1598.7L1822.5 1598.7L1826.9 1407.8L1847.3 1407.8L1851.7 1337.3L2089.0 1337.3L2093.4 1334.1L3049.5 1334.1"/><path d="M249.5 1864.5L1021.0 1864.5L1025.4 1791.7L1740.2 1791.7L1744.6 1731.9L1808.5 1731.9L1812.9 1671.9L1818.1 1671.9L1822.5 1480.8L1835.1 1480.8L1839.5 1409.2L1836.0 1409.2L1840.4 1330.2L2064.7 1330.2L2069.1 1327.1L3049.5 1327.1"/><path d="M249.5 1864.5L948.6 1864.5L953.0 1791.0L1727.4 1791.0L1731.8 1732.1L1807.9 1732.1L1812.3 1654.4L1809.0 1654.4L1813.4 1595.0L1831.1 1595.0L1835.5 1403.5L1844.5 1403.5L1848.9 1332.4L2011.7 1332.4L2016.1 1329.1L3049.5 1329.1"/><path d="M249.5 1864.5L1096.7 1864.5L1101.1 1789.6L1768.8 1789.6L1773.2 1730.2L1791.0 1730.2L1795.4 1538.7L1801.0 1538.7L1805.4 1479.3L1817.2 1479.3L1821.6 1399.3L1823.9 1399.3L1828.3 1328.1L2082.3 1328.1L2086.7 1324.9L3049.5 1324.9"/><path d="M249.5 1864.5L1100.3 1864.5L1104.7 1795.3L1748.7 1795.3L1753.1 1735.7L1806.5 1735.7L1810.9 1657.6L1809.7 1657.6L1814.1 1598.1L1812.8 1598.1L1817.2 1407.5L1856.1 1407.5L1860.5 1335.9L2081.6 1335.9L2086.0 1332.6L3049.5 1332.6"/><path d="M249.5 1864.5L967.9 1864.5L972.3 1791.8L1711.9 1791.8L1716.3 1732.2L1800.1 1732.2L1804.5 1653.8L1804.4 1653.8L1808.8 1463.4L1813.6 1463.4L1818.0 1403.6L1854.1 1403.6L1858.5 1332.8L2081.5 1332.8L2085.9 1329.4L3049.5 1329.4"/><path d="M249.5 1864.5L919.0 1864.5L923.4 1792.2L1752.2 1792.2L1756.6 1732.9L1793.1 1732.9L1797.5 1673.6L1808.2 1673.6L1812.6 1596.2L1821.2 1596.2L1825.6 1404.8L1848.1 1404.8L1852.5 1333.5L2004.9 1333.5L2009.3 1330.3L3049.5 1330.3"/><path d="M249.5 1864.5L1032.5 1864.5L1036.9 1791.4L1714.2 1791.4L1718.6 1732.1L1799.7 1732.1L1804.1 1672.4L1805.6 1672.4L1810.0 1480.2L1815.3 1480.2L1819.7 1401.7L1846.0 1401.7L1850.4 1330.5L2071.3 1330.5L2075.7 1327.3L3049.5 1327.3"/><path d="M249.5 1864.5L953.3 1864.5L957.7 1798.2L1719.9 1798.2L1724.3 1738.0L1808.0 1738.0L1812.4 1658.8L1815.9 1658.8L1820.3 1599.9L1825.7 1599.9L1830.1 1409.0L1849.3 1409.0L1853.7 1337.3L1993.6 1337.3L1998.0 1334.1L3049.5 1334.1"/><path d="M249.5 1864.5L1034.2 1864.5L1038.6 1796.2L1723.4 1796.2L1727.8 1736.6L1791.3 1736.6L1795.7 1675.8L1808.0 1675.8L1812.4 1485.1L1815.8 1485.1L1820.2 1405.2L1829.4 1405.2L1833.8 1333.9L2115.3 1333.9L2119.7 1330.8L3049.5 1330.8"/><path d="M249.5 1864.5L1035.5 1864.5L1039.9 1789.0L1725.2 1789.0L1729.6 1729.8L1805.9 1729.8L1810.3 1669.7L1808.7 1669.7L1813.1 1590.7L1815.6 1590.7L1820.0 1400.2L1855.8 1400.2L1860.2 1328.3L2040.9 1328.3L2045.3 1325.0L3049.5 1325.0"/><path d="M249.5 1864.5L1027.2 1864.5L1031.6 1794.8L1732.4 1794.8L1736.8 1735.6L1787.3 1735.6L1791.7 1675.6L1799.0 1675.6L1803.4 1596.7L1804.6 1596.7L1809.0 1406.2L1809.2 1406.2L1813.6 1335.6L2048.7 1335.6L2053.1 1332.3L3049.5 1332.3"/><path d="M249.5 1864.5L994.6 1864.5L999.0 1794.1L1719.3 1794.1L1723.7 1734.9L1794.6 1734.9L1799.0 1675.1L1823.0 1675.1L1827.4 1484.3L1827.6 1484.3L1832.0 1407.0L1849.0 1407.0L1853.4 1335.4L1959.5 1335.4L1963.9 1332.0L3049.5 1332.0"/><path d="M249.5 1864.5L943.6 1864.5L948.0 1790.8L1696.4 1790.8L1700.8 1731.3L1780.6 1731.3L1785.0 1671.3L1801.4 1671.3L1805.8 1592.9L1827.5 1592.9L1831.9 1402.4L1844.2 1402.4L1848.6 1330.4L2050.5 1330.4L2054.9 1327.3L3049.5 1327.3"/><path d="M249.5 1864.5L850.4 1864.5L854.8 1791.2L1719.8 1791.2L1724.2 1732.0L1786.4 1732.0L1790.8 1672.4L1807.7 1672.4L1812.1 1483.3L1814.8 1483.3L1819.2 1404.9L1826.8 1404.9L1831.2 1332.8L2042.3 1332.8L2046.7 1329.6L3049.5 1329.6"/><path d="M249.5 1864.5L914.8 1864.5L919.2 1788.7L1726.8 1788.7L1731.2 1728.8L1791.1 1728.8L1795.5 1669.1L1804.9 1669.1L1809.3 1590.8L1814.0 1590.8L1818.4 1399.5L1852.0 1399.5L1856.4 1328.5L2058.9 1328.5L2063.3 1325.4L3049.5 1325.4"/><path d="M249.5 1864.5L1030.4 1864.5L1034.8 1792.3L1717.7 1792.3L1722.1 1732.4L1792.9 1732.4L1797.3 1672.9L1799.1 1672.9L1803.5 1593.9L1815.7 1593.9L1820.1 1404.5L1828.4 1404.5L1832.8 1333.6L1989.7 1333.6L1994.1 1330.5L3049.5 1330.5"/><path d="M249.5 1864.5L879.6 1864.5L884.0 1795.8L1718.6 1795.8L1723.0 1736.4L1797.4 1736.4L1801.8 1676.8L1808.3 1676.8L1812.7 1598.1L1818.8 1598.1L1823.2 1407.4L1839.2 1407.4L1843.6 1334.6L2097.7 1334.6L2102.1 1331.3L3049.5 1331.3"/><path d="M249.5 1864.5L876.2 1864.5L880.6 1795.7L1759.5 1795.7L1763.9 1737.0L1791.5 1737.0L1795.9 1677.0L1806.3 1677.0L1810.7 1597.9L1829.3 1597.9L1833.7 1406.6L1855.9 1406.6L1860.3 1335.3L2112.4 1335.3L2116.8 1332.3L3049.5 1332.3"/><path d="M249.5 1864.5L1015.4 1864.5L1019.8 1795.6L1697.6 1795.6L1702.0 1736.9L1806.4 1736.9L1810.8 1659.1L1813.0 1659.1L1817.4 1599.7L1830.3 1599.7L1834.7 1408.7L1840.9 1408.7L1845.3 1336.8L2133.0 1336.8L2137.4 1333.7L3049.5 1333.7"/><path d="M249.5 1864.5L982.9 1864.5L987.3 1792.6L1714.6 1792.6L1719.0 1733.4L1806.0 1733.4L1810.4 1543.1L1812.8 1543.1L1817.2 1482.7L1813.7 1482.7L1818.1 1403.8L1842.5 1403.8L1846.9 1333.0L1949.6 1333.0L1954.0 1329.7L3049.5 1329.7"/><path d="M249.5 1864.5L1055.7 1864.5L1060.1 1794.6L1754.6 1794.6L1759.0 1735.6L1802.0 1735.6L1806.4 1675.8L1807.8 1675.8L1812.2 1597.0L1815.3 1597.0L1819.7 1405.6L1849.7 1405.6L1854.1 1334.7L1991.1 1334.7L1995.5 1331.4L3049.5 1331.4"/><path d="M249.5 1864.5L875.6 1864.5L880.0 1795.2L1736.2 1795.2L1740.6 1736.4L1787.6 1736.4L1792.0 1545.7L1789.0 1545.7L1793.4 1485.3L1814.2 1485.3L1818.6 1407.1L1827.7 1407.1L1832.1 1334.9L2067.8 1334.9L2072.2 1331.8L3049.5 1331.8"/><path d="M249.5 1864.5L1009.3 1864.5L1013.7 1796.6L1730.3 1796.6L1734.7 1736.8L1793.7 1736.8L1798.1 1659.6L1796.2 1659.6L1800.6 1600.0L1810.3 1600.0L1814.7 1409.4L1837.1 1409.4L1841.5 1338.3L2057.3 1338.3L2061.7 1335.1L3049.5 1335.1"/><path d="M249.5 1864.5L870.3 1864.5L874.7 1793.0L1725.4 1793.0L1729.8 1734.1L1820.8 1734.1L1825.2 1656.1L1824.4 1656.1L1828.8 1464.8L1835.3 1464.8L1839.7 1404.9L1854.1 1404.9L1858.5 1333.9L2022.7 1333.9L2027.1 1330.8L3049.5 1330.8"/><path d="M249.5 1864.5L1027.0 1864.5L1031.4 1798.2L1742.0 1798.2L1746.4 1738.8L1805.0 1738.8L1809.4 1679.9L1810.2 1679.9L1814.6 1489.4L1816.6 1489.4L1821.0 1410.6L1839.7 1410.6L1844.1 1339.5L2047.8 1339.5L2052.2 1336.3L3049.5 1336.3"/><path d="M249.5 1864.5L1035.2 1864.5L1039.6 1791.9L1734.4 1791.9L1738.8 1733.1L1812.1 1733.1L1816.5 1653.9L1821.3 1653.9L1825.7 1462.5L1825.1 1462.5L1829.5 1403.4L1828.1 1403.4L1832.5 1331.8L1990.8 1331.8L1995.2 1328.7L3049.5 1328.7"/><path d="M249.5 1864.5L847.5 1864.5L851.9 1791.6L1750.9 1791.6L1755.3 1732.8L1795.7 1732.8L1800.1 1673.5L1807.4 1673.5L1811.8 1482.7L1819.9 1482.7L1824.3 1411.3L1821.9 1411.3L1826.3 1332.9L2072.1 1332.9L2076.5 1329.7L3049.5 1329.7"/><path d="M249.5 1864.5L986.1 1864.5L990.5 1788.7L1771.1 1788.7L1775.5 1729.8L1794.2 1729.8L1798.6 1651.0L1808.6 1651.0L1813.0 1460.7L1811.5 1460.7L1815.9 1400.6L1846.9 1400.6L1851.3 1329.2L1984.5 1329.2L1988.9 1326.0L3049.5 1326.0"/><path d="M249.5 1864.5L1019.4 1864.5L1023.8 1796.7L1750.0 1796.7L1754.4 1737.1L1786.5 1737.1L1790.9 1678.5L1800.7 1678.5L1805.1 1487.3L1807.3 1487.3L1811.7 1408.4L1836.3 1408.4L1840.7 1337.2L2084.2 1337.2L2088.6 1334.1L3049.5 1334.1"/><path d="M249.5 1864.5L990.3 1864.5L994.7 1797.6L1746.6 1797.6L1751.0 1739.0L1780.2 1739.0L1784.6 1679.4L1808.1 1679.4L1812.5 1600.5L1818.1 1600.5L1822.5 1410.1L1847.8 1410.1L1852.2 1338.6L1977.2 1338.6L1981.6 1335.4L3049.5 1335.4"/><path d="M249.5 1864.5L1077.4 1864.5L1081.8 1791.6L1729.3 1791.6L1733.7 1732.3L1800.8 1732.3L1805.2 1672.9L1815.3 1672.9L1819.7 1482.1L1821.3 1482.1L1825.7 1404.1L1851.0 1404.1L1855.4 1332.3L2077.4 1332.3L2081.8 1329.3L3049.5 1329.3"/><path d="M249.5 1864.5L986.9 1864.5L991.3 1789.8L1752.2 1789.8L1756.6 1731.3L1809.1 1731.3L1813.5 1671.0L1821.4 1671.0L1825.8 1479.9L1826.3 1479.9L1830.7 1400.5L1841.9 1400.5L1846.3 1328.9L2051.2 1328.9L2055.6 1325.6L3049.5 1325.6"/><path d="M249.5 1864.5L888.9 1864.5L893.3 1795.3L1700.5 1795.3L1704.9 1736.3L1795.3 1736.3L1799.7 1676.8L1809.2 1676.8L1813.6 1486.4L1826.5 1486.4L1830.9 1408.2L1845.5 1408.2L1849.9 1337.0L1953.8 1337.0L1958.2 1333.7L3049.5 1333.7"/><path d="M249.5 1864.5L860.0 1864.5L864.4 1795.3L1724.7 1795.3L1729.1 1735.9L1793.3 1735.9L1797.7 1676.8L1803.9 1676.8L1808.3 1597.6L1820.1 1597.6L1824.5 1525.1L1828.3 1525.1L1832.7 1335.5L2037.3 1335.5L2041.7 1332.3L3049.5 1332.3"/><path d="M249.5 1864.5L1047.4 1864.5L1051.8 1789.0L1708.0 1789.0L1712.4 1729.6L1790.5 1729.6L1794.9 1669.9L1800.2 1669.9L1804.6 1478.9L1808.2 1478.9L1812.6 1400.7L1845.1 1400.7L1849.5 1328.9L1957.9 1328.9L1962.3 1325.9L3049.5 1325.9"/><path d="M249.5 1864.5L1046.9 1864.5L1051.3 1794.7L1713.7 1794.7L1718.1 1735.3L1799.8 1735.3L1804.2 1656.7L1819.3 1656.7L1823.7 1596.5L1820.4 1596.5L1824.8 1405.3L1844.2 1405.3L1848.6 1334.4L2106.4 1334.4L2110.8 1331.3L3049.5 1331.3"/><path d="M249.5 1864.5L1028.4 1864.5L1032.8 1794.1L1751.4 1794.1L1755.8 1734.5L1787.0 1734.5L1791.4 1674.9L1812.2 1674.9L1816.6 1484.1L1814.4 1484.1L1818.8 1405.1L1815.3 1405.1L1819.7 1333.9L2021.3 1333.9L2025.7 1330.5L3049.5 1330.5"/><path d="M249.5 1864.5L991.7 1864.5L996.1 1792.8L1720.7 1792.8L1725.1 1733.2L1778.9 1733.2L1783.3 1672.8L1802.0 1672.8L1806.4 1481.1L1817.3 1481.1L1821.7 1402.5L1819.0 1402.5L1823.4 1331.3L2095.5 1331.3L2099.9 1328.0L3049.5 1328.0"/><path d="M249.5 1864.5L972.4 1864.5L976.8 1792.4L1732.0 1792.4L1736.4 1733.8L1789.8 1733.8L1794.2 1673.9L1812.8 1673.9L1817.2 1593.8L1827.0 1593.8L1831.4 1403.2L1845.6 1403.2L1850.0 1331.4L2013.9 1331.4L2018.3 1328.3L3049.5 1328.3"/><path d="M249.5 1864.5L960.3 1864.5L964.7 1794.5L1716.7 1794.5L1721.1 1734.8L1797.0 1734.8L1801.4 1675.4L1811.2 1675.4L1815.6 1484.5L1811.7 1484.5L1816.1 1405.3L1836.9 1405.3L1841.3 1334.4L2079.9 1334.4L2084.3 1331.2L3049.5 1331.2"/><path d="M249.5 1864.5L1078.3 1864.5L1082.7 1796.9L1718.9 1796.9L1723.3 1738.1L1797.9 1738.1L1802.3 1658.3L1799.9 1658.3L1804.3 1598.5L1819.6 1598.5L1824.0 1406.3L1827.9 1406.3L1832.3 1335.7L2049.5 1335.7L2053.9 1332.7L3049.5 1332.7"/><path d="M249.5 1864.5L974.2 1864.5L978.6 1797.4L1762.0 1797.4L1766.4 1738.3L1792.1 1738.3L1796.5 1660.0L1801.8 1660.0L1806.2 1600.6L1805.0 1600.6L1809.4 1410.9L1847.8 1410.9L1852.2 1339.1L2080.3 1339.1L2084.7 1335.9L3049.5 1335.9"/><path d="M249.5 1864.5L1002.0 1864.5L1006.4 1798.2L1736.8 1798.2L1741.2 1738.6L1779.4 1738.6L1783.8 1678.8L1800.1 1678.8L1804.5 1600.0L1800.1 1600.0L1804.5 1408.2L1820.4 1408.2L1824.8 1336.6L2022.0 1336.6L2026.4 1333.2L3049.5 1333.2"/><path d="M249.5 1864.5L915.9 1864.5L920.3 1793.3L1760.5 1793.3L1764.9 1733.9L1804.3 1733.9L1808.7 1674.4L1805.6 1674.4L1810.0 1596.0L1830.9 1596.0L1835.3 1405.5L1849.0 1405.5L1853.4 1333.8L1979.0 1333.8L1983.4 1330.6L3049.5 1330.6"/><path d="M249.5 1864.5L1014.7 1864.5L1019.1 1793.0L1738.4 1793.0L1742.8 1734.9L1791.4 1734.9L1795.8 1675.3L1806.0 1675.3L1810.4 1597.8L1810.0 1597.8L1814.4 1406.7L1854.8 1406.7L1859.2 1335.6L2088.1 1335.6L2092.5 1332.4L3049.5 1332.4"/><path d="M249.5 1864.5L963.5 1864.5L967.9 1789.8L1750.7 1789.8L1755.1 1729.8L1791.4 1729.8L1795.8 1670.3L1794.3 1670.3L1798.7 1591.4L1795.3 1591.4L1799.7 1399.5L1842.2 1399.5L1846.6 1328.6L2096.1 1328.6L2100.5 1325.3L3049.5 1325.3"/><path d="M249.5 1864.5L1032.3 1864.5L1036.7 1788.7L1757.0 1788.7L1761.4 1729.1L1803.4 1729.1L1807.8 1669.3L1816.8 1669.3L1821.2 1478.8L1822.5 1478.8L1826.9 1401.2L1831.4 1401.2L1835.8 1330.9L2069.0 1330.9L2073.4 1327.7L3049.5 1327.7"/><path d="M249.5 1864.5L997.8 1864.5L1002.2 1795.5L1746.0 1795.5L1750.4 1736.6L1799.5 1736.6L1803.9 1677.1L1815.1 1677.1L1819.5 1597.6L1833.1 1597.6L1837.5 1406.5L1837.2 1406.5L1841.6 1335.3L2017.3 1335.3L2021.7 1332.0L3049.5 1332.0"/><path d="M249.5 1864.5L972.4 1864.5L976.8 1793.9L1754.9 1793.9L1759.3 1735.5L1800.9 1735.5L1805.3 1676.0L1803.1 1676.0L1807.5 1485.2L1821.9 1485.2L1826.3 1407.5L1846.5 1407.5L1850.9 1336.8L1977.1 1336.8L1981.5 1333.6L3049.5 1333.6"/><path d="M249.5 1864.5L905.5 1864.5L909.9 1796.8L1736.5 1796.8L1740.9 1738.6L1802.9 1738.6L1807.3 1678.3L1812.0 1678.3L1816.4 1600.0L1833.6 1600.0L1838.0 1410.1L1835.1 1410.1L1839.5 1339.3L2131.3 1339.3L2135.7 1336.0L3049.5 1336.0"/><path d="M249.5 1864.5L951.0 1864.5L955.4 1793.4L1711.5 1793.4L1715.9 1734.6L1785.2 1734.6L1789.6 1675.2L1818.6 1675.2L1823.0 1484.4L1827.6 1484.4L1832.0 1406.4L1843.6 1406.4L1848.0 1335.0L2056.2 1335.0L2060.6 1331.9L3049.5 1331.9"/><path d="M249.5 1864.5L904.6 1864.5L909.0 1790.6L1724.7 1790.6L1729.1 1730.8L1792.9 1730.8L1797.3 1652.8L1802.4 1652.8L1806.8 1462.2L1811.2 1462.2L1815.6 1402.6L1845.6 1402.6L1850.0 1331.4L2025.5 1331.4L2029.9 1328.2L3049.5 1328.2"/><path d="M249.5 1864.5L896.3 1864.5L900.7 1792.6L1704.7 1792.6L1709.1 1733.6L1782.5 1733.6L1786.9 1654.3L1792.7 1654.3L1797.1 1595.1L1819.6 1595.1L1824.0 1404.4L1847.7 1404.4L1852.1 1332.6L2088.9 1332.6L2093.3 1329.5L3049.5 1329.5"/><path d="M249.5 1864.5L1056.7 1864.5L1061.1 1790.9L1761.7 1790.9L1766.1 1731.2L1810.7 1731.2L1815.1 1541.1L1814.7 1541.1L1819.1 1462.7L1835.8 1462.7L1840.2 1403.0L1849.0 1403.0L1853.4 1331.6L2093.5 1331.6L2097.9 1328.3L3049.5 1328.3"/><path d="M249.5 1864.5L888.7 1864.5L893.1 1795.6L1708.3 1795.6L1712.7 1736.8L1794.7 1736.8L1799.1 1677.2L1816.2 1677.2L1820.6 1484.9L1829.3 1484.9L1833.7 1405.8L1852.6 1405.8L1857.0 1334.5L2000.3 1334.5L2004.7 1331.1L3049.5 1331.1"/><path d="M249.5 1864.5L1013.4 1864.5L1017.8 1792.8L1694.6 1792.8L1699.0 1734.1L1785.4 1734.1L1789.8 1674.6L1802.3 1674.6L1806.7 1596.3L1817.3 1596.3L1821.7 1405.6L1846.4 1405.6L1850.8 1333.9L2048.3 1333.9L2052.7 1330.5L3049.5 1330.5"/><path d="M249.5 1864.5L956.1 1864.5L960.5 1790.3L1737.7 1790.3L1742.1 1731.2L1791.9 1731.2L1796.3 1671.9L1800.7 1671.9L1805.1 1594.0L1814.0 1594.0L1818.4 1403.2L1816.0 1403.2L1820.4 1330.9L2112.9 1330.9L2117.3 1327.7L3049.5 1327.7"/><path d="M249.5 1864.5L1035.4 1864.5L1039.8 1796.1L1731.2 1796.1L1735.6 1737.0L1807.8 1737.0L1812.2 1659.6L1810.0 1659.6L1814.4 1468.2L1823.9 1468.2L1828.3 1408.4L1850.8 1408.4L1855.2 1336.4L2066.8 1336.4L2071.2 1333.1L3049.5 1333.1"/><path d="M249.5 1864.5L904.9 1864.5L909.3 1791.1L1742.2 1791.1L1746.6 1731.7L1795.2 1731.7L1799.6 1672.4L1807.2 1672.4L1811.6 1480.9L1814.3 1480.9L1818.7 1401.8L1819.0 1401.8L1823.4 1329.9L2112.4 1329.9L2116.8 1326.7L3049.5 1326.7"/><path d="M249.5 1864.5L1044.6 1864.5L1049.0 1791.4L1701.5 1791.4L1705.9 1733.2L1811.7 1733.2L1816.1 1656.5L1812.2 1656.5L1816.6 1596.8L1822.1 1596.8L1826.5 1406.0L1851.1 1406.0L1855.5 1333.2L2007.8 1333.2L2012.2 1330.1L3049.5 1330.1"/><path d="M249.5 1864.5L905.8 1864.5L910.2 1790.5L1750.0 1790.5L1754.4 1731.4L1800.0 1731.4L1804.4 1652.5L1814.3 1652.5L1818.7 1592.7L1817.2 1592.7L1821.6 1401.1L1842.6 1401.1L1847.0 1330.2L2092.8 1330.2L2097.2 1327.3L3049.5 1327.3"/><path d="M249.5 1864.5L944.2 1864.5L948.6 1790.5L1721.1 1790.5L1725.5 1731.3L1803.8 1731.3L1808.2 1671.3L1813.0 1671.3L1817.4 1479.3L1813.7 1479.3L1818.1 1399.5L1840.3 1399.5L1844.7 1328.7L2096.9 1328.7L2101.3 1325.8L3049.5 1325.8"/><path d="M249.5 1864.5L1040.5 1864.5L1044.9 1790.0L1738.1 1790.0L1742.5 1731.1L1811.3 1731.1L1815.7 1652.2L1818.4 1652.2L1822.8 1462.6L1826.5 1462.6L1830.9 1402.4L1829.2 1402.4L1833.6 1330.8L2067.9 1330.8L2072.3 1327.5L3049.5 1327.5"/><path d="M249.5 1864.5L1003.9 1864.5L1008.3 1795.0L1747.3 1795.0L1751.7 1735.4L1783.9 1735.4L1788.3 1676.1L1799.1 1676.1L1803.5 1597.1L1812.0 1597.1L1816.4 1406.4L1843.7 1406.4L1848.1 1335.0L2141.7 1335.0L2146.1 1331.7L3049.5 1331.7"/><path d="M249.5 1864.5L758.5 1864.5L762.9 1795.5L1751.4 1795.5L1755.8 1736.4L1785.4 1736.4L1789.8 1676.1L1801.6 1676.1L1806.0 1597.1L1810.4 1597.1L1814.8 1406.3L1833.6 1406.3L1838.0 1335.0L2104.9 1335.0L2109.3 1331.9L3049.5 1331.9"/><path d="M249.5 1864.5L938.6 1864.5L943.0 1798.2L1759.7 1798.2L1764.1 1738.7L1786.9 1738.7L1791.3 1680.0L1802.5 1680.0L1806.9 1601.2L1818.4 1601.2L1822.8 1409.3L1834.8 1409.3L1839.2 1338.1L1992.7 1338.1L1997.1 1334.9L3049.5 1334.9"/><path d="M249.5 1864.5L931.1 1864.5L935.5 1792.7L1744.4 1792.7L1748.8 1733.8L1797.4 1733.8L1801.8 1674.3L1822.9 1674.3L1827.3 1595.7L1828.3 1595.7L1832.7 1405.1L1855.0 1405.1L1859.4 1333.6L1999.7 1333.6L2004.1 1330.6L3049.5 1330.6"/><path d="M249.5 1864.5L991.3 1864.5L995.7 1790.9L1720.9 1790.9L1725.3 1731.4L1804.7 1731.4L1809.1 1652.1L1814.7 1652.1L1819.1 1462.0L1822.6 1462.0L1827.0 1403.0L1855.9 1403.0L1860.3 1331.8L1966.1 1331.8L1970.5 1328.7L3049.5 1328.7"/><path d="M249.5 1864.5L1001.4 1864.5L1005.8 1793.7L1711.8 1793.7L1716.2 1734.1L1798.7 1734.1L1803.1 1674.7L1825.0 1674.7L1829.4 1602.6L1830.9 1602.6L1835.3 1524.8L1834.0 1524.8L1838.4 1332.8L2075.8 1332.8L2080.2 1329.6L3049.5 1329.6"/><path d="M249.5 1864.5L997.8 1864.5L1002.2 1795.9L1744.5 1795.9L1748.9 1736.1L1785.0 1736.1L1789.4 1676.2L1806.0 1676.2L1810.4 1485.3L1815.9 1485.3L1820.3 1405.8L1853.0 1405.8L1857.4 1333.9L2021.9 1333.9L2026.3 1330.9L3049.5 1330.9"/><path d="M249.5 1864.5L955.0 1864.5L959.4 1794.9L1716.8 1794.9L1721.2 1735.4L1805.1 1735.4L1809.5 1675.9L1808.5 1675.9L1812.9 1485.4L1811.0 1485.4L1815.4 1406.5L1818.1 1406.5L1822.5 1335.1L2039.4 1335.1L2043.8 1331.8L3049.5 1331.8"/><path d="M249.5 1864.5L1147.7 1864.5L1152.1 1793.1L1769.5 1793.1L1773.9 1734.4L1781.3 1734.4L1785.7 1674.4L1815.1 1674.4L1819.5 1485.1L1818.9 1485.1L1823.3 1406.6L1841.6 1406.6L1846.0 1334.4L2086.9 1334.4L2091.3 1331.3L3049.5 1331.3"/><path d="M249.5 1864.5L1026.5 1864.5L1030.9 1796.1L1719.9 1796.1L1724.3 1737.1L1790.4 1737.1L1794.8 1677.3L1807.1 1677.3L1811.5 1599.5L1807.7 1599.5L1812.1 1407.7L1829.7 1407.7L1834.1 1336.4L2093.7 1336.4L2098.1 1333.1L3049.5 1333.1"/><path d="M249.5 1864.5L1060.5 1864.5L1064.9 1791.9L1714.0 1791.9L1718.4 1732.5L1807.4 1732.5L1811.8 1673.0L1812.2 1673.0L1816.6 1594.9L1822.4 1594.9L1826.8 1405.2L1844.1 1405.2L1848.5 1333.6L2097.3 1333.6L2101.7 1330.4L3049.5 1330.4"/><path d="M249.5 1864.5L967.1 1864.5L971.5 1792.1L1750.4 1792.1L1754.8 1732.2L1808.5 1732.2L1812.9 1672.6L1812.6 1672.6L1817.0 1594.8L1815.3 1594.8L1819.7 1403.2L1838.0 1403.2L1842.4 1332.4L2066.8 1332.4L2071.2 1329.2L3049.5 1329.2"/><path d="M249.5 1864.5L854.3 1864.5L858.7 1795.9L1731.3 1795.9L1735.7 1735.8L1798.8 1735.8L1803.2 1675.9L1810.8 1675.9L1815.2 1484.5L1820.0 1484.5L1824.4 1405.3L1843.2 1405.3L1847.6 1333.5L2016.5 1333.5L2020.9 1330.2L3049.5 1330.2"/><path d="M249.5 1864.5L1057.7 1864.5L1062.1 1794.9L1728.8 1794.9L1733.2 1735.9L1801.7 1735.9L1806.1 1676.3L1802.2 1676.3L1806.6 1598.5L1819.0 1598.5L1823.4 1407.5L1844.5 1407.5L1848.9 1335.2L2081.0 1335.2L2085.4 1331.8L3049.5 1331.8"/><path d="M249.5 1864.5L1115.5 1864.5L1119.9 1794.5L1735.0 1794.5L1739.4 1734.5L1800.5 1734.5L1804.9 1675.1L1803.2 1675.1L1807.6 1596.1L1814.0 1596.1L1818.4 1404.6L1832.9 1404.6L1837.3 1332.8L2069.1 1332.8L2073.5 1329.7L3049.5 1329.7"/><path d="M249.5 1864.5L912.6 1864.5L917.0 1798.2L1753.1 1798.2L1757.5 1739.5L1786.8 1739.5L1791.2 1680.0L1807.5 1680.0L1811.9 1489.7L1813.2 1489.7L1817.6 1410.7L1846.9 1410.7L1851.3 1339.1L1997.4 1339.1L2001.8 1336.0L3049.5 1336.0"/><path d="M249.5 1864.5L960.3 1864.5L964.7 1793.8L1764.9 1793.8L1769.3 1735.2L1798.7 1735.2L1803.1 1675.5L1808.6 1675.5L1813.0 1484.8L1809.2 1484.8L1813.6 1406.4L1830.3 1406.4L1834.7 1334.8L2063.3 1334.8L2067.7 1331.8L3049.5 1331.8"/><path d="M249.5 1864.5L984.9 1864.5L989.3 1792.2L1749.2 1792.2L1753.6 1733.2L1776.1 1733.2L1780.5 1673.0L1812.4 1673.0L1816.8 1594.4L1818.2 1594.4L1822.6 1402.9L1852.1 1402.9L1856.5 1331.5L1980.0 1331.5L1984.4 1328.3L3049.5 1328.3"/><path d="M249.5 1864.5L1020.1 1864.5L1024.5 1793.9L1746.7 1793.9L1751.1 1735.3L1780.4 1735.3L1784.8 1675.2L1793.7 1675.2L1798.1 1484.8L1808.3 1484.8L1812.7 1404.9L1846.3 1404.9L1850.7 1333.3L2044.8 1333.3L2049.2 1330.2L3049.5 1330.2"/><path d="M249.5 1864.5L1044.8 1864.5L1049.2 1789.9L1745.9 1789.9L1750.3 1731.3L1786.4 1731.3L1790.8 1671.4L1802.8 1671.4L1807.2 1592.9L1832.3 1592.9L1836.7 1400.9L1845.1 1400.9L1849.5 1328.6L2074.6 1328.6L2079.0 1325.3L3049.5 1325.3"/><path d="M249.5 1864.5L949.3 1864.5L953.7 1790.0L1740.7 1790.0L1745.1 1731.0L1782.4 1731.0L1786.8 1671.3L1809.1 1671.3L1813.5 1592.5L1827.0 1592.5L1831.4 1402.4L1832.5 1402.4L1836.9 1331.0L2022.1 1331.0L2026.5 1327.9L3049.5 1327.9"/><path d="M249.5 1864.5L1009.1 1864.5L1013.5 1789.9L1738.1 1789.9L1742.5 1730.5L1807.0 1730.5L1811.4 1653.0L1807.2 1653.0L1811.6 1462.8L1818.3 1462.8L1822.7 1402.8L1826.6 1402.8L1831.0 1331.2L2092.2 1331.2L2096.6 1328.0L3049.5 1328.0"/><path d="M249.5 1864.5L920.8 1864.5L925.2 1794.7L1747.7 1794.7L1752.1 1736.0L1793.2 1736.0L1797.6 1658.6L1803.2 1658.6L1807.6 1598.4L1806.0 1598.4L1810.4 1408.8L1818.0 1408.8L1822.4 1337.8L2075.9 1337.8L2080.3 1334.6L3049.5 1334.6"/><path d="M249.5 1864.5L940.0 1864.5L944.4 1789.5L1700.8 1789.5L1705.2 1730.3L1792.7 1730.3L1797.1 1671.3L1818.6 1671.3L1823.0 1593.0L1819.4 1593.0L1823.8 1402.4L1842.4 1402.4L1846.8 1331.3L2118.9 1331.3L2123.3 1328.2L3049.5 1328.2"/><path d="M249.5 1864.5L1027.3 1864.5L1031.7 1794.2L1728.9 1794.2L1733.3 1735.1L1783.9 1735.1L1788.3 1675.8L1800.9 1675.8L1805.3 1485.0L1810.9 1485.0L1815.3 1407.0L1844.1 1407.0L1848.5 1336.0L2064.9 1336.0L2069.3 1332.8L3049.5 1332.8"/><path d="M249.5 1864.5L1045.0 1864.5L1049.4 1791.8L1717.3 1791.8L1721.7 1732.4L1788.4 1732.4L1792.8 1672.0L1805.2 1672.0L1809.6 1593.4L1815.5 1593.4L1819.9 1403.0L1848.8 1403.0L1853.2 1331.4L2088.4 1331.4L2092.8 1328.1L3049.5 1328.1"/><path d="M249.5 1864.5L1053.9 1864.5L1058.3 1795.2L1729.9 1795.2L1734.3 1736.8L1798.7 1736.8L1803.1 1677.4L1809.8 1677.4L1814.2 1486.0L1812.7 1486.0L1817.1 1407.8L1843.9 1407.8L1848.3 1336.1L2086.3 1336.1L2090.7 1332.9L3049.5 1332.9"/><path d="M249.5 1864.5L1034.5 1864.5L1038.9 1794.6L1737.9 1794.6L1742.3 1734.8L1790.5 1734.8L1794.9 1675.4L1807.3 1675.4L1811.7 1596.8L1832.6 1596.8L1837.0 1405.1L1844.2 1405.1L1848.6 1333.7L2144.8 1333.7L2149.2 1330.7L3049.5 1330.7"/><path d="M249.5 1864.5L873.1 1864.5L877.5 1793.1L1688.7 1793.1L1693.1 1733.1L1784.7 1733.1L1789.1 1673.5L1813.1 1673.5L1817.5 1481.7L1813.2 1481.7L1817.6 1404.3L1822.3 1404.3L1826.7 1333.2L2122.1 1333.2L2126.5 1330.1L3049.5 1330.1"/><path d="M249.5 1864.5L857.1 1864.5L861.5 1792.8L1754.3 1792.8L1758.7 1734.7L1789.6 1734.7L1794.0 1674.8L1797.8 1674.8L1802.2 1596.5L1806.9 1596.5L1811.3 1405.9L1846.4 1405.9L1850.8 1334.1L1957.8 1334.1L1962.2 1330.9L3049.5 1330.9"/><path d="M249.5 1864.5L1007.2 1864.5L1011.6 1789.8L1679.8 1789.8L1684.2 1731.3L1789.1 1731.3L1793.5 1671.3L1798.4 1671.3L1802.8 1592.8L1806.4 1592.8L1810.8 1401.8L1848.1 1401.8L1852.5 1329.1L2109.5 1329.1L2113.9 1325.9L3049.5 1325.9"/><path d="M249.5 1864.5L978.5 1864.5L982.9 1795.6L1708.9 1795.6L1713.3 1736.3L1803.8 1736.3L1808.2 1676.7L1805.6 1676.7L1810.0 1598.1L1826.3 1598.1L1830.7 1406.9L1850.2 1406.9L1854.6 1335.8L2075.2 1335.8L2079.6 1332.7L3049.5 1332.7"/><path d="M249.5 1864.5L953.1 1864.5L957.5 1795.9L1727.7 1795.9L1732.1 1736.3L1792.8 1736.3L1797.2 1676.8L1814.3 1676.8L1818.7 1597.2L1816.9 1597.2L1821.3 1406.2L1856.0 1406.2L1860.4 1335.1L2093.0 1335.1L2097.4 1331.8L3049.5 1331.8"/><path d="M249.5 1864.5L918.3 1864.5L922.7 1798.2L1726.7 1798.2L1731.1 1738.8L1806.3 1738.8L1810.7 1658.9L1814.2 1658.9L1818.6 1467.2L1820.5 1467.2L1824.9 1407.9L1844.5 1407.9L1848.9 1336.6L2055.0 1336.6L2059.4 1333.6L3049.5 1333.6"/><path d="M249.5 1864.5L1006.5 1864.5L1010.9 1798.2L1752.3 1798.2L1756.7 1739.5L1802.1 1739.5L1806.5 1679.0L1819.6 1679.0L1824.0 1600.2L1827.8 1600.2L1832.2 1409.7L1831.4 1409.7L1835.8 1338.2L2093.2 1338.2L2097.6 1335.2L3049.5 1335.2"/><path d="M249.5 1864.5L981.7 1864.5L986.1 1793.8L1750.8 1793.8L1755.2 1735.2L1786.8 1735.2L1791.2 1675.2L1819.4 1675.2L1823.8 1484.7L1822.6 1484.7L1827.0 1405.5L1830.0 1405.5L1834.4 1334.7L2119.3 1334.7L2123.7 1331.6L3049.5 1331.6"/><path d="M249.5 1864.5L1002.5 1864.5L1006.9 1792.8L1746.9 1792.8L1751.3 1733.6L1797.7 1733.6L1802.1 1673.9L1807.1 1673.9L1811.5 1482.8L1824.7 1482.8L1829.1 1403.1L1852.0 1403.1L1856.4 1331.6L2082.1 1331.6L2086.5 1328.4L3049.5 1328.4"/><path d="M249.5 1864.5L862.5 1864.5L866.9 1792.5L1722.2 1792.5L1726.6 1733.4L1794.1 1733.4L1798.5 1673.9L1798.6 1673.9L1803.0 1594.8L1802.6 1594.8L1807.0 1404.7L1844.6 1404.7L1849.0 1333.8L2039.0 1333.8L2043.4 1330.7L3049.5 1330.7"/><path d="M249.5 1864.5L900.1 1864.5L904.5 1793.6L1730.7 1793.6L1735.1 1734.3L1797.5 1734.3L1801.9 1674.3L1810.1 1674.3L1814.5 1595.8L1817.7 1595.8L1822.1 1403.8L1849.6 1403.8L1854.0 1333.2L2065.7 1333.2L2070.1 1329.9L3049.5 1329.9"/><path d="M249.5 1864.5L1084.9 1864.5L1089.3 1793.1L1739.0 1793.1L1743.4 1733.3L1787.8 1733.3L1792.2 1541.8L1798.6 1541.8L1803.0 1482.4L1821.5 1482.4L1825.9 1403.7L1840.4 1403.7L1844.8 1332.3L2103.8 1332.3L2108.2 1329.4L3049.5 1329.4"/><path d="M249.5 1864.5L950.0 1864.5L954.4 1792.4L1706.6 1792.4L1711.0 1732.9L1797.4 1732.9L1801.8 1654.8L1814.2 1654.8L1818.6 1464.3L1826.2 1464.3L1830.6 1404.9L1854.3 1404.9L1858.7 1333.7L2097.3 1333.7L2101.7 1330.4L3049.5 1330.4"/><path d="M249.5 1864.5L824.2 1864.5L828.6 1792.7L1700.5 1792.7L1704.9 1734.1L1789.4 1734.1L1793.8 1674.8L1804.2 1674.8L1808.6 1484.1L1817.7 1484.1L1822.1 1406.0L1850.7 1406.0L1855.1 1332.9L2078.6 1332.9L2083.0 1329.6L3049.5 1329.6"/><path d="M249.5 1864.5L1017.1 1864.5L1021.5 1794.3L1747.0 1794.3L1751.4 1735.0L1794.7 1735.0L1799.1 1675.9L1810.2 1675.9L1814.6 1596.5L1819.4 1596.5L1823.8 1406.1L1834.7 1406.1L1839.1 1335.0L2047.9 1335.0L2052.3 1331.7L3049.5 1331.7"/><path d="M249.5 1864.5L978.6 1864.5L983.0 1790.5L1732.1 1790.5L1736.5 1730.8L1804.5 1730.8L1808.9 1670.5L1805.9 1670.5L1810.3 1480.1L1816.3 1480.1L1820.7 1402.0L1840.2 1402.0L1844.6 1331.1L1992.8 1331.1L1997.2 1327.8L3049.5 1327.8"/><path d="M249.5 1864.5L989.6 1864.5L994.0 1791.0L1722.7 1791.0L1727.1 1731.6L1793.7 1731.6L1798.1 1652.4L1806.9 1652.4L1811.3 1461.6L1818.0 1461.6L1822.4 1402.4L1852.9 1402.4L1857.3 1330.6L2104.0 1330.6L2108.4 1327.3L3049.5 1327.3"/><path d="M249.5 1864.5L846.3 1864.5L850.7 1792.8L1725.4 1792.8L1729.8 1733.7L1782.2 1733.7L1786.6 1674.0L1800.8 1674.0L1805.2 1483.8L1815.7 1483.8L1820.1 1405.1L1857.8 1405.1L1862.2 1333.4L2098.7 1333.4L2103.1 1330.1L3049.5 1330.1"/><path d="M249.5 1864.5L897.8 1864.5L902.2 1798.0L1744.1 1798.0L1748.5 1738.1L1808.5 1738.1L1812.9 1678.8L1808.8 1678.8L1813.2 1599.5L1820.0 1599.5L1824.4 1528.3L1828.4 1528.3L1832.8 1337.7L2035.1 1337.7L2039.5 1334.5L3049.5 1334.5"/><path d="M249.5 1864.5L926.0 1864.5L930.4 1794.6L1683.3 1794.6L1687.7 1734.9L1792.4 1734.9L1796.8 1675.4L1808.1 1675.4L1812.5 1598.0L1825.1 1598.0L1829.5 1408.8L1848.6 1408.8L1853.0 1337.8L1977.8 1337.8L1982.2 1334.5L3049.5 1334.5"/><path d="M249.5 1864.5L1124.6 1864.5L1129.0 1798.2L1737.9 1798.2L1742.3 1739.1L1797.0 1739.1L1801.4 1661.1L1807.6 1661.1L1812.0 1601.2L1816.4 1601.2L1820.8 1409.1L1861.8 1409.1L1866.2 1338.0L1998.4 1338.0L2002.8 1334.9L3049.5 1334.9"/><path d="M249.5 1864.5L1040.6 1864.5L1045.0 1792.4L1745.5 1792.4L1749.9 1733.1L1807.0 1733.1L1811.4 1654.4L1822.4 1654.4L1826.8 1462.7L1823.1 1462.7L1827.5 1403.2L1831.8 1403.2L1836.2 1330.9L1992.6 1330.9L1997.0 1327.7L3049.5 1327.7"/><path d="M249.5 1864.5L995.1 1864.5L999.5 1792.4L1722.0 1792.4L1726.4 1733.4L1804.9 1733.4L1809.3 1655.3L1806.1 1655.3L1810.5 1463.9L1814.4 1463.9L1818.8 1404.7L1834.1 1404.7L1838.5 1334.0L2041.8 1334.0L2046.2 1330.8L3049.5 1330.8"/><path d="M249.5 1864.5L1068.8 1864.5L1073.2 1797.3L1722.9 1797.3L1727.3 1737.5L1783.7 1737.5L1788.1 1678.0L1802.3 1678.0L1806.7 1488.3L1806.7 1488.3L1811.1 1410.8L1850.2 1410.8L1854.6 1339.5L2094.6 1339.5L2099.0 1336.3L3049.5 1336.3"/><path d="M249.5 1864.5L966.3 1864.5L970.7 1794.2L1726.9 1794.2L1731.3 1734.5L1794.6 1734.5L1799.0 1655.5L1797.4 1655.5L1801.8 1595.8L1826.1 1595.8L1830.5 1405.4L1849.3 1405.4L1853.7 1333.0L2072.9 1333.0L2077.3 1329.8L3049.5 1329.8"/><path d="M249.5 1864.5L1041.8 1864.5L1046.2 1795.5L1703.8 1795.5L1708.2 1737.1L1784.1 1737.1L1788.5 1659.1L1795.5 1659.1L1799.9 1599.4L1812.9 1599.4L1817.3 1408.5L1836.3 1408.5L1840.7 1337.8L2109.7 1337.8L2114.1 1334.6L3049.5 1334.6"/><path d="M249.5 1864.5L1008.7 1864.5L1013.1 1798.2L1749.6 1798.2L1754.0 1739.2L1777.7 1739.2L1782.1 1679.2L1816.0 1679.2L1820.4 1600.6L1824.1 1600.6L1828.5 1409.8L1833.7 1409.8L1838.1 1337.6L2040.1 1337.6L2044.5 1334.5L3049.5 1334.5"/><path d="M249.5 1864.5L952.2 1864.5L956.6 1792.1L1718.6 1792.1L1723.0 1732.7L1793.6 1732.7L1798.0 1673.3L1799.4 1673.3L1803.8 1595.6L1804.7 1595.6L1809.1 1404.3L1849.9 1404.3L1854.3 1332.6L2034.7 1332.6L2039.1 1329.4L3049.5 1329.4"/><path d="M249.5 1864.5L960.8 1864.5L965.2 1791.6L1722.8 1791.6L1727.2 1732.0L1794.3 1732.0L1798.7 1653.6L1814.5 1653.6L1818.9 1593.7L1818.5 1593.7L1822.9 1402.9L1837.0 1402.9L1841.4 1331.2L2081.6 1331.2L2086.0 1328.0L3049.5 1328.0"/><path d="M249.5 1864.5L955.0 1864.5L959.4 1794.0L1744.8 1794.0L1749.2 1734.6L1781.4 1734.6L1785.8 1674.8L1816.1 1674.8L1820.5 1596.3L1819.5 1596.3L1823.9 1405.4L1840.7 1405.4L1845.1 1332.8L2037.1 1332.8L2041.5 1329.8L3049.5 1329.8"/><path d="M249.5 1864.5L1019.7 1864.5L1024.1 1792.9L1751.5 1792.9L1755.9 1734.1L1792.4 1734.1L1796.8 1674.3L1816.8 1674.3L1821.2 1596.3L1821.7 1596.3L1826.1 1405.5L1834.4 1405.5L1838.8 1334.6L2078.8 1334.6L2083.2 1331.5L3049.5 1331.5"/><path d="M249.5 1864.5L1027.0 1864.5L1031.4 1795.1L1747.5 1795.1L1751.9 1735.9L1793.1 1735.9L1797.5 1676.5L1794.7 1676.5L1799.1 1598.8L1808.5 1598.8L1812.9 1408.1L1853.5 1408.1L1857.9 1335.2L2037.7 1335.2L2042.1 1332.0L3049.5 1332.0"/><path d="M249.5 1864.5L1016.0 1864.5L1020.4 1792.7L1751.1 1792.7L1755.5 1733.4L1789.0 1733.4L1793.4 1674.4L1808.7 1674.4L1813.1 1595.9L1820.7 1595.9L1825.1 1405.3L1852.6 1405.3L1857.0 1333.9L2071.3 1333.9L2075.7 1330.6L3049.5 1330.6"/><path d="M249.5 1864.5L1004.7 1864.5L1009.1 1789.7L1746.0 1789.7L1750.4 1730.4L1795.9 1730.4L1800.3 1670.9L1810.7 1670.9L1815.1 1480.4L1821.9 1480.4L1826.3 1401.4L1832.4 1401.4L1836.8 1330.3L2083.3 1330.3L2087.7 1327.4L3049.5 1327.4"/><path d="M249.5 1864.5L988.9 1864.5L993.3 1790.9L1708.7 1790.9L1713.1 1731.9L1796.6 1731.9L1801.0 1672.5L1801.8 1672.5L1806.2 1593.2L1818.0 1593.2L1822.4 1401.6L1829.3 1401.6L1833.7 1329.9L2132.1 1329.9L2136.5 1326.7L3049.5 1326.7"/><path d="M249.5 1864.5L909.6 1864.5L914.0 1794.0L1750.8 1794.0L1755.2 1734.8L1803.3 1734.8L1807.7 1656.9L1811.9 1656.9L1816.3 1596.6L1816.2 1596.6L1820.6 1406.1L1839.3 1406.1L1843.7 1335.1L2104.4 1335.1L2108.8 1331.8L3049.5 1331.8"/><path d="M249.5 1864.5L854.9 1864.5L859.3 1788.7L1692.4 1788.7L1696.8 1729.5L1803.2 1729.5L1807.6 1670.1L1808.6 1670.1L1813.0 1591.0L1824.2 1591.0L1828.6 1400.6L1844.4 1400.6L1848.8 1328.8L2092.0 1328.8L2096.4 1325.9L3049.5 1325.9"/><path d="M249.5 1864.5L1015.0 1864.5L1019.4 1792.4L1763.9 1792.4L1768.3 1732.9L1785.6 1732.9L1790.0 1673.9L1810.5 1673.9L1814.9 1595.5L1810.8 1595.5L1815.2 1404.9L1852.8 1404.9L1857.2 1333.3L2066.8 1333.3L2071.2 1330.0L3049.5 1330.0"/><path d="M249.5 1864.5L983.5 1864.5L987.9 1793.6L1731.7 1793.6L1736.1 1733.9L1805.2 1733.9L1809.6 1655.5L1817.8 1655.5L1822.2 1464.5L1819.6 1464.5L1824.0 1405.2L1846.1 1405.2L1850.5 1335.0L2090.7 1335.0L2095.1 1331.7L3049.5 1331.7"/><path d="M249.5 1864.5L935.5 1864.5L939.9 1790.1L1718.0 1790.1L1722.4 1731.4L1813.4 1731.4L1817.8 1671.4L1814.7 1671.4L1819.1 1479.6L1814.7 1479.6L1819.1 1401.0L1829.6 1401.0L1834.0 1329.1L2087.5 1329.1L2091.9 1325.9L3049.5 1325.9"/><path d="M249.5 1864.5L896.9 1864.5L901.3 1793.9L1758.6 1793.9L1763.0 1734.6L1790.5 1734.6L1794.9 1675.0L1813.8 1675.0L1818.2 1483.9L1819.4 1483.9L1823.8 1403.5L1828.7 1403.5L1833.1 1332.3L2138.3 1332.3L2142.7 1329.2L3049.5 1329.2"/><path d="M249.5 1864.5L1061.4 1864.5L1065.8 1791.4L1748.8 1791.4L1753.2 1732.2L1806.5 1732.2L1810.9 1672.1L1810.7 1672.1L1815.1 1593.5L1813.6 1593.5L1818.0 1402.6L1849.6 1402.6L1854.0 1331.2L2066.3 1331.2L2070.7 1328.1L3049.5 1328.1"/><path d="M249.5 1864.5L1043.4 1864.5L1047.8 1793.2L1719.5 1793.2L1723.9 1733.2L1800.7 1733.2L1805.1 1654.9L1807.8 1654.9L1812.2 1594.8L1813.4 1594.8L1817.8 1404.7L1843.2 1404.7L1847.6 1333.7L2063.5 1333.7L2067.9 1330.4L3049.5 1330.4"/><path d="M249.5 1864.5L1038.7 1864.5L1043.1 1796.8L1743.8 1796.8L1748.2 1736.9L1801.0 1736.9L1805.4 1546.4L1812.4 1546.4L1816.8 1467.9L1819.2 1467.9L1823.6 1408.2L1828.3 1408.2L1832.7 1336.9L2074.7 1336.9L2079.1 1333.7L3049.5 1333.7"/><path d="M249.5 1864.5L1009.7 1864.5L1014.1 1794.4L1703.4 1794.4L1707.8 1735.2L1789.4 1735.2L1793.8 1676.0L1798.1 1676.0L1802.5 1597.3L1809.8 1597.3L1814.2 1407.9L1846.5 1407.9L1850.9 1337.1L2030.9 1337.1L2035.3 1333.9L3049.5 1333.9"/><path d="M249.5 1864.5L884.8 1864.5L889.2 1792.4L1730.4 1792.4L1734.8 1732.8L1791.7 1732.8L1796.1 1673.7L1807.1 1673.7L1811.5 1483.1L1819.8 1483.1L1824.2 1404.5L1834.6 1404.5L1839.0 1332.8L2041.3 1332.8L2045.7 1329.6L3049.5 1329.6"/><path d="M249.5 1864.5L910.9 1864.5L915.3 1792.1L1741.1 1792.1L1745.5 1732.0L1805.7 1732.0L1810.1 1673.5L1813.8 1673.5L1818.2 1595.6L1825.8 1595.6L1830.2 1403.0L1844.6 1403.0L1849.0 1332.6L2062.9 1332.6L2067.3 1329.4L3049.5 1329.4"/><path d="M249.5 1864.5L932.2 1864.5L936.6 1793.9L1725.6 1793.9L1730.0 1734.7L1801.2 1734.7L1805.6 1544.0L1804.2 1544.0L1808.6 1485.2L1811.2 1485.2L1815.6 1407.9L1858.9 1407.9L1863.3 1336.7L2068.1 1336.7L2072.5 1333.4L3049.5 1333.4"/><path d="M249.5 1864.5L1039.5 1864.5L1043.9 1793.9L1761.2 1793.9L1765.6 1734.8L1803.9 1734.8L1808.3 1674.8L1809.7 1674.8L1814.1 1596.7L1815.2 1596.7L1819.6 1406.2L1841.1 1406.2L1845.5 1334.2L2088.4 1334.2L2092.8 1330.9L3049.5 1330.9"/><path d="M249.5 1864.5L946.8 1864.5L951.2 1798.2L1734.8 1798.2L1739.2 1739.3L1803.9 1739.3L1808.3 1660.6L1806.7 1660.6L1811.1 1600.7L1812.7 1600.7L1817.1 1409.6L1846.8 1409.6L1851.2 1338.1L2067.0 1338.1L2071.4 1334.7L3049.5 1334.7"/><path d="M249.5 1864.5L1019.4 1864.5L1023.8 1790.8L1696.7 1790.8L1701.1 1731.7L1799.5 1731.7L1803.9 1672.8L1802.1 1672.8L1806.5 1482.2L1804.1 1482.2L1808.5 1404.1L1827.2 1404.1L1831.6 1332.3L2067.8 1332.3L2072.2 1329.0L3049.5 1329.0"/><path d="M249.5 1864.5L942.0 1864.5L946.4 1793.5L1728.2 1793.5L1732.6 1734.6L1799.4 1734.6L1803.8 1674.8L1809.2 1674.8L1813.6 1483.8L1833.2 1483.8L1837.6 1412.6L1833.4 1412.6L1837.8 1333.2L2066.3 1333.2L2070.7 1330.0L3049.5 1330.0"/><path d="M249.5 1864.5L989.4 1864.5L993.8 1791.8L1772.5 1791.8L1776.9 1733.0L1798.9 1733.0L1803.3 1543.2L1816.6 1543.2L1821.0 1483.9L1827.3 1483.9L1831.7 1404.3L1843.5 1404.3L1847.9 1333.2L2082.4 1333.2L2086.8 1329.9L3049.5 1329.9"/><path d="M249.5 1864.5L913.9 1864.5L918.3 1796.3L1746.3 1796.3L1750.7 1736.3L1803.9 1736.3L1808.3 1676.0L1807.0 1676.0L1811.4 1486.2L1812.3 1486.2L1816.7 1408.5L1844.8 1408.5L1849.2 1337.9L2111.9 1337.9L2116.3 1334.8L3049.5 1334.8"/><path d="M249.5 1864.5L995.3 1864.5L999.7 1794.7L1750.3 1794.7L1754.7 1735.4L1793.0 1735.4L1797.4 1676.1L1801.3 1676.1L1805.7 1485.0L1814.0 1485.0L1818.4 1406.6L1822.5 1406.6L1826.9 1334.4L2030.0 1334.4L2034.4 1331.2L3049.5 1331.2"/><path d="M249.5 1864.5L923.9 1864.5L928.3 1794.3L1718.6 1794.3L1723.0 1734.4L1808.9 1734.4L1813.3 1675.0L1809.4 1675.0L1813.8 1594.9L1813.4 1594.9L1817.8 1404.0L1832.4 1404.0L1836.8 1333.3L2046.3 1333.3L2050.7 1330.2L3049.5 1330.2"/><path d="M249.5 1864.5L944.0 1864.5L948.4 1789.8L1728.3 1789.8L1732.7 1730.4L1796.3 1730.4L1800.7 1670.9L1798.1 1670.9L1802.5 1479.2L1812.8 1479.2L1817.2 1400.6L1851.4 1400.6L1855.8 1328.2L2091.9 1328.2L2096.3 1324.8L3049.5 1324.8"/><path d="M249.5 1864.5L909.0 1864.5L913.4 1792.4L1729.3 1792.4L1733.7 1732.9L1788.9 1732.9L1793.3 1673.3L1812.2 1673.3L1816.6 1594.8L1818.2 1594.8L1822.6 1402.7L1824.6 1402.7L1829.0 1330.8L1973.5 1330.8L1977.9 1327.4L3049.5 1327.4"/></g>
<path d="M254.5 1864.5 L988.0 1864.5 L992.0 1793.4 L1731.9 1793.4 L1736.2 1734.2 L1796.8 1734.2 L1801.6 1674.6 L1808.7 1674.6 L1813.5 1596.0 L1818.5 1405.1 L1842.2 1405.1 L1846.9 1333.6 L2063.3 1333.6 L2068.0 1330.4 L3050.0 1330.4" fill="none" stroke="#f00" stroke-width="20.83" stroke-linejoin="round"/>
<path d="M1762.8 1544.6h0M1762.8 1564.7h0M1762.8 1762.0h0M1762.8 1823.0h0M1724.1 1564.7h0M1724.1 1836.6h0M1782.2 1619.4h0M1782.2 1633.2h0M1782.2 1796.0h0M1704.7 1646.8h0M1704.7 1654.0h0M1859.7 1578.7h0M1859.7 1585.6h0M1859.7 1605.7h0M1840.3 1605.7h0M1840.3 1694.4h0M1840.3 1775.4h0M1840.3 1796.0h0M1898.5 1612.7h0M1898.5 1653.3h0M1898.5 1660.2h0M1937.2 1585.6h0M1937.2 1612.7h0M1937.2 1633.2h0M1937.2 1639.9h0M1937.2 1809.6h0M1976.0 1633.2h0M1976.0 1796.0h0M1995.3 1598.8h0M1995.3 1605.7h0M1995.3 1612.7h0M2014.7 1598.8h0M2014.7 1639.9h0M2014.7 1687.5h0M2034.1 1633.2h0M2034.1 1639.9h0M2034.1 1687.5h0M2034.1 1538.1h0M2034.1 1571.8h0M2053.5 1639.9h0M2053.5 1666.9h0M2092.2 1626.3h0M2092.2 1666.9h0M2092.2 1544.6h0M2092.2 1789.1h0M2072.8 1538.1h0M2072.8 1571.8h0M2111.6 1544.6h0M1743.5 1734.8h0M1685.3 1775.4h0M1685.3 1809.6h0M1685.3 1816.5h0M1685.3 1850.5h0M1666.0 1809.6h0M1666.0 1823.0h0M1821.0 1803.1h0M1801.6 1809.6h0M1801.6 1836.6h0M2131.0 1578.7h0M2131.0 1619.4h0M2131.0 1680.3h0M2131.0 1775.4h0M2150.3 1571.8h0M2150.3 1598.8h0M2169.7 1529.0h0M2169.7 1564.7h0M2169.7 1571.8h0M2169.7 1605.7h0M2169.7 1646.8h0M2189.1 1551.3h0M2189.1 1585.6h0M2189.1 1639.9h0M2189.1 1653.3h0M2189.1 1721.4h0M2208.5 1571.8h0M2208.5 1598.8h0M2208.5 1626.3h0M2208.5 1803.1h0M2227.8 1558.2h0M2227.8 1571.8h0M2227.8 1680.3h0M2247.2 1529.0h0M2247.2 1571.8h0M2247.2 1578.7h0M2247.2 1585.6h0M2247.2 1598.8h0M2247.2 1646.8h0M2266.6 1537.6h0M2266.6 1544.6h0M2266.6 1551.3h0M2266.6 1578.7h0M2266.6 1592.1h0M2266.6 1680.3h0M2266.6 1687.5h0M2286.0 1592.1h0M2286.0 1633.2h0M2286.0 1653.3h0M2286.0 1707.8h0M2305.3 1571.8h0M2305.3 1585.6h0M2305.3 1605.7h0M2305.3 1626.3h0M2324.7 1578.7h0M2324.7 1598.8h0M2324.7 1660.2h0M2324.7 1680.3h0M2344.1 1578.7h0M2344.1 1592.1h0M2344.1 1598.8h0M2344.1 1605.7h0M2344.1 1612.7h0M2382.8 1529.0h0M2382.8 1571.8h0M2382.8 1612.7h0M2382.8 1626.3h0M2382.8 1666.9h0M2402.2 1585.6h0M2402.2 1598.8h0M2402.2 1605.7h0M2402.2 1612.7h0M2402.2 1626.3h0M2402.2 1633.2h0M2402.2 1653.3h0M2402.2 1666.9h0M2402.2 1680.3h0M2421.6 1605.7h0M2421.6 1612.7h0M2421.6 1700.9h0M2441.0 1585.6h0M2441.0 1598.8h0M2460.3 1571.8h0M2460.3 1592.1h0M2460.3 1646.8h0M2460.3 1653.3h0M2460.3 1673.8h0M2479.7 1537.6h0M2479.7 1551.3h0M2479.7 1585.6h0M2479.7 1605.7h0M2479.7 1639.9h0M2479.7 1660.2h0M2479.7 1673.8h0M2479.7 1694.4h0M2499.1 1558.2h0M2499.1 1564.7h0M2499.1 1578.7h0M2499.1 1633.2h0M2499.1 1653.3h0M2518.5 1578.7h0M2518.5 1592.1h0M2518.5 1605.7h0M2518.5 1619.4h0M2518.5 1626.3h0M2518.5 1633.2h0M2518.5 1639.9h0M2518.5 1660.2h0M2518.5 1666.9h0M2518.5 1734.8h0M2537.8 1571.8h0M2537.8 1612.7h0M2537.8 1666.9h0M2557.2 1529.0h0M2557.2 1537.6h0M2557.2 1544.6h0M2557.2 1578.7h0M2557.2 1605.7h0M2557.2 1612.7h0M2557.2 1639.9h0M2557.2 1660.2h0M2557.2 1673.8h0M2576.6 1537.6h0M2576.6 1544.6h0M2576.6 1551.3h0M2576.6 1564.7h0M2576.6 1578.7h0M2576.6 1598.8h0M2576.6 1612.7h0M2576.6 1619.4h0M2576.6 1626.3h0M2576.6 1633.2h0M2576.6 1639.9h0M2576.6 1646.8h0M2576.6 1680.3h0M2576.6 1687.5h0M2576.6 1707.8h0M2576.6 1727.9h0M2596.0 1388.5h0M2596.0 1483.6h0M2596.0 1503.9h0M2615.3 1313.7h0M2615.3 1361.2h0M2615.3 1401.9h0M2615.3 1490.5h0M2615.3 1524.0h0M2634.7 1368.1h0M2634.7 1463.2h0M2654.1 1340.9h0M2654.1 1361.2h0M2654.1 1401.9h0M2654.1 1442.9h0M2673.5 1442.9h0M2673.5 1517.5h0M2692.8 1422.4h0M2692.8 1429.3h0M2692.8 1524.0h0M2712.2 1218.5h0M2712.2 1334.0h0M2712.2 1463.2h0M2712.2 1490.5h0M2712.2 1529.0h0M2731.6 1415.7h0M2731.6 1422.4h0M2731.6 1463.2h0M2731.6 1476.9h0M2731.6 1483.6h0M2731.6 1503.9h0M2751.0 1313.7h0M2751.0 1442.9h0M2751.0 1449.6h0M2770.3 1422.4h0M2770.3 1510.6h0M2770.3 1517.5h0M2770.3 1524.0h0M2789.7 1334.0h0M2789.7 1503.9h0M2789.7 1510.6h0M2809.1 1529.0h0M2828.5 1442.9h0M2828.5 1503.9h0M2847.8 1245.8h0M2847.8 1388.5h0M2847.8 1429.3h0M2847.8 1524.0h0M2867.2 1286.4h0M2867.2 1340.9h0M2867.2 1381.5h0M2867.2 1388.5h0M2867.2 1490.5h0M2867.2 1517.5h0M2867.2 1529.0h0M2886.6 1232.2h0M2886.6 1374.8h0M2886.6 1422.4h0M2886.6 1449.6h0M2886.6 1463.2h0M2886.6 1470.0h0M2886.6 1490.5h0M2886.6 1517.5h0M2886.6 1524.0h0M2906.0 1408.8h0M2906.0 1422.4h0M2906.0 1429.3h0M2906.0 1449.6h0M2906.0 1490.5h0M2906.0 1517.5h0M2925.3 1252.7h0M2925.3 1313.7h0M2925.3 1395.2h0M2925.3 1470.0h0M2925.3 1476.9h0M2925.3 1524.0h0M2944.7 1327.3h0M2944.7 1456.3h0M2944.7 1490.5h0M2964.1 1388.5h0M2964.1 1429.3h0M2964.1 1436.0h0M2964.1 1449.6h0M2964.1 1456.3h0M2964.1 1483.6h0M2964.1 1503.9h0M2964.1 1524.0h0M2983.5 1408.8h0M2983.5 1422.4h0M2983.5 1456.3h0M2983.5 1483.6h0M2983.5 1490.5h0M2983.5 1517.5h0M3002.8 1340.9h0M3002.8 1429.3h0M3002.8 1442.9h0M3002.8 1476.9h0M3002.8 1483.6h0M3002.8 1490.5h0M3002.8 1497.2h0M3002.8 1517.5h0M3022.2 1306.7h0M3022.2 1429.3h0M3022.2 1476.9h0M3022.2 1524.0h0M3041.6 1442.9h0M3041.6 1483.6h0M3041.6 1490.5h0M2169.7 1286.4h0M2169.7 1490.5h0M2169.7 1497.2h0M2169.7 1524.0h0M2208.5 1490.5h0M2227.8 1456.3h0M2227.8 1463.2h0M2247.2 1483.6h0M2247.2 1524.0h0M2286.0 1456.3h0M2324.7 1436.0h0M2324.7 1449.6h0M2324.7 1483.6h0M2324.7 1517.5h0M2344.1 1252.7h0M2344.1 1401.9h0M2344.1 1449.6h0M2344.1 1476.9h0M2363.5 1388.5h0M2363.5 1422.4h0M2363.5 1442.9h0M2363.5 1503.9h0M2382.8 1510.6h0M2382.8 1524.0h0M2402.2 1259.4h0M2421.6 1368.1h0M2421.6 1429.3h0M2421.6 1442.9h0M2421.6 1449.6h0M2421.6 1490.5h0M2441.0 1456.3h0M2441.0 1483.6h0M2460.3 1401.9h0M2460.3 1470.0h0M2479.7 1354.3h0M2479.7 1401.9h0M2479.7 1442.9h0M2479.7 1476.9h0M2479.7 1483.6h0M2479.7 1490.5h0M2499.1 1340.9h0M2499.1 1490.5h0M2518.5 1442.9h0M2537.8 1497.2h0M2537.8 1510.6h0M2557.2 1381.5h0M2557.2 1401.9h0M2557.2 1476.9h0M2557.2 1497.2h0M2557.2 1524.0h0M2576.6 1483.6h0M2576.6 1524.0h0M1821.0 1190.0h0M1821.0 1388.5h0M1917.8 1259.4h0M1898.5 1279.7h0M2014.7 1266.1h0M2014.7 1449.6h0M2014.7 1463.2h0M2014.7 1517.5h0M1937.2 1306.7h0M1956.6 1354.3h0M1956.6 1490.5h0M1840.3 1361.2h0M1976.0 1422.4h0M1879.1 1463.2h0M1879.1 1517.5h0M1995.3 1463.2h0M2053.5 1470.0h0M1607.8 1429.3h0M1821.0 1185.0h0M2596.0 1537.9h0M2596.0 1558.2h0M2596.0 1598.8h0M2596.0 1619.4h0M2596.0 1639.7h0M2596.0 1653.3h0M2596.0 1666.7h0M2615.3 1531.2h0M2615.3 1544.6h0M2615.3 1598.8h0M2615.3 1612.4h0M2615.3 1639.7h0M2615.3 1646.4h0M2615.3 1680.3h0M2634.7 1551.5h0M2634.7 1558.2h0M2634.7 1571.8h0M2634.7 1585.4h0M2634.7 1592.1h0M2634.7 1605.7h0M2634.7 1646.4h0M2634.7 1673.6h0M2634.7 1680.3h0M2634.7 1721.2h0M2634.7 1768.5h0M2654.1 1551.5h0M2654.1 1565.1h0M2654.1 1578.5h0M2654.1 1605.7h0M2654.1 1626.1h0M2654.1 1632.8h0M2654.1 1639.7h0M2654.1 1673.6h0M2654.1 1680.3h0M2654.1 1714.3h0M2654.1 1741.5h0M2654.1 1836.6h0M2673.5 1558.2h0M2673.5 1565.1h0M2673.5 1612.4h0M2673.5 1619.4h0M2673.5 1632.8h0M2673.5 1639.7h0M2673.5 1646.4h0M2673.5 1680.3h0M2673.5 1727.9h0M2692.8 1529.0h0M2692.8 1571.8h0M2692.8 1592.1h0M2692.8 1612.4h0M2692.8 1653.3h0M2692.8 1673.6h0M2692.8 1680.3h0M2712.2 1531.2h0M2712.2 1585.4h0M2712.2 1592.1h0M2712.2 1598.8h0M2712.2 1605.7h0M2712.2 1619.4h0M2712.2 1626.1h0M2712.2 1653.3h0M2712.2 1666.7h0M2712.2 1673.6h0M2712.2 1707.6h0M2712.2 1741.5h0M2731.6 1551.5h0M2731.6 1571.8h0M2731.6 1578.5h0M2731.6 1592.1h0M2731.6 1619.4h0M2731.6 1632.8h0M2731.6 1653.3h0M2731.6 1666.7h0M2731.6 1680.3h0M2731.6 1727.9h0M2751.0 1544.6h0M2751.0 1592.1h0M2751.0 1598.8h0M2751.0 1612.4h0M2751.0 1646.4h0M2751.0 1653.3h0M2751.0 1673.6h0M2751.0 1700.6h0M2751.0 1707.6h0M2770.3 1529.0h0M2770.3 1551.5h0M2770.3 1578.5h0M2770.3 1605.7h0M2770.3 1632.8h0M2770.3 1653.3h0M2770.3 1673.6h0M2770.3 1700.6h0M2770.3 1727.9h0M2789.7 1585.4h0M2789.7 1592.1h0M2789.7 1598.8h0M2789.7 1605.7h0M2789.7 1612.4h0M2789.7 1619.4h0M2789.7 1639.7h0M2789.7 1673.6h0M2789.7 1755.1h0M2809.1 1531.2h0M2809.1 1571.8h0M2809.1 1578.5h0M2809.1 1585.4h0M2809.1 1598.8h0M2809.1 1612.4h0M2809.1 1619.4h0M2809.1 1632.8h0M2809.1 1666.7h0M2809.1 1680.3h0M2828.5 1544.6h0M2828.5 1578.5h0M2828.5 1585.4h0M2828.5 1592.1h0M2828.5 1619.4h0M2828.5 1626.1h0M2828.5 1632.8h0M2828.5 1646.4h0M2828.5 1660.0h0M2828.5 1666.7h0M2828.5 1673.6h0M2828.5 1680.3h0M2828.5 1687.2h0M2828.5 1693.9h0M2828.5 1707.6h0M2828.5 1802.5h0M2847.8 1531.2h0M2847.8 1551.5h0M2847.8 1578.5h0M2847.8 1585.4h0M2847.8 1592.1h0M2847.8 1619.4h0M2847.8 1626.1h0M2847.8 1632.8h0M2847.8 1653.3h0M2847.8 1680.3h0M2847.8 1856.9h0M2867.2 1531.2h0M2867.2 1544.6h0M2867.2 1565.1h0M2867.2 1571.8h0M2867.2 1578.5h0M2867.2 1619.4h0M2867.2 1626.1h0M2867.2 1639.7h0M2867.2 1646.4h0M2867.2 1653.3h0M2867.2 1680.3h0M2867.2 1693.9h0M2867.2 1707.6h0M2867.2 1714.3h0M2867.2 1802.5h0M2886.6 1531.2h0M2886.6 1537.9h0M2886.6 1544.6h0M2886.6 1551.5h0M2886.6 1558.2h0M2886.6 1565.1h0M2886.6 1571.8h0M2886.6 1619.4h0M2886.6 1626.1h0M2886.6 1646.4h0M2886.6 1653.3h0M2886.6 1673.6h0M2886.6 1680.3h0M2886.6 1721.2h0M2906.0 1537.9h0M2906.0 1551.5h0M2906.0 1558.2h0M2906.0 1565.1h0M2906.0 1578.5h0M2906.0 1585.4h0M2906.0 1592.1h0M2906.0 1612.4h0M2906.0 1626.1h0M2906.0 1632.8h0M2906.0 1646.4h0M2906.0 1660.0h0M2906.0 1680.3h0M2906.0 1693.9h0M2925.3 1531.2h0M2925.3 1537.9h0M2925.3 1551.5h0M2925.3 1558.2h0M2925.3 1578.5h0M2925.3 1592.1h0M2925.3 1598.8h0M2925.3 1612.4h0M2925.3 1619.4h0M2925.3 1632.8h0M2925.3 1639.7h0M2925.3 1653.3h0M2925.3 1673.6h0M2925.3 1734.6h0M2944.7 1565.1h0M2944.7 1571.8h0M2944.7 1585.4h0M2944.7 1598.8h0M2944.7 1605.7h0M2944.7 1612.4h0M2944.7 1632.8h0M2944.7 1646.4h0M2944.7 1653.3h0M2944.7 1666.7h0M2944.7 1680.3h0M2944.7 1707.6h0M2944.7 1734.6h0M2964.1 1531.2h0M2964.1 1537.9h0M2964.1 1544.6h0M2964.1 1558.2h0M2964.1 1565.1h0M2964.1 1605.7h0M2964.1 1612.4h0M2964.1 1632.8h0M2964.1 1639.7h0M2964.1 1646.4h0M2964.1 1673.6h0M2964.1 1687.2h0M2964.1 1693.9h0M2964.1 1721.2h0M2983.5 1565.1h0M2983.5 1605.7h0M2983.5 1612.4h0M2983.5 1632.8h0M2983.5 1660.0h0M2983.5 1687.2h0M2983.5 1700.6h0M2983.5 1707.6h0M2983.5 1755.1h0M3002.8 1537.9h0M3002.8 1565.1h0M3002.8 1598.8h0M3002.8 1605.7h0M3002.8 1626.1h0M3002.8 1632.8h0M3002.8 1666.7h0M3002.8 1673.6h0M3002.8 1714.3h0M3002.8 1727.9h0M3002.8 1863.0h0M3022.2 1529.0h0M3022.2 1537.9h0M3022.2 1558.2h0M3022.2 1598.8h0M3022.2 1619.4h0M3022.2 1626.1h0M3022.2 1632.8h0M3022.2 1653.3h0M3022.2 1666.7h0M3022.2 1687.2h0M3022.2 1693.9h0M3041.6 1537.9h0M3041.6 1565.1h0M3041.6 1578.5h0M3041.6 1592.1h0M3041.6 1598.8h0M3041.6 1632.8h0M3041.6 1653.3h0M3041.6 1700.6h0M3041.6 1727.9h0M1220.3 1660.2h0M1549.7 1538.1h0M1607.8 1599.3h0M1607.8 1816.5h0M1530.3 1653.3h0M1530.3 1816.5h0M1530.3 1829.9h0M1375.3 1673.6h0M1627.2 1680.3h0M1627.2 1823.0h0M1317.2 1707.8h0M1317.2 1816.5h0M1569.1 1700.9h0M1569.1 1823.0h0M1259.1 1734.8h0M1259.1 1809.6h0M1259.1 1816.5h0M1259.1 1836.6h0M1433.5 1748.4h0M1433.5 1789.1h0M1588.5 1755.3h0M1239.7 1775.4h0M1452.8 1789.1h0M1511.0 1789.1h0M1511.0 1816.5h0M1278.5 1809.6h0M1297.8 1823.0h0M1336.6 1836.6h0M1336.6 1843.5h0M1336.6 1850.5h0M1356.0 1850.5h0M1356.0 1863.0h0M1491.6 1809.6h0M1646.6 1829.9h0M1065.3 1619.4h0M1065.3 1727.9h0M1104.1 1782.4h0M1142.8 1802.5h0M1142.8 1810.0h0M1162.2 1823.0h0M1046.0 1836.6h0M1046.0 1863.0h0M774.7 1857.2h0M931.1 1509.8h0M718.6 1850.2h0M254.5 1864.5h0M2346.1 1049.0h0M2346.1 1137.4h0M2869.2 919.2h0M2811.1 1007.6h0M2965.9 1007.6h0M2791.5 1055.8h0M3005.0 1089.8h0M2849.7 1129.9h0M2965.9 1150.3h0" fill="none" stroke="#0f0" stroke-opacity="0.5" stroke-width="11.8" stroke-linecap="round"/>
<path d="M1762.8 1823.0h0M1666.0 1823.0h0M2208.5 1571.8h0M2208.5 1598.8h0M2266.6 1551.3h0M2286.0 1633.2h0M2305.3 1571.8h0M2324.7 1660.2h0M2344.1 1578.7h0M2382.8 1612.7h0M2382.8 1626.3h0M2402.2 1598.8h0M2460.3 1653.3h0M2479.7 1551.3h0M2479.7 1585.6h0M2518.5 1619.4h0M2518.5 1660.2h0M2518.5 1666.9h0M2537.8 1666.9h0M2557.2 1544.6h0M2576.6 1639.9h0M2596.0 1503.9h0M2615.3 1490.5h0M2770.3 1517.5h0M2770.3 1524.0h0M2886.6 1422.4h0M2925.3 1470.0h0M2925.3 1524.0h0M3041.6 1490.5h0M2169.7 1524.0h0M2421.6 1449.6h0M2460.3 1470.0h0M2479.7 1483.6h0M2557.2 1524.0h0M2596.0 1653.3h0M2634.7 1558.2h0M2634.7 1592.1h0M2654.1 1565.1h0M2654.1 1578.5h0M2654.1 1639.7h0M2654.1 1680.3h0M2673.5 1565.1h0M2673.5 1646.4h0M2673.5 1727.9h0M2692.8 1612.4h0M2712.2 1531.2h0M2731.6 1632.8h0M2731.6 1653.3h0M2789.7 1585.4h0M2789.7 1605.7h0M2809.1 1619.4h0M2809.1 1632.8h0M2828.5 1646.4h0M2828.5 1707.6h0M2847.8 1551.5h0M2847.8 1626.1h0M2847.8 1632.8h0M2867.2 1531.2h0M2867.2 1565.1h0M2867.2 1578.5h0M2867.2 1619.4h0M2867.2 1639.7h0M2867.2 1680.3h0M2886.6 1537.9h0M2886.6 1653.3h0M2906.0 1565.1h0M2906.0 1578.5h0M2906.0 1612.4h0M2906.0 1660.0h0M2925.3 1632.8h0M2925.3 1639.7h0M2925.3 1673.6h0M2944.7 1565.1h0M2944.7 1585.4h0M2944.7 1632.8h0M2944.7 1680.3h0M2964.1 1537.9h0M2964.1 1544.6h0M2964.1 1632.8h0M2983.5 1612.4h0M2983.5 1660.0h0M2983.5 1687.2h0M3002.8 1565.1h0M3002.8 1626.1h0M3022.2 1558.2h0M3022.2 1687.2h0M3041.6 1578.5h0M1646.6 1829.9h0M254.5 1864.5h0" fill="none" stroke="#0f0" stroke-opacity="0.5" stroke-width="11.8" stroke-linecap="round"/>
<path d="M254.5 1864.5h0" fill="none" stroke="#0f0" stroke-opacity="0.5" stroke-width="11.8" stroke-linecap="round"/>
</g>
<rect x="254.50" y="505.40" width="2790.00" height="1359.10" fill="none" stroke="#000" stroke-width="3.33"/>
<path d="M254.50 1864.50v14.58M254.50 505.40v-14.58M719.50 1864.50v14.58M719.50 505.40v-14.58M1184.50 1864.50v14.58M1184.50 505.40v-14.58M1649.50 1864.50v14.58M1649.50 505.40v-14.58M2114.50 1864.50v14.58M2114.50 505.40v-14.58M2579.50 1864.50v14.58M2579.50 505.40v-14.58M3044.50 1864.50v14.58M3044.50 505.40v-14.58M254.50 1864.50h-14.58M254.50 1694.61h-14.58M254.50 1524.72h-14.58M254.50 1354.84h-14.58M254.50 1184.95h-14.58M254.50 1015.06h-14.58M254.50 845.18h-14.58M254.50 675.29h-14.58M254.50 505.40h-14.58" stroke="#000" stroke-width="3.33" fill="none"/>
<path d="M251.92 30.10H3046.58M251.92 120.40H3046.58M251.92 210.80H3046.58M251.92 301.10H3046.58M254.00 30.10V301.10M440.03 30.10V301.10M626.07 30.10V301.10M812.10 30.10V301.10M998.13 30.10V301.10M1184.17 30.10V301.10M1370.20 30.10V301.10M1556.23 30.10V301.10M1742.27 30.10V301.10M1928.30 30.10V301.10M2114.33 30.10V301.10M2300.37 30.10V301.10M2486.40 30.10V301.10M2672.43 30.10V301.10M2858.47 30.10V301.10M3044.50 30.10V301.10" stroke="#000" stroke-width="4.17" fill="none"/>
<rect x="2067.2" y="526.0" width="955.7" height="133.6" rx="8.3" ry="8.3" fill="#fff" stroke="#ccc" stroke-width="4.17" opacity="0.8"/>
<path d="M2080.2 559H2169.8" stroke="#00f" stroke-width="6.25"/>
<path d="M2073 620.3H2177.9" stroke="#f00" stroke-width="20.8"/>
<text transform="matrix(1.0492 0 0 1 1487.40 2018.96)" font-size="87.37" font-style="italic">μ</text>
<text transform="matrix(1.1052 0 0 1 1567.65 2017.56)" font-size="85.70">(mag)</text>
<g transform="translate(96.92 1487.88) rotate(-90)">
<text transform="matrix(0.9786 0 0 1 2.00 -5.70)" font-size="78.96">E(</text>
<text transform="matrix(0.9435 0 0 1 84.91 -0.10)" font-size="88.05" font-style="italic">B</text>
<text transform="matrix(1.1200 0 0 1 162.07 5.61)" font-size="95.05">−</text>
<text transform="matrix(0.9669 0 0 1 243.48 -0.10)" font-size="88.05" font-style="italic">V</text>
<text transform="matrix(1.0939 0 0 1 307.38 -0.77)" font-size="85.70">) (mag)</text>
</g>
<text transform="matrix(1.0931 0 0 1 1428.66 417.02)" font-size="68.64">Distance (pc)</text>
<text transform="matrix(0.9716 0 0 1 242.42 1927.11)" font-size="44.67">4</text>
<text transform="matrix(0.9452 0 0 1 707.79 1926.82)" font-size="44.24">5</text>
<text transform="matrix(1.0273 0 0 1 1171.88 1926.82)" font-size="44.39">6</text>
<text transform="matrix(0.9504 0 0 1 1637.61 1927.11)" font-size="44.67">7</text>
<text transform="matrix(0.9986 0 0 1 2102.24 1926.82)" font-size="44.39">8</text>
<text transform="matrix(1.0263 0 0 1 2566.66 1926.82)" font-size="44.39">9</text>
<text transform="matrix(1.0394 0 0 1 3018.89 1926.82)" font-size="44.39">10</text>
<text transform="matrix(1.0512 0 0 1 133.46 1881.15)" font-size="44.39">0.00</text>
<text transform="matrix(1.0463 0 0 1 133.60 1711.26)" font-size="44.39">0.25</text>
<text transform="matrix(1.0512 0 0 1 133.46 1541.37)" font-size="44.39">0.50</text>
<text transform="matrix(1.0463 0 0 1 133.60 1371.49)" font-size="44.39">0.75</text>
<text transform="matrix(1.0517 0 0 1 133.43 1201.60)" font-size="44.39">1.00</text>
<text transform="matrix(1.0466 0 0 1 133.57 1031.71)" font-size="44.39">1.25</text>
<text transform="matrix(1.0517 0 0 1 133.43 861.82)" font-size="44.39">1.50</text>
<text transform="matrix(1.0501 0 0 1 133.57 691.94)" font-size="44.24">1.75</text>
<text transform="matrix(1.0532 0 0 1 133.42 522.05)" font-size="44.39">2.00</text>
<text transform="matrix(1.0330 0 0 1 228.56 467.38)" font-size="44.39">63</text>
<text transform="matrix(1.0491 0 0 1 680.60 467.38)" font-size="44.39">100</text>
<text transform="matrix(1.0547 0 0 1 1145.52 467.38)" font-size="44.39">158</text>
<text transform="matrix(1.0421 0 0 1 1610.55 467.38)" font-size="44.39">251</text>
<text transform="matrix(1.0480 0 0 1 2076.00 467.38)" font-size="44.39">398</text>
<text transform="matrix(1.0530 0 0 1 2540.26 467.38)" font-size="44.39">630</text>
<text transform="matrix(1.0587 0 0 1 2992.32 467.38)" font-size="44.39">1000</text>
<text transform="matrix(1.0760 0 0 1 2200.64 575.06)" font-size="42.90">Samples  w/ average CO values</text>
<text transform="matrix(1.0926 0 0 1 2200.54 635.69)" font-size="42.90">Median profile with average CO values</text>
<text transform="matrix(1.0312 0 0 1 321.40 82.76)" font-size="26.15" font-style="italic">d</text>
<text transform="matrix(1.0881 0 0 1 337.32 86.83)" font-size="18.31" font-style="italic">fore</text>
<text transform="matrix(0.8779 0 0 1 507.10 82.14)" font-size="26.42" font-style="italic">E</text>
<text transform="matrix(1.0881 0 0 1 523.31 86.31)" font-size="18.31" font-style="italic">fore</text>
<text transform="matrix(0.8626 0 0 1 705.40 82.14)" font-size="26.42" font-style="italic">P</text>
<text transform="matrix(1.0185 0 0 1 720.74 86.49)" font-size="18.56" font-style="italic">b</text>
<text transform="matrix(1.0312 0 0 1 891.77 82.76)" font-size="26.15" font-style="italic">d</text>
<text transform="matrix(0.9554 0 0 1 907.81 86.76)" font-size="18.49">1</text>
<text transform="matrix(1.0312 0 0 1 1077.87 82.76)" font-size="26.15" font-style="italic">d</text>
<text transform="matrix(0.9489 0 0 1 1093.80 86.76)" font-size="18.55">2</text>
<text transform="matrix(1.0312 0 0 1 1263.71 82.76)" font-size="26.15" font-style="italic">d</text>
<text transform="matrix(0.9583 0 0 1 1279.86 86.83)" font-size="18.64">3</text>
<text transform="matrix(1.0312 0 0 1 1449.57 82.76)" font-size="26.15" font-style="italic">d</text>
<text transform="matrix(0.9716 0 0 1 1465.59 86.95)" font-size="18.76">4</text>
<text transform="matrix(1.0312 0 0 1 1635.89 82.76)" font-size="26.15" font-style="italic">d</text>
<text transform="matrix(0.9452 0 0 1 1652.07 86.83)" font-size="18.58">5</text>
<text transform="matrix(1.0312 0 0 1 1821.67 82.76)" font-size="26.15" font-style="italic">d</text>
<text transform="matrix(1.0273 0 0 1 1837.47 86.83)" font-size="18.64">6</text>
<text transform="matrix(1.0206 0 0 1 2009.04 81.16)" font-size="26.10" font-style="italic">c</text>
<text transform="matrix(0.9554 0 0 1 2022.95 85.17)" font-size="18.49">1</text>
<text transform="matrix(1.0206 0 0 1 2195.14 81.16)" font-size="26.10" font-style="italic">c</text>
<text transform="matrix(0.9489 0 0 1 2208.94 85.17)" font-size="18.55">2</text>
<text transform="matrix(1.0206 0 0 1 2380.99 81.16)" font-size="26.10" font-style="italic">c</text>
<text transform="matrix(0.9583 0 0 1 2395.00 85.23)" font-size="18.64">3</text>
<text transform="matrix(1.0206 0 0 1 2566.84 81.16)" font-size="26.10" font-style="italic">c</text>
<text transform="matrix(0.9716 0 0 1 2580.73 85.36)" font-size="18.76">4</text>
<text transform="matrix(1.0206 0 0 1 2753.16 81.16)" font-size="26.10" font-style="italic">c</text>
<text transform="matrix(0.9452 0 0 1 2767.21 85.23)" font-size="18.58">5</text>
<text transform="matrix(1.0206 0 0 1 2938.94 81.16)" font-size="26.10" font-style="italic">c</text>
<text transform="matrix(1.0273 0 0 1 2952.60 85.23)" font-size="18.64">6</text>
<text transform="matrix(1.0492 0 0 1 292.81 173.20)" font-size="26.63">5.59</text>
<text transform="matrix(1.1400 0 0 1 348.70 163.60)" font-size="18.64">+0.11</text>
<text transform="matrix(1.1098 0 0 1 348.73 180.01)" font-size="18.64">−0.17</text>
<text transform="matrix(1.0512 0 0 1 478.42 173.20)" font-size="26.63">0.10</text>
<text transform="matrix(1.1126 0 0 1 534.62 163.60)" font-size="18.64">+0.00</text>
<text transform="matrix(1.1126 0 0 1 534.62 180.01)" font-size="18.64">−0.00</text>
<text transform="matrix(1.0472 0 0 1 664.46 173.20)" font-size="26.63">0.07</text>
<text transform="matrix(1.1126 0 0 1 720.65 163.60)" font-size="18.64">+0.00</text>
<text transform="matrix(1.1126 0 0 1 720.65 180.01)" font-size="18.64">−0.00</text>
<text transform="matrix(1.0391 0 0 1 851.08 173.20)" font-size="26.63">7.89</text>
<text transform="matrix(1.1098 0 0 1 906.48 163.60)" font-size="18.64">+0.07</text>
<text transform="matrix(1.1400 0 0 1 906.45 180.01)" font-size="18.64">−0.11</text>
<text transform="matrix(1.0373 0 0 1 1036.74 173.20)" font-size="26.63">7.32</text>
<text transform="matrix(1.1073 0 0 1 1092.80 163.60)" font-size="18.64">+0.03</text>
<text transform="matrix(1.1041 0 0 1 1092.80 180.01)" font-size="18.64">−0.02</text>
<text transform="matrix(1.0524 0 0 1 1222.58 173.20)" font-size="26.63">7.19</text>
<text transform="matrix(1.1120 0 0 1 1278.65 163.60)" font-size="18.64">+0.04</text>
<text transform="matrix(1.1120 0 0 1 1278.65 180.01)" font-size="18.64">−0.04</text>
<text transform="matrix(1.0423 0 0 1 1408.81 173.11)" font-size="26.51">7.42</text>
<text transform="matrix(1.1041 0 0 1 1464.87 163.60)" font-size="18.64">+0.02</text>
<text transform="matrix(1.1073 0 0 1 1464.87 180.01)" font-size="18.64">−0.03</text>
<text transform="matrix(1.0561 0 0 1 1595.01 173.20)" font-size="26.63">7.36</text>
<text transform="matrix(1.1041 0 0 1 1651.09 163.60)" font-size="18.64">+0.02</text>
<text transform="matrix(1.1041 0 0 1 1651.09 180.01)" font-size="18.64">−0.02</text>
<text transform="matrix(1.0438 0 0 1 1781.06 173.20)" font-size="26.63">7.35</text>
<text transform="matrix(1.1041 0 0 1 1837.12 163.60)" font-size="18.64">+0.02</text>
<text transform="matrix(1.1041 0 0 1 1837.12 180.01)" font-size="18.64">−0.02</text>
<text transform="matrix(1.0281 0 0 1 1967.48 173.20)" font-size="26.63">0.28</text>
<text transform="matrix(1.1073 0 0 1 2022.28 163.60)" font-size="18.64">+0.03</text>
<text transform="matrix(1.1073 0 0 1 2022.28 180.01)" font-size="18.64">−0.03</text>
<text transform="matrix(1.0558 0 0 1 2152.98 173.20)" font-size="26.63">0.98</text>
<text transform="matrix(1.1041 0 0 1 2209.19 163.60)" font-size="18.64">+0.02</text>
<text transform="matrix(1.1041 0 0 1 2209.19 180.01)" font-size="18.64">−0.02</text>
<text transform="matrix(1.0121 0 0 1 2340.06 173.20)" font-size="26.63">0.74</text>
<text transform="matrix(1.1041 0 0 1 2394.28 163.60)" font-size="18.64">+0.02</text>
<text transform="matrix(1.1041 0 0 1 2394.28 180.01)" font-size="18.64">−0.02</text>
<text transform="matrix(1.0549 0 0 1 2524.99 173.20)" font-size="26.63">0.39</text>
<text transform="matrix(1.1071 0 0 1 2581.19 163.60)" font-size="18.64">+0.01</text>
<text transform="matrix(1.1071 0 0 1 2581.19 180.01)" font-size="18.64">−0.01</text>
<text transform="matrix(1.0377 0 0 1 2711.35 173.20)" font-size="26.63">0.84</text>
<text transform="matrix(1.1071 0 0 1 2766.88 163.60)" font-size="18.64">+0.01</text>
<text transform="matrix(1.1071 0 0 1 2766.88 180.01)" font-size="18.64">−0.01</text>
<text transform="matrix(1.0499 0 0 1 2897.06 173.20)" font-size="26.63">0.33</text>
<text transform="matrix(1.1071 0 0 1 2953.26 163.60)" font-size="18.64">+0.01</text>
<text transform="matrix(1.1071 0 0 1 2953.26 180.01)" font-size="18.64">−0.01</text>
<text transform="matrix(1.0799 0 0 1 833.74 264.46)" font-size="26.15">-0.1 km s</text>
<text transform="matrix(1.1611 0 0 1 951.20 254.79)" font-size="18.49">−1</text>
<text transform="matrix(1.0616 0 0 1 1025.72 264.46)" font-size="26.15">1.7 km s</text>
<text transform="matrix(1.1611 0 0 1 1131.78 254.79)" font-size="18.49">−1</text>
<text transform="matrix(1.0788 0 0 1 1211.00 264.46)" font-size="26.15">3.5 km s</text>
<text transform="matrix(1.1611 0 0 1 1318.75 254.79)" font-size="18.49">−1</text>
<text transform="matrix(1.0785 0 0 1 1397.06 264.46)" font-size="26.15">5.5 km s</text>
<text transform="matrix(1.1611 0 0 1 1504.79 254.79)" font-size="18.49">−1</text>
<text transform="matrix(1.0802 0 0 1 1582.93 264.46)" font-size="26.15">7.3 km s</text>
<text transform="matrix(1.1611 0 0 1 1690.82 254.79)" font-size="18.49">−1</text>
<text transform="matrix(1.0742 0 0 1 1769.21 264.46)" font-size="26.15">8.8 km s</text>
<text transform="matrix(1.1611 0 0 1 1876.51 254.79)" font-size="18.49">−1</text>
</svg></body></html>
